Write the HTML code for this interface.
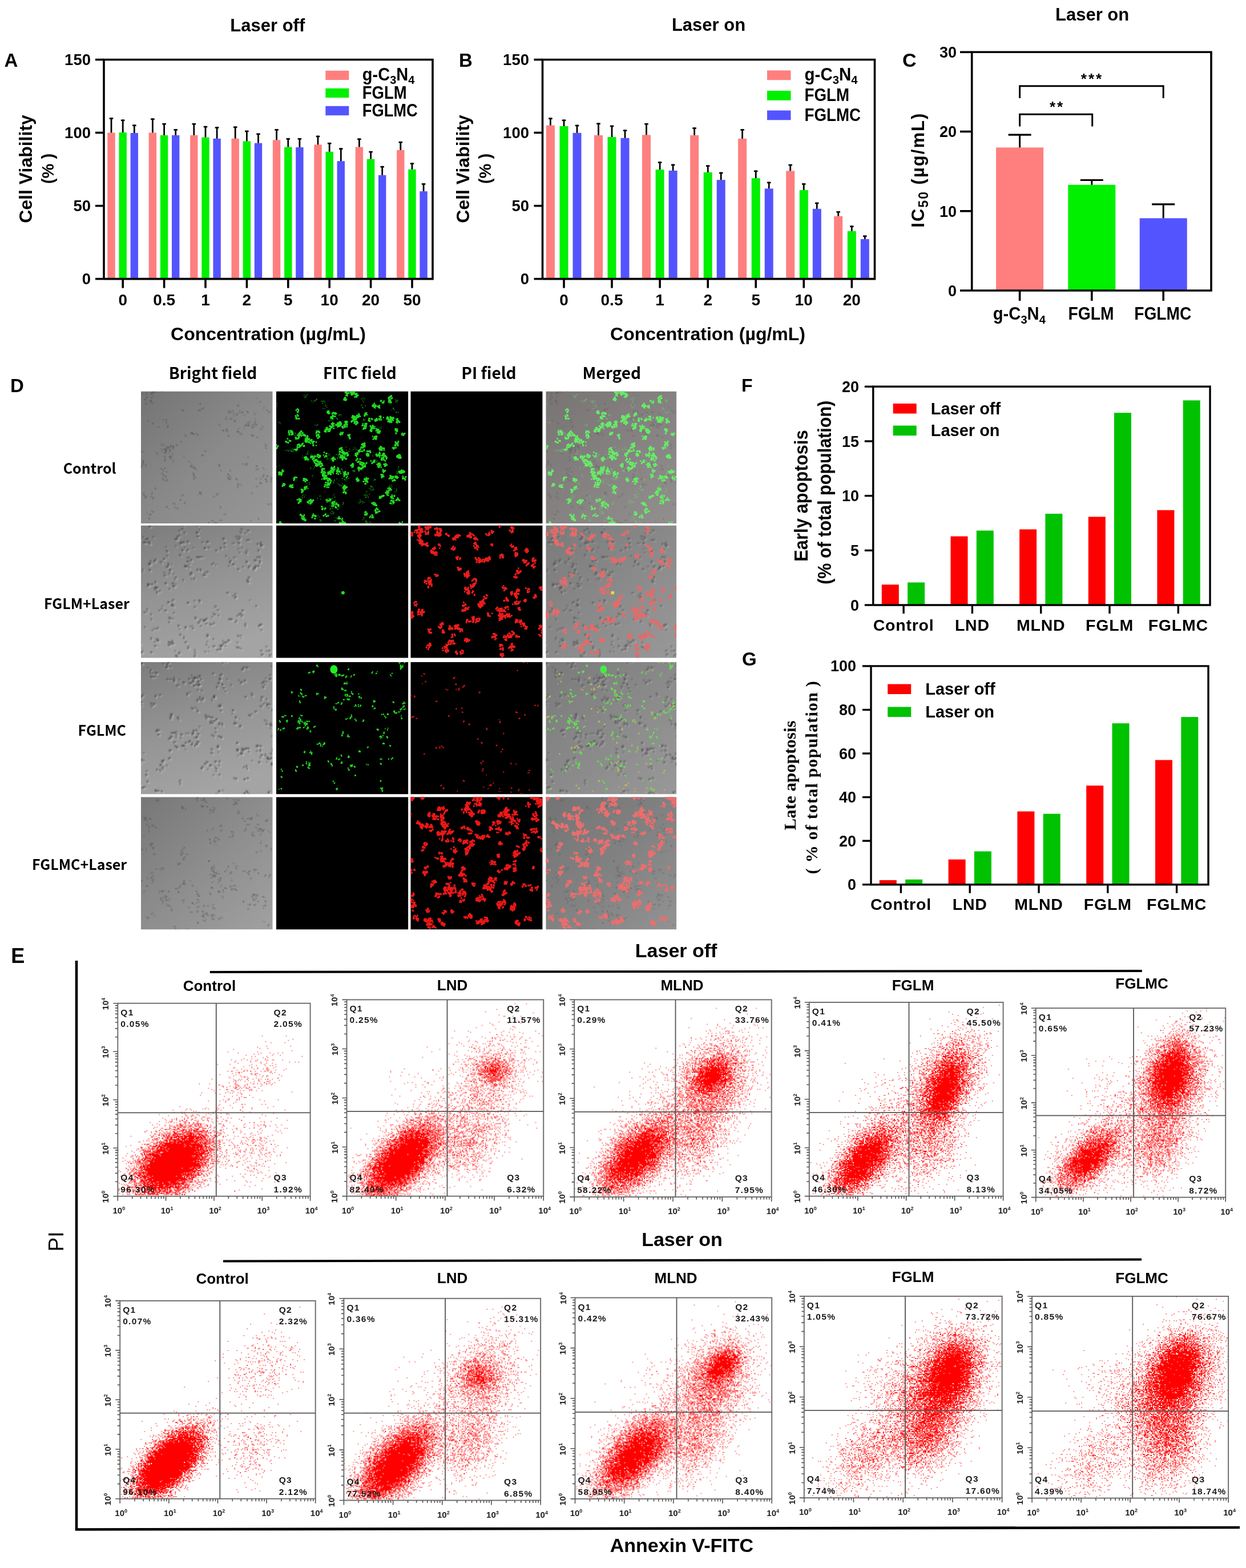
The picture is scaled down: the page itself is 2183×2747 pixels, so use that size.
<!DOCTYPE html><html><head><meta charset="utf-8"><title>Figure</title><style>html,body{margin:0;padding:0;background:#fff}svg{display:block}</style></head><body><svg width="2183" height="2747" viewBox="0 0 2183 2747" font-family="Liberation Sans, Arial, sans-serif" font-weight="bold"><defs><filter id="db" x="-2%" y="-2%" width="104%" height="104%"><feGaussianBlur stdDeviation=".22"/></filter><filter id="b6" x="-5%" y="-5%" width="110%" height="110%"><feGaussianBlur stdDeviation=".6"/></filter><filter id="b10" x="-5%" y="-5%" width="110%" height="110%"><feGaussianBlur stdDeviation="1"/></filter><linearGradient id="bf1" x1="0" y1="0" x2="1" y2="1"><stop offset="0" stop-color="#747474"/><stop offset=".5" stop-color="#8a8a8a"/><stop offset="1" stop-color="#989898"/></linearGradient><linearGradient id="bf2" x1="0" y1="0" x2=".35" y2="1"><stop offset="0" stop-color="#7c7c7c"/><stop offset=".5" stop-color="#939393"/><stop offset="1" stop-color="#a4a4a4"/></linearGradient><linearGradient id="bf4" x1="0" y1="0" x2="1" y2="1"><stop offset="0" stop-color="#777777"/><stop offset=".5" stop-color="#8e8e8e"/><stop offset="1" stop-color="#a2a2a2"/></linearGradient><linearGradient id="mg1" x1="0" y1="0" x2="1" y2="1"><stop offset="0" stop-color="#787474"/><stop offset=".5" stop-color="#868282"/><stop offset="1" stop-color="#949090"/></linearGradient><linearGradient id="mg2" x1="0" y1="0" x2="1" y2="1"><stop offset="0" stop-color="#7a7a7a"/><stop offset=".5" stop-color="#8a8a8a"/><stop offset="1" stop-color="#9a9a9a"/></linearGradient><linearGradient id="mg3" x1="0" y1="0" x2="1" y2="1"><stop offset="0" stop-color="#747474"/><stop offset=".5" stop-color="#828282"/><stop offset="1" stop-color="#949494"/></linearGradient><g id="c1" stroke-linecap="round" fill="none"><path d="M182 62h0M169 70h0M37 50h0M22 0h0M-6 101h0M203 12h0M11 11h0M18 15h0M57 97h0M202 233h0M223 37h0M8 129h0M9 132h0M42 203h0M137 131h0M19 181h0M56 97h0M30 108h0M29 110h0M153 153h0M154 146h0M210 66h0M106 31h0M101 23h0M187 117h0M149 48h0M137 226h0M220 158h0M228 155h0M11 214h0M14 224h0M93 153h0M182 41h0M161 38h0M155 37h0M155 35h0M45 157h0M44 135h0M20 23h0M149 69h0M144 68h0M152 68h0M128 234h0M132 232h0M60 204h0" stroke-width="2"/><path d="M74 33h0M74 34h0M72 33h0M70 191h0M70 190h0M69 191h0M72 184h0M71 183h0M72 182h0M77 194h0M77 197h0M172 71h0M173 75h0M182 60h0M173 75h0M171 65h0M173 65h0M169 68h0M168 70h0M114 105h0M48 61h0M46 63h0M45 53h0M45 49h0M220 96h0M133 180h0M44 105h0M45 104h0M42 109h0M42 109h0M49 107h0M51 105h0M54 116h0M54 114h0M52 114h0M28 -1h0M21 2h0M37 -2h0M37 -2h0M37 -0h0M22 2h0M21 4h0M28 -3h0M89 73h0M98 74h0M99 76h0M91 74h0M90 72h0M78 79h0M2 106h0M1 105h0M-6 107h0M-6 108h0M-9 114h0M105 177h0M104 178h0M103 176h0M104 179h0M103 180h0M100 182h0M103 177h0M103 179h0M223 199h0M229 200h0M209 18h0M202 12h0M124 234h0M124 234h0M126 233h0M126 241h0M125 239h0M131 230h0M130 233h0M10 11h0M9 10h0M6 14h0M18 16h0M18 16h0M3 4h0M56 100h0M71 87h0M45 101h0M43 104h0M44 103h0M52 103h0M52 94h0M53 95h0M53 95h0M55 108h0M55 112h0M55 109h0M204 234h0M202 236h0M206 224h0M193 226h0M192 227h0M221 34h0M215 29h0M215 30h0M216 28h0M229 34h0M226 38h0M222 149h0M222 150h0M220 149h0M208 161h0M184 58h0M180 65h0M181 66h0M187 55h0M186 55h0M188 61h0M185 60h0M186 59h0M197 64h0M8 130h0M49 206h0M49 206h0M46 203h0M45 201h0M137 132h0M138 130h0M136 129h0M20 177h0M20 179h0M26 171h0M19 185h0M195 59h0M201 59h0M203 59h0M199 56h0M41 92h0M41 96h0M56 95h0M56 97h0M156 153h0M153 151h0M153 145h0M156 140h0M157 151h0M158 150h0M211 66h0M188 58h0M190 60h0M104 21h0M108 31h0M100 34h0M102 33h0M104 34h0M88 133h0M88 131h0M89 128h0M89 130h0M88 127h0M90 132h0M92 134h0M200 50h0M200 47h0M9 3h0M10 4h0M18 17h0M17 17h0M139 206h0M139 203h0M139 203h0M185 127h0M186 128h0M186 128h0M179 128h0M204 132h0M202 130h0M204 80h0M196 77h0M194 78h0M8 184h0M8 183h0M5 180h0M6 179h0M23 186h0M22 186h0M5 182h0M7 187h0M155 48h0M161 48h0M148 48h0M150 45h0M164 39h0M166 50h0M165 52h0M129 231h0M132 231h0M141 226h0M21 56h0M20 57h0M177 37h0M172 23h0M83 123h0M78 116h0M215 146h0M216 146h0M205 136h0M213 148h0M214 150h0M215 148h0M1 120h0M4 123h0M-2 127h0M-1 127h0M-2 126h0M1 133h0M3 131h0M1 131h0M4 125h0M5 126h0M228 156h0M230 151h0M219 154h0M219 155h0M228 156h0M20 212h0M14 216h0M15 215h0M11 212h0M14 223h0M14 222h0M20 211h0M92 147h0M94 148h0M94 146h0M92 145h0M92 144h0M94 149h0M95 136h0M95 152h0M40 115h0M52 118h0M178 36h0M179 38h0M180 42h0M187 38h0M187 36h0M171 162h0M169 166h0M175 163h0M176 165h0M160 36h0M155 36h0M158 38h0M154 33h0M157 35h0M169 40h0M167 41h0M42 158h0M40 156h0M41 157h0M47 157h0M39 156h0M39 154h0M38 153h0M47 157h0M44 156h0M47 156h0M42 103h0M38 93h0M44 103h0M44 101h0M42 102h0M40 102h0M48 96h0M50 98h0M52 97h0M49 98h0M205 167h0M210 161h0M212 162h0M195 178h0M203 153h0M202 154h0M201 153h0M45 141h0M37 136h0M36 135h0M42 134h0M40 147h0M42 149h0M38 137h0M17 4h0M19 3h0M21 20h0M21 20h0M21 9h0M19 11h0M150 66h0M150 67h0M153 77h0M155 78h0M144 69h0M142 69h0M127 232h0M123 250h0M119 230h0M117 233h0M118 232h0M57 196h0M59 196h0M64 204h0M65 203h0M65 205h0M57 196h0M60 204h0M58 202h0" stroke-width="2.5"/><path d="M72 32h0M72 32h0M69 190h0M76 196h0M170 72h0M171 71h0M175 75h0M175 73h0M177 76h0M176 75h0M107 113h0M107 112h0M112 105h0M112 104h0M44 56h0M45 54h0M47 60h0M44 50h0M32 62h0M29 63h0M40 50h0M219 100h0M218 99h0M218 96h0M220 100h0M220 94h0M218 92h0M129 185h0M127 184h0M132 180h0M45 102h0M40 107h0M43 108h0M42 108h0M43 106h0M52 115h0M26 -1h0M27 2h0M22 -1h0M21 -1h0M22 -1h0M38 -1h0M23 2h0M26 -4h0M89 74h0M89 73h0M100 77h0M97 74h0M87 74h0M89 73h0M78 78h0M77 76h0M79 78h0M92 75h0M-12 116h0M-3 112h0M-2 107h0M-2 107h0M-4 108h0M106 178h0M106 181h0M104 179h0M223 197h0M225 198h0M228 197h0M209 19h0M125 233h0M125 240h0M131 234h0M8 14h0M11 22h0M10 21h0M2 5h0M57 101h0M57 98h0M45 102h0M62 95h0M62 94h0M52 104h0M51 104h0M53 96h0M51 101h0M49 101h0M203 233h0M200 235h0M203 234h0M204 236h0M221 33h0M226 36h0M224 36h0M210 152h0M210 154h0M209 161h0M186 60h0M183 60h0M189 55h0M188 56h0M189 58h0M195 64h0M-1 128h0M-1 129h0M9 129h0M-5 135h0M-7 138h0M46 203h0M141 138h0M140 139h0M138 130h0M138 128h0M19 179h0M25 171h0M25 169h0M17 184h0M196 58h0M200 56h0M200 53h0M201 54h0M36 103h0M36 101h0M29 110h0M27 107h0M155 154h0M157 154h0M168 153h0M167 152h0M167 154h0M153 145h0M157 138h0M155 147h0M155 149h0M198 59h0M199 59h0M198 62h0M210 67h0M212 61h0M214 63h0M214 63h0M190 53h0M192 54h0M108 30h0M110 29h0M102 33h0M103 32h0M104 32h0M95 134h0M93 133h0M87 131h0M93 133h0M93 132h0M200 41h0M11 4h0M18 19h0M16 17h0M185 130h0M179 127h0M188 116h0M188 115h0M198 78h0M195 76h0M4 179h0M21 189h0M8 186h0M158 49h0M150 49h0M163 43h0M165 52h0M130 232h0M139 226h0M141 226h0M21 56h0M22 57h0M12 52h0M13 51h0M173 34h0M173 37h0M171 26h0M75 114h0M214 134h0M216 137h0M214 135h0M1 127h0M1 130h0M-7 132h0M-7 132h0M4 122h0M-1 128h0M4 125h0M221 159h0M220 158h0M228 154h0M229 153h0M220 158h0M219 154h0M228 155h0M17 216h0M15 223h0M19 209h0M93 154h0M93 144h0M91 143h0M92 152h0M92 148h0M97 137h0M93 148h0M96 151h0M92 148h0M52 117h0M52 114h0M46 99h0M42 122h0M42 119h0M42 115h0M42 114h0M43 115h0M50 116h0M51 117h0M57 121h0M56 124h0M177 37h0M186 35h0M188 37h0M172 164h0M170 164h0M170 162h0M161 34h0M156 36h0M155 37h0M155 37h0M153 37h0M169 40h0M168 42h0M45 149h0M44 151h0M39 153h0M46 155h0M44 105h0M35 93h0M38 95h0M43 101h0M41 101h0M47 98h0M50 98h0M52 97h0M203 166h0M202 167h0M194 179h0M45 141h0M35 136h0M42 135h0M41 148h0M39 146h0M38 146h0M37 144h0M37 143h0M39 139h0M40 138h0M18 4h0M19 20h0M19 11h0M137 60h0M153 79h0M151 71h0M126 249h0M119 231h0M133 231h0M130 230h0M124 227h0M125 226h0M125 227h0M127 227h0M126 227h0M125 226h0M60 198h0M63 206h0M56 197h0M56 197h0" stroke-width="3"/><path d="M75 34h0M74 182h0M170 71h0M108 112h0M109 112h0M47 63h0M134 182h0M136 179h0M44 106h0M20 4h0M19 2h0M21 2h0M26 -5h0M89 73h0M91 74h0M93 76h0M3 106h0M-6 100h0M-3 111h0M103 178h0M128 233h0M11 10h0M8 15h0M18 16h0M8 22h0M56 97h0M70 89h0M63 94h0M206 223h0M222 148h0M189 60h0M194 62h0M195 62h0M-5 139h0M202 58h0M57 97h0M155 154h0M168 155h0M152 150h0M153 153h0M104 22h0M89 132h0M93 135h0M199 38h0M9 6h0M140 202h0M146 216h0M148 215h0M186 126h0M183 128h0M203 131h0M195 78h0M204 81h0M21 187h0M6 183h0M9 185h0M158 47h0M164 53h0M169 25h0M85 123h0M205 137h0M202 137h0M215 149h0M4 128h0M4 122h0M0 133h0M220 157h0M228 159h0M228 151h0M218 154h0M22 211h0M17 216h0M50 114h0M46 99h0M42 121h0M169 168h0M170 168h0M43 103h0M46 97h0M210 160h0M19 5h0M150 67h0M138 58h0M145 69h0M151 69h0M127 233h0" stroke-width="3.5"/></g><g id="c2" stroke-linecap="round" fill="none"><path d="M46 44h0M157 62h0M202 141h0M137 217h0M138 211h0M178 157h0M100 171h0M114 30h0M132 143h0M9 29h0M175 197h0M172 214h0M165 120h0M132 43h0M26 199h0M67 9h0M36 63h0M111 167h0M119 221h0M204 33h0" stroke-width="2"/><path d="M61 103h0M61 91h0M56 106h0M58 106h0M59 95h0M117 193h0M118 194h0M117 191h0M73 43h0M72 42h0M70 53h0M68 51h0M68 52h0M45 44h0M44 38h0M154 57h0M156 64h0M154 71h0M157 63h0M149 54h0M150 53h0M191 131h0M104 55h0M104 55h0M103 57h0M102 56h0M102 56h0M107 55h0M108 55h0M98 55h0M100 56h0M116 204h0M146 23h0M146 32h0M94 92h0M93 95h0M-3 204h0M-2 203h0M162 67h0M171 76h0M134 218h0M129 211h0M129 211h0M69 31h0M61 36h0M142 211h0M140 210h0M140 213h0M140 212h0M140 216h0M81 29h0M81 29h0M77 38h0M77 38h0M226 227h0M227 226h0M217 234h0M225 229h0M130 156h0M135 158h0M136 158h0M178 149h0M179 149h0M148 211h0M153 201h0M154 202h0M144 202h0M11 148h0M11 146h0M9 152h0M99 77h0M99 77h0M104 77h0M36 146h0M38 141h0M101 171h0M102 168h0M103 169h0M96 161h0M116 28h0M111 40h0M113 39h0M129 143h0M131 141h0M136 148h0M134 148h0M53 208h0M56 206h0M15 1h0M16 1h0M19 103h0M25 99h0M27 108h0M26 108h0M26 100h0M25 100h0M25 98h0M12 106h0M172 31h0M163 31h0M161 31h0M171 20h0M174 11h0M169 24h0M168 22h0M171 19h0M171 25h0M172 25h0M87 177h0M90 176h0M92 180h0M97 12h0M99 12h0M101 19h0M98 13h0M189 9h0M178 8h0M179 8h0M-1 223h0M1 223h0M3 220h0M57 105h0M74 95h0M74 96h0M59 106h0M153 118h0M95 221h0M94 218h0M95 221h0M5 30h0M14 31h0M12 30h0M-2 24h0M16 32h0M9 30h0M9 30h0M66 176h0M78 180h0M79 178h0M68 181h0M99 0h0M99 0h0M100 0h0M103 7h0M159 164h0M155 165h0M155 164h0M167 167h0M28 201h0M29 200h0M29 202h0M30 201h0M24 204h0M220 220h0M210 220h0M212 219h0M211 219h0M211 227h0M224 220h0M207 175h0M211 174h0M13 104h0M12 102h0M13 103h0M174 21h0M173 22h0M211 36h0M186 98h0M189 99h0M188 99h0M187 96h0M190 91h0M50 205h0M52 205h0M48 209h0M50 210h0M49 204h0M127 154h0M125 160h0M24 211h0M19 222h0M83 215h0M170 214h0M171 215h0M171 214h0M201 72h0M191 71h0M41 88h0M51 82h0M49 85h0M63 24h0M62 24h0M64 19h0M67 17h0M68 18h0M16 66h0M15 66h0M16 79h0M16 78h0M14 68h0M25 111h0M28 118h0M43 101h0M166 124h0M165 127h0M167 125h0M166 120h0M89 85h0M89 86h0M88 83h0M89 83h0M89 94h0M140 39h0M18 199h0M29 199h0M82 57h0M84 56h0M81 63h0M84 63h0M88 61h0M62 229h0M68 222h0M68 224h0M58 236h0M57 236h0M60 220h0M127 66h0M57 85h0M50 77h0M112 87h0M74 6h0M74 6h0M68 9h0M206 71h0M200 74h0M199 74h0M197 77h0M199 77h0M197 76h0M76 198h0M78 205h0M75 195h0M75 197h0M69 191h0M36 66h0M34 64h0M26 59h0M3 77h0M3 80h0M186 63h0M56 164h0M50 161h0M50 170h0M49 169h0M20 184h0M30 180h0M30 179h0M23 181h0M-4 174h0M-4 172h0M128 171h0M128 172h0M127 172h0M124 174h0M123 173h0M79 72h0M81 71h0M77 72h0M77 70h0M84 74h0M84 75h0M83 73h0M82 72h0M190 25h0M189 26h0M185 26h0M187 25h0M109 167h0M110 167h0M114 172h0M112 167h0M111 167h0M110 165h0M12 24h0M4 20h0M15 29h0M92 39h0M81 44h0M84 135h0M103 131h0M102 131h0M94 143h0M95 142h0M103 134h0M54 138h0M47 135h0M49 134h0M55 132h0M58 142h0M56 141h0M56 140h0M53 69h0M41 58h0M48 70h0M48 71h0M48 67h0M208 55h0M199 62h0M206 45h0M209 62h0M204 55h0M119 213h0M209 34h0M211 30h0M211 30h0M204 33h0M204 32h0M210 34h0M18 155h0M18 156h0M18 164h0M18 165h0M173 47h0M165 56h0M163 56h0M171 41h0M177 39h0" stroke-width="2.5"/><path d="M61 91h0M58 107h0M55 101h0M127 199h0M116 194h0M116 193h0M73 44h0M186 44h0M185 49h0M184 47h0M46 46h0M46 53h0M157 61h0M156 65h0M202 141h0M100 55h0M115 209h0M145 24h0M144 23h0M147 31h0M-1 206h0M-2 208h0M160 68h0M163 69h0M170 77h0M134 218h0M127 212h0M69 32h0M71 29h0M143 209h0M140 211h0M139 217h0M75 29h0M75 31h0M74 29h0M83 28h0M129 156h0M176 159h0M177 158h0M176 157h0M175 154h0M174 154h0M172 156h0M178 149h0M150 204h0M149 205h0M154 201h0M145 206h0M147 205h0M6 152h0M105 79h0M99 78h0M105 78h0M44 149h0M42 149h0M32 149h0M105 165h0M105 176h0M95 162h0M96 163h0M108 29h0M119 39h0M117 29h0M118 29h0M112 40h0M53 206h0M57 207h0M56 208h0M16 2h0M20 103h0M26 108h0M13 105h0M12 104h0M172 31h0M171 30h0M176 13h0M91 180h0M99 19h0M99 13h0M183 13h0M176 6h0M187 9h0M1 222h0M-2 216h0M50 111h0M57 102h0M151 118h0M162 123h0M95 224h0M94 229h0M95 228h0M7 30h0M5 29h0M-3 25h0M16 32h0M78 178h0M66 175h0M97 -3h0M158 164h0M159 165h0M155 164h0M166 169h0M169 158h0M31 202h0M30 201h0M220 212h0M213 225h0M213 226h0M225 219h0M208 175h0M207 176h0M211 183h0M210 174h0M210 173h0M175 193h0M171 194h0M170 193h0M169 205h0M15 103h0M173 22h0M167 19h0M211 36h0M212 35h0M209 32h0M188 99h0M187 95h0M187 95h0M189 91h0M50 209h0M55 204h0M55 202h0M49 205h0M26 211h0M18 222h0M83 215h0M83 212h0M168 213h0M175 216h0M200 74h0M201 71h0M189 72h0M205 71h0M189 74h0M43 87h0M41 83h0M52 77h0M62 24h0M64 21h0M64 20h0M60 24h0M71 31h0M17 66h0M15 78h0M14 68h0M16 68h0M29 110h0M29 109h0M28 110h0M33 114h0M33 115h0M24 109h0M25 112h0M28 117h0M28 115h0M43 101h0M44 102h0M165 126h0M88 83h0M86 86h0M140 40h0M132 44h0M18 197h0M82 63h0M88 61h0M87 59h0M85 67h0M64 230h0M61 228h0M62 228h0M66 224h0M58 235h0M125 68h0M131 69h0M51 79h0M112 83h0M117 82h0M116 81h0M112 87h0M109 87h0M183 172h0M183 173h0M183 176h0M72 6h0M74 -1h0M77 13h0M76 10h0M199 74h0M79 204h0M69 192h0M69 192h0M25 62h0M24 61h0M23 63h0M17 62h0M185 65h0M185 63h0M179 72h0M50 163h0M50 162h0M53 163h0M58 153h0M27 181h0M7 178h0M121 173h0M79 72h0M78 72h0M78 71h0M115 171h0M115 164h0M113 165h0M115 163h0M111 167h0M11 25h0M11 23h0M15 28h0M14 27h0M22 20h0M8 24h0M82 42h0M94 132h0M82 136h0M82 135h0M103 132h0M54 139h0M56 139h0M48 135h0M57 130h0M56 140h0M54 140h0M56 140h0M147 38h0M147 31h0M40 59h0M48 68h0M47 72h0M45 73h0M209 57h0M202 62h0M200 60h0M206 43h0M208 63h0M208 65h0M205 56h0M113 221h0M209 31h0M213 34h0M212 34h0" stroke-width="3"/></g><g id="c3" stroke-linecap="round" fill="none"><path d="M130 183h0M226 75h0M-10 76h0M2 71h0M213 62h0M183 33h0M230 167h0M140 85h0M27 57h0M172 100h0M135 146h0M18 78h0M20 77h0M81 54h0M32 119h0M10 198h0M92 122h0M16 18h0M179 10h0M177 14h0M2 1h0M137 176h0M138 174h0M195 59h0M163 204h0M211 147h0M212 38h0M218 40h0M46 7h0M48 30h0M142 2h0M148 -1h0M105 186h0M130 116h0M130 116h0M178 153h0M49 169h0M98 130h0M101 126h0M231 178h0" stroke-width="2"/><path d="M89 35h0M84 29h0M90 27h0M88 37h0M87 38h0M96 80h0M92 82h0M99 83h0M89 80h0M99 86h0M5 173h0M5 159h0M-1 177h0M138 197h0M137 197h0M138 198h0M127 198h0M136 227h0M144 225h0M132 231h0M122 180h0M124 181h0M201 87h0M202 86h0M200 87h0M209 77h0M211 79h0M211 77h0M231 84h0M169 142h0M209 156h0M212 163h0M210 156h0M210 156h0M-2 73h0M-0 70h0M74 146h0M74 147h0M210 68h0M211 66h0M216 72h0M214 74h0M213 61h0M221 76h0M95 146h0M89 145h0M89 143h0M90 141h0M99 144h0M139 31h0M139 30h0M126 20h0M138 30h0M133 45h0M186 227h0M181 230h0M182 229h0M191 234h0M191 233h0M189 235h0M102 41h0M101 40h0M101 33h0M105 29h0M79 153h0M78 141h0M78 141h0M76 147h0M73 146h0M77 150h0M73 146h0M182 33h0M175 35h0M194 91h0M189 93h0M223 170h0M225 171h0M221 169h0M139 77h0M140 77h0M140 78h0M139 78h0M138 78h0M122 106h0M123 103h0M124 98h0M26 60h0M34 57h0M33 58h0M125 154h0M125 153h0M123 152h0M86 138h0M219 28h0M226 30h0M168 108h0M165 108h0M175 113h0M165 106h0M164 106h0M163 108h0M99 27h0M103 25h0M100 35h0M100 34h0M135 149h0M134 149h0M136 158h0M69 207h0M69 214h0M69 212h0M63 149h0M63 150h0M51 156h0M223 229h0M223 228h0M225 227h0M220 242h0M221 240h0M221 241h0M109 63h0M109 65h0M104 62h0M103 62h0M103 61h0M39 173h0M46 181h0M58 32h0M58 27h0M59 34h0M59 34h0M182 206h0M181 205h0M188 204h0M52 8h0M50 7h0M46 9h0M44 9h0M141 132h0M20 76h0M21 74h0M59 124h0M53 130h0M58 125h0M58 124h0M62 127h0M55 124h0M81 57h0M82 56h0M86 53h0M146 46h0M151 30h0M30 127h0M31 127h0M31 120h0M31 119h0M27 121h0M27 121h0M188 151h0M188 151h0M181 155h0M184 152h0M9 197h0M222 169h0M228 169h0M221 175h0M212 163h0M93 121h0M92 127h0M90 125h0M98 121h0M17 15h0M28 19h0M26 20h0M12 10h0M17 20h0M180 9h0M180 11h0M184 10h0M185 9h0M2 3h0M2 1h0M-4 2h0M160 91h0M162 85h0M166 97h0M125 106h0M125 107h0M132 100h0M133 100h0M127 103h0M130 104h0M141 21h0M132 174h0M128 131h0M33 189h0M39 188h0M37 186h0M28 188h0M194 57h0M196 58h0M184 61h0M94 26h0M94 28h0M93 27h0M89 23h0M96 29h0M101 35h0M100 35h0M227 160h0M232 155h0M163 203h0M166 205h0M202 147h0M203 148h0M205 148h0M215 44h0M214 43h0M65 96h0M67 101h0M67 101h0M207 175h0M46 5h0M48 1h0M68 31h0M64 40h0M63 42h0M66 41h0M52 30h0M51 31h0M51 31h0M235 9h0M229 7h0M150 -1h0M137 -3h0M49 135h0M60 140h0M108 183h0M117 175h0M117 176h0M117 188h0M185 183h0M195 173h0M180 185h0M181 184h0M181 184h0M186 186h0M186 186h0M143 40h0M135 37h0M136 37h0M129 60h0M124 65h0M125 68h0M128 59h0M129 60h0M127 61h0M129 63h0M228 107h0M227 116h0M227 116h0M227 116h0M220 109h0M228 112h0M230 111h0M4 57h0M-3 63h0M-1 64h0M2 60h0M103 65h0M99 66h0M218 164h0M137 110h0M137 107h0M142 109h0M70 133h0M79 125h0M72 127h0M71 127h0M177 151h0M180 155h0M181 152h0M180 154h0M176 161h0M170 153h0M169 153h0M168 155h0M54 93h0M52 99h0M52 92h0M4 219h0M-1 230h0M2 221h0M11 210h0M170 164h0M175 161h0M18 25h0M20 26h0M24 26h0M23 26h0M22 26h0M37 176h0M34 181h0M229 130h0M232 129h0M100 39h0M92 34h0M92 35h0M101 39h0M103 39h0M92 41h0M93 41h0M31 225h0M29 226h0M31 226h0M26 226h0M26 224h0M36 226h0M114 97h0M114 93h0M114 93h0M118 95h0M118 96h0M100 139h0M98 132h0M101 127h0M94 132h0M230 178h0M230 181h0M229 179h0M234 185h0M234 185h0" stroke-width="2.5"/><path d="M91 33h0M85 30h0M92 30h0M85 37h0M90 82h0M100 86h0M2 172h0M1 171h0M2 171h0M-1 174h0M132 191h0M131 186h0M133 187h0M138 226h0M137 226h0M137 227h0M138 227h0M121 182h0M121 181h0M224 80h0M221 73h0M230 84h0M225 74h0M222 74h0M168 142h0M169 141h0M209 154h0M203 156h0M1 75h0M-9 77h0M-10 76h0M0 70h0M75 147h0M72 147h0M220 65h0M211 62h0M222 75h0M221 76h0M94 147h0M90 144h0M89 144h0M97 144h0M98 143h0M138 31h0M127 20h0M139 30h0M138 28h0M133 43h0M187 229h0M189 230h0M186 227h0M185 226h0M182 230h0M103 39h0M99 49h0M79 142h0M182 32h0M172 32h0M175 37h0M177 35h0M192 95h0M190 93h0M223 170h0M221 168h0M232 173h0M139 75h0M136 77h0M138 77h0M140 85h0M122 107h0M122 105h0M122 97h0M121 96h0M126 97h0M25 60h0M125 160h0M123 159h0M84 139h0M86 139h0M84 140h0M85 139h0M220 35h0M227 29h0M225 30h0M226 23h0M165 108h0M174 111h0M173 113h0M99 28h0M103 25h0M102 24h0M106 30h0M104 26h0M134 149h0M136 149h0M135 147h0M220 104h0M217 102h0M68 209h0M64 150h0M62 148h0M60 147h0M62 148h0M52 154h0M50 155h0M224 229h0M108 64h0M106 67h0M106 66h0M107 67h0M40 172h0M56 31h0M59 30h0M58 34h0M182 205h0M187 203h0M139 131h0M136 130h0M141 133h0M140 131h0M18 73h0M18 72h0M24 74h0M23 73h0M59 124h0M52 131h0M59 124h0M62 127h0M54 124h0M81 57h0M158 40h0M145 45h0M148 51h0M31 127h0M29 121h0M27 121h0M28 119h0M189 152h0M184 152h0M184 151h0M185 152h0M9 198h0M10 191h0M-8 198h0M-8 198h0M-7 198h0M222 166h0M223 168h0M228 168h0M226 170h0M221 167h0M92 120h0M90 126h0M97 119h0M92 124h0M17 13h0M17 14h0M27 19h0M21 19h0M187 10h0M178 13h0M177 13h0M1 3h0M161 85h0M161 84h0M167 98h0M166 96h0M126 108h0M132 100h0M128 103h0M138 108h0M138 108h0M138 108h0M139 23h0M141 23h0M141 23h0M130 174h0M130 175h0M138 174h0M137 181h0M131 123h0M127 129h0M124 128h0M34 191h0M38 184h0M39 184h0M28 189h0M194 55h0M183 61h0M95 27h0M94 29h0M101 34h0M235 154h0M232 152h0M234 155h0M229 161h0M231 156h0M231 156h0M231 153h0M234 155h0M232 155h0M167 204h0M167 205h0M204 146h0M210 148h0M209 147h0M204 147h0M205 146h0M215 35h0M216 34h0M213 36h0M216 39h0M214 44h0M66 99h0M64 98h0M208 176h0M207 176h0M209 167h0M45 9h0M46 4h0M48 0h0M49 1h0M39 3h0M74 35h0M75 37h0M76 36h0M46 30h0M233 8h0M235 8h0M235 14h0M234 14h0M144 0h0M150 -3h0M137 -3h0M138 -4h0M51 134h0M54 132h0M50 134h0M58 141h0M113 179h0M112 178h0M113 178h0M106 187h0M107 186h0M108 184h0M115 175h0M185 182h0M186 187h0M143 40h0M142 39h0M137 37h0M129 59h0M129 61h0M128 62h0M227 110h0M226 110h0M226 109h0M229 110h0M221 108h0M-4 52h0M-5 53h0M-3 63h0M2 60h0M1 60h0M99 66h0M99 68h0M212 163h0M211 163h0M218 162h0M131 116h0M142 108h0M143 111h0M83 125h0M62 131h0M71 127h0M62 123h0M179 153h0M170 156h0M177 159h0M170 154h0M169 154h0M169 153h0M54 95h0M53 95h0M51 97h0M52 99h0M53 92h0M54 91h0M4 220h0M7 219h0M-1 213h0M12 209h0M178 161h0M177 156h0M177 154h0M189 157h0M175 160h0M174 160h0M18 26h0M37 173h0M51 168h0M49 169h0M38 175h0M34 180h0M35 181h0M234 138h0M233 139h0M100 41h0M97 39h0M92 33h0M103 40h0M107 50h0M94 42h0M25 225h0M27 226h0M37 227h0M103 113h0M115 99h0M113 94h0M116 96h0M97 133h0M101 140h0M99 140h0M98 131h0M100 125h0M231 177h0M229 179h0M230 179h0M229 178h0M234 186h0" stroke-width="3"/></g><g id="c4" stroke-linecap="round" fill="none"><path d="M160 60h0M210 95h0M160 156h0M159 164h0M15 61h0M212 57h0M190 130h0M51 190h0M205 48h0M124 189h0M117 17h0M109 16h0M48 176h0M6 38h0M6 38h0M19 205h0M158 143h0M226 135h0M-4 59h0M67 235h0M65 166h0M66 165h0M108 199h0M122 159h0M228 90h0M152 3h0M167 9h0" stroke-width="2"/><path d="M132 85h0M128 83h0M122 81h0M161 68h0M159 61h0M211 77h0M209 80h0M210 80h0M219 87h0M218 85h0M75 109h0M72 97h0M73 99h0M70 97h0M78 105h0M82 101h0M210 94h0M210 95h0M202 97h0M204 96h0M36 176h0M37 176h0M36 177h0M36 165h0M38 183h0M44 181h0M165 155h0M165 155h0M157 158h0M156 158h0M157 155h0M165 161h0M159 161h0M166 12h0M165 5h0M171 6h0M170 5h0M14 54h0M20 51h0M21 49h0M15 61h0M14 61h0M27 53h0M25 52h0M219 42h0M220 43h0M220 43h0M220 43h0M221 40h0M222 39h0M100 173h0M99 180h0M101 180h0M99 180h0M98 165h0M102 173h0M133 135h0M136 134h0M133 134h0M136 149h0M135 152h0M141 155h0M140 157h0M141 154h0M213 57h0M214 59h0M202 52h0M124 142h0M129 140h0M125 129h0M130 78h0M131 78h0M130 70h0M132 72h0M132 71h0M128 75h0M137 75h0M71 16h0M189 130h0M183 131h0M182 129h0M180 130h0M187 134h0M189 133h0M190 135h0M197 178h0M197 177h0M198 189h0M200 190h0M195 175h0M198 172h0M198 170h0M44 191h0M38 185h0M38 187h0M39 184h0M47 191h0M47 191h0M48 191h0M53 198h0M55 199h0M22 88h0M18 86h0M21 88h0M16 83h0M20 82h0M22 99h0M233 215h0M217 219h0M214 218h0M225 224h0M236 206h0M203 30h0M31 7h0M29 6h0M26 6h0M28 8h0M65 119h0M65 116h0M65 118h0M136 166h0M137 167h0M136 165h0M122 169h0M136 165h0M137 165h0M78 152h0M76 147h0M75 150h0M75 152h0M128 194h0M118 190h0M118 192h0M116 191h0M116 17h0M127 27h0M127 26h0M105 6h0M107 17h0M123 20h0M45 175h0M40 177h0M43 177h0M150 128h0M148 131h0M139 142h0M139 143h0M153 121h0M153 122h0M8 37h0M9 48h0M17 38h0M5 38h0M186 49h0M191 37h0M187 38h0M182 60h0M183 58h0M194 39h0M191 48h0M117 58h0M126 57h0M99 220h0M116 207h0M173 26h0M170 24h0M172 28h0M179 34h0M177 37h0M169 28h0M139 58h0M140 59h0M139 50h0M142 50h0M140 60h0M100 169h0M102 191h0M90 185h0M111 189h0M109 191h0M20 202h0M11 211h0M13 211h0M24 209h0M25 209h0M111 209h0M111 212h0M111 212h0M114 215h0M113 218h0M109 206h0M109 204h0M112 217h0M144 164h0M144 174h0M142 175h0M144 177h0M147 159h0M160 146h0M158 147h0M219 137h0M227 136h0M224 141h0M198 62h0M121 23h0M129 22h0M120 29h0M-2 56h0M-20 48h0M5 67h0M5 68h0M-12 57h0M-12 55h0M191 190h0M190 197h0M180 185h0M70 234h0M60 231h0M66 234h0M68 237h0M67 235h0M58 227h0M128 119h0M128 119h0M126 124h0M119 113h0M11 157h0M12 156h0M10 155h0M-1 146h0M67 157h0M67 159h0M69 156h0M68 156h0M70 155h0M61 160h0M63 161h0M66 167h0M2 92h0M9 94h0M-5 87h0M-5 84h0M-4 89h0M182 42h0M184 57h0M192 39h0M195 37h0M138 215h0M137 212h0M118 208h0M120 207h0M124 213h0M102 -2h0M100 0h0M111 3h0M99 2h0M113 6h0M114 9h0M116 9h0M105 -9h0M104 -7h0M102 -8h0M126 208h0M125 207h0M124 207h0M116 205h0M108 201h0M124 208h0M128 209h0M129 209h0M127 206h0M127 207h0M129 206h0M130 196h0M219 190h0M216 190h0M218 190h0M218 184h0M206 183h0M206 183h0M206 183h0M219 188h0M219 189h0M215 195h0M214 195h0M128 121h0M125 122h0M128 129h0M126 124h0M20 132h0M19 133h0M22 134h0M38 124h0M202 172h0M205 171h0M202 173h0M200 174h0M126 160h0M125 159h0M168 126h0M169 121h0M167 121h0M83 193h0M72 181h0M75 181h0M74 185h0M87 202h0M90 202h0M208 55h0M210 57h0M207 60h0M130 139h0M127 139h0M129 138h0M124 150h0M129 139h0M134 130h0M76 89h0M71 102h0M69 101h0M69 100h0M203 127h0M193 142h0M197 128h0M199 131h0M229 90h0M241 86h0M86 146h0M87 147h0M165 11h0M166 10h0M166 9h0M17 142h0M17 134h0M18 132h0M23 145h0M22 146h0M20 150h0" stroke-width="2.5"/><path d="M120 74h0M121 81h0M122 79h0M161 68h0M161 70h0M159 61h0M155 70h0M210 81h0M220 86h0M75 110h0M73 98h0M79 100h0M202 98h0M202 98h0M32 168h0M32 165h0M35 180h0M37 166h0M37 165h0M36 164h0M37 179h0M38 182h0M46 180h0M157 157h0M162 156h0M167 163h0M158 162h0M160 161h0M166 13h0M163 14h0M166 5h0M162 5h0M171 5h0M172 6h0M13 51h0M15 53h0M22 50h0M19 50h0M13 58h0M26 54h0M218 42h0M220 41h0M222 42h0M102 174h0M101 173h0M99 180h0M101 174h0M136 145h0M137 146h0M137 135h0M223 59h0M226 62h0M214 59h0M201 53h0M201 53h0M123 141h0M129 133h0M131 134h0M128 133h0M130 138h0M130 78h0M131 78h0M130 72h0M73 17h0M79 20h0M78 22h0M74 19h0M72 19h0M190 130h0M191 130h0M179 130h0M189 136h0M198 180h0M202 178h0M214 175h0M217 176h0M201 188h0M198 189h0M195 173h0M195 176h0M195 174h0M196 170h0M46 188h0M44 180h0M43 180h0M46 181h0M49 189h0M54 196h0M54 199h0M22 90h0M18 84h0M20 82h0M18 82h0M23 101h0M23 100h0M25 100h0M232 213h0M233 215h0M223 226h0M236 206h0M235 207h0M204 33h0M206 32h0M204 48h0M207 48h0M27 5h0M69 117h0M66 118h0M69 116h0M77 152h0M77 153h0M75 147h0M75 148h0M76 147h0M75 152h0M73 153h0M74 152h0M72 153h0M127 189h0M125 193h0M116 17h0M126 25h0M127 25h0M106 15h0M106 4h0M109 6h0M107 17h0M124 23h0M45 174h0M43 173h0M44 176h0M51 178h0M147 130h0M140 142h0M8 40h0M9 36h0M9 41h0M11 41h0M11 48h0M17 38h0M7 37h0M5 34h0M186 48h0M191 39h0M188 38h0M182 58h0M194 39h0M189 49h0M116 59h0M127 54h0M124 57h0M100 221h0M114 204h0M179 38h0M170 29h0M140 52h0M139 50h0M142 58h0M102 184h0M100 170h0M101 193h0M94 188h0M91 187h0M111 192h0M18 205h0M22 205h0M13 213h0M109 208h0M110 209h0M99 199h0M98 201h0M107 208h0M109 216h0M110 217h0M110 217h0M145 167h0M149 160h0M137 166h0M139 166h0M217 139h0M217 137h0M219 137h0M225 139h0M225 140h0M205 133h0M199 68h0M197 68h0M195 62h0M196 66h0M195 67h0M196 68h0M121 23h0M128 22h0M127 18h0M122 27h0M-2 58h0M-20 49h0M188 189h0M191 188h0M188 195h0M188 195h0M187 196h0M180 183h0M70 235h0M69 234h0M83 232h0M80 232h0M81 232h0M60 226h0M59 228h0M60 228h0M129 124h0M120 112h0M119 113h0M10 156h0M5 166h0M6 165h0M-1 146h0M2 147h0M69 158h0M61 161h0M64 160h0M1 90h0M3 93h0M9 90h0M-5 85h0M-4 85h0M-4 91h0M-3 91h0M182 42h0M184 55h0M184 55h0M194 37h0M137 214h0M136 213h0M140 212h0M128 215h0M127 213h0M99 1h0M99 6h0M98 6h0M110 4h0M111 3h0M97 3h0M97 3h0M98 4h0M113 8h0M104 -9h0M116 203h0M114 203h0M112 205h0M108 200h0M109 201h0M128 195h0M127 195h0M217 191h0M219 183h0M205 183h0M214 191h0M127 126h0M128 131h0M123 125h0M124 126h0M124 126h0M49 166h0M39 165h0M40 164h0M26 126h0M27 126h0M36 128h0M33 127h0M36 127h0M34 125h0M39 126h0M39 126h0M203 174h0M198 172h0M125 159h0M166 125h0M159 132h0M158 133h0M157 133h0M162 116h0M163 117h0M167 122h0M157 132h0M158 131h0M85 194h0M87 201h0M209 56h0M208 58h0M207 58h0M209 57h0M207 57h0M210 64h0M209 67h0M204 55h0M204 59h0M128 139h0M127 137h0M126 138h0M126 149h0M129 140h0M131 133h0M73 93h0M76 89h0M74 90h0M74 90h0M201 127h0M192 143h0M193 143h0M193 143h0M198 127h0M90 154h0M165 9h0M168 12h0M151 3h0M151 2h0M169 10h0M166 10h0M20 145h0M18 141h0M20 142h0M12 143h0M11 142h0M20 146h0M21 149h0M21 139h0M21 138h0" stroke-width="3"/><path d="M121 75h0M161 66h0M162 62h0M157 70h0M221 85h0M75 108h0M75 109h0M76 106h0M34 178h0M165 155h0M162 162h0M164 161h0M167 163h0M162 13h0M97 165h0M139 147h0M216 57h0M212 60h0M213 60h0M124 136h0M121 136h0M132 133h0M131 138h0M125 129h0M128 77h0M128 78h0M136 75h0M135 72h0M72 19h0M73 18h0M72 18h0M73 21h0M187 132h0M197 181h0M200 180h0M214 175h0M197 171h0M51 192h0M21 90h0M17 84h0M19 81h0M223 224h0M30 5h0M67 117h0M136 166h0M121 169h0M122 171h0M75 151h0M110 16h0M110 6h0M107 16h0M41 174h0M49 181h0M139 144h0M153 123h0M8 38h0M8 39h0M8 38h0M15 38h0M100 220h0M115 206h0M172 26h0M98 185h0M98 170h0M98 193h0M90 186h0M11 211h0M109 209h0M100 201h0M108 209h0M144 163h0M148 160h0M149 160h0M226 137h0M206 134h0M195 66h0M129 19h0M-2 56h0M-19 50h0M-11 55h0M191 188h0M179 183h0M67 233h0M61 232h0M124 124h0M119 112h0M1 146h0M66 167h0M-4 91h0M193 36h0M142 211h0M126 214h0M101 -2h0M111 4h0M125 206h0M124 209h0M218 182h0M127 131h0M49 165h0M38 166h0M39 124h0M204 172h0M200 171h0M124 159h0M157 134h0M75 181h0M210 56h0M128 137h0M127 138h0M71 94h0M71 101h0M200 128h0M228 93h0M241 84h0M241 84h0M91 156h0" stroke-width="3.5"/></g><g id="c5" stroke-linecap="round" fill="none"><path d="M83 112h0M158 151h0M97 64h0M223 139h0M203 185h0M178 211h0M180 211h0M93 143h0M95 146h0M96 144h0M100 144h0M93 141h0M96 146h0M151 99h0M150 94h0M155 94h0M153 93h0M75 81h0M31 154h0M136 45h0M139 45h0M194 46h0M200 49h0M204 48h0M202 50h0M209 96h0M206 99h0M117 232h0M115 225h0M223 77h0M212 66h0M120 60h0M65 122h0M84 148h0M51 84h0M53 83h0M173 65h0M173 62h0M171 65h0M133 130h0M135 132h0M37 94h0M36 101h0M35 104h0M54 87h0M117 170h0M122 170h0M-1 100h0M113 72h0M23 87h0M23 86h0M126 110h0M122 108h0M87 215h0M86 216h0M81 206h0M85 207h0M176 48h0M176 50h0M214 189h0M205 197h0M202 197h0M121 57h0M121 58h0M119 60h0M182 71h0M89 167h0M94 153h0M125 149h0M120 113h0M195 181h0M194 174h0M199 171h0M188 18h0M184 16h0M189 17h0M198 20h0M156 132h0M156 129h0M178 131h0M38 37h0M38 48h0M35 45h0M65 114h0M7 142h0M199 152h0M186 150h0M57 196h0M63 192h0M62 192h0M169 25h0M54 120h0M53 118h0M119 231h0M153 65h0M157 65h0M146 43h0M146 43h0M75 128h0M39 82h0M37 77h0M122 7h0M125 8h0M132 52h0M138 51h0M137 53h0M132 54h0M11 138h0M145 156h0M188 46h0M85 140h0M95 67h0M103 198h0M152 99h0M89 194h0M88 191h0M98 201h0M98 195h0M226 153h0M53 88h0M52 87h0M64 89h0M148 128h0M103 136h0M80 154h0M87 151h0M120 147h0M113 144h0M107 142h0M101 140h0M109 58h0M109 60h0M175 199h0M174 200h0M174 196h0M47 91h0M52 79h0M172 80h0M175 83h0M169 79h0M25 164h0M24 166h0M27 166h0M213 48h0M142 124h0M48 225h0M42 217h0M44 217h0M49 216h0M215 117h0M22 69h0M22 70h0M28 71h0M187 100h0M188 120h0M187 117h0M184 119h0M194 117h0M193 119h0M162 112h0M135 5h0M134 0h0M181 184h0M146 134h0M149 137h0M70 95h0M66 88h0M47 73h0M49 78h0M50 76h0M49 78h0M47 76h0M123 118h0M123 118h0M91 39h0M90 35h0" stroke-width="2.5"/><path d="M88 113h0M84 107h0M85 115h0M88 114h0M157 162h0M157 156h0M158 153h0M156 154h0M101 65h0M98 63h0M220 138h0M218 142h0M225 141h0M220 143h0M223 142h0M221 141h0M222 142h0M202 187h0M203 182h0M207 184h0M177 212h0M93 144h0M91 144h0M94 144h0M94 143h0M151 105h0M148 101h0M154 104h0M149 105h0M148 101h0M154 102h0M150 93h0M75 79h0M76 79h0M71 79h0M179 28h0M180 26h0M181 29h0M181 25h0M179 26h0M178 26h0M181 28h0M173 29h0M172 26h0M36 151h0M32 154h0M31 156h0M31 153h0M31 152h0M136 44h0M14 164h0M12 163h0M14 165h0M141 46h0M140 47h0M159 41h0M205 51h0M202 50h0M202 46h0M203 49h0M204 47h0M197 49h0M195 45h0M205 46h0M204 47h0M200 48h0M206 47h0M196 53h0M197 50h0M198 52h0M204 99h0M207 99h0M206 100h0M208 95h0M206 101h0M210 99h0M114 230h0M115 231h0M116 227h0M111 230h0M110 220h0M109 223h0M110 221h0M116 223h0M223 77h0M220 76h0M210 73h0M210 74h0M119 59h0M120 63h0M116 62h0M113 56h0M112 56h0M113 54h0M112 54h0M72 122h0M69 126h0M71 122h0M73 123h0M66 122h0M67 125h0M71 122h0M66 122h0M46 176h0M47 173h0M47 175h0M45 176h0M45 172h0M44 172h0M50 172h0M50 169h0M51 170h0M84 154h0M89 153h0M87 153h0M84 143h0M84 146h0M81 146h0M80 142h0M83 141h0M83 141h0M79 142h0M53 86h0M53 86h0M169 63h0M170 65h0M135 128h0M134 128h0M133 133h0M135 130h0M41 97h0M37 97h0M37 102h0M37 99h0M35 102h0M57 84h0M55 78h0M52 83h0M58 83h0M55 82h0M117 169h0M121 169h0M120 165h0M121 166h0M119 167h0M124 168h0M115 99h0M111 102h0M111 101h0M0 94h0M2 98h0M217 143h0M219 143h0M219 143h0M218 140h0M113 76h0M115 73h0M115 74h0M116 75h0M117 72h0M116 74h0M20 83h0M65 215h0M65 218h0M104 38h0M100 38h0M98 39h0M100 37h0M104 40h0M96 47h0M100 44h0M100 44h0M96 46h0M99 42h0M98 47h0M124 108h0M124 109h0M125 111h0M121 108h0M120 110h0M118 106h0M117 107h0M202 8h0M201 13h0M201 8h0M80 206h0M82 205h0M81 207h0M86 205h0M163 52h0M167 48h0M173 50h0M173 51h0M174 52h0M174 50h0M144 104h0M146 106h0M146 103h0M139 109h0M141 114h0M143 110h0M139 112h0M176 113h0M175 111h0M181 115h0M180 112h0M182 112h0M176 110h0M178 113h0M213 187h0M213 188h0M210 191h0M206 194h0M204 192h0M201 192h0M206 192h0M202 191h0M204 194h0M48 153h0M49 153h0M53 154h0M53 155h0M50 155h0M101 116h0M101 117h0M99 120h0M101 118h0M100 120h0M115 107h0M120 59h0M124 62h0M124 58h0M124 55h0M121 53h0M122 58h0M180 71h0M177 72h0M180 71h0M181 73h0M180 72h0M179 71h0M180 68h0M175 69h0M179 71h0M182 70h0M179 67h0M92 168h0M89 168h0M88 164h0M93 162h0M90 161h0M91 159h0M92 156h0M95 155h0M126 145h0M120 144h0M123 151h0M119 149h0M121 143h0M121 146h0M113 113h0M114 115h0M117 119h0M117 116h0M197 178h0M195 177h0M194 181h0M196 170h0M196 176h0M197 174h0M201 172h0M201 172h0M186 20h0M183 17h0M199 17h0M198 14h0M197 18h0M200 16h0M201 20h0M200 17h0M156 132h0M152 125h0M154 126h0M155 131h0M139 5h0M141 10h0M141 9h0M138 4h0M139 6h0M132 -3h0M132 0h0M130 1h0M179 126h0M181 130h0M181 126h0M180 126h0M182 129h0M39 34h0M37 31h0M39 32h0M35 33h0M38 36h0M37 36h0M36 48h0M37 41h0M35 48h0M34 43h0M38 43h0M74 116h0M74 111h0M75 112h0M72 114h0M76 115h0M72 113h0M77 114h0M64 118h0M64 115h0M7 145h0M5 146h0M9 147h0M10 145h0M202 152h0M204 152h0M203 153h0M202 149h0M198 153h0M70 73h0M72 76h0M75 72h0M76 72h0M187 146h0M188 141h0M187 137h0M190 140h0M188 139h0M191 139h0M188 142h0M187 140h0M60 192h0M61 190h0M60 190h0M64 191h0M174 24h0M172 21h0M174 26h0M170 26h0M171 26h0M56 119h0M52 118h0M51 120h0M121 230h0M121 231h0M117 232h0M115 233h0M122 234h0M116 231h0M154 60h0M152 57h0M155 61h0M155 64h0M157 64h0M156 65h0M142 46h0M147 44h0M142 42h0M145 43h0M141 43h0M210 91h0M209 93h0M213 92h0M213 93h0M190 131h0M194 129h0M191 131h0M122 177h0M120 176h0M119 173h0M71 127h0M72 127h0M73 130h0M69 130h0M71 131h0M78 123h0M75 123h0M39 78h0M35 81h0M38 83h0M34 81h0M40 78h0M124 1h0M124 4h0M121 2h0M122 2h0M125 4h0M121 14h0M123 14h0M122 16h0M90 64h0M86 67h0M91 70h0M93 68h0M137 55h0M143 55h0M137 56h0M140 57h0M142 56h0M136 49h0M129 83h0M128 76h0M129 76h0M128 80h0M128 77h0M10 142h0M8 143h0M5 143h0M11 138h0M143 157h0M144 157h0M142 152h0M143 154h0M184 50h0M181 44h0M180 48h0M181 50h0M80 140h0M81 138h0M80 138h0M80 136h0M81 139h0M81 136h0M79 126h0M80 129h0M78 126h0M77 131h0M93 67h0M94 69h0M97 57h0M99 55h0M97 62h0M101 61h0M105 204h0M106 196h0M109 200h0M104 202h0M155 97h0M152 95h0M154 96h0M188 113h0M191 114h0M190 112h0M187 111h0M179 111h0M185 113h0M182 109h0M181 107h0M88 190h0M94 189h0M90 191h0M99 195h0M99 194h0M210 149h0M211 150h0M222 151h0M222 149h0M225 153h0M222 149h0M53 87h0M52 89h0M56 89h0M62 86h0M60 91h0M62 88h0M60 86h0M59 86h0M152 128h0M150 125h0M152 125h0M148 124h0M171 122h0M166 122h0M184 133h0M182 129h0M182 129h0M179 133h0M183 129h0M107 138h0M109 136h0M109 137h0M108 134h0M108 140h0M97 136h0M96 135h0M98 134h0M97 133h0M83 152h0M86 151h0M86 152h0M86 147h0M86 148h0M8 230h0M7 229h0M6 230h0M9 232h0M10 232h0M123 146h0M122 144h0M121 146h0M119 143h0M106 144h0M106 140h0M109 145h0M111 141h0M99 136h0M98 139h0M111 58h0M109 61h0M112 60h0M166 66h0M167 66h0M166 67h0M176 200h0M175 200h0M175 199h0M171 195h0M170 198h0M170 221h0M169 218h0M165 219h0M164 221h0M157 212h0M156 216h0M157 211h0M45 94h0M49 95h0M45 93h0M49 95h0M52 84h0M55 83h0M172 82h0M175 84h0M170 84h0M29 164h0M27 165h0M24 167h0M25 166h0M215 53h0M140 121h0M46 224h0M50 225h0M45 222h0M49 218h0M214 114h0M215 111h0M217 112h0M216 115h0M26 72h0M23 74h0M25 69h0M29 72h0M28 72h0M28 74h0M93 164h0M90 164h0M216 230h0M221 229h0M218 232h0M186 100h0M184 98h0M184 102h0M189 103h0M185 102h0M182 102h0M183 98h0M191 122h0M185 118h0M185 120h0M189 120h0M189 113h0M159 105h0M162 113h0M160 110h0M161 111h0M158 110h0M160 113h0M162 110h0M133 6h0M137 1h0M134 3h0M134 3h0M182 185h0M186 184h0M183 187h0M181 187h0M37 190h0M39 196h0M145 133h0M146 135h0M146 134h0M148 135h0M152 133h0M148 136h0M145 139h0M146 136h0M65 94h0M70 89h0M65 89h0M41 77h0M41 74h0M39 75h0M47 77h0M49 76h0M47 76h0M123 118h0M120 117h0M122 119h0M124 113h0M118 115h0M114 112h0M119 116h0M116 114h0M92 39h0M93 38h0M93 38h0M91 35h0" stroke-width="3"/><path d="M88 109h0M87 113h0M157 158h0M153 158h0M156 162h0M160 159h0M161 153h0M156 155h0M158 153h0M159 156h0M96 64h0M98 58h0M98 62h0M94 61h0M96 62h0M219 142h0M220 139h0M222 140h0M217 141h0M218 141h0M217 140h0M223 140h0M221 142h0M205 188h0M201 185h0M207 183h0M174 210h0M181 210h0M176 212h0M176 205h0M178 207h0M91 145h0M95 144h0M94 142h0M93 143h0M91 142h0M99 142h0M95 140h0M96 139h0M97 141h0M155 91h0M151 93h0M73 82h0M75 79h0M169 26h0M171 24h0M169 26h0M171 26h0M137 44h0M137 46h0M133 46h0M134 44h0M134 43h0M14 164h0M11 166h0M13 162h0M15 163h0M140 49h0M138 48h0M136 47h0M135 49h0M155 43h0M155 42h0M157 39h0M156 39h0M158 38h0M156 41h0M199 50h0M202 49h0M200 46h0M194 48h0M200 45h0M196 46h0M203 50h0M204 48h0M202 54h0M201 52h0M197 51h0M199 54h0M207 99h0M113 232h0M118 229h0M117 230h0M109 223h0M111 223h0M112 223h0M222 75h0M221 76h0M221 74h0M223 76h0M225 74h0M209 66h0M212 70h0M209 68h0M212 67h0M210 69h0M117 64h0M110 56h0M111 54h0M114 57h0M68 122h0M74 124h0M71 120h0M71 122h0M68 120h0M72 123h0M46 173h0M45 177h0M45 173h0M46 174h0M50 168h0M53 169h0M53 167h0M50 170h0M88 148h0M85 153h0M82 144h0M86 143h0M55 86h0M55 86h0M53 83h0M51 87h0M167 66h0M170 63h0M169 60h0M170 61h0M167 65h0M165 61h0M169 62h0M169 64h0M134 127h0M133 130h0M131 130h0M42 95h0M38 94h0M40 93h0M40 98h0M41 94h0M33 102h0M55 85h0M119 166h0M123 168h0M120 171h0M118 168h0M119 168h0M122 168h0M114 100h0M115 103h0M116 103h0M3 96h0M1 100h0M218 142h0M216 141h0M219 143h0M217 143h0M215 141h0M112 75h0M113 76h0M113 75h0M18 89h0M25 87h0M17 88h0M21 90h0M68 223h0M63 221h0M64 218h0M69 218h0M67 218h0M69 219h0M104 39h0M103 38h0M105 39h0M100 43h0M102 39h0M103 44h0M99 44h0M99 48h0M96 45h0M120 108h0M126 112h0M120 109h0M120 110h0M121 110h0M118 106h0M118 107h0M117 108h0M118 109h0M119 110h0M199 10h0M201 9h0M198 11h0M203 12h0M197 12h0M86 216h0M91 218h0M83 218h0M88 219h0M80 202h0M86 205h0M164 52h0M168 49h0M162 51h0M176 48h0M177 50h0M176 50h0M176 51h0M145 106h0M146 105h0M146 104h0M143 109h0M139 112h0M140 112h0M142 108h0M141 111h0M179 112h0M211 190h0M213 190h0M216 191h0M211 190h0M200 196h0M206 195h0M48 156h0M51 154h0M51 158h0M54 156h0M49 153h0M100 116h0M98 118h0M99 121h0M103 119h0M100 122h0M112 106h0M111 106h0M117 106h0M111 110h0M117 109h0M120 61h0M124 59h0M121 62h0M121 54h0M122 53h0M123 55h0M124 53h0M122 55h0M124 54h0M178 71h0M179 69h0M179 73h0M177 68h0M176 66h0M86 164h0M85 167h0M87 160h0M93 155h0M90 156h0M92 153h0M96 157h0M92 153h0M119 146h0M126 143h0M120 144h0M117 117h0M116 120h0M194 177h0M195 178h0M196 182h0M194 176h0M192 178h0M199 170h0M198 173h0M200 171h0M188 20h0M184 17h0M198 16h0M201 19h0M153 132h0M158 126h0M143 7h0M138 10h0M140 6h0M141 4h0M134 -2h0M132 0h0M134 -0h0M180 132h0M180 129h0M177 128h0M35 46h0M38 43h0M40 48h0M73 111h0M77 113h0M64 119h0M68 114h0M61 114h0M63 114h0M66 117h0M62 115h0M61 116h0M9 144h0M9 146h0M6 144h0M6 142h0M208 156h0M206 156h0M202 153h0M207 155h0M204 157h0M200 148h0M204 151h0M200 151h0M71 72h0M71 77h0M75 71h0M71 70h0M74 70h0M184 146h0M188 149h0M185 149h0M185 151h0M185 147h0M189 140h0M60 192h0M60 193h0M56 195h0M61 194h0M55 194h0M60 197h0M63 194h0M60 193h0M65 191h0M61 193h0M170 24h0M172 28h0M175 26h0M170 25h0M52 117h0M54 118h0M50 116h0M53 116h0M52 115h0M53 118h0M50 117h0M120 236h0M151 60h0M157 60h0M156 57h0M154 64h0M153 66h0M143 43h0M145 40h0M144 45h0M213 91h0M213 95h0M209 89h0M214 88h0M192 129h0M189 128h0M192 130h0M192 127h0M119 172h0M122 179h0M73 128h0M72 130h0M73 129h0M73 129h0M70 128h0M76 126h0M76 127h0M75 125h0M75 128h0M77 126h0M40 80h0M123 3h0M127 3h0M124 7h0M121 15h0M121 11h0M119 14h0M120 14h0M119 15h0M121 13h0M120 12h0M88 64h0M85 70h0M87 71h0M90 67h0M93 70h0M140 58h0M138 54h0M141 54h0M135 51h0M132 53h0M134 52h0M129 82h0M128 80h0M128 77h0M126 77h0M8 143h0M5 143h0M11 140h0M5 142h0M143 154h0M144 155h0M142 157h0M143 157h0M183 44h0M183 47h0M82 136h0M84 136h0M81 136h0M81 130h0M80 127h0M78 132h0M76 128h0M77 127h0M93 66h0M94 66h0M89 67h0M99 60h0M99 58h0M101 57h0M101 57h0M106 198h0M104 203h0M109 199h0M109 201h0M154 93h0M149 98h0M151 93h0M151 93h0M152 92h0M188 111h0M189 109h0M188 109h0M187 111h0M188 112h0M181 109h0M92 192h0M100 200h0M99 196h0M100 201h0M100 197h0M98 197h0M209 149h0M211 149h0M212 152h0M213 151h0M209 151h0M210 150h0M227 150h0M223 152h0M226 155h0M227 150h0M222 153h0M54 88h0M52 87h0M54 88h0M58 89h0M62 85h0M62 85h0M60 86h0M151 130h0M150 129h0M149 128h0M153 127h0M168 126h0M170 124h0M172 121h0M172 124h0M180 129h0M180 132h0M181 132h0M181 132h0M107 138h0M107 140h0M99 137h0M102 132h0M85 153h0M83 148h0M85 150h0M84 153h0M85 153h0M85 151h0M84 148h0M82 146h0M85 154h0M84 149h0M7 229h0M120 146h0M121 145h0M121 141h0M111 141h0M110 141h0M111 140h0M101 134h0M101 138h0M98 138h0M99 136h0M99 136h0M110 59h0M109 56h0M107 59h0M111 61h0M113 59h0M110 60h0M108 62h0M165 69h0M166 67h0M167 68h0M167 70h0M166 69h0M173 198h0M171 198h0M171 195h0M172 199h0M168 196h0M168 217h0M168 221h0M156 216h0M156 212h0M159 215h0M159 214h0M159 215h0M46 92h0M49 96h0M48 96h0M43 96h0M52 83h0M55 80h0M53 82h0M51 78h0M172 81h0M173 83h0M174 79h0M176 79h0M173 80h0M174 79h0M29 168h0M24 166h0M211 54h0M214 52h0M212 55h0M211 49h0M212 52h0M216 54h0M213 51h0M142 119h0M145 123h0M142 118h0M144 124h0M147 119h0M51 225h0M49 225h0M48 222h0M51 225h0M47 224h0M49 222h0M48 223h0M43 216h0M45 219h0M47 219h0M215 114h0M217 117h0M217 117h0M217 113h0M212 115h0M216 112h0M217 116h0M214 116h0M213 113h0M215 115h0M23 76h0M28 72h0M22 72h0M29 75h0M26 71h0M27 76h0M95 160h0M92 164h0M91 164h0M92 162h0M93 162h0M93 163h0M221 234h0M219 232h0M217 233h0M218 232h0M185 99h0M183 97h0M182 103h0M189 100h0M185 103h0M182 101h0M182 102h0M185 117h0M188 117h0M193 116h0M193 117h0M188 116h0M193 115h0M159 110h0M160 109h0M161 105h0M165 107h0M159 112h0M160 113h0M133 5h0M136 4h0M132 6h0M133 1h0M131 3h0M135 4h0M133 2h0M133 2h0M134 3h0M184 185h0M187 183h0M40 189h0M43 190h0M40 195h0M43 192h0M41 189h0M41 192h0M43 193h0M148 136h0M146 135h0M144 134h0M149 135h0M144 136h0M65 95h0M66 88h0M65 95h0M64 91h0M65 88h0M44 78h0M43 75h0M46 73h0M41 73h0M44 70h0M43 71h0M50 77h0M120 116h0M115 117h0M119 116h0M116 113h0M112 116h0M93 38h0M91 35h0M92 35h0" stroke-width="3.5"/><path d="M155 154h0M203 185h0M175 213h0M174 208h0M155 95h0M33 151h0M137 49h0M195 48h0M209 94h0M116 62h0M89 152h0M167 64h0M133 129h0M113 100h0M-1 99h0M124 108h0M163 48h0M155 131h0M141 8h0M136 0h0M76 115h0M205 150h0M74 76h0M58 192h0M61 195h0M116 234h0M117 233h0M158 57h0M157 61h0M211 91h0M118 177h0M35 83h0M39 82h0M87 68h0M141 53h0M12 140h0M141 154h0M153 97h0M191 113h0M95 190h0M102 194h0M211 151h0M212 151h0M147 127h0M82 148h0M120 143h0M105 59h0M108 56h0M158 216h0M156 216h0M175 82h0M27 168h0M51 226h0M217 115h0M218 116h0M212 114h0M213 113h0M27 70h0M91 163h0M181 100h0M185 120h0M164 105h0M133 1h0M136 4h0M185 184h0M188 183h0M41 192h0M151 134h0M116 113h0M90 37h0" stroke-width="4"/></g><g id="c6" stroke-linecap="round" fill="none"><path d="M65 112h0M62 111h0M64 115h0M67 114h0M67 115h0M57 111h0M55 111h0M57 120h0M57 121h0M45 117h0M46 115h0M46 114h0M46 112h0M48 116h0M92 119h0M91 117h0M96 118h0M96 118h0M99 118h0M94 110h0M91 113h0M90 109h0M92 109h0M72 190h0M73 188h0M79 185h0M178 122h0M177 122h0M174 122h0M183 125h0M5 54h0M3 55h0M7 57h0M6 55h0M-1 58h0M-2 54h0M118 144h0M117 141h0M135 103h0M136 98h0M139 98h0M78 17h0M80 18h0M80 19h0M63 18h0M65 20h0M71 14h0M71 15h0M69 16h0M170 111h0M174 110h0M202 164h0M203 166h0M202 165h0M149 194h0M146 193h0M154 194h0M152 194h0M25 70h0M27 72h0M25 70h0M33 77h0M103 181h0M102 186h0M101 180h0M99 187h0M153 51h0M154 51h0M155 49h0M154 52h0M154 49h0M82 18h0M85 17h0M86 19h0M84 26h0M79 225h0M76 225h0M123 177h0M126 173h0M120 175h0M116 198h0M72 58h0M72 60h0M199 176h0M201 173h0M202 174h0M210 175h0M211 175h0M207 171h0M199 167h0M203 173h0M157 183h0M158 175h0M161 186h0M161 185h0M161 187h0M160 183h0M162 185h0M161 187h0M48 8h0M49 6h0M65 151h0M63 147h0M63 148h0M168 167h0M165 167h0M215 143h0M214 139h0M214 133h0M215 132h0M202 33h0M205 30h0M207 32h0M213 37h0M210 36h0M106 47h0M107 49h0M97 51h0M96 51h0M94 52h0M95 49h0M95 49h0M97 51h0M110 42h0M110 43h0M113 41h0M114 43h0M98 202h0M98 201h0M93 200h0M97 202h0M94 197h0M100 200h0M104 200h0M101 198h0M41 190h0M40 190h0M49 181h0M49 186h0M52 182h0M19 102h0M15 104h0M18 104h0M30 102h0M26 106h0M26 105h0M-0 25h0M2 26h0M98 214h0M108 206h0M109 202h0M107 203h0M108 207h0M110 206h0M99 205h0M95 205h0M166 64h0M167 62h0M178 62h0M179 66h0M180 64h0M-1 131h0M5 130h0M168 233h0M156 228h0M161 231h0M157 227h0M102 221h0M102 226h0M106 225h0M137 139h0M135 140h0M120 155h0M117 152h0M120 154h0M115 153h0M102 187h0M98 188h0M100 191h0M97 188h0M91 191h0M95 191h0M161 230h0M157 231h0M160 231h0M158 232h0M157 229h0M157 225h0M155 222h0M151 225h0M168 242h0M172 247h0M121 156h0M124 157h0M125 152h0M124 147h0M123 151h0M117 163h0M115 166h0M111 166h0M174 155h0M151 130h0M149 135h0M155 133h0M153 132h0M156 128h0M157 129h0M170 173h0M170 170h0M167 169h0M169 168h0M166 173h0M168 173h0M166 166h0M166 167h0M167 174h0M108 112h0M106 111h0M107 118h0M109 111h0M109 111h0M111 114h0M113 105h0M113 105h0M113 104h0M112 109h0M101 197h0M100 198h0M90 188h0M101 201h0M99 200h0M96 201h0M102 200h0M57 170h0M52 169h0M59 163h0M55 164h0M57 160h0M102 156h0M109 157h0M100 159h0M105 160h0M71 219h0M129 101h0M129 101h0M128 101h0M65 136h0M151 29h0M156 27h0M149 24h0M149 25h0M151 14h0M153 11h0M152 16h0M152 12h0M152 17h0" stroke-width="1.5"/><path d="M67 114h0M61 110h0M68 112h0M67 116h0M71 112h0M68 113h0M70 115h0M53 110h0M56 105h0M55 109h0M55 107h0M57 119h0M56 122h0M57 119h0M57 122h0M57 119h0M53 120h0M50 115h0M89 119h0M90 117h0M100 119h0M95 120h0M98 117h0M96 118h0M92 111h0M89 114h0M94 113h0M72 187h0M72 187h0M78 189h0M76 184h0M77 183h0M176 124h0M175 120h0M175 123h0M183 126h0M181 128h0M182 126h0M181 127h0M182 128h0M7 55h0M-4 54h0M-2 54h0M117 142h0M118 141h0M116 140h0M115 136h0M114 136h0M116 137h0M114 137h0M141 102h0M135 102h0M138 100h0M140 102h0M81 17h0M62 17h0M66 17h0M69 17h0M71 14h0M70 14h0M68 16h0M169 113h0M170 107h0M199 165h0M148 194h0M145 195h0M145 196h0M147 190h0M148 192h0M151 193h0M151 196h0M154 195h0M27 70h0M27 73h0M25 72h0M23 75h0M30 74h0M29 75h0M34 74h0M33 73h0M29 73h0M33 78h0M103 185h0M100 183h0M153 50h0M153 49h0M156 49h0M81 21h0M83 17h0M85 19h0M82 21h0M89 28h0M87 24h0M82 30h0M82 30h0M85 30h0M87 26h0M77 225h0M77 227h0M79 227h0M124 173h0M118 195h0M117 195h0M118 196h0M117 198h0M117 198h0M73 58h0M68 59h0M71 60h0M199 175h0M201 174h0M211 173h0M211 171h0M208 176h0M202 174h0M199 169h0M198 167h0M197 168h0M202 168h0M199 171h0M158 185h0M156 186h0M157 180h0M154 182h0M159 182h0M163 180h0M156 182h0M159 176h0M157 186h0M94 193h0M94 192h0M96 194h0M91 191h0M94 193h0M94 193h0M92 193h0M52 10h0M51 10h0M53 7h0M50 11h0M55 6h0M51 8h0M64 148h0M165 171h0M171 172h0M209 18h0M212 16h0M211 16h0M210 19h0M209 18h0M213 16h0M209 15h0M212 18h0M213 144h0M211 145h0M211 141h0M212 143h0M214 136h0M214 132h0M205 29h0M205 31h0M207 32h0M207 32h0M205 30h0M210 37h0M214 37h0M211 37h0M107 48h0M105 47h0M108 49h0M107 48h0M93 52h0M92 51h0M113 41h0M110 41h0M112 41h0M97 200h0M99 196h0M103 197h0M100 201h0M103 195h0M104 195h0M106 198h0M100 199h0M41 191h0M46 186h0M42 188h0M45 185h0M46 189h0M46 182h0M49 185h0M47 182h0M18 104h0M21 104h0M22 105h0M28 105h0M30 105h0M28 101h0M26 104h0M30 102h0M31 103h0M26 103h0M26 103h0M23 103h0M27 105h0M28 106h0M2 22h0M2 22h0M100 215h0M101 213h0M100 212h0M97 215h0M95 213h0M99 211h0M108 207h0M110 203h0M107 206h0M94 207h0M97 204h0M95 206h0M97 210h0M99 205h0M166 62h0M169 63h0M167 64h0M184 63h0M182 69h0M183 65h0M180 68h0M1 132h0M-1 133h0M166 231h0M165 229h0M164 229h0M158 232h0M158 228h0M157 228h0M103 227h0M104 227h0M105 222h0M107 222h0M138 140h0M136 140h0M134 139h0M137 138h0M135 139h0M137 141h0M119 154h0M116 153h0M102 193h0M104 191h0M95 193h0M93 192h0M160 232h0M159 229h0M158 230h0M153 225h0M153 221h0M154 222h0M170 248h0M168 249h0M127 153h0M121 155h0M124 154h0M127 152h0M124 149h0M123 154h0M111 164h0M110 164h0M116 162h0M113 165h0M114 165h0M174 155h0M173 155h0M171 156h0M172 154h0M159 124h0M153 126h0M154 126h0M159 125h0M152 135h0M151 136h0M152 135h0M156 127h0M154 128h0M167 167h0M166 166h0M169 172h0M163 170h0M105 111h0M109 114h0M108 118h0M107 116h0M109 112h0M114 106h0M113 106h0M115 105h0M104 197h0M101 198h0M100 197h0M104 196h0M91 188h0M91 192h0M93 188h0M96 200h0M56 171h0M54 171h0M53 167h0M56 170h0M54 166h0M52 172h0M58 163h0M54 166h0M59 160h0M54 161h0M108 162h0M106 154h0M101 161h0M101 157h0M102 155h0M101 159h0M73 218h0M76 220h0M73 222h0M122 98h0M123 103h0M128 105h0M126 105h0M61 134h0M67 133h0M60 136h0M152 29h0M150 24h0M156 25h0M151 28h0M153 19h0M155 13h0M149 13h0" stroke-width="2"/></g><g id="c7" stroke-linecap="round" fill="none"><path d="M230 183h0M231 180h0M225 181h0M231 179h0M226 180h0M225 191h0M231 196h0M228 175h0M226 176h0M232 176h0M161 215h0M161 218h0M163 228h0M161 225h0M161 231h0M160 210h0M161 211h0M159 209h0M189 75h0M187 83h0M181 90h0M184 85h0M184 85h0M186 79h0M189 83h0M86 59h0M85 76h0M87 76h0M86 78h0M157 57h0M157 52h0M157 55h0M162 54h0M157 54h0M161 54h0M159 53h0M161 52h0M160 53h0M162 52h0M15 0h0M14 3h0M7 12h0M8 9h0M13 12h0M100 166h0M103 169h0M100 165h0M100 165h0M98 170h0M154 158h0M159 158h0M156 154h0M159 164h0M158 160h0M159 164h0M159 163h0M159 160h0M161 161h0M161 164h0M16 12h0M21 11h0M20 6h0M17 9h0M14 7h0M16 17h0M14 17h0M18 11h0M20 8h0M95 116h0M168 197h0M164 195h0M169 194h0M164 193h0M167 200h0M167 194h0M164 196h0M168 200h0M168 201h0M47 15h0M48 12h0M47 16h0M47 17h0M46 12h0M47 14h0M46 12h0M99 198h0M98 204h0M95 202h0M20 158h0M19 153h0M16 156h0M24 151h0M18 153h0M17 152h0M154 147h0M152 144h0M160 145h0M191 166h0M192 168h0M194 166h0M188 168h0M194 167h0M186 168h0M188 169h0M99 19h0M102 19h0M87 221h0M92 223h0M2 17h0M3 17h0M-1 14h0M-4 1h0M-6 3h0M-6 4h0M-2 4h0M-2 14h0M-2 13h0M182 44h0M183 43h0M186 42h0M176 36h0M175 35h0M178 37h0M180 36h0M177 33h0M183 51h0M184 49h0M228 112h0M229 113h0M230 113h0M228 108h0M6 136h0M10 141h0M7 140h0M78 39h0M73 41h0M110 161h0M110 162h0M111 164h0M114 170h0M117 167h0M189 134h0M186 138h0M189 137h0M192 133h0M200 131h0M191 146h0M190 148h0M191 144h0M192 148h0M191 147h0M190 145h0M160 164h0M157 160h0M19 26h0M16 23h0M17 29h0M12 25h0M16 20h0M15 21h0M174 195h0M170 191h0M175 191h0M174 195h0M134 62h0M134 61h0M133 58h0M32 214h0M29 210h0M31 210h0M28 213h0M32 214h0M33 210h0M34 207h0M35 210h0M33 211h0M90 150h0M97 149h0M92 148h0M90 150h0M95 147h0M96 144h0M97 144h0M101 147h0M102 143h0M97 139h0M116 39h0M119 38h0M118 36h0M137 158h0M136 154h0M143 154h0M160 151h0M160 150h0M161 149h0M169 158h0M172 156h0M171 160h0M194 177h0M199 174h0M198 176h0M202 177h0M201 181h0M201 176h0M94 84h0M95 89h0M94 85h0M100 91h0M100 86h0M99 86h0M101 81h0M98 84h0M98 83h0M100 81h0M155 -0h0M157 -2h0M78 193h0M74 195h0M76 206h0M75 203h0M102 118h0M100 118h0M103 118h0M109 104h0M106 110h0M105 104h0M108 106h0M100 112h0M97 109h0M97 110h0M97 113h0M18 29h0M22 34h0M23 32h0M23 33h0M19 29h0M19 30h0M17 31h0M186 119h0M185 124h0M184 121h0M187 125h0M186 128h0M183 123h0M190 115h0M185 117h0M42 40h0M42 38h0M46 47h0M46 52h0M46 50h0M43 52h0M51 33h0M49 33h0M50 34h0M51 40h0M49 34h0M134 59h0M136 57h0M136 59h0M133 61h0M77 176h0M80 180h0M78 179h0M82 178h0M83 174h0M82 179h0M80 177h0M84 175h0M83 176h0M81 177h0M91 185h0M84 182h0M165 113h0M162 110h0M161 108h0M163 106h0M124 134h0M127 138h0M119 141h0M118 138h0M122 60h0M121 65h0M121 61h0M120 61h0M120 65h0M119 61h0M121 58h0M130 61h0M126 61h0M126 63h0M130 60h0M113 25h0M116 23h0M114 23h0M113 24h0M112 22h0M114 24h0M116 35h0M111 32h0M112 32h0M107 15h0M104 16h0M104 20h0M3 160h0M-1 152h0M-1 156h0M-4 154h0M-1 155h0M178 191h0M180 187h0M187 195h0M188 195h0M46 4h0M47 9h0M52 6h0M203 70h0M199 63h0M199 65h0M198 60h0M200 61h0M143 13h0M138 15h0M134 17h0M138 12h0M139 15h0M81 18h0M81 17h0M81 18h0M78 24h0M79 25h0M80 20h0M77 24h0M84 17h0M87 18h0M86 18h0M83 19h0M82 19h0M84 17h0M215 126h0M218 122h0M215 126h0M218 123h0M206 117h0M208 116h0M52 18h0M48 14h0M49 16h0M49 18h0M52 17h0M46 17h0M51 18h0M67 19h0M63 15h0M63 14h0M158 150h0M163 150h0M159 146h0M163 160h0M168 156h0M162 159h0M167 145h0M170 142h0M167 143h0M170 142h0M171 143h0M171 147h0M30 4h0M27 7h0M27 7h0M31 -0h0M33 4h0M32 4h0M35 2h0M34 4h0M27 13h0M25 11h0M31 12h0M26 10h0M27 15h0M38 45h0M37 44h0M67 180h0M70 177h0M68 176h0M68 179h0M126 134h0M128 129h0M126 132h0M128 135h0M126 133h0M131 128h0M132 128h0M122 144h0M122 141h0M124 137h0M179 10h0M181 5h0M176 3h0M172 215h0M175 214h0M179 213h0M182 212h0M178 212h0M145 190h0M148 193h0M151 192h0M148 190h0M148 193h0M148 200h0M150 198h0M183 138h0M179 138h0M183 134h0M182 135h0M176 117h0M182 119h0M178 116h0M177 120h0M53 179h0M50 179h0M49 177h0M51 178h0M54 175h0M59 188h0M58 185h0M57 188h0M57 183h0M56 184h0M54 173h0M57 173h0M57 171h0M48 88h0M42 86h0M48 87h0M44 86h0M46 88h0M142 34h0M142 34h0M141 33h0M64 215h0M61 214h0M59 212h0M71 207h0M70 208h0M72 204h0M112 103h0M110 103h0M110 102h0M109 115h0M112 121h0M110 116h0M112 93h0M111 94h0M62 219h0M33 97h0M36 99h0M36 95h0M34 97h0M30 95h0M36 95h0M32 93h0M35 101h0M217 63h0M215 61h0M214 61h0M218 66h0M218 62h0M216 57h0M218 61h0M215 74h0M213 71h0M218 72h0" stroke-width="3"/><path d="M227 179h0M230 184h0M230 178h0M225 181h0M230 184h0M228 193h0M233 189h0M231 176h0M227 176h0M232 176h0M162 218h0M157 217h0M158 216h0M162 215h0M158 225h0M159 226h0M162 225h0M160 227h0M161 229h0M157 212h0M160 209h0M191 82h0M193 80h0M190 83h0M184 90h0M189 84h0M188 79h0M188 79h0M187 81h0M81 58h0M82 56h0M83 55h0M87 58h0M87 57h0M80 56h0M85 75h0M87 77h0M83 74h0M161 56h0M159 53h0M162 56h0M14 1h0M16 2h0M16 1h0M14 -2h0M16 1h0M12 -2h0M11 10h0M10 8h0M11 9h0M98 168h0M99 165h0M102 168h0M155 157h0M157 158h0M156 159h0M156 159h0M159 163h0M158 164h0M160 163h0M20 8h0M18 13h0M15 5h0M13 8h0M15 19h0M16 16h0M15 17h0M14 20h0M16 8h0M18 13h0M19 8h0M97 112h0M103 116h0M102 114h0M98 113h0M167 196h0M163 196h0M168 201h0M45 17h0M49 14h0M46 12h0M44 18h0M48 16h0M43 16h0M95 202h0M101 203h0M98 202h0M20 156h0M20 154h0M20 148h0M20 149h0M15 148h0M13 152h0M15 147h0M18 152h0M14 153h0M13 156h0M14 148h0M154 149h0M154 148h0M150 146h0M152 149h0M156 146h0M158 146h0M155 150h0M156 151h0M191 170h0M194 168h0M192 168h0M187 168h0M184 169h0M184 170h0M185 165h0M102 17h0M101 20h0M104 13h0M106 21h0M100 18h0M80 223h0M79 222h0M81 225h0M82 225h0M80 221h0M88 224h0M91 224h0M90 219h0M88 225h0M92 220h0M3 14h0M1 14h0M3 18h0M-1 17h0M-4 3h0M-5 2h0M-4 5h0M-1 12h0M-2 15h0M181 44h0M180 37h0M178 38h0M186 52h0M186 51h0M184 51h0M186 52h0M231 110h0M226 109h0M229 108h0M228 112h0M8 139h0M11 138h0M8 134h0M10 134h0M75 43h0M75 37h0M77 42h0M74 39h0M111 162h0M109 164h0M109 164h0M109 165h0M111 160h0M108 161h0M110 161h0M115 169h0M115 166h0M109 169h0M119 163h0M118 168h0M120 167h0M120 167h0M116 165h0M190 136h0M186 133h0M186 137h0M189 137h0M199 132h0M191 147h0M192 148h0M156 163h0M160 163h0M16 25h0M18 29h0M17 27h0M18 25h0M18 18h0M18 18h0M17 16h0M13 18h0M15 15h0M15 18h0M16 19h0M16 22h0M177 194h0M176 196h0M175 196h0M171 193h0M173 194h0M133 61h0M132 61h0M135 58h0M135 59h0M31 217h0M33 213h0M28 214h0M33 208h0M35 208h0M95 147h0M91 148h0M93 150h0M95 149h0M100 145h0M99 146h0M93 135h0M96 138h0M94 140h0M113 40h0M113 39h0M135 154h0M136 156h0M139 159h0M136 157h0M164 148h0M158 150h0M166 151h0M163 149h0M173 155h0M168 157h0M172 158h0M173 157h0M169 155h0M177 158h0M171 157h0M196 171h0M197 174h0M193 173h0M202 179h0M204 178h0M203 179h0M203 181h0M201 181h0M95 87h0M97 86h0M100 87h0M98 88h0M95 86h0M103 88h0M98 85h0M101 86h0M96 87h0M97 86h0M102 84h0M99 82h0M99 84h0M101 80h0M159 0h0M156 -2h0M156 3h0M159 -1h0M156 -2h0M77 191h0M73 192h0M73 191h0M72 196h0M74 207h0M71 202h0M99 118h0M103 119h0M100 117h0M101 120h0M109 108h0M101 109h0M100 112h0M95 111h0M95 111h0M20 35h0M19 31h0M20 29h0M17 27h0M30 35h0M27 34h0M28 32h0M35 182h0M33 183h0M33 184h0M31 182h0M185 122h0M184 119h0M185 119h0M184 123h0M182 121h0M184 125h0M187 120h0M189 115h0M187 112h0M43 40h0M41 42h0M44 48h0M42 50h0M52 36h0M138 55h0M137 57h0M139 57h0M82 181h0M79 178h0M79 175h0M81 175h0M84 175h0M85 180h0M88 184h0M87 186h0M84 180h0M86 182h0M164 114h0M168 111h0M166 109h0M164 110h0M127 135h0M124 139h0M122 134h0M123 134h0M121 140h0M121 140h0M120 63h0M122 61h0M117 60h0M119 57h0M115 60h0M129 64h0M130 62h0M129 60h0M126 60h0M125 63h0M112 23h0M111 23h0M117 25h0M114 21h0M113 30h0M115 33h0M111 36h0M114 30h0M106 19h0M111 18h0M105 15h0M109 16h0M109 16h0M104 17h0M2 162h0M3 157h0M0 160h0M1 159h0M3 161h0M-0 151h0M3 152h0M-1 157h0M1 154h0M25 100h0M28 102h0M25 100h0M28 98h0M26 97h0M179 191h0M181 188h0M181 190h0M185 195h0M186 194h0M185 193h0M186 193h0M45 6h0M46 5h0M53 10h0M54 9h0M203 70h0M207 66h0M202 64h0M197 61h0M198 62h0M142 9h0M145 11h0M142 12h0M132 15h0M79 19h0M83 21h0M81 19h0M80 19h0M83 17h0M75 25h0M76 22h0M78 21h0M74 23h0M83 19h0M83 20h0M85 17h0M203 44h0M204 47h0M206 45h0M204 42h0M203 47h0M202 44h0M204 44h0M218 122h0M220 125h0M218 125h0M202 110h0M205 114h0M208 112h0M205 117h0M206 111h0M50 16h0M48 17h0M50 16h0M48 14h0M48 14h0M65 17h0M160 147h0M158 147h0M158 149h0M163 158h0M170 160h0M168 157h0M166 162h0M166 160h0M166 158h0M166 144h0M170 143h0M29 6h0M31 5h0M27 4h0M31 7h0M34 1h0M30 2h0M34 2h0M29 14h0M31 11h0M31 15h0M40 46h0M36 44h0M36 46h0M70 181h0M73 180h0M73 182h0M71 180h0M130 137h0M128 130h0M134 123h0M133 122h0M129 125h0M133 127h0M122 137h0M123 143h0M120 142h0M126 141h0M177 12h0M179 10h0M177 11h0M178 7h0M179 3h0M178 4h0M176 4h0M179 7h0M173 214h0M177 215h0M179 218h0M182 213h0M178 207h0M181 213h0M177 208h0M177 211h0M146 195h0M148 195h0M148 193h0M144 195h0M184 137h0M171 132h0M168 129h0M168 131h0M168 130h0M170 132h0M170 130h0M176 119h0M52 180h0M51 179h0M53 175h0M59 187h0M53 175h0M56 171h0M55 171h0M55 173h0M56 172h0M52 173h0M45 89h0M143 33h0M143 33h0M142 34h0M56 215h0M60 215h0M62 218h0M57 219h0M63 212h0M63 213h0M62 212h0M63 212h0M64 211h0M61 214h0M70 203h0M66 205h0M113 102h0M111 102h0M111 103h0M113 103h0M109 115h0M108 118h0M112 122h0M111 94h0M108 97h0M115 95h0M109 96h0M66 219h0M63 218h0M63 222h0M61 220h0M66 220h0M34 99h0M35 100h0M31 92h0M36 96h0M37 106h0M35 103h0M31 107h0M37 103h0M31 109h0M214 63h0M215 61h0M215 60h0M214 58h0M216 74h0M213 70h0M215 68h0M212 71h0" stroke-width="3.5"/><path d="M232 196h0M227 193h0M230 188h0M230 177h0M158 227h0M160 229h0M157 210h0M157 209h0M188 83h0M183 91h0M186 91h0M184 86h0M187 82h0M191 82h0M192 81h0M82 59h0M82 56h0M84 77h0M84 78h0M83 74h0M88 76h0M162 56h0M160 51h0M159 52h0M11 13h0M105 168h0M159 157h0M157 158h0M157 155h0M21 11h0M14 19h0M18 18h0M18 8h0M17 7h0M20 7h0M19 6h0M101 114h0M166 200h0M47 15h0M96 199h0M100 200h0M98 201h0M103 201h0M19 155h0M19 155h0M21 148h0M21 152h0M23 152h0M14 150h0M19 151h0M152 144h0M159 149h0M193 169h0M185 167h0M187 166h0M185 169h0M80 221h0M81 224h0M88 223h0M89 224h0M-1 16h0M-1 16h0M2 13h0M184 41h0M185 39h0M183 40h0M184 54h0M187 52h0M184 48h0M187 49h0M228 109h0M77 41h0M72 41h0M110 166h0M110 169h0M110 164h0M111 165h0M116 164h0M121 164h0M200 132h0M202 131h0M201 130h0M201 133h0M189 145h0M156 163h0M156 166h0M15 27h0M172 196h0M174 194h0M173 189h0M132 58h0M136 62h0M33 211h0M34 207h0M35 210h0M96 146h0M93 149h0M92 141h0M93 141h0M92 140h0M116 36h0M117 42h0M136 156h0M136 158h0M161 155h0M164 150h0M172 157h0M174 160h0M199 172h0M202 178h0M97 88h0M100 89h0M99 91h0M99 82h0M156 -1h0M159 -1h0M77 207h0M74 202h0M111 106h0M106 107h0M96 109h0M100 112h0M21 28h0M18 32h0M21 32h0M18 31h0M16 31h0M25 33h0M29 31h0M30 36h0M28 35h0M34 188h0M36 188h0M32 186h0M185 124h0M185 119h0M186 126h0M189 120h0M190 113h0M186 115h0M187 114h0M39 41h0M42 39h0M45 48h0M41 48h0M44 47h0M139 59h0M134 58h0M78 181h0M79 177h0M88 182h0M90 182h0M166 110h0M123 137h0M122 134h0M123 134h0M126 138h0M121 140h0M120 138h0M123 63h0M122 60h0M114 57h0M116 64h0M113 32h0M105 21h0M5 159h0M3 160h0M1 158h0M3 152h0M3 154h0M25 97h0M181 190h0M178 186h0M190 195h0M47 6h0M43 6h0M51 6h0M52 9h0M51 6h0M52 9h0M53 7h0M205 68h0M202 64h0M206 67h0M203 62h0M197 61h0M200 65h0M143 13h0M143 12h0M137 17h0M137 15h0M80 21h0M79 19h0M84 17h0M205 43h0M203 41h0M201 44h0M219 122h0M217 127h0M51 14h0M52 12h0M53 16h0M49 18h0M50 16h0M67 18h0M62 15h0M158 149h0M163 159h0M166 144h0M26 3h0M31 -0h0M35 3h0M31 12h0M27 15h0M37 48h0M36 45h0M40 49h0M68 182h0M126 132h0M128 134h0M129 125h0M123 141h0M121 141h0M123 141h0M177 12h0M179 11h0M174 9h0M177 3h0M177 219h0M175 212h0M179 211h0M149 193h0M146 190h0M148 196h0M143 196h0M184 136h0M164 132h0M168 127h0M177 121h0M178 119h0M54 175h0M54 178h0M57 188h0M56 187h0M46 88h0M143 35h0M64 218h0M64 210h0M63 209h0M70 204h0M68 202h0M67 208h0M114 101h0M114 94h0M114 101h0M115 97h0M66 220h0M64 218h0M32 100h0M32 98h0M34 99h0M33 99h0M32 92h0M34 92h0M33 103h0M218 62h0M219 61h0M214 61h0M216 72h0" stroke-width="4"/></g><g id="c8" stroke-linecap="round" fill="none"><path d="M46 60h0M46 61h0M53 59h0M41 68h0M10 202h0M10 191h0M104 83h0M102 82h0M101 82h0M132 181h0M65 19h0M58 19h0M71 7h0M171 82h0M171 69h0M39 103h0M49 114h0M41 107h0M121 50h0M136 23h0M127 12h0M27 94h0M20 102h0M125 99h0M123 100h0M5 223h0M210 90h0M105 222h0M100 209h0M106 224h0M107 222h0M147 78h0M43 93h0M41 97h0M158 179h0M60 156h0M60 159h0M50 159h0M63 159h0M146 63h0M197 170h0M183 178h0M185 170h0M184 170h0M188 125h0M194 131h0M191 117h0M196 116h0M226 82h0M219 97h0M219 94h0M220 81h0M222 83h0M218 86h0M188 142h0M188 143h0M183 134h0M199 146h0M13 117h0M14 116h0M7 120h0M3 119h0M40 60h0M40 60h0M39 59h0M27 52h0M51 108h0M51 112h0M54 110h0M185 224h0M106 170h0M105 170h0M115 165h0M114 165h0M192 98h0M188 91h0M169 17h0M176 20h0M177 17h0M105 20h0M104 24h0M50 106h0M47 106h0M56 104h0M226 -1h0M222 9h0M222 -2h0M220 -5h0M216 3h0M217 1h0M215 1h0M38 106h0M128 166h0M115 127h0M96 179h0M96 178h0M91 173h0M98 181h0M60 177h0M57 176h0M60 177h0M37 183h0M81 148h0M78 146h0M73 144h0M73 144h0M85 143h0M118 66h0M127 66h0M223 79h0M226 72h0M224 70h0M217 83h0M219 82h0M132 24h0M124 25h0M133 55h0M138 199h0M138 198h0M124 35h0M122 37h0M145 56h0M144 56h0M134 57h0M133 55h0M74 55h0M137 78h0M120 38h0M219 11h0M218 11h0M200 22h0M13 97h0M17 94h0" stroke-width="2"/><path d="M51 59h0M51 59h0M41 69h0M114 74h0M114 74h0M109 71h0M105 73h0M108 72h0M10 202h0M11 191h0M9 188h0M105 84h0M105 83h0M104 84h0M130 181h0M133 180h0M133 181h0M131 183h0M64 17h0M59 18h0M73 8h0M72 6h0M171 70h0M39 105h0M39 104h0M48 115h0M121 57h0M121 59h0M124 57h0M124 60h0M120 50h0M130 60h0M130 60h0M136 23h0M137 22h0M127 13h0M126 13h0M27 95h0M28 95h0M19 105h0M18 103h0M130 97h0M129 99h0M130 99h0M122 100h0M132 96h0M132 93h0M140 103h0M140 102h0M138 100h0M140 103h0M207 87h0M206 87h0M106 223h0M100 209h0M106 222h0M106 222h0M40 99h0M42 100h0M161 180h0M59 159h0M50 158h0M49 158h0M61 158h0M62 159h0M145 61h0M197 170h0M184 179h0M204 168h0M203 169h0M202 170h0M189 125h0M189 125h0M189 123h0M179 119h0M195 133h0M195 132h0M195 119h0M225 83h0M225 83h0M215 88h0M215 88h0M215 87h0M206 71h0M187 143h0M184 131h0M183 130h0M12 117h0M8 119h0M43 55h0M45 57h0M43 54h0M45 56h0M43 48h0M27 54h0M27 54h0M55 114h0M56 114h0M53 108h0M185 222h0M183 221h0M186 225h0M183 209h0M183 209h0M111 170h0M109 171h0M106 168h0M114 163h0M192 97h0M190 95h0M185 92h0M188 92h0M195 91h0M196 91h0M195 92h0M196 92h0M175 20h0M106 24h0M106 25h0M51 106h0M50 106h0M49 108h0M51 106h0M58 104h0M225 1h0M221 9h0M223 -6h0M41 106h0M43 101h0M42 103h0M126 167h0M126 128h0M128 131h0M127 131h0M115 129h0M116 129h0M117 122h0M66 114h0M96 178h0M97 179h0M91 174h0M92 175h0M98 182h0M98 181h0M98 182h0M115 175h0M57 180h0M59 180h0M58 178h0M36 184h0M36 183h0M78 147h0M82 145h0M75 143h0M78 144h0M72 144h0M85 142h0M84 144h0M119 66h0M118 66h0M128 66h0M128 65h0M125 65h0M126 66h0M161 149h0M160 150h0M146 156h0M145 157h0M222 79h0M218 83h0M219 83h0M131 26h0M112 23h0M122 26h0M123 25h0M122 27h0M132 52h0M185 132h0M187 129h0M139 199h0M126 186h0M128 189h0M138 184h0M132 55h0M85 61h0M85 63h0M85 64h0M71 55h0M71 57h0M139 75h0M139 76h0M140 77h0M144 78h0M144 75h0M144 75h0M115 48h0M121 38h0M119 38h0M220 8h0M221 8h0M222 6h0M203 20h0M201 24h0M38 117h0M36 117h0M41 115h0M41 115h0M12 96h0M10 96h0M6 103h0M15 94h0M46 181h0M57 182h0M53 175h0M34 190h0M34 189h0M153 103h0M152 104h0" stroke-width="2.5"/><path d="M48 61h0M42 71h0M115 72h0M9 201h0M101 79h0M131 182h0M133 182h0M66 16h0M66 17h0M57 19h0M71 6h0M169 77h0M169 78h0M173 81h0M173 69h0M171 68h0M39 103h0M41 106h0M124 57h0M125 58h0M122 50h0M128 60h0M19 103h0M132 96h0M9 222h0M208 89h0M207 86h0M211 89h0M107 222h0M107 222h0M102 212h0M148 76h0M45 94h0M50 157h0M62 161h0M146 61h0M149 63h0M183 178h0M183 170h0M178 119h0M177 118h0M178 118h0M194 131h0M220 99h0M205 70h0M189 143h0M182 131h0M200 147h0M14 116h0M4 117h0M44 49h0M28 53h0M54 117h0M56 116h0M60 121h0M60 122h0M51 110h0M54 108h0M186 221h0M185 222h0M186 226h0M183 208h0M168 19h0M106 22h0M103 22h0M105 25h0M52 109h0M54 104h0M41 108h0M45 104h0M42 103h0M127 165h0M127 167h0M125 130h0M117 124h0M117 125h0M68 113h0M115 177h0M114 177h0M58 186h0M56 185h0M37 184h0M76 142h0M84 142h0M125 65h0M147 157h0M146 156h0M224 77h0M224 72h0M222 73h0M115 24h0M116 24h0M118 23h0M110 22h0M111 22h0M110 23h0M134 56h0M127 189h0M137 183h0M120 37h0M124 38h0M87 62h0M72 56h0M115 46h0M117 48h0M218 8h0M218 6h0M219 10h0M218 12h0M38 115h0M41 115h0M42 115h0M12 96h0M7 105h0M47 181h0M59 181h0M53 178h0M35 191h0M153 102h0" stroke-width="3"/></g><g id="c9" stroke-linecap="round" fill="none"><path d="M158 227h0M155 227h0M208 194h0M6 95h0M45 152h0M21 38h0M123 176h0M201 93h0M200 92h0M208 224h0M84 49h0M84 49h0M57 150h0M55 148h0M150 147h0M27 35h0M27 35h0M19 24h0M20 25h0M47 69h0M92 208h0M187 15h0M92 43h0M91 44h0M23 20h0M159 158h0M155 101h0M205 2h0M189 225h0M120 53h0M85 46h0M163 125h0M163 126h0M102 109h0M-3 159h0M133 198h0M57 221h0M156 106h0" stroke-width="2"/><path d="M156 222h0M206 194h0M11 99h0M10 99h0M51 149h0M51 150h0M45 151h0M124 177h0M124 178h0M65 49h0M62 48h0M7 61h0M163 193h0M163 193h0M200 93h0M186 88h0M187 89h0M2 97h0M208 224h0M85 49h0M176 228h0M133 116h0M54 147h0M26 34h0M94 209h0M187 15h0M190 99h0M94 41h0M92 44h0M24 21h0M185 179h0M80 82h0M159 157h0M159 157h0M82 226h0M128 219h0M136 222h0M67 95h0M67 94h0M157 105h0M157 104h0M198 1h0M124 141h0M193 232h0M189 225h0M190 223h0M121 54h0M80 48h0M85 46h0M84 47h0M163 125h0M127 187h0M127 189h0M126 191h0M0 60h0M1 59h0M94 104h0M93 105h0M103 110h0M223 76h0M223 77h0M53 217h0M54 216h0M58 222h0M76 29h0M75 29h0M157 106h0M141 215h0M145 212h0" stroke-width="2.5"/><path d="M208 190h0M5 96h0M51 150h0M45 150h0M127 174h0M7 61h0M7 60h0M185 88h0M176 178h0M3 96h0M177 221h0M134 118h0M57 150h0M151 146h0M45 69h0M93 208h0M191 99h0M94 42h0M24 21h0M80 82h0M161 153h0M91 88h0M90 81h0M90 81h0M67 95h0M118 135h0M125 142h0M194 231h0M194 233h0M121 53h0M-3 61h0M-2 59h0M93 104h0M103 109h0M218 76h0M24 161h0M58 221h0M77 27h0M79 39h0M80 39h0M139 216h0M141 216h0" stroke-width="3"/></g><g id="c10" stroke-linecap="round" fill="none"><path d="M175 -2h0M178 -16h0M172 -17h0M174 -5h0M171 -3h0M170 -2h0M27 134h0M27 126h0M28 123h0M31 123h0M188 41h0M187 38h0M181 41h0M180 46h0M177 41h0M189 48h0M133 212h0M136 216h0M133 211h0M130 215h0M134 218h0M129 216h0M125 222h0M125 222h0M6 2h0M3 -0h0M1 -0h0M3 6h0M3 5h0M2 2h0M0 2h0M0 0h0M163 169h0M163 167h0M163 169h0M164 171h0M165 165h0M167 169h0M104 207h0M106 209h0M107 207h0M107 207h0M152 101h0M152 103h0M55 98h0M50 97h0M54 98h0M53 98h0M47 108h0M45 107h0M43 106h0M48 107h0M53 105h0M56 104h0M54 104h0M94 76h0M93 82h0M48 67h0M49 66h0M51 64h0M56 64h0M59 64h0M59 64h0M50 63h0M48 64h0M176 43h0M173 44h0M173 44h0M12 44h0M13 42h0M33 199h0M30 195h0M27 198h0M5 191h0M6 191h0M5 189h0M7 185h0M6 188h0M4 192h0M3 190h0M12 213h0M10 210h0M13 217h0M13 216h0M12 213h0M12 215h0M13 216h0M11 215h0M7 208h0M10 210h0M8 208h0M71 77h0M181 127h0M185 126h0M180 125h0M183 117h0M184 120h0M184 113h0M23 93h0M25 80h0M24 81h0M28 84h0M24 82h0M73 110h0M75 109h0M73 110h0M127 25h0M128 26h0M49 171h0M48 169h0M43 174h0M50 174h0M47 176h0M48 176h0M202 16h0M117 43h0M117 45h0M118 43h0M229 90h0M229 95h0M96 21h0M98 27h0M93 28h0M96 24h0M95 20h0M98 15h0M100 15h0M99 19h0M1 129h0M-0 131h0M6 127h0M1 128h0M2 128h0M62 115h0M59 112h0M57 113h0M60 114h0M62 109h0M53 113h0M56 113h0M53 110h0M118 27h0M119 26h0M120 25h0M130 25h0M125 29h0M141 160h0M139 162h0M143 165h0M115 1h0M117 3h0M118 -3h0M121 6h0M115 6h0M124 1h0M122 -2h0M123 5h0M119 221h0M118 218h0M117 222h0M120 217h0M115 217h0M117 219h0M25 52h0M27 50h0M188 87h0M190 88h0M110 83h0M107 83h0M109 85h0M104 87h0M104 84h0M107 86h0M100 76h0M107 77h0M109 76h0M51 215h0M50 214h0M56 224h0M59 224h0M56 223h0M59 226h0M55 222h0M55 220h0M58 225h0M56 69h0M56 71h0M51 73h0M57 65h0M67 77h0M109 30h0M109 28h0M105 32h0M103 31h0M107 31h0M108 30h0M67 169h0M63 164h0M65 165h0M69 161h0M68 168h0M64 163h0M71 173h0M69 174h0M151 62h0M154 62h0M142 55h0M141 53h0M140 58h0M140 56h0M159 56h0M159 56h0M159 57h0M97 170h0M96 172h0M90 169h0M95 167h0M89 184h0M87 182h0M93 182h0M100 211h0M100 212h0M97 210h0M104 211h0M107 207h0M104 208h0M166 27h0M164 31h0M165 28h0M158 28h0M160 28h0M161 29h0M157 28h0M221 163h0M227 4h0M225 7h0M224 3h0M226 6h0M221 4h0M226 6h0M227 4h0M226 3h0M236 8h0M231 13h0M231 9h0M225 11h0M227 16h0M219 12h0M225 10h0M232 3h0M229 8h0M217 4h0M216 2h0M217 4h0M62 47h0M55 38h0M58 36h0M54 38h0M197 83h0M198 86h0M201 88h0M201 86h0M204 78h0M203 83h0M198 93h0M200 92h0M199 88h0M198 92h0M60 53h0M59 53h0M60 54h0M59 48h0M62 51h0M58 53h0M56 45h0M56 47h0M57 52h0M57 49h0M55 46h0M67 60h0M71 63h0M66 63h0M75 60h0M72 62h0M69 62h0M229 73h0M227 70h0M225 71h0M215 123h0M214 125h0M214 125h0M32 33h0M34 27h0M32 30h0M31 30h0M39 38h0M46 34h0M57 32h0M54 33h0M54 32h0M57 32h0M53 30h0M31 222h0M30 224h0M27 214h0M29 219h0M26 217h0M42 228h0M38 228h0M40 228h0M148 145h0M149 143h0M150 143h0M149 142h0M150 146h0M144 147h0M146 146h0M143 148h0M157 82h0M158 83h0M155 80h0M217 0h0M113 152h0M111 151h0M109 152h0M95 146h0M71 91h0M75 93h0M78 98h0M79 96h0M76 96h0M165 181h0M163 180h0M161 184h0M163 180h0M165 181h0M165 182h0M165 181h0M161 188h0M163 183h0M160 187h0M157 185h0M158 183h0M152 -0h0M153 -1h0M153 1h0M154 -1h0M154 2h0M155 1h0M165 0h0M163 3h0M164 -0h0M-3 32h0M-2 32h0M30 52h0M58 205h0M60 201h0M60 199h0M59 199h0M56 203h0M187 55h0M188 55h0M187 51h0M186 54h0M120 181h0M121 183h0M122 177h0M126 179h0M121 173h0M128 177h0M118 177h0M117 180h0M115 181h0M116 182h0M116 179h0M184 191h0M181 188h0M179 193h0M183 187h0M184 188h0M182 195h0M178 196h0M178 195h0M175 197h0M102 11h0M103 13h0M101 12h0M101 10h0M99 9h0M173 63h0M171 66h0M174 64h0M169 64h0M129 156h0M127 160h0M130 160h0M131 154h0M135 157h0M61 119h0M62 118h0M61 118h0M62 119h0M62 117h0M62 115h0M65 152h0M65 153h0M65 152h0M70 150h0M67 143h0M68 141h0M65 152h0M66 152h0M170 31h0M170 34h0M167 37h0M166 36h0M168 29h0M167 31h0M166 27h0M169 31h0M168 29h0M126 68h0M129 71h0M126 74h0M122 73h0M123 73h0M31 216h0M34 225h0M34 230h0M32 220h0M39 219h0M38 216h0M212 56h0M212 58h0M210 57h0M212 62h0M213 56h0M220 56h0M221 55h0M219 63h0M217 60h0M182 102h0M180 102h0M186 101h0M58 61h0M95 55h0M24 215h0M26 215h0M184 219h0M190 221h0M-0 181h0M1 183h0M5 181h0M2 180h0M2 184h0M-4 182h0M-4 182h0M-1 184h0M-3 181h0M120 44h0M220 30h0M219 26h0M217 34h0M213 38h0M213 37h0M219 39h0M224 40h0M202 66h0M208 71h0M206 71h0M206 72h0M90 163h0M89 162h0M83 168h0M83 172h0M85 169h0M69 161h0M68 161h0M59 163h0M58 160h0M40 152h0M42 147h0M41 150h0M39 155h0M43 150h0M43 146h0M137 69h0M212 159h0M213 158h0M213 158h0M209 155h0M211 154h0M206 155h0M198 155h0M112 1h0M110 4h0M112 12h0M73 161h0M78 167h0M74 162h0M77 160h0M79 162h0M73 163h0M71 163h0M74 160h0M73 203h0M85 74h0M87 78h0M35 59h0M37 58h0M140 142h0M117 70h0M118 72h0M116 70h0M119 72h0M116 67h0M108 60h0M106 64h0M105 59h0M107 63h0M106 58h0M128 23h0M126 24h0M127 23h0M129 24h0M166 150h0M166 150h0M146 44h0M147 46h0M149 50h0M68 119h0M65 115h0M68 120h0M69 119h0M67 118h0M70 122h0M100 93h0M98 93h0M101 95h0M102 87h0M145 118h0M141 112h0M143 117h0M143 112h0M139 115h0M99 54h0M104 56h0M2 173h0M6 171h0M170 24h0M167 29h0M172 23h0M169 23h0M171 24h0M168 20h0M166 20h0M158 31h0M158 31h0M159 32h0M156 31h0M185 97h0M182 100h0M183 95h0M185 98h0M185 100h0M184 96h0M59 20h0M55 19h0M58 17h0M57 22h0M47 23h0M52 21h0M48 21h0M48 20h0M50 22h0M59 28h0M62 25h0M64 24h0M132 160h0M133 157h0M137 157h0M146 155h0M146 156h0M145 159h0M136 148h0M136 148h0M157 191h0M152 187h0M153 188h0M158 188h0M155 190h0M157 187h0M161 194h0M19 53h0M13 42h0M16 46h0M21 53h0M17 50h0M211 212h0M209 215h0M205 214h0M204 211h0M201 214h0M157 131h0M219 -5h0M219 -5h0M219 -2h0M221 -8h0M218 -9h0M221 -7h0M212 2h0M214 -3h0M130 179h0M94 125h0M124 12h0M122 12h0M119 13h0M122 11h0M167 124h0M169 123h0M166 124h0M178 153h0M88 135h0M86 138h0M92 136h0M91 136h0M87 136h0M91 138h0M91 136h0M94 135h0M92 135h0M3 110h0M2 109h0M-0 112h0M1 114h0M2 109h0M187 31h0M186 26h0M178 31h0" stroke-width="3"/><path d="M170 -2h0M175 -3h0M169 -1h0M171 3h0M174 -11h0M172 -15h0M29 132h0M29 131h0M27 123h0M30 121h0M23 133h0M23 131h0M183 43h0M178 40h0M177 48h0M181 41h0M185 52h0M183 50h0M131 218h0M130 211h0M133 212h0M132 215h0M128 218h0M129 221h0M5 -2h0M5 -3h0M4 0h0M4 4h0M3 4h0M3 4h0M163 166h0M165 169h0M165 164h0M168 168h0M165 164h0M102 207h0M106 207h0M104 210h0M22 3h0M18 1h0M22 3h0M19 -2h0M153 105h0M154 104h0M155 105h0M50 99h0M56 106h0M55 104h0M94 80h0M95 79h0M98 78h0M95 80h0M92 81h0M49 65h0M49 62h0M47 64h0M52 64h0M53 65h0M54 63h0M50 65h0M48 61h0M50 63h0M177 41h0M179 41h0M180 38h0M179 35h0M175 37h0M179 38h0M177 39h0M11 46h0M32 201h0M31 197h0M29 198h0M2 193h0M7 188h0M6 186h0M3 190h0M5 193h0M9 191h0M3 190h0M11 215h0M10 212h0M11 213h0M12 208h0M13 214h0M13 213h0M6 209h0M6 213h0M5 212h0M75 78h0M74 72h0M181 125h0M184 124h0M184 128h0M182 125h0M181 113h0M181 118h0M180 118h0M22 93h0M22 89h0M25 89h0M25 81h0M29 83h0M28 81h0M26 85h0M71 112h0M71 111h0M73 108h0M128 26h0M130 25h0M50 170h0M48 170h0M58 169h0M61 168h0M45 173h0M45 171h0M51 170h0M114 43h0M118 46h0M116 45h0M116 42h0M231 96h0M233 94h0M234 93h0M232 93h0M231 94h0M228 93h0M233 92h0M237 92h0M97 23h0M98 19h0M99 19h0M98 24h0M93 26h0M98 18h0M97 18h0M2 133h0M58 111h0M58 111h0M56 107h0M57 110h0M57 109h0M124 27h0M124 24h0M126 28h0M119 27h0M124 27h0M125 27h0M129 28h0M138 158h0M139 162h0M134 160h0M138 162h0M119 -3h0M117 4h0M116 2h0M120 1h0M121 9h0M122 2h0M123 5h0M119 5h0M121 219h0M116 221h0M117 221h0M125 216h0M125 214h0M123 217h0M28 54h0M29 52h0M23 50h0M186 86h0M189 87h0M186 86h0M99 76h0M100 81h0M97 80h0M108 81h0M106 78h0M104 79h0M52 216h0M49 215h0M51 214h0M60 223h0M54 220h0M54 223h0M55 66h0M57 65h0M60 63h0M65 74h0M66 78h0M65 74h0M107 26h0M109 31h0M106 29h0M108 27h0M102 27h0M104 22h0M106 24h0M104 22h0M69 168h0M72 168h0M66 168h0M68 169h0M69 167h0M71 165h0M72 166h0M70 172h0M70 173h0M152 56h0M142 56h0M141 54h0M156 57h0M158 59h0M157 58h0M95 169h0M92 170h0M93 167h0M94 166h0M96 167h0M91 181h0M89 177h0M96 212h0M94 210h0M99 211h0M107 209h0M106 212h0M168 32h0M165 31h0M162 34h0M160 31h0M157 28h0M160 30h0M158 27h0M160 28h0M221 159h0M222 160h0M223 7h0M234 7h0M235 7h0M232 4h0M229 13h0M225 16h0M223 9h0M221 8h0M223 10h0M222 12h0M225 12h0M221 7h0M233 3h0M234 4h0M230 8h0M218 4h0M60 44h0M66 47h0M59 52h0M59 52h0M62 49h0M61 54h0M57 39h0M55 35h0M54 38h0M204 85h0M203 81h0M202 81h0M203 77h0M199 88h0M198 93h0M200 89h0M200 90h0M57 52h0M59 50h0M54 48h0M58 49h0M55 47h0M59 49h0M56 48h0M55 44h0M69 62h0M69 57h0M71 61h0M64 65h0M68 60h0M74 60h0M68 59h0M72 61h0M73 62h0M224 71h0M215 122h0M34 31h0M31 33h0M39 34h0M42 30h0M38 33h0M41 31h0M41 36h0M45 35h0M41 36h0M41 39h0M48 34h0M44 38h0M53 35h0M30 222h0M27 218h0M26 217h0M25 217h0M41 226h0M40 228h0M44 229h0M40 226h0M150 142h0M148 142h0M144 148h0M143 147h0M146 149h0M217 -0h0M215 -0h0M218 -0h0M108 151h0M112 155h0M111 156h0M109 154h0M95 148h0M95 144h0M93 144h0M97 145h0M95 146h0M76 88h0M77 94h0M79 91h0M81 95h0M78 93h0M161 185h0M163 184h0M166 185h0M157 184h0M152 0h0M153 1h0M155 4h0M155 -1h0M154 -1h0M157 1h0M-2 33h0M-1 30h0M0 34h0M34 52h0M36 53h0M36 49h0M56 203h0M59 203h0M185 51h0M185 51h0M187 53h0M186 54h0M188 55h0M125 179h0M119 181h0M121 176h0M125 171h0M124 175h0M115 178h0M120 180h0M118 180h0M180 192h0M182 186h0M182 197h0M179 195h0M178 192h0M179 198h0M177 192h0M179 199h0M178 198h0M99 10h0M99 12h0M168 65h0M167 65h0M132 158h0M135 158h0M129 156h0M134 152h0M58 122h0M62 121h0M59 122h0M65 118h0M67 152h0M70 142h0M66 140h0M71 141h0M69 143h0M69 142h0M71 140h0M67 140h0M66 158h0M66 152h0M169 36h0M169 35h0M175 35h0M170 36h0M171 34h0M171 30h0M166 29h0M168 28h0M169 29h0M165 27h0M165 30h0M166 27h0M126 68h0M127 72h0M126 72h0M35 218h0M32 213h0M31 216h0M32 217h0M33 221h0M33 221h0M35 222h0M35 217h0M212 57h0M215 56h0M215 61h0M221 59h0M218 62h0M221 61h0M222 61h0M218 56h0M217 60h0M183 100h0M183 101h0M184 104h0M188 101h0M187 94h0M186 101h0M188 100h0M188 99h0M187 101h0M57 61h0M58 61h0M62 60h0M60 62h0M89 54h0M24 216h0M27 217h0M29 217h0M25 214h0M26 214h0M186 218h0M185 218h0M187 217h0M185 217h0M185 222h0M185 219h0M191 221h0M187 222h0M191 222h0M188 224h0M188 221h0M190 225h0M190 223h0M1 182h0M4 185h0M2 179h0M-1 186h0M117 48h0M119 49h0M116 47h0M121 46h0M220 28h0M216 33h0M219 29h0M215 39h0M214 40h0M212 39h0M218 38h0M216 38h0M222 41h0M221 37h0M220 42h0M199 66h0M199 66h0M199 69h0M198 65h0M92 166h0M86 172h0M86 170h0M84 174h0M73 160h0M70 160h0M72 159h0M60 158h0M61 162h0M61 161h0M38 148h0M43 148h0M36 155h0M37 155h0M41 147h0M45 149h0M136 69h0M133 69h0M212 160h0M213 162h0M207 155h0M200 153h0M116 4h0M112 5h0M109 6h0M116 15h0M111 16h0M78 159h0M75 168h0M71 200h0M72 199h0M72 198h0M88 77h0M85 75h0M84 76h0M39 57h0M36 60h0M34 59h0M138 143h0M138 146h0M143 143h0M141 145h0M139 142h0M118 67h0M102 64h0M127 24h0M168 152h0M169 149h0M165 149h0M168 151h0M147 45h0M146 44h0M144 49h0M144 44h0M157 46h0M155 43h0M156 44h0M158 44h0M156 46h0M70 115h0M65 118h0M69 116h0M67 121h0M75 117h0M102 93h0M97 93h0M98 98h0M99 91h0M97 93h0M100 98h0M97 100h0M97 100h0M97 101h0M98 100h0M97 98h0M99 89h0M103 88h0M103 86h0M101 88h0M144 113h0M149 118h0M147 115h0M148 118h0M141 118h0M143 113h0M145 114h0M100 57h0M101 54h0M102 57h0M5 172h0M4 173h0M4 173h0M5 171h0M168 27h0M166 23h0M168 25h0M170 25h0M169 23h0M156 31h0M154 34h0M181 97h0M54 19h0M57 19h0M50 21h0M60 26h0M62 23h0M135 163h0M133 156h0M146 154h0M142 154h0M140 160h0M136 152h0M154 194h0M152 189h0M155 188h0M17 49h0M18 52h0M21 48h0M18 53h0M20 50h0M12 45h0M16 45h0M18 50h0M19 52h0M20 53h0M208 211h0M208 215h0M200 214h0M175 121h0M170 119h0M172 123h0M172 120h0M171 123h0M160 128h0M154 129h0M155 132h0M219 -1h0M220 -2h0M219 -8h0M217 -8h0M218 -6h0M213 2h0M210 -2h0M211 2h0M213 -3h0M210 0h0M128 180h0M131 179h0M130 182h0M95 127h0M92 127h0M120 15h0M123 15h0M121 12h0M169 127h0M166 126h0M169 126h0M180 150h0M179 151h0M182 151h0M176 152h0M86 136h0M87 135h0M87 138h0M89 137h0M88 132h0M91 137h0M88 138h0M90 138h0M90 134h0M97 138h0M93 135h0M93 142h0M2 113h0M4 113h0M184 26h0M179 31h0M182 28h0M181 24h0" stroke-width="3.5"/><path d="M169 -3h0M175 -14h0M169 -7h0M169 -7h0M25 137h0M27 131h0M26 125h0M26 124h0M25 124h0M23 131h0M25 135h0M25 132h0M24 133h0M22 133h0M190 43h0M183 42h0M191 40h0M184 51h0M186 46h0M135 218h0M134 215h0M134 212h0M128 221h0M124 219h0M127 219h0M125 223h0M5 2h0M2 -5h0M5 2h0M3 3h0M1 5h0M2 1h0M161 171h0M162 172h0M165 164h0M166 169h0M166 169h0M164 165h0M106 208h0M104 205h0M102 208h0M104 209h0M106 211h0M19 -2h0M21 -3h0M23 1h0M20 3h0M22 -1h0M22 2h0M155 105h0M155 101h0M153 102h0M55 99h0M48 108h0M53 109h0M54 105h0M93 78h0M98 76h0M50 65h0M48 66h0M47 63h0M50 66h0M55 60h0M52 64h0M55 66h0M57 66h0M48 65h0M52 65h0M49 63h0M177 45h0M178 42h0M175 38h0M175 36h0M15 47h0M13 45h0M29 201h0M2 191h0M4 193h0M4 199h0M9 190h0M7 185h0M9 191h0M4 191h0M11 214h0M12 213h0M12 215h0M10 212h0M75 74h0M75 78h0M181 130h0M184 129h0M183 125h0M184 112h0M22 87h0M20 94h0M26 85h0M24 82h0M126 28h0M129 24h0M130 26h0M128 27h0M128 28h0M53 170h0M58 170h0M62 169h0M60 165h0M44 173h0M45 169h0M50 175h0M206 10h0M206 13h0M207 17h0M209 13h0M238 89h0M236 89h0M240 87h0M98 17h0M101 20h0M98 19h0M101 17h0M95 22h0M90 22h0M98 17h0M99 22h0M96 22h0M97 14h0M-1 131h0M7 128h0M60 108h0M56 113h0M56 111h0M54 110h0M57 109h0M55 109h0M58 109h0M120 24h0M125 27h0M139 161h0M140 163h0M135 161h0M139 160h0M143 165h0M142 166h0M118 4h0M117 3h0M120 -2h0M118 6h0M117 8h0M122 -1h0M124 4h0M119 221h0M123 219h0M123 215h0M28 47h0M27 52h0M105 83h0M109 85h0M98 78h0M97 77h0M96 78h0M105 83h0M109 76h0M111 83h0M107 79h0M111 77h0M50 218h0M51 217h0M49 214h0M51 218h0M59 223h0M56 221h0M58 222h0M56 222h0M55 76h0M56 74h0M57 64h0M59 62h0M60 60h0M66 77h0M62 77h0M63 78h0M104 28h0M111 30h0M103 21h0M101 22h0M107 34h0M104 31h0M105 30h0M108 33h0M69 171h0M66 161h0M64 163h0M67 168h0M71 164h0M68 162h0M70 171h0M155 56h0M150 56h0M139 58h0M140 55h0M139 53h0M143 56h0M154 57h0M155 54h0M95 174h0M94 166h0M94 180h0M87 182h0M87 184h0M88 183h0M107 211h0M168 30h0M166 32h0M160 31h0M167 31h0M223 157h0M222 159h0M219 159h0M223 5h0M233 5h0M234 7h0M233 5h0M233 10h0M231 4h0M228 10h0M229 14h0M231 13h0M224 17h0M227 9h0M227 15h0M231 10h0M232 6h0M228 6h0M229 4h0M216 4h0M222 1h0M217 1h0M221 1h0M219 4h0M63 49h0M62 49h0M63 51h0M65 51h0M60 55h0M58 37h0M54 41h0M200 82h0M198 84h0M207 80h0M202 80h0M198 92h0M197 91h0M62 51h0M57 49h0M56 50h0M54 46h0M56 44h0M60 45h0M57 43h0M56 46h0M66 64h0M68 61h0M68 61h0M70 64h0M224 70h0M216 123h0M215 125h0M32 29h0M31 31h0M33 34h0M32 33h0M40 33h0M42 33h0M40 30h0M41 33h0M46 34h0M43 39h0M45 34h0M48 39h0M53 33h0M53 35h0M56 34h0M54 34h0M29 224h0M29 223h0M32 223h0M28 216h0M27 214h0M148 143h0M148 143h0M147 150h0M157 79h0M158 81h0M157 83h0M155 82h0M160 82h0M215 -1h0M109 153h0M98 148h0M96 146h0M97 146h0M94 148h0M79 96h0M76 96h0M78 94h0M162 184h0M163 184h0M164 183h0M160 187h0M165 184h0M166 185h0M165 188h0M158 190h0M152 1h0M154 -3h0M156 -2h0M155 1h0M162 0h0M160 -2h0M-4 33h0M0 30h0M34 52h0M33 53h0M30 48h0M30 49h0M35 51h0M37 50h0M36 49h0M38 53h0M60 200h0M62 201h0M60 201h0M187 55h0M120 182h0M122 181h0M126 174h0M119 182h0M118 177h0M182 194h0M182 189h0M181 193h0M178 198h0M181 193h0M176 194h0M177 191h0M176 192h0M176 196h0M99 12h0M104 10h0M172 63h0M168 63h0M173 62h0M174 63h0M132 158h0M128 160h0M130 155h0M128 159h0M129 155h0M58 121h0M63 119h0M62 117h0M70 142h0M63 152h0M68 155h0M170 35h0M170 35h0M172 32h0M173 31h0M173 34h0M170 35h0M172 32h0M129 68h0M127 69h0M128 69h0M124 71h0M126 69h0M123 72h0M127 73h0M35 213h0M32 215h0M36 217h0M31 228h0M34 229h0M33 224h0M37 223h0M35 217h0M36 223h0M212 58h0M186 103h0M182 105h0M183 99h0M190 99h0M191 98h0M187 95h0M90 55h0M92 53h0M94 52h0M184 220h0M185 219h0M188 217h0M188 223h0M0 181h0M0 180h0M-3 183h0M-2 185h0M-2 185h0M-1 185h0M-3 180h0M118 45h0M120 48h0M219 34h0M215 31h0M221 32h0M215 30h0M216 39h0M213 38h0M223 40h0M224 40h0M221 42h0M202 67h0M199 72h0M205 71h0M204 71h0M93 166h0M87 168h0M91 162h0M91 171h0M87 165h0M86 169h0M86 168h0M87 166h0M86 171h0M87 173h0M86 170h0M68 159h0M71 160h0M69 161h0M68 158h0M71 160h0M60 163h0M60 160h0M62 159h0M42 150h0M40 148h0M36 153h0M38 153h0M36 157h0M36 157h0M43 148h0M137 70h0M135 69h0M136 69h0M135 67h0M135 69h0M138 70h0M210 163h0M213 164h0M198 153h0M202 156h0M196 157h0M111 1h0M116 13h0M115 12h0M78 160h0M77 155h0M76 159h0M79 167h0M79 165h0M72 202h0M72 199h0M72 200h0M73 200h0M75 201h0M87 74h0M88 76h0M35 59h0M137 144h0M139 141h0M142 142h0M140 147h0M116 70h0M114 66h0M121 70h0M117 68h0M104 64h0M105 58h0M130 25h0M126 24h0M126 25h0M166 149h0M165 152h0M146 47h0M156 43h0M153 42h0M152 44h0M152 42h0M153 47h0M68 116h0M70 118h0M73 116h0M69 120h0M73 119h0M74 122h0M96 91h0M97 96h0M98 99h0M99 99h0M100 97h0M104 90h0M104 87h0M148 114h0M143 116h0M143 116h0M143 113h0M99 55h0M1 173h0M5 169h0M4 173h0M163 26h0M169 22h0M165 25h0M166 22h0M168 22h0M172 23h0M168 19h0M158 31h0M157 34h0M154 32h0M183 99h0M181 98h0M183 95h0M58 20h0M57 22h0M53 20h0M49 19h0M49 23h0M52 23h0M50 18h0M59 29h0M64 23h0M134 160h0M133 159h0M145 159h0M141 154h0M142 157h0M145 159h0M137 150h0M135 153h0M156 191h0M155 192h0M152 187h0M154 191h0M154 184h0M155 190h0M162 193h0M156 195h0M18 48h0M20 49h0M19 53h0M13 46h0M12 45h0M20 55h0M21 51h0M18 53h0M208 215h0M211 216h0M208 211h0M200 216h0M202 210h0M168 120h0M171 125h0M174 123h0M174 123h0M174 121h0M153 130h0M219 -5h0M222 -4h0M218 -3h0M217 -9h0M218 -8h0M210 -1h0M215 0h0M128 179h0M128 178h0M128 178h0M90 124h0M91 124h0M92 123h0M95 125h0M92 127h0M90 129h0M122 13h0M121 11h0M168 124h0M166 126h0M165 126h0M166 126h0M179 149h0M177 154h0M180 150h0M85 137h0M90 135h0M89 133h0M89 133h0M88 135h0M94 136h0M2 111h0M2 109h0M182 27h0M182 31h0M185 26h0M185 27h0M184 30h0" stroke-width="4"/></g></defs><rect width="100%" height="100%" fill="#fff"/><rect x="188.3" y="232.5" width="13.4" height="256.1" fill="#FF7F7F"/>
<line x1="195" y1="232.5" x2="195" y2="206.2" stroke="#000" stroke-width="2.8"/>
<line x1="191.7" y1="207.5" x2="198.3" y2="207.5" stroke="#000" stroke-width="2.6"/>
<rect x="208.5" y="232" width="13.4" height="256.6" fill="#00F000"/>
<line x1="215.2" y1="232" x2="215.2" y2="209.5" stroke="#000" stroke-width="2.8"/>
<line x1="211.9" y1="210.8" x2="218.5" y2="210.8" stroke="#000" stroke-width="2.6"/>
<rect x="228.6" y="233" width="13.4" height="255.6" fill="#5454FF"/>
<line x1="235.3" y1="233" x2="235.3" y2="218.4" stroke="#000" stroke-width="2.8"/>
<line x1="232" y1="219.7" x2="238.6" y2="219.7" stroke="#000" stroke-width="2.6"/>
<rect x="260.7" y="232.5" width="13.4" height="256.1" fill="#FF7F7F"/>
<line x1="267.4" y1="232.5" x2="267.4" y2="207.4" stroke="#000" stroke-width="2.8"/>
<line x1="264.1" y1="208.7" x2="270.7" y2="208.7" stroke="#000" stroke-width="2.6"/>
<rect x="280.9" y="236.9" width="13.4" height="251.7" fill="#00F000"/>
<line x1="287.6" y1="236.9" x2="287.6" y2="215.9" stroke="#000" stroke-width="2.8"/>
<line x1="284.3" y1="217.2" x2="290.9" y2="217.2" stroke="#000" stroke-width="2.6"/>
<rect x="301" y="236.9" width="13.4" height="251.7" fill="#5454FF"/>
<line x1="307.7" y1="236.9" x2="307.7" y2="226.1" stroke="#000" stroke-width="2.8"/>
<line x1="304.4" y1="227.4" x2="311" y2="227.4" stroke="#000" stroke-width="2.6"/>
<rect x="333.1" y="236.9" width="13.4" height="251.7" fill="#FF7F7F"/>
<line x1="339.8" y1="236.9" x2="339.8" y2="215.9" stroke="#000" stroke-width="2.8"/>
<line x1="336.5" y1="217.2" x2="343.1" y2="217.2" stroke="#000" stroke-width="2.6"/>
<rect x="353.3" y="240.7" width="13.4" height="247.9" fill="#00F000"/>
<line x1="360" y1="240.7" x2="360" y2="220.8" stroke="#000" stroke-width="2.8"/>
<line x1="356.7" y1="222.1" x2="363.3" y2="222.1" stroke="#000" stroke-width="2.6"/>
<rect x="373.4" y="242.8" width="13.4" height="245.8" fill="#5454FF"/>
<line x1="380.1" y1="242.8" x2="380.1" y2="222.3" stroke="#000" stroke-width="2.8"/>
<line x1="376.8" y1="223.6" x2="383.4" y2="223.6" stroke="#000" stroke-width="2.6"/>
<rect x="405.5" y="242.8" width="13.4" height="245.8" fill="#FF7F7F"/>
<line x1="412.2" y1="242.8" x2="412.2" y2="221.5" stroke="#000" stroke-width="2.8"/>
<line x1="408.9" y1="222.8" x2="415.5" y2="222.8" stroke="#000" stroke-width="2.6"/>
<rect x="425.7" y="247.4" width="13.4" height="241.2" fill="#00F000"/>
<line x1="432.4" y1="247.4" x2="432.4" y2="228.7" stroke="#000" stroke-width="2.8"/>
<line x1="429.1" y1="230" x2="435.7" y2="230" stroke="#000" stroke-width="2.6"/>
<rect x="445.8" y="250.7" width="13.4" height="237.9" fill="#5454FF"/>
<line x1="452.5" y1="250.7" x2="452.5" y2="233.6" stroke="#000" stroke-width="2.8"/>
<line x1="449.2" y1="234.9" x2="455.8" y2="234.9" stroke="#000" stroke-width="2.6"/>
<rect x="477.9" y="245.3" width="13.4" height="243.3" fill="#FF7F7F"/>
<line x1="484.6" y1="245.3" x2="484.6" y2="226.1" stroke="#000" stroke-width="2.8"/>
<line x1="481.3" y1="227.4" x2="487.9" y2="227.4" stroke="#000" stroke-width="2.6"/>
<rect x="498.1" y="257.6" width="13.4" height="231" fill="#00F000"/>
<line x1="504.8" y1="257.6" x2="504.8" y2="242" stroke="#000" stroke-width="2.8"/>
<line x1="501.5" y1="243.3" x2="508.1" y2="243.3" stroke="#000" stroke-width="2.6"/>
<rect x="518.2" y="258.1" width="13.4" height="230.5" fill="#5454FF"/>
<line x1="524.9" y1="258.1" x2="524.9" y2="242" stroke="#000" stroke-width="2.8"/>
<line x1="521.6" y1="243.3" x2="528.2" y2="243.3" stroke="#000" stroke-width="2.6"/>
<rect x="550.3" y="253.5" width="13.4" height="235.1" fill="#FF7F7F"/>
<line x1="557" y1="253.5" x2="557" y2="237.7" stroke="#000" stroke-width="2.8"/>
<line x1="553.7" y1="239" x2="560.3" y2="239" stroke="#000" stroke-width="2.6"/>
<rect x="570.5" y="265.8" width="13.4" height="222.8" fill="#00F000"/>
<line x1="577.2" y1="265.8" x2="577.2" y2="249.9" stroke="#000" stroke-width="2.8"/>
<line x1="573.9" y1="251.2" x2="580.5" y2="251.2" stroke="#000" stroke-width="2.6"/>
<rect x="590.6" y="282.2" width="13.4" height="206.4" fill="#5454FF"/>
<line x1="597.3" y1="282.2" x2="597.3" y2="259.4" stroke="#000" stroke-width="2.8"/>
<line x1="594" y1="260.7" x2="600.6" y2="260.7" stroke="#000" stroke-width="2.6"/>
<rect x="622.7" y="257.6" width="13.4" height="231" fill="#FF7F7F"/>
<line x1="629.4" y1="257.6" x2="629.4" y2="242.5" stroke="#000" stroke-width="2.8"/>
<line x1="626.1" y1="243.8" x2="632.7" y2="243.8" stroke="#000" stroke-width="2.6"/>
<rect x="642.9" y="278.6" width="13.4" height="210" fill="#00F000"/>
<line x1="649.6" y1="278.6" x2="649.6" y2="264.8" stroke="#000" stroke-width="2.8"/>
<line x1="646.3" y1="266.1" x2="652.9" y2="266.1" stroke="#000" stroke-width="2.6"/>
<rect x="663" y="306.8" width="13.4" height="181.8" fill="#5454FF"/>
<line x1="669.7" y1="306.8" x2="669.7" y2="290.9" stroke="#000" stroke-width="2.8"/>
<line x1="666.4" y1="292.2" x2="673" y2="292.2" stroke="#000" stroke-width="2.6"/>
<rect x="695.1" y="263" width="13.4" height="225.6" fill="#FF7F7F"/>
<line x1="701.8" y1="263" x2="701.8" y2="247.9" stroke="#000" stroke-width="2.8"/>
<line x1="698.5" y1="249.2" x2="705.1" y2="249.2" stroke="#000" stroke-width="2.6"/>
<rect x="715.3" y="296.8" width="13.4" height="191.8" fill="#00F000"/>
<line x1="722" y1="296.8" x2="722" y2="285.3" stroke="#000" stroke-width="2.8"/>
<line x1="718.7" y1="286.6" x2="725.3" y2="286.6" stroke="#000" stroke-width="2.6"/>
<rect x="735.4" y="335.2" width="13.4" height="153.4" fill="#5454FF"/>
<line x1="742.1" y1="335.2" x2="742.1" y2="321.1" stroke="#000" stroke-width="2.8"/>
<line x1="738.8" y1="322.4" x2="745.4" y2="322.4" stroke="#000" stroke-width="2.6"/>
<path d="M182 488.6V104.5H758V488.6H182" fill="none" stroke="#000" stroke-width="3.6"/>
<line x1="167" y1="488.6" x2="182" y2="488.6" stroke="#000" stroke-width="3.6"/>
<text x="159" y="498.4" font-size="27.5" text-anchor="end">0</text>
<line x1="167" y1="360.6" x2="182" y2="360.6" stroke="#000" stroke-width="3.6"/>
<text x="159" y="370.4" font-size="27.5" text-anchor="end">50</text>
<line x1="167" y1="232.5" x2="182" y2="232.5" stroke="#000" stroke-width="3.6"/>
<text x="159" y="242.3" font-size="27.5" text-anchor="end">100</text>
<line x1="167" y1="104.5" x2="182" y2="104.5" stroke="#000" stroke-width="3.6"/>
<text x="159" y="114.3" font-size="27.5" text-anchor="end">150</text>
<line x1="215.2" y1="488.6" x2="215.2" y2="504.6" stroke="#000" stroke-width="3.6"/>
<text x="215.2" y="535" font-size="28" text-anchor="middle">0</text>
<line x1="287.6" y1="488.6" x2="287.6" y2="504.6" stroke="#000" stroke-width="3.6"/>
<text x="287.6" y="535" font-size="28" text-anchor="middle">0.5</text>
<line x1="360" y1="488.6" x2="360" y2="504.6" stroke="#000" stroke-width="3.6"/>
<text x="360" y="535" font-size="28" text-anchor="middle">1</text>
<line x1="432.4" y1="488.6" x2="432.4" y2="504.6" stroke="#000" stroke-width="3.6"/>
<text x="432.4" y="535" font-size="28" text-anchor="middle">2</text>
<line x1="504.8" y1="488.6" x2="504.8" y2="504.6" stroke="#000" stroke-width="3.6"/>
<text x="504.8" y="535" font-size="28" text-anchor="middle">5</text>
<line x1="577.2" y1="488.6" x2="577.2" y2="504.6" stroke="#000" stroke-width="3.6"/>
<text x="577.2" y="535" font-size="28" text-anchor="middle">10</text>
<line x1="649.6" y1="488.6" x2="649.6" y2="504.6" stroke="#000" stroke-width="3.6"/>
<text x="649.6" y="535" font-size="28" text-anchor="middle">20</text>
<line x1="722" y1="488.6" x2="722" y2="504.6" stroke="#000" stroke-width="3.6"/>
<text x="722" y="535" font-size="28" text-anchor="middle">50</text>
<text x="403.3" y="54.9" font-size="31">Laser off</text>
<text x="7.5" y="117" font-size="33">A</text>
<text x="470" y="595.5" font-size="32" text-anchor="middle">Concentration (µg/mL)</text>
<text x="55.5" y="296" font-size="32" text-anchor="middle" transform="rotate(-90 55.5 296)">Cell Viability</text>
<text x="94" y="295.5" font-size="29" text-anchor="middle" transform="rotate(-90 94 295.5)">(% )</text>
<rect x="570.3" y="123.8" width="41" height="16.3" fill="#FF7F7F"/>
<text x="634.8" y="141.3" font-size="30.5" textLength="91.5" lengthAdjust="spacingAndGlyphs">g-C<tspan font-size="21" dy="6">3</tspan><tspan dy="-6">N</tspan><tspan font-size="21" dy="6">4</tspan></text>
<rect x="570.3" y="154.8" width="41" height="16.3" fill="#00F000"/>
<text x="634.8" y="173.2" font-size="30.5" textLength="78" lengthAdjust="spacingAndGlyphs">FGLM</text>
<rect x="570.3" y="185.8" width="41" height="16.3" fill="#5454FF"/>
<text x="634.8" y="203.6" font-size="30.5" textLength="97" lengthAdjust="spacingAndGlyphs">FGLMC</text>
<rect x="956.9" y="219.7" width="15" height="268.9" fill="#FF7F7F"/>
<line x1="964.4" y1="219.7" x2="964.4" y2="206.4" stroke="#000" stroke-width="2.8"/>
<line x1="961.1" y1="207.7" x2="967.7" y2="207.7" stroke="#000" stroke-width="2.6"/>
<rect x="980.5" y="221" width="15" height="267.6" fill="#00F000"/>
<line x1="988" y1="221" x2="988" y2="209.5" stroke="#000" stroke-width="2.8"/>
<line x1="984.7" y1="210.8" x2="991.3" y2="210.8" stroke="#000" stroke-width="2.6"/>
<rect x="1003.5" y="232.8" width="15" height="255.8" fill="#5454FF"/>
<line x1="1011" y1="232.8" x2="1011" y2="218.7" stroke="#000" stroke-width="2.8"/>
<line x1="1007.7" y1="220" x2="1014.3" y2="220" stroke="#000" stroke-width="2.6"/>
<rect x="1041" y="236.9" width="15" height="251.7" fill="#FF7F7F"/>
<line x1="1048.5" y1="236.9" x2="1048.5" y2="215.4" stroke="#000" stroke-width="2.8"/>
<line x1="1045.2" y1="216.7" x2="1051.8" y2="216.7" stroke="#000" stroke-width="2.6"/>
<rect x="1064.5" y="240" width="15" height="248.6" fill="#00F000"/>
<line x1="1072" y1="240" x2="1072" y2="219.7" stroke="#000" stroke-width="2.8"/>
<line x1="1068.8" y1="221" x2="1075.3" y2="221" stroke="#000" stroke-width="2.6"/>
<rect x="1087.5" y="241.8" width="15" height="246.8" fill="#5454FF"/>
<line x1="1095" y1="241.8" x2="1095" y2="227.4" stroke="#000" stroke-width="2.8"/>
<line x1="1091.8" y1="228.7" x2="1098.3" y2="228.7" stroke="#000" stroke-width="2.6"/>
<rect x="1125" y="236.4" width="15" height="252.2" fill="#FF7F7F"/>
<line x1="1132.5" y1="236.4" x2="1132.5" y2="215.9" stroke="#000" stroke-width="2.8"/>
<line x1="1129.2" y1="217.2" x2="1135.8" y2="217.2" stroke="#000" stroke-width="2.6"/>
<rect x="1148.6" y="297.1" width="15" height="191.5" fill="#00F000"/>
<line x1="1156.1" y1="297.1" x2="1156.1" y2="283.2" stroke="#000" stroke-width="2.8"/>
<line x1="1152.8" y1="284.5" x2="1159.4" y2="284.5" stroke="#000" stroke-width="2.6"/>
<rect x="1171.6" y="298.9" width="15" height="189.7" fill="#5454FF"/>
<line x1="1179.1" y1="298.9" x2="1179.1" y2="287.6" stroke="#000" stroke-width="2.8"/>
<line x1="1175.8" y1="288.9" x2="1182.4" y2="288.9" stroke="#000" stroke-width="2.6"/>
<rect x="1209.1" y="236.9" width="15" height="251.7" fill="#FF7F7F"/>
<line x1="1216.6" y1="236.9" x2="1216.6" y2="223.3" stroke="#000" stroke-width="2.8"/>
<line x1="1213.3" y1="224.6" x2="1219.9" y2="224.6" stroke="#000" stroke-width="2.6"/>
<rect x="1232.7" y="301.9" width="15" height="186.7" fill="#00F000"/>
<line x1="1240.2" y1="301.9" x2="1240.2" y2="289.4" stroke="#000" stroke-width="2.8"/>
<line x1="1236.9" y1="290.7" x2="1243.5" y2="290.7" stroke="#000" stroke-width="2.6"/>
<rect x="1255.7" y="315.2" width="15" height="173.4" fill="#5454FF"/>
<line x1="1263.2" y1="315.2" x2="1263.2" y2="301.7" stroke="#000" stroke-width="2.8"/>
<line x1="1259.9" y1="303" x2="1266.5" y2="303" stroke="#000" stroke-width="2.6"/>
<rect x="1293.1" y="243" width="15" height="245.6" fill="#FF7F7F"/>
<line x1="1300.6" y1="243" x2="1300.6" y2="226.1" stroke="#000" stroke-width="2.8"/>
<line x1="1297.3" y1="227.4" x2="1303.9" y2="227.4" stroke="#000" stroke-width="2.6"/>
<rect x="1316.7" y="312.2" width="15" height="176.4" fill="#00F000"/>
<line x1="1324.2" y1="312.2" x2="1324.2" y2="298.6" stroke="#000" stroke-width="2.8"/>
<line x1="1320.9" y1="299.9" x2="1327.5" y2="299.9" stroke="#000" stroke-width="2.6"/>
<rect x="1339.7" y="330.4" width="15" height="158.2" fill="#5454FF"/>
<line x1="1347.2" y1="330.4" x2="1347.2" y2="318.6" stroke="#000" stroke-width="2.8"/>
<line x1="1343.9" y1="319.9" x2="1350.5" y2="319.9" stroke="#000" stroke-width="2.6"/>
<rect x="1377.2" y="299.4" width="15" height="189.2" fill="#FF7F7F"/>
<line x1="1384.7" y1="299.4" x2="1384.7" y2="287.8" stroke="#000" stroke-width="2.8"/>
<line x1="1381.4" y1="289.1" x2="1388" y2="289.1" stroke="#000" stroke-width="2.6"/>
<rect x="1400.8" y="332.9" width="15" height="155.7" fill="#00F000"/>
<line x1="1408.2" y1="332.9" x2="1408.2" y2="321.1" stroke="#000" stroke-width="2.8"/>
<line x1="1405" y1="322.4" x2="1411.5" y2="322.4" stroke="#000" stroke-width="2.6"/>
<rect x="1423.8" y="365.9" width="15" height="122.7" fill="#5454FF"/>
<line x1="1431.2" y1="365.9" x2="1431.2" y2="354.7" stroke="#000" stroke-width="2.8"/>
<line x1="1428" y1="356" x2="1434.5" y2="356" stroke="#000" stroke-width="2.6"/>
<rect x="1461.2" y="378.7" width="15" height="109.9" fill="#FF7F7F"/>
<line x1="1468.7" y1="378.7" x2="1468.7" y2="370" stroke="#000" stroke-width="2.8"/>
<line x1="1465.4" y1="371.3" x2="1472" y2="371.3" stroke="#000" stroke-width="2.6"/>
<rect x="1484.8" y="404.9" width="15" height="83.7" fill="#00F000"/>
<line x1="1492.3" y1="404.9" x2="1492.3" y2="395.4" stroke="#000" stroke-width="2.8"/>
<line x1="1489" y1="396.7" x2="1495.6" y2="396.7" stroke="#000" stroke-width="2.6"/>
<rect x="1507.8" y="418.9" width="15" height="69.7" fill="#5454FF"/>
<line x1="1515.3" y1="418.9" x2="1515.3" y2="412.5" stroke="#000" stroke-width="2.8"/>
<line x1="1512" y1="413.8" x2="1518.6" y2="413.8" stroke="#000" stroke-width="2.6"/>
<path d="M950.5 488.6V104.5H1532.5V488.6H950.5" fill="none" stroke="#000" stroke-width="3.6"/>
<line x1="935.5" y1="488.6" x2="950.5" y2="488.6" stroke="#000" stroke-width="3.6"/>
<text x="927" y="498.4" font-size="27.5" text-anchor="end">0</text>
<line x1="935.5" y1="360.6" x2="950.5" y2="360.6" stroke="#000" stroke-width="3.6"/>
<text x="927" y="370.4" font-size="27.5" text-anchor="end">50</text>
<line x1="935.5" y1="232.5" x2="950.5" y2="232.5" stroke="#000" stroke-width="3.6"/>
<text x="927" y="242.3" font-size="27.5" text-anchor="end">100</text>
<line x1="935.5" y1="104.5" x2="950.5" y2="104.5" stroke="#000" stroke-width="3.6"/>
<text x="927" y="114.3" font-size="27.5" text-anchor="end">150</text>
<line x1="988" y1="488.6" x2="988" y2="504.6" stroke="#000" stroke-width="3.6"/>
<text x="988" y="535" font-size="28" text-anchor="middle">0</text>
<line x1="1072" y1="488.6" x2="1072" y2="504.6" stroke="#000" stroke-width="3.6"/>
<text x="1072" y="535" font-size="28" text-anchor="middle">0.5</text>
<line x1="1156.1" y1="488.6" x2="1156.1" y2="504.6" stroke="#000" stroke-width="3.6"/>
<text x="1156.1" y="535" font-size="28" text-anchor="middle">1</text>
<line x1="1240.2" y1="488.6" x2="1240.2" y2="504.6" stroke="#000" stroke-width="3.6"/>
<text x="1240.2" y="535" font-size="28" text-anchor="middle">2</text>
<line x1="1324.2" y1="488.6" x2="1324.2" y2="504.6" stroke="#000" stroke-width="3.6"/>
<text x="1324.2" y="535" font-size="28" text-anchor="middle">5</text>
<line x1="1408.2" y1="488.6" x2="1408.2" y2="504.6" stroke="#000" stroke-width="3.6"/>
<text x="1408.2" y="535" font-size="28" text-anchor="middle">10</text>
<line x1="1492.3" y1="488.6" x2="1492.3" y2="504.6" stroke="#000" stroke-width="3.6"/>
<text x="1492.3" y="535" font-size="28" text-anchor="middle">20</text>
<text x="1241.5" y="53.7" font-size="31" text-anchor="middle">Laser on</text>
<text x="804" y="116.8" font-size="33">B</text>
<text x="1240" y="595.5" font-size="32" text-anchor="middle">Concentration (µg/mL)</text>
<text x="821.6" y="296" font-size="32" text-anchor="middle" transform="rotate(-90 821.6 296)">Cell Viability</text>
<text x="860" y="295.5" font-size="29" text-anchor="middle" transform="rotate(-90 860 295.5)">(% )</text>
<rect x="1344" y="123.4" width="41.5" height="16.8" fill="#FF7F7F"/>
<text x="1409.6" y="141" font-size="30.5" textLength="93" lengthAdjust="spacingAndGlyphs">g-C<tspan font-size="21" dy="6">3</tspan><tspan dy="-6">N</tspan><tspan font-size="21" dy="6">4</tspan></text>
<rect x="1344" y="159" width="41.5" height="16.8" fill="#00F000"/>
<text x="1409.6" y="177.1" font-size="30.5" textLength="78.5" lengthAdjust="spacingAndGlyphs">FGLM</text>
<rect x="1344" y="193.5" width="41.5" height="16.8" fill="#5454FF"/>
<text x="1409.6" y="211.6" font-size="30.5" textLength="98.5" lengthAdjust="spacingAndGlyphs">FGLMC</text>
<rect x="1745.1" y="258.4" width="83" height="250.6" fill="#FF7F7F"/>
<line x1="1786.6" y1="258.4" x2="1786.6" y2="236.1" stroke="#000" stroke-width="3"/>
<line x1="1766.6" y1="236.1" x2="1806.6" y2="236.1" stroke="#000" stroke-width="3.2"/>
<rect x="1871.3" y="323.8" width="83" height="185.2" fill="#00F000"/>
<line x1="1912.8" y1="323.8" x2="1912.8" y2="315.5" stroke="#000" stroke-width="3"/>
<line x1="1892.8" y1="315.5" x2="1932.8" y2="315.5" stroke="#000" stroke-width="3.2"/>
<rect x="1996.7" y="382.3" width="83" height="126.7" fill="#5454FF"/>
<line x1="2038.2" y1="382.3" x2="2038.2" y2="357.9" stroke="#000" stroke-width="3"/>
<line x1="2018.2" y1="357.9" x2="2058.2" y2="357.9" stroke="#000" stroke-width="3.2"/>
<path d="M1702.7 509V91.3H2122V509H1702.7" fill="none" stroke="#000" stroke-width="3.6"/>
<line x1="1682" y1="509" x2="1702.7" y2="509" stroke="#000" stroke-width="3.6"/>
<text x="1676" y="518.8" font-size="27" text-anchor="end">0</text>
<line x1="1682" y1="369.8" x2="1702.7" y2="369.8" stroke="#000" stroke-width="3.6"/>
<text x="1676" y="379.6" font-size="27" text-anchor="end">10</text>
<line x1="1682" y1="230.5" x2="1702.7" y2="230.5" stroke="#000" stroke-width="3.6"/>
<text x="1676" y="240.3" font-size="27" text-anchor="end">20</text>
<line x1="1682" y1="91.3" x2="1702.7" y2="91.3" stroke="#000" stroke-width="3.6"/>
<text x="1676" y="101.1" font-size="27" text-anchor="end">30</text>
<line x1="1786.6" y1="509" x2="1786.6" y2="527" stroke="#000" stroke-width="3.6"/>
<line x1="1912.8" y1="509" x2="1912.8" y2="527" stroke="#000" stroke-width="3.6"/>
<line x1="2038.2" y1="509" x2="2038.2" y2="527" stroke="#000" stroke-width="3.6"/>
<text x="1785.8" y="559.8" font-size="30.5" text-anchor="middle" textLength="92" lengthAdjust="spacingAndGlyphs">g-C<tspan font-size="21" dy="7">3</tspan><tspan dy="-7">N</tspan><tspan font-size="21" dy="7">4</tspan></text>
<text x="1911.6" y="559.8" font-size="30.5" text-anchor="middle" textLength="80" lengthAdjust="spacingAndGlyphs">FGLM</text>
<text x="2037.3" y="559.8" font-size="30.5" text-anchor="middle" textLength="100" lengthAdjust="spacingAndGlyphs">FGLMC</text>
<text x="1913.6" y="36.4" font-size="31" text-anchor="middle">Laser on</text>
<text x="1581" y="116.8" font-size="34">C</text>
<path d="M1786.6 172V150.8H2038.2V172M1786.6 221.4V200.3H1913.7V221.4" fill="none" stroke="#000" stroke-width="3"/>
<text x="1913.5" y="147" font-size="26" text-anchor="middle" letter-spacing="3">***</text>
<text x="1852" y="196" font-size="26" text-anchor="middle" letter-spacing="3">**</text>
<text x="1619.5" y="298.7" font-size="31" text-anchor="middle" textLength="200" lengthAdjust="spacing" transform="rotate(-90 1619.5 298.7)">IC<tspan font-size="23" dy="7">50</tspan><tspan dy="-7"> (µg/mL)</tspan></text>
<rect x="1544.8" y="1024.2" width="30" height="35.8" fill="#FF0000"/>
<rect x="1590.1" y="1020.4" width="30" height="39.6" fill="#00C200"/>
<rect x="1665.5" y="939.6" width="30" height="120.4" fill="#FF0000"/>
<rect x="1710.8" y="929.5" width="30" height="130.5" fill="#00C200"/>
<rect x="1786.1" y="927.4" width="30" height="132.6" fill="#FF0000"/>
<rect x="1831.4" y="900" width="30" height="160" fill="#00C200"/>
<rect x="1906.8" y="905.4" width="30" height="154.6" fill="#FF0000"/>
<rect x="1952" y="723.2" width="30" height="336.8" fill="#00C200"/>
<rect x="2027.4" y="893.7" width="30" height="166.3" fill="#FF0000"/>
<rect x="2072.7" y="701.4" width="30" height="358.6" fill="#00C200"/>
<path d="M1529.8 1060V677.3H2120V1060H1529.8" fill="none" stroke="#000" stroke-width="3.4"/>
<line x1="1514.8" y1="1060" x2="1529.8" y2="1060" stroke="#000" stroke-width="3.4"/>
<text x="1505" y="1069.5" font-size="27" text-anchor="end">0</text>
<line x1="1514.8" y1="964.3" x2="1529.8" y2="964.3" stroke="#000" stroke-width="3.4"/>
<text x="1505" y="973.8" font-size="27" text-anchor="end">5</text>
<line x1="1514.8" y1="868.6" x2="1529.8" y2="868.6" stroke="#000" stroke-width="3.4"/>
<text x="1505" y="878.1" font-size="27" text-anchor="end">10</text>
<line x1="1514.8" y1="773" x2="1529.8" y2="773" stroke="#000" stroke-width="3.4"/>
<text x="1505" y="782.5" font-size="27" text-anchor="end">15</text>
<line x1="1514.8" y1="677.3" x2="1529.8" y2="677.3" stroke="#000" stroke-width="3.4"/>
<text x="1505" y="686.8" font-size="27" text-anchor="end">20</text>
<line x1="1583.1" y1="1060" x2="1583.1" y2="1075" stroke="#000" stroke-width="3.4"/>
<text x="1583.1" y="1105" font-size="28.5" text-anchor="middle" letter-spacing=".8">Control</text>
<line x1="1703.4" y1="1060" x2="1703.4" y2="1075" stroke="#000" stroke-width="3.4"/>
<text x="1703.4" y="1105" font-size="28.5" text-anchor="middle" letter-spacing=".8">LND</text>
<line x1="1823.7" y1="1060" x2="1823.7" y2="1075" stroke="#000" stroke-width="3.4"/>
<text x="1823.7" y="1105" font-size="28.5" text-anchor="middle" letter-spacing=".8">MLND</text>
<line x1="1944" y1="1060" x2="1944" y2="1075" stroke="#000" stroke-width="3.4"/>
<text x="1944" y="1105" font-size="28.5" text-anchor="middle" letter-spacing=".8">FGLM</text>
<line x1="2064.3" y1="1060" x2="2064.3" y2="1075" stroke="#000" stroke-width="3.4"/>
<text x="2064.3" y="1105" font-size="28.5" text-anchor="middle" letter-spacing=".8">FGLMC</text>
<rect x="1564.7" y="707" width="41" height="17.5" fill="#FF0000"/>
<rect x="1564.7" y="745.6" width="41" height="17.5" fill="#00C200"/>
<text x="1630.7" y="725.5" font-size="29">Laser off</text>
<text x="1630.7" y="764.1" font-size="29">Laser on</text>
<text x="1415.3" y="868.6" font-size="33" text-anchor="middle" textLength="230.4" lengthAdjust="spacingAndGlyphs" transform="rotate(-90 1415.3 868.6)">Early apoptosis</text>
<text x="1455.7" y="862.8" font-size="33" text-anchor="middle" textLength="322" lengthAdjust="spacingAndGlyphs" transform="rotate(-90 1455.7 862.8)">(% of total population)</text>
<text x="1299" y="686" font-size="32">F</text>
<rect x="1540.8" y="1541.9" width="30" height="7.8" fill="#FF0000"/>
<rect x="1586.1" y="1540.8" width="30" height="8.9" fill="#00C200"/>
<rect x="1661.6" y="1505.7" width="30" height="44" fill="#FF0000"/>
<rect x="1706.9" y="1491.5" width="30" height="58.2" fill="#00C200"/>
<rect x="1782.4" y="1421.5" width="30" height="128.2" fill="#FF0000"/>
<rect x="1827.7" y="1425.7" width="30" height="124" fill="#00C200"/>
<rect x="1903.2" y="1376.3" width="30" height="173.4" fill="#FF0000"/>
<rect x="1948.5" y="1267.2" width="30" height="282.5" fill="#00C200"/>
<rect x="2024" y="1331.5" width="30" height="218.2" fill="#FF0000"/>
<rect x="2069.3" y="1256.1" width="30" height="293.6" fill="#00C200"/>
<path d="M1526 1549.7V1166.9H2117V1549.7H1526" fill="none" stroke="#000" stroke-width="3.4"/>
<line x1="1511" y1="1549.7" x2="1526" y2="1549.7" stroke="#000" stroke-width="3.4"/>
<text x="1500" y="1559.2" font-size="27" text-anchor="end">0</text>
<line x1="1511" y1="1473.1" x2="1526" y2="1473.1" stroke="#000" stroke-width="3.4"/>
<text x="1500" y="1482.6" font-size="27" text-anchor="end">20</text>
<line x1="1511" y1="1396.6" x2="1526" y2="1396.6" stroke="#000" stroke-width="3.4"/>
<text x="1500" y="1406.1" font-size="27" text-anchor="end">40</text>
<line x1="1511" y1="1320" x2="1526" y2="1320" stroke="#000" stroke-width="3.4"/>
<text x="1500" y="1329.5" font-size="27" text-anchor="end">60</text>
<line x1="1511" y1="1243.5" x2="1526" y2="1243.5" stroke="#000" stroke-width="3.4"/>
<text x="1500" y="1253" font-size="27" text-anchor="end">80</text>
<line x1="1511" y1="1166.9" x2="1526" y2="1166.9" stroke="#000" stroke-width="3.4"/>
<text x="1500" y="1176.4" font-size="27" text-anchor="end">100</text>
<line x1="1578.4" y1="1549.7" x2="1578.4" y2="1564.7" stroke="#000" stroke-width="3.4"/>
<text x="1578.4" y="1594.4" font-size="28.5" text-anchor="middle" letter-spacing=".8">Control</text>
<line x1="1699.2" y1="1549.7" x2="1699.2" y2="1564.7" stroke="#000" stroke-width="3.4"/>
<text x="1699.2" y="1594.4" font-size="28.5" text-anchor="middle" letter-spacing=".8">LND</text>
<line x1="1820" y1="1549.7" x2="1820" y2="1564.7" stroke="#000" stroke-width="3.4"/>
<text x="1820" y="1594.4" font-size="28.5" text-anchor="middle" letter-spacing=".8">MLND</text>
<line x1="1940.8" y1="1549.7" x2="1940.8" y2="1564.7" stroke="#000" stroke-width="3.4"/>
<text x="1940.8" y="1594.4" font-size="28.5" text-anchor="middle" letter-spacing=".8">FGLM</text>
<line x1="2061.6" y1="1549.7" x2="2061.6" y2="1564.7" stroke="#000" stroke-width="3.4"/>
<text x="2061.6" y="1594.4" font-size="28.5" text-anchor="middle" letter-spacing=".8">FGLMC</text>
<rect x="1555.2" y="1198.5" width="41" height="17.5" fill="#FF0000"/>
<rect x="1555.2" y="1238.5" width="41" height="17.5" fill="#00C200"/>
<text x="1621.2" y="1217" font-size="29">Laser off</text>
<text x="1621.2" y="1257" font-size="29">Laser on</text>
<text x="1394" y="1358.4" font-size="30" text-anchor="middle" font-family="Liberation Serif, Times New Roman, serif" textLength="192" lengthAdjust="spacingAndGlyphs" transform="rotate(-90 1394 1358.4)">Late apoptosis</text>
<text x="1432.5" y="1362.2" font-size="30" text-anchor="middle" font-family="Liberation Serif, Times New Roman, serif" textLength="338" lengthAdjust="spacing" transform="rotate(-90 1432.5 1362.2)">( % of total population )</text>
<text x="1300" y="1166.4" font-size="33">G</text>
<svg x="246.9" y="685.5" width="230.6" height="231.5" viewBox="0 0 230.6 231.5">
<rect width="240" height="240" fill="url(#bf1)"/>
<use href="#c1" stroke="#404040" stroke-opacity="0.2" filter="url(#b6)"/>
</svg>
<svg x="246.9" y="920.4" width="230.6" height="232.1" viewBox="0 0 230.6 232.1">
<rect width="240" height="240" fill="url(#bf2)"/>
<use href="#c2" stroke="#e8e8e8" stroke-opacity="0.35" filter="url(#b10)" transform="translate(2.3 2.3)"/><use href="#c2" stroke="#303030" stroke-opacity="0.55" filter="url(#b10)"/>
</svg>
<svg x="246.9" y="1159.8" width="230.6" height="231.5" viewBox="0 0 230.6 231.5">
<rect width="240" height="240" fill="url(#bf2)"/>
<use href="#c3" stroke="#e8e8e8" stroke-opacity="0.35" filter="url(#b10)" transform="translate(2.3 2.3)"/><use href="#c3" stroke="#303030" stroke-opacity="0.55" filter="url(#b10)"/>
</svg>
<svg x="246.9" y="1396.3" width="230.6" height="232" viewBox="0 0 230.6 232">
<rect width="240" height="240" fill="url(#bf4)"/>
<use href="#c4" stroke="#404040" stroke-opacity="0.2" filter="url(#b6)"/>
</svg>
<svg x="483.9" y="685.5" width="231.2" height="231.5" viewBox="0 0 231.2 231.5">
<rect width="240" height="240" fill="#000"/>
<use href="#c6" stroke="#1ab41a" stroke-opacity="0.6" filter="url(#b6)"/><use href="#c5" stroke="#22d822" filter="url(#b6)"/>
</svg>
<svg x="719.3" y="685.5" width="231.1" height="231.5" viewBox="0 0 231.1 231.5">
<rect width="240" height="240" fill="#000"/>

</svg>
<svg x="956.3" y="685.5" width="228.8" height="231.5" viewBox="0 0 228.8 231.5">
<rect width="240" height="240" fill="url(#mg1)"/>
<use href="#c1" stroke="#404040" stroke-opacity="0.12" filter="url(#b6)"/><use href="#c6" stroke="#6fc86f" stroke-opacity="0.6" filter="url(#b6)"/><use href="#c5" stroke="#66ec66" filter="url(#b6)"/>
</svg>
<svg x="483.9" y="920.4" width="231.2" height="232.1" viewBox="0 0 231.2 232.1">
<rect width="240" height="240" fill="#000"/>
<circle cx="117" cy="118" r="3" fill="#22dd22" filter="url(#b6)"/>
</svg>
<svg x="719.3" y="920.4" width="231.1" height="232.1" viewBox="0 0 231.1 232.1">
<rect width="240" height="240" fill="#000"/>
<use href="#c7" stroke="#ea1c1c" filter="url(#b6)"/>
</svg>
<svg x="956.3" y="920.4" width="228.8" height="232.1" viewBox="0 0 228.8 232.1">
<rect width="240" height="240" fill="url(#mg2)"/>
<use href="#c2" stroke="#e0e0e0" stroke-opacity="0.25" filter="url(#b10)" transform="translate(2.3 2.3)"/><use href="#c2" stroke="#303030" stroke-opacity="0.45" filter="url(#b10)"/><use href="#c7" stroke="#e66a6a" filter="url(#b6)"/><circle cx="117" cy="118" r="3" fill="#dde040"/>
</svg>
<svg x="483.9" y="1159.8" width="231.2" height="231.5" viewBox="0 0 231.2 231.5">
<rect width="240" height="240" fill="#000"/>
<use href="#c8" stroke="#20d020" filter="url(#b6)"/><ellipse cx="101" cy="13" rx="6.5" ry="7.5" fill="#22ee22" filter="url(#b6)"/>
</svg>
<svg x="719.3" y="1159.8" width="231.1" height="231.5" viewBox="0 0 231.1 231.5">
<rect width="240" height="240" fill="#000"/>
<use href="#c9" stroke="#b41212" filter="url(#b6)"/>
</svg>
<svg x="956.3" y="1159.8" width="228.8" height="231.5" viewBox="0 0 228.8 231.5">
<rect width="240" height="240" fill="url(#mg2)"/>
<use href="#c3" stroke="#e0e0e0" stroke-opacity="0.25" filter="url(#b10)" transform="translate(2.3 2.3)"/><use href="#c3" stroke="#303030" stroke-opacity="0.45" filter="url(#b10)"/><use href="#c8" stroke="#66dd55" filter="url(#b6)"/><use href="#c9" stroke="#d0c050" stroke-opacity="0.7" filter="url(#b6)"/><ellipse cx="101" cy="13" rx="6" ry="7" fill="#44ee44"/>
</svg>
<svg x="483.9" y="1396.3" width="231.2" height="232" viewBox="0 0 231.2 232">
<rect width="240" height="240" fill="#000"/>

</svg>
<svg x="719.3" y="1396.3" width="231.1" height="232" viewBox="0 0 231.1 232">
<rect width="240" height="240" fill="#000"/>
<use href="#c10" stroke="#ee1818" filter="url(#b6)"/>
</svg>
<svg x="956.3" y="1396.3" width="228.8" height="232" viewBox="0 0 228.8 232">
<rect width="240" height="240" fill="url(#mg3)"/>
<use href="#c4" stroke="#404040" stroke-opacity="0.12" filter="url(#b6)"/><use href="#c10" stroke="#ec6e6e" filter="url(#b6)"/>
</svg>
<text x="373" y="664.4" font-size="28" text-anchor="middle" font-family="Noto Sans CJK SC, Liberation Sans, sans-serif">Bright field</text>
<text x="630.4" y="664.4" font-size="28" text-anchor="middle" font-family="Noto Sans CJK SC, Liberation Sans, sans-serif">FITC field</text>
<text x="856.4" y="664.4" font-size="28" text-anchor="middle" font-family="Noto Sans CJK SC, Liberation Sans, sans-serif">PI field</text>
<text x="1071.8" y="664.4" font-size="28" text-anchor="middle" font-family="Noto Sans CJK SC, Liberation Sans, sans-serif">Merged</text>
<text x="110.7" y="830" font-size="25" font-family="Noto Sans CJK SC, Liberation Sans, sans-serif">Control</text>
<text x="77" y="1066.5" font-size="25" font-family="Noto Sans CJK SC, Liberation Sans, sans-serif">FGLM+Laser</text>
<text x="136.6" y="1289" font-size="25" font-family="Noto Sans CJK SC, Liberation Sans, sans-serif">FGLMC</text>
<text x="56" y="1523.5" font-size="25" font-family="Noto Sans CJK SC, Liberation Sans, sans-serif">FGLMC+Laser</text>
<text x="18" y="686.5" font-size="33">D</text>
<g transform="translate(206.3 1758.70) scale(2.0)" fill="none" stroke="#f00" stroke-width="1"><path d="M126 28h1m20 0h1M153 31h1M149 32h1M129 33h1M134 34h1m11 0h1M130 37h1m20 0h1M122 38h1M124 39h1m6 0h1M101 40h1M152 41h1M96 42h1m25 0h1M105 43h1m19 0h1m7 0h1m6 0h1m3 0h1M119 44h1m3 0h1m12 0h1M112 45h1m22 0h1m6 0h1M117 46h1m2 0h1m9 0h1m30 0h1M127 47h1m3 0h1M110 48h1m6 0h1m11 0h1M99 49h1m8 0h1m4 0h1m8 0h1m6 0h1m1 0h1m3 0h2m7 0h1M103 50h1m12 0h1m3 0h2m8 0h1M102 51h1m13 0h1m8 0h1m24 0h1m4 0h1m2 0h1M105 52h1m19 0h1m4 0h1m4 0h1M87 53h1m10 0h1m18 0h1m10 0h1m9 0h1M115 54h1m5 0h1m7 0h1m3 0h1m1 0h1M110 55h1m6 0h1m20 0h1M101 56h2m14 0h1m4 0h1m7 0h2m4 0h1M108 57h1m10 0h1m2 0h1m4 0h1m2 0h2m15 0h1M104 58h1m6 0h1m1 0h1m16 0h3m5 0h1m6 0h1M96 59h1m2 0h2m12 0h1m6 0h1m4 0h1m2 0h2m1 0h1m2 0h1M103 60h1m1 0h1m2 0h1m24 0h2m2 0h1M100 61h1m5 0h1m9 0h2m2 0h3m12 0h1M89 62h1m13 0h1m13 0h1m6 0h1m16 0h1M101 63h1m5 0h1m13 0h1m5 0h1m2 0h2m11 0h1M97 64h1m10 0h1m1 0h1m2 0h1m12 0h1m3 0h1M98 65h1m15 0h1m6 0h1M82 66h1m18 0h1m4 0h1m1 0h1m9 0h1m4 0h1m1 0h1m3 0h1m5 0h1M102 67h2m1 0h1m1 0h1m6 0h1m18 0h1m7 0h1M101 68h1m1 0h1m7 0h1m7 0h1m4 0h1m5 0h3M86 69h1m10 0h1m5 0h1m12 0h1m16 0h1m3 0h1M71 70h1m8 0h1m21 0h2m9 0h1m4 0h2m2 0h1m2 0h1m6 0h1m2 0h1M88 71h2m13 0h3m5 0h1m1 0h1m12 0h1m7 0h1M91 72h2m5 0h1m4 0h1m1 0h2m4 0h1m13 0h1M92 73h1m2 0h1m5 0h1m2 0h1m2 0h1m2 0h1m1 0h1m6 0h2M79 74h1m22 0h1m3 0h1m1 0h1m3 0h3m8 0h1M82 75h1m6 0h1m6 0h1m7 0h2m9 0h3M84 76h1m14 0h2m6 0h1m2 0h1m4 0h1m1 0h1m3 0h1m4 0h1M96 77h1m4 0h1m50 0h1M73 78h1m11 0h1m8 0h1m3 0h1m1 0h1m4 0h1m1 0h1M89 79h1M72 80h1m31 0h1m10 0h1M93 81h1m6 0h1m7 0h1M106 82h1m3 0h3m5 0h1M97 83h1m8 0h1M92 84h1m3 0h2m8 0h1m17 0h1m15 0h1M79 85h1m9 0h1m4 0h1m33 0h1M94 86h1m8 0h1M101 87h1M89 88h1m18 0h2m1 0h1m14 0h1m2 0h1M88 89h1m9 0h1M54 90h1m54 0h1m26 0h1M77 91h1m9 0h1m4 0h1m7 0h1m8 0h1m7 0h1m13 0h1M60 92h1m2 0h1m10 0h1m1 0h1m2 0h1m6 0h1m1 0h1m28 0h1M48 93h1m10 0h1m4 0h1m22 0h1m2 0h1m55 0h1M66 94h1m1 0h1m16 0h1m23 0h1M49 95h1m5 0h2m1 0h1m12 0h1m11 0h1m31 0h2M56 96h1m1 0h1m20 0h1m3 0h1m6 0h1m4 0h2m39 0h1M36 97h1m22 0h1m5 0h1m3 0h2m6 0h1m3 0h1m13 0h1m1 0h1m28 0h1M44 98h1m14 0h2m3 0h3m4 0h1m15 0h1m41 0h1M56 99h1m4 0h1m2 0h1m3 0h1m5 0h3m9 0h1m3 0h1m19 0h1M39 100h1m11 0h1m6 0h1m8 0h2m4 0h1m4 0h3m15 0h1m2 0h1m24 0h1m14 0h1M41 101h1m5 0h1m1 0h1m14 0h1m8 0h1m4 0h1m3 0h1m9 0h1m13 0h1M42 102h1m4 0h1m3 0h1m2 0h1m9 0h1m2 0h2m1 0h1m3 0h2m2 0h2m6 0h1m7 0h2m52 0h1M36 103h1m8 0h2m10 0h4m8 0h2m8 0h1m2 0h1m4 0h1m3 0h1m3 0h1m29 0h1m2 0h1m5 0h1M28 104h1m13 0h1m1 0h1m1 0h1m2 0h1m1 0h1m6 0h1m10 0h2m12 0h1m14 0h1m16 0h1m12 0h1M34 105h1m20 0h1m2 0h2m2 0h1m2 0h4m2 0h1m1 0h1m1 0h1m12 0h3m20 0h1M30 106h1m5 0h1m4 0h1m3 0h1m5 0h1m4 0h2m1 0h1m1 0h1m1 0h3m2 0h1m4 0h1m3 0h2m2 0h1m4 0h1m23 0h1m8 0h1m2 0h1m2 0h1m1 0h1m10 0h1m4 0h1M41 107h1m3 0h3m1 0h1m1 0h4m3 0h3m6 0h1m1 0h5m2 0h1m4 0h1m4 0h1m5 0h2m7 0h1m21 0h1m9 0h1M32 108h1m1 0h1m10 0h1m2 0h1m3 0h1m8 0h3m1 0h2m6 0h2m5 0h2m2 0h2m5 0h1m18 0h2m7 0h1m9 0h1m9 0h1M31 109h1m6 0h2m6 0h1m3 0h1m5 0h1m1 0h1m2 0h1m1 0h1m4 0h2m1 0h1m3 0h1m1 0h1m1 0h1m4 0h1m1 0h1m8 0h1m7 0h2m10 0h1m3 0h1m5 0h1m20 0h1m1 0h1M37 110h1m5 0h3m1 0h2m1 0h2m1 0h2m1 0h1m2 0h2m2 0h1m1 0h3m6 0h2m5 0h1m8 0h1m1 0h1m7 0h1m3 0h1m19 0h1M25 111h1m7 0h1m4 0h1m7 0h1m2 0h3m2 0h1m3 0h1m1 0h1m2 0h1m7 0h3m2 0h1m3 0h1m2 0h2m4 0h1m17 0h1m18 0h1m11 0h1m3 0h1M23 112h2m4 0h1m4 0h1m4 0h1m2 0h2m1 0h1m7 0h1m3 0h1m6 0h1m1 0h1m8 0h2m5 0h1m1 0h2m1 0h1m4 0h1m8 0h1m6 0h1m13 0h1m17 0h1M29 113h1m6 0h2m2 0h2m1 0h4m5 0h1m3 0h1m3 0h1m5 0h4m1 0h1m1 0h5m2 0h1m3 0h1m1 0h5m2 0h1m7 0h1m5 0h1m9 0h1m7 0h1m17 0h1M33 114h1m2 0h1m1 0h2m1 0h4m1 0h1m20 0h2m17 0h1m2 0h2m20 0h1m4 0h1m6 0h1M28 115h1m2 0h1m3 0h1m2 0h2m7 0h1m3 0h1m4 0h1m3 0h1m4 0h1m1 0h1m4 0h1m2 0h2m9 0h1m2 0h1m6 0h1m21 0h1m1 0h1m14 0h1M11 116h1m17 0h3m1 0h1m4 0h1m2 0h2m3 0h1m1 0h1m8 0h1m11 0h1m1 0h1m1 0h1m3 0h2m3 0h2m3 0h1m6 0h1m7 0h1m2 0h1m10 0h1m14 0h1M29 117h2m4 0h2m2 0h1m2 0h1m2 0h1m2 0h1m8 0h1m16 0h1m3 0h2m2 0h1m3 0h1m5 0h1m16 0h2m1 0h1m2 0h1m2 0h1m5 0h2m2 0h1M27 118h1m5 0h1m2 0h1m1 0h1m3 0h1m2 0h1m3 0h1m1 0h1m15 0h1m3 0h1m3 0h1m1 0h2m2 0h1m2 0h1m16 0h1m11 0h1m15 0h2M26 119h1m4 0h2m1 0h2m4 0h1m2 0h2m14 0h1m8 0h1m6 0h1m2 0h2m1 0h2m6 0h1m1 0h1m3 0h1m2 0h1m15 0h1m7 0h1M22 120h1m2 0h1m1 0h1m3 0h1m2 0h1m5 0h1m5 0h2m9 0h1m9 0h1m3 0h2m1 0h1m4 0h1m1 0h1m2 0h4m1 0h1m1 0h1m5 0h1m10 0h1m3 0h1m4 0h1m2 0h1m4 0h2m1 0h1m4 0h1m2 0h1M18 121h2m9 0h2m4 0h1m1 0h1m41 0h1m1 0h1m2 0h1m14 0h1m8 0h1m9 0h2m10 0h1M28 122h1m3 0h2m2 0h1m2 0h1m31 0h1m1 0h1m4 0h1m2 0h2m2 0h1m1 0h2m3 0h2m6 0h1m6 0h1m1 0h1m1 0h1m12 0h1m4 0h1M21 123h1m2 0h2m1 0h1m3 0h4m5 0h1m33 0h1m4 0h3m1 0h3m15 0h1m7 0h1m15 0h1m11 0h1M11 124h1m13 0h1m3 0h1m1 0h1m3 0h1m1 0h1m42 0h1m2 0h1m3 0h2m4 0h1m3 0h2m3 0h1m1 0h2m8 0h1m1 0h1m4 0h1m1 0h1m2 0h2m12 0h1M7 125h1m12 0h1m5 0h4m45 0h1m3 0h1m3 0h1m1 0h2m15 0h1m21 0h1m13 0h1M24 126h1m1 0h1m4 0h2m8 0h1m36 0h1m1 0h1m3 0h1m2 0h2m1 0h1m11 0h1m1 0h1m1 0h1m10 0h1m8 0h2m2 0h1m17 0h1M17 127h2m2 0h1m1 0h1m1 0h1m2 0h1m3 0h2m1 0h1m35 0h1m3 0h2m2 0h1m3 0h2m2 0h1m12 0h1m11 0h1m3 0h1m1 0h1m2 0h1m3 0h1m1 0h1m8 0h1M0 128h1m15 0h1m3 0h2m1 0h2m7 0h2m42 0h1m2 0h1m1 0h1m23 0h1m1 0h1m4 0h1m3 0h1m1 0h1m5 0h1m1 0h1m2 0h2M12 129h1m6 0h1m2 0h1m7 0h1m49 0h1m2 0h1m2 0h1m2 0h2m3 0h1m11 0h2m2 0h2m6 0h1m5 0h1m11 0h1M14 130h1m9 0h1m2 0h3m7 0h1m34 0h1m5 0h1m1 0h3m8 0h1m3 0h1m7 0h1m3 0h1m3 0h1m3 0h1m1 0h1m7 0h1m6 0h2m3 0h1m5 0h1M8 131h1m12 0h1m59 0h2m1 0h1m4 0h1m5 0h1m5 0h1m1 0h1m1 0h1m10 0h2m1 0h1m5 0h1m3 0h2m1 0h1M15 132h1m4 0h1m3 0h1m50 0h1m1 0h1m3 0h1m5 0h1m3 0h1m11 0h1m7 0h1m11 0h1m2 0h1m1 0h1m5 0h1m7 0h1M7 133h1m4 0h2m1 0h1m1 0h1m3 0h2m2 0h1m3 0h1m37 0h1m9 0h1m1 0h3m5 0h1m2 0h1m2 0h1m1 0h1m1 0h1m8 0h1m3 0h1m5 0h1m6 0h1m5 0h1m9 0h1m2 0h1M11 134h2m5 0h2m1 0h1m4 0h3m43 0h1m5 0h1m2 0h2m10 0h2m7 0h1m6 0h1m14 0h1m5 0h1m2 0h1M4 135h1m8 0h1m4 0h1m4 0h1m5 0h1m2 0h1m39 0h2m5 0h1m2 0h1m9 0h1m14 0h1m5 0h1m3 0h1M13 136h1m3 0h1m2 0h1m4 0h1m1 0h1m55 0h2m1 0h1m1 0h1m6 0h1m16 0h1m11 0h1m1 0h1M6 137h1m7 0h2m2 0h3m3 0h1m44 0h1m4 0h1m9 0h1m2 0h1m22 0h1m10 0h1m9 0h1m1 0h1M4 138h1m3 0h1m1 0h1m2 0h1m2 0h2m5 0h1m48 0h3m3 0h2m2 0h4m2 0h2m4 0h1m1 0h1m8 0h2m6 0h1m1 0h1M11 139h1m1 0h1m1 0h2m1 0h1m1 0h3m2 0h1m43 0h1m1 0h1m2 0h1m3 0h2m1 0h1m1 0h1m4 0h1m2 0h1m19 0h1m8 0h2m25 0h1M7 140h1m4 0h1m1 0h1m1 0h3m1 0h1m1 0h2m2 0h2m44 0h1m9 0h1m1 0h1m2 0h1m7 0h1m25 0h1m5 0h1m9 0h1M16 141h3m4 0h1m53 0h2m11 0h1m1 0h1m1 0h1m4 0h1m9 0h1m6 0h1m6 0h2M9 142h1m2 0h1m1 0h1m1 0h1m1 0h1m2 0h1m51 0h1m1 0h2m6 0h2m13 0h1m18 0h1m1 0h1m1 0h1m4 0h1m1 0h1M10 143h1m3 0h1m1 0h2m57 0h1m13 0h1m23 0h2m17 0h1M11 144h1m1 0h1m1 0h1m2 0h1m50 0h1m2 0h2m1 0h1m4 0h1m5 0h1m7 0h1m19 0h1M8 145h2m1 0h1m6 0h1m2 0h1m52 0h1m4 0h1m3 0h1m27 0h1m7 0h1m1 0h1M1 146h1m7 0h1m3 0h2m1 0h3m4 0h1m49 0h1m1 0h2m2 0h1m33 0h1m1 0h1m1 0h1m4 0h1m9 0h1M0 147h1m1 0h1m5 0h1m2 0h3m1 0h2m2 0h1m1 0h1m1 0h1m48 0h3m2 0h1m3 0h2m33 0h1m1 0h1m6 0h1M11 148h1m48 0h1m5 0h1m4 0h3m5 0h2m1 0h1m39 0h2m2 0h1m11 0h1M5 149h2m2 0h1m3 0h1m1 0h1m7 0h1m41 0h1m1 0h3m1 0h1m2 0h1m5 0h1m26 0h1m3 0h1M10 150h2m2 0h1m7 0h1m1 0h1m44 0h1m17 0h1m28 0h1m2 0h1m9 0h1M2 151h1m8 0h1m2 0h1m5 0h1m38 0h1m3 0h1m1 0h1m1 0h1m7 0h2m1 0h1m9 0h1m11 0h1m8 0h1m23 0h1m5 0h1M10 152h1m3 0h2m5 0h1m39 0h1m6 0h1m1 0h1m2 0h1m11 0h1m24 0h1m10 0h1m10 0h1M12 153h1m2 0h1m2 0h1m1 0h3m37 0h2m7 0h1m10 0h2m45 0h1M3 154h1m4 0h2m1 0h3m1 0h1m1 0h1m4 0h1m7 0h1m30 0h1m1 0h1m12 0h2m8 0h1m8 0h1M4 155h1m9 0h1m4 0h1m39 0h2m1 0h4m2 0h1m1 0h1m4 0h1m2 0h1m2 0h1m20 0h1m9 0h1m13 0h1M21 156h1m2 0h1m28 0h2m5 0h3m4 0h2m1 0h1m1 0h3m10 0h1m1 0h1m25 0h1m2 0h1m20 0h1M1 157h1m7 0h3m2 0h2m1 0h1m1 0h2m6 0h1m3 0h1m7 0h1m19 0h2m1 0h1m10 0h1m1 0h1M3 158h1m1 0h1m1 0h1m4 0h1m2 0h2m1 0h2m4 0h1m4 0h1m5 0h1m19 0h1m2 0h1m2 0h3m1 0h2m3 0h3m2 0h1m3 0h1m9 0h1M6 159h1m2 0h1m4 0h1m7 0h1m17 0h1m8 0h1m1 0h2m1 0h1m5 0h1m4 0h2m1 0h1m3 0h1m5 0h2m31 0h1m8 0h1M8 160h6m2 0h1m3 0h2m12 0h2m4 0h1m15 0h2m4 0h1m1 0h1m2 0h1m3 0h2m3 0h1m38 0h1M5 161h1m3 0h2m2 0h4m1 0h1m1 0h1m2 0h1m39 0h1m1 0h1m3 0h2m2 0h1M0 162h2m5 0h1m8 0h1m1 0h1m1 0h2m6 0h1m17 0h1m2 0h1m1 0h1m2 0h1m4 0h1m1 0h1m2 0h1m5 0h1m55 0h1M0 163h2m2 0h1m2 0h1m4 0h1m2 0h1m3 0h1m1 0h1m5 0h1m6 0h1m3 0h3m1 0h1m1 0h2m1 0h1m3 0h1m6 0h2m1 0h1m1 0h1m42 0h1M0 164h1m2 0h1m4 0h1m2 0h1m2 0h1m2 0h1m1 0h1m5 0h1m1 0h1m4 0h1m5 0h1m3 0h1m7 0h1m1 0h1m5 0h1M7 165h2m1 0h1m4 0h1m2 0h2m9 0h1m11 0h1m5 0h1m1 0h1m1 0h4m1 0h1m1 0h2m2 0h1M1 166h1m6 0h1m1 0h1m2 0h1m3 0h1m1 0h1m15 0h2m8 0h1m1 0h3m2 0h1m3 0h1m2 0h1M4 167h1m3 0h3m6 0h1m2 0h1m2 0h2m4 0h1m2 0h1m7 0h2m1 0h2m8 0h2" stroke-opacity=".42"/><path d="M110 59h1m5 0h1M106 60h1M120 62h1M111 64h1M140 65h1M113 66h1m17 0h1M123 67h1M128 69h1M130 70h1M103 73h1m11 0h1M103 74h1M95 75h1M108 79h1M104 84h1M107 93h1M61 100h1m25 0h1M51 101h1m6 0h1m6 0h1M60 102h1m47 0h1M47 103h1m6 0h1M59 104h1m6 0h1m52 0h1M54 105h1m14 0h2m1 0h1M52 106h1m1 0h1m12 0h1m4 0h1m19 0h1m35 0h1M55 107h1m6 0h3m64 0h1M49 108h2m3 0h2m1 0h3m11 0h2M45 109h1m6 0h1m11 0h1m2 0h1m2 0h1m3 0h1m1 0h1M41 110h2m9 0h1m5 0h1m3 0h1m1 0h1m3 0h1M36 111h1m18 0h2m2 0h1m8 0h1m5 0h1m15 0h1M33 112h1m14 0h1m5 0h1m4 0h1m1 0h3m4 0h2m1 0h1m2 0h1m3 0h1M51 113h1m5 0h1m1 0h1m1 0h2m2 0h1m4 0h1m8 0h1M32 114h1m12 0h1m2 0h2m2 0h1m3 0h2m4 0h1m2 0h1m3 0h1m3 0h1m2 0h2M44 115h2m4 0h1m3 0h1m2 0h1m1 0h1m1 0h1m16 0h1m2 0h1m2 0h2m2 0h1M43 116h1m1 0h1m1 0h1m1 0h2m3 0h1m21 0h1m2 0h1m6 0h1m5 0h1M41 117h1m2 0h1m9 0h2m11 0h1M32 118h1m11 0h1m15 0h1m11 0h1m7 0h1m2 0h1m41 0h1M30 119h1m2 0h1m7 0h1m5 0h1m13 0h1m4 0h1m3 0h1m2 0h2m1 0h1m3 0h1m2 0h1m34 0h2m4 0h1M37 120h1m3 0h1m6 0h1m2 0h2m20 0h1m3 0h1m2 0h1m2 0h1m4 0h1M34 121h1m4 0h2m1 0h2m4 0h1m2 0h1m19 0h1m1 0h2m2 0h2m1 0h1m1 0h1M31 122h1m6 0h1m8 0h1m3 0h1m2 0h1m9 0h3m2 0h1m4 0h1m4 0h1m4 0h1m33 0h1M23 123h1m12 0h3m19 0h1m13 0h1m2 0h1m1 0h2m34 0h1m20 0h1M28 124h1m9 0h1m20 0h1m3 0h1m10 0h1m2 0h1m42 0h1M30 125h1m8 0h1m2 0h1m15 0h1m5 0h1m3 0h1m9 0h1m10 0h1M21 126h1m5 0h1m2 0h1m40 0h1m2 0h1m6 0h1M27 127h1m1 0h1m6 0h1m2 0h1m4 0h1m23 0h1m11 0h2M26 128h1m1 0h1m1 0h1m11 0h1m30 0h1m3 0h1m5 0h2m10 0h1M23 129h1m1 0h2m5 0h2m9 0h1m25 0h1m1 0h2m1 0h1M22 130h2m1 0h2m3 0h2m7 0h1m27 0h1m8 0h1m7 0h1M20 131h1m4 0h1m1 0h1m1 0h1m2 0h2m1 0h1m1 0h1m32 0h1m5 0h3M25 132h1m10 0h1m37 0h1m3 0h1m1 0h1m3 0h1m19 0h1M26 133h2m9 0h1m27 0h1m5 0h1m4 0h1M16 134h1m49 0h1m8 0h1m8 0h1m2 0h1m1 0h1M70 135h1m4 0h2m9 0h1M18 136h1m7 0h1m2 0h1m45 0h5m2 0h1M17 137h1m3 0h2m2 0h1m2 0h1m46 0h2m1 0h2m2 0h1m14 0h1M15 138h1m6 0h1m1 0h1m1 0h1m4 0h1m34 0h1m8 0h1m1 0h1m9 0h1m41 0h1M9 139h1m7 0h1m5 0h2m1 0h1m48 0h1m1 0h1m26 0h1M11 140h1m7 0h1m4 0h2m47 0h1m3 0h1m3 0h1M20 141h1m4 0h1m46 0h2m1 0h2m2 0h1M24 142h1m49 0h1m2 0h1m1 0h1m20 0h1M21 143h1m2 0h1m2 0h1m37 0h1m2 0h1m1 0h1m3 0h1m3 0h1m3 0h1m21 0h1M7 144h1m6 0h1m4 0h2m3 0h1m31 0h1m6 0h2m13 0h1m2 0h1m37 0h1M15 145h2m55 0h1M12 146h1m6 0h2m45 0h1m1 0h2m2 0h1m1 0h1m3 0h1M18 147h1m1 0h1m3 0h2m38 0h1m3 0h1m1 0h1m4 0h1M10 148h1m3 0h1m1 0h3m1 0h1m4 0h1m32 0h1m3 0h2m1 0h1m3 0h1M10 149h1m7 0h1m1 0h1m3 0h1m31 0h1m3 0h1m16 0h1M13 150h1m6 0h2m36 0h1m4 0h1m2 0h2m4 0h1m2 0h1m2 0h1M19 151h1m6 0h2m2 0h1m20 0h1m4 0h1m5 0h1M19 152h1m5 0h1m1 0h2m28 0h1m6 0h1m2 0h1M5 153h1m1 0h1m3 0h1m5 0h1m1 0h1m44 0h1M23 154h2m29 0h1m7 0h1m1 0h1m5 0h1m3 0h1M13 155h1m1 0h1m7 0h1m28 0h1m4 0h1m3 0h1m5 0h1m8 0h1M10 156h1m1 0h1m2 0h1m3 0h1m5 0h1m2 0h1m5 0h2m8 0h2m5 0h1m4 0h1m2 0h1m5 0h1m5 0h1M16 157h1m1 0h1m2 0h2m2 0h1m19 0h1m8 0h1m3 0h1M14 158h1m5 0h1m7 0h1m3 0h1m14 0h1m4 0h1m6 0h1M8 159h1m6 0h1m2 0h2m5 0h1m1 0h1m13 0h1m3 0h1m1 0h1m10 0h2m1 0h2M31 160h1m12 0h1m7 0h1m1 0h2m2 0h2M17 161h1m1 0h1m2 0h1m2 0h2m15 0h1m6 0h1m4 0h1m1 0h1m1 0h1m1 0h1M8 162h1m10 0h1m3 0h1m2 0h1m13 0h1m1 0h1m10 0h1m2 0h2m4 0h1M9 163h1m4 0h1m3 0h1m1 0h1m3 0h1m1 0h1m4 0h1m3 0h1m13 0h1m3 0h1m1 0h1M26 164h1m2 0h3m2 0h1m8 0h1m3 0h1m9 0h1m4 0h1m4 0h1m34 0h1M25 165h1m1 0h1m2 0h1m1 0h3m3 0h1m1 0h1m3 0h1m1 0h1m1 0h1m8 0h1M15 166h1m4 0h1m7 0h1m8 0h1m1 0h2m1 0h1m1 0h1m5 0h2M15 167h1m2 0h2m1 0h2m3 0h2m2 0h2m1 0h1m1 0h1m6 0h1m3 0h2m2 0h3" stroke-opacity=".72"/><path d="M56 102h1M62 104h1M55 106h1m14 0h1M56 107h1m11 0h1m9 0h1M53 109h1M49 110h1m7 0h1m11 0h2M57 111h1m4 0h1m1 0h1m1 0h2m1 0h1m5 0h1m2 0h1M49 112h1m2 0h1m3 0h1m3 0h1m6 0h1m2 0h1m1 0h2m3 0h1M49 113h2m7 0h1m4 0h2m16 0h1M50 114h2m1 0h3m4 0h2m1 0h2m1 0h1m3 0h3M36 115h1m3 0h1m1 0h1m5 0h2m2 0h1m5 0h1m3 0h3m1 0h1m1 0h1m2 0h1m1 0h2m2 0h1M40 116h1m3 0h1m6 0h3m1 0h2m1 0h11m1 0h1m1 0h1m1 0h2m9 0h1M43 117h1m2 0h2m1 0h3m1 0h1m2 0h1m1 0h3m1 0h5m1 0h6m1 0h2m7 0h1M34 118h1m4 0h1m3 0h1m2 0h2m4 0h2m1 0h5m1 0h6m1 0h3m2 0h2m1 0h1M42 119h1m2 0h2m1 0h7m1 0h3m1 0h1m1 0h4m1 0h1m1 0h1m1 0h2m4 0h1M42 120h2m1 0h1m3 0h2m2 0h4m1 0h9m1 0h3m4 0h1m2 0h1M36 121h1m1 0h1m6 0h3m1 0h2m1 0h18m2 0h1m3 0h1m6 0h1m5 0h1M34 122h1m2 0h1m2 0h7m1 0h3m1 0h2m1 0h9m3 0h2m1 0h1m1 0h1m2 0h3m2 0h1M26 123h1m12 0h1m1 0h17m1 0h13m1 0h1m2 0h1m12 0h1M33 124h2m1 0h1m2 0h20m1 0h3m1 0h10m2 0h1m5 0h1M31 125h3m1 0h4m1 0h2m1 0h15m1 0h5m1 0h3m1 0h6m1 0h2m2 0h1m3 0h1M20 126h1m13 0h2m1 0h4m1 0h29m1 0h2m1 0h1m1 0h1m1 0h1M30 127h2m2 0h1m2 0h2m1 0h4m1 0h23m1 0h2m1 0h3m2 0h1m4 0h1m6 0h1M22 128h1m11 0h8m1 0h30m1 0h2m2 0h1m1 0h1m1 0h1m4 0h1M24 129h1m2 0h2m2 0h1m2 0h9m1 0h25m1 0h1m2 0h1m1 0h4m2 0h1M32 130h5m3 0h27m1 0h4m1 0h3m3 0h1M23 131h1m4 0h1m1 0h2m2 0h1m1 0h1m1 0h32m1 0h5m3 0h1M21 132h1m1 0h1m2 0h10m1 0h37m2 0h1M24 133h1m3 0h1m1 0h7m1 0h27m1 0h1m1 0h3m1 0h2m4 0h1m3 0h1M24 134h2m3 0h1m1 0h35m1 0h5m1 0h2m1 0h2M22 135h1m1 0h5m1 0h2m1 0h37m1 0h1m2 0h1m5 0h1M21 136h1m1 0h2m3 0h1m1 0h45M23 137h1m2 0h2m1 0h40m1 0h1m1 0h2M18 138h2m5 0h1m1 0h4m1 0h34m1 0h5M19 139h1m8 0h41m1 0h1m1 0h2m2 0h1M21 140h1m6 0h44m2 0h1m1 0h1m6 0h1M22 141h1m1 0h1m1 0h46m2 0h1M20 142h1m1 0h2m1 0h48M19 143h2m1 0h2m1 0h2m1 0h37m1 0h2m1 0h1m1 0h2M21 144h1m1 0h1m1 0h31m1 0h6m2 0h4m1 0h2M13 145h1m6 0h1m1 0h45m1 0h2M21 146h1m2 0h42m1 0h1m2 0h2M22 147h1m3 0h38m1 0h3M15 148h1m3 0h1m1 0h4m1 0h32m1 0h1m1 0h1m2 0h1m2 0h1m2 0h1M14 149h1m1 0h1m2 0h1m2 0h1m2 0h31m1 0h3m1 0h4m1 0h1m3 0h1m2 0h1M17 150h3m3 0h1m1 0h33m1 0h4m1 0h2m2 0h1m1 0h2M15 151h1m2 0h1m2 0h5m2 0h2m1 0h20m1 0h4m2 0h1m1 0h2m2 0h1m1 0h1m1 0h1M16 152h2m2 0h1m1 0h3m1 0h1m2 0h28m1 0h1m1 0h1m1 0h1m2 0h2M23 153h2m1 0h34m2 0h2m1 0h1M14 154h1m5 0h2m3 0h5m1 0h23m1 0h6m4 0h1M11 155h1m8 0h3m1 0h2m1 0h25m1 0h4m1 0h1M14 156h1m5 0h1m1 0h2m2 0h2m1 0h5m2 0h8m2 0h5m1 0h1m4 0h2m4 0h2M23 157h2m1 0h1m1 0h3m1 0h7m1 0h5m1 0h8m1 0h3m11 0h1M22 158h2m1 0h3m2 0h2m1 0h2m1 0h11m1 0h4m1 0h2m1 0h2m2 0h1M16 159h1m3 0h1m2 0h2m1 0h1m1 0h12m2 0h3m1 0h1m1 0h1m1 0h1m2 0h1m1 0h1M15 160h1m6 0h9m1 0h2m2 0h4m1 0h3m1 0h4m1 0h2m1 0h1m7 0h1M12 161h1m8 0h1m5 0h15m1 0h4m1 0h1m1 0h4m3 0h1m1 0h1m1 0h1M24 162h1m2 0h1m1 0h5m1 0h2m1 0h2m1 0h1m1 0h1m1 0h1m6 0h1m2 0h1M13 163h1m3 0h1m7 0h1m2 0h2m2 0h2m2 0h2m3 0h1m1 0h1m2 0h1m3 0h1m1 0h1m1 0h1m10 0h1M18 164h1m2 0h1m2 0h1m3 0h1m4 0h1m2 0h2m1 0h3m3 0h2m4 0h1m1 0h1M17 165h1m3 0h4m1 0h1m4 0h1m3 0h2m5 0h2m1 0h1m4 0h1M23 166h1m2 0h2m1 0h4m1 0h1m3 0h1m4 0h1m10 0h1M16 167h1m11 0h1m5 0h1m21 0h1m1 0h1"/></g>
<rect x="206.3" y="1757.7" width="337.3" height="338" fill="none" stroke="#707070" stroke-width="2"/>
<line x1="378.8" y1="1757.7" x2="378.8" y2="2095.7" stroke="#555" stroke-width="1.8"/>
<line x1="206.3" y1="1949.3" x2="543.6" y2="1949.3" stroke="#555" stroke-width="1.8"/>
<path d="M206.3 2095.7v8M206.3 2095.7h-8M231.7 2095.7v4.5M206.3 2070.3h-4.5M246.5 2095.7v4.5M206.3 2055.4h-4.5M257.1 2095.7v4.5M206.3 2044.8h-4.5M265.2 2095.7v4.5M206.3 2036.6h-4.5M271.9 2095.7v4.5M206.3 2029.9h-4.5M277.6 2095.7v4.5M206.3 2024.3h-4.5M282.5 2095.7v4.5M206.3 2019.4h-4.5M286.8 2095.7v4.5M206.3 2015.1h-4.5M290.6 2095.7v8M206.3 2011.2h-8M316.0 2095.7v4.5M206.3 1985.8h-4.5M330.9 2095.7v4.5M206.3 1970.9h-4.5M341.4 2095.7v4.5M206.3 1960.3h-4.5M349.6 2095.7v4.5M206.3 1952.1h-4.5M356.2 2095.7v4.5M206.3 1945.4h-4.5M361.9 2095.7v4.5M206.3 1939.8h-4.5M366.8 2095.7v4.5M206.3 1934.9h-4.5M371.1 2095.7v4.5M206.3 1930.6h-4.5M375.0 2095.7v8M206.3 1926.7h-8M400.3 2095.7v4.5M206.3 1901.3h-4.5M415.2 2095.7v4.5M206.3 1886.4h-4.5M425.7 2095.7v4.5M206.3 1875.8h-4.5M433.9 2095.7v4.5M206.3 1867.6h-4.5M440.6 2095.7v4.5M206.3 1860.9h-4.5M446.2 2095.7v4.5M206.3 1855.3h-4.5M451.1 2095.7v4.5M206.3 1850.4h-4.5M455.4 2095.7v4.5M206.3 1846.1h-4.5M459.3 2095.7v8M206.3 1842.2h-8M484.7 2095.7v4.5M206.3 1816.8h-4.5M499.5 2095.7v4.5M206.3 1801.9h-4.5M510.0 2095.7v4.5M206.3 1791.3h-4.5M518.2 2095.7v4.5M206.3 1783.1h-4.5M524.9 2095.7v4.5M206.3 1776.4h-4.5M530.5 2095.7v4.5M206.3 1770.8h-4.5M535.4 2095.7v4.5M206.3 1765.9h-4.5M539.7 2095.7v4.5M206.3 1761.6h-4.5M543.6 2095.7v8M206.3 1757.7h-8" stroke="#555" stroke-width="1.6" fill="none"/>
<text x="208.3" y="2125.7" font-size="15" font-weight="bold" fill="#222" text-anchor="middle">10<tspan font-size="9" dy="-6">0</tspan></text>
<text x="190.3" y="2096.7" font-size="15" font-weight="bold" fill="#222" text-anchor="middle" transform="rotate(-90 190.3 2096.7)">10<tspan font-size="9" dy="-6">0</tspan></text>
<text x="292.6" y="2125.7" font-size="15" font-weight="bold" fill="#222" text-anchor="middle">10<tspan font-size="9" dy="-6">1</tspan></text>
<text x="190.3" y="2012.2" font-size="15" font-weight="bold" fill="#222" text-anchor="middle" transform="rotate(-90 190.3 2012.2)">10<tspan font-size="9" dy="-6">1</tspan></text>
<text x="377" y="2125.7" font-size="15" font-weight="bold" fill="#222" text-anchor="middle">10<tspan font-size="9" dy="-6">2</tspan></text>
<text x="190.3" y="1927.7" font-size="15" font-weight="bold" fill="#222" text-anchor="middle" transform="rotate(-90 190.3 1927.7)">10<tspan font-size="9" dy="-6">2</tspan></text>
<text x="461.3" y="2125.7" font-size="15" font-weight="bold" fill="#222" text-anchor="middle">10<tspan font-size="9" dy="-6">3</tspan></text>
<text x="190.3" y="1843.2" font-size="15" font-weight="bold" fill="#222" text-anchor="middle" transform="rotate(-90 190.3 1843.2)">10<tspan font-size="9" dy="-6">3</tspan></text>
<text x="545.6" y="2125.7" font-size="15" font-weight="bold" fill="#222" text-anchor="middle">10<tspan font-size="9" dy="-6">4</tspan></text>
<text x="190.3" y="1758.7" font-size="15" font-weight="bold" fill="#222" text-anchor="middle" transform="rotate(-90 190.3 1758.7)">10<tspan font-size="9" dy="-6">4</tspan></text>
<g font-size="15.5" font-weight="bold" fill="#1a1a1a" letter-spacing="1.3"><text x="211.3" y="1778.7">Q1</text><text x="211.3" y="1798.7">0.05%</text><text x="479.6" y="1778.7">Q2</text><text x="479.6" y="1798.7">2.05%</text><text x="211.3" y="2067.7">Q4</text><text x="211.3" y="2088.7">96.30%</text><text x="479.6" y="2067.7">Q3</text><text x="479.6" y="2088.7">1.92%</text></g>
<text x="366.9" y="1735.6" font-size="26" text-anchor="middle">Control</text>
<g transform="translate(607.5 1752.40) scale(2.0)" fill="none" stroke="#f00" stroke-width="1"><path d="M147 3h1m9 0h1M145 6h1M131 8h1M121 10h1M163 11h1M133 13h1M137 14h2m6 0h1m6 0h1M168 16h1M150 18h1M133 19h1m16 0h1M125 20h1m15 0h1m10 0h1M127 21h1M118 22h1m9 0h1M145 23h2M113 24h1m33 0h1M130 25h1m12 0h1M145 26h1M94 27h1m11 0h1m30 0h1m27 0h1M108 28h1m16 0h1m9 0h1m6 0h1m8 0h1M154 29h1m13 0h1M135 30h1m10 0h1M136 31h1m3 0h1m30 0h1M105 32h1m12 0h1m13 0h1m10 0h1m2 0h2m5 0h1M92 33h1m28 0h1m7 0h2m3 0h1m17 0h1m7 0h1M130 34h1m7 0h1m5 0h2m5 0h1M107 35h1m19 0h1m8 0h2m18 0h2M106 36h1m5 0h2m9 0h1m3 0h1m12 0h1m2 0h1m18 0h1M98 37h1m15 0h1m30 0h1m2 0h1m7 0h1M89 38h1m10 0h1m18 0h1m1 0h1m10 0h2m18 0h1M96 39h1m13 0h1m14 0h1m2 0h1m4 0h1m1 0h1M102 40h1m10 0h1m13 0h1m1 0h1m6 0h1m7 0h1m4 0h1m17 0h1M70 41h1m36 0h1m8 0h1m5 0h1m14 0h1m9 0h1m7 0h3M112 42h1m2 0h1m4 0h1m13 0h1m2 0h1m21 0h1M81 43h1m30 0h1m3 0h1m3 0h1m4 0h1m6 0h1m5 0h1m3 0h1m9 0h2M106 44h1m9 0h1m3 0h1m4 0h2m2 0h1m5 0h2m10 0h1m5 0h1M74 45h1m21 0h1m12 0h1m6 0h1m2 0h1m4 0h1m7 0h1m7 0h1m14 0h1m9 0h1m3 0h1M115 46h1m6 0h3m8 0h1m6 0h1m3 0h2m1 0h1m4 0h1m1 0h1M89 47h1m29 0h3m1 0h1m2 0h1m2 0h5m4 0h1m2 0h1m1 0h1m12 0h1M94 48h1m8 0h1m27 0h1m4 0h1m6 0h1m2 0h1M96 49h1m8 0h1m1 0h1m5 0h1m2 0h7m2 0h1m8 0h1m3 0h1m4 0h1m3 0h1M66 50h1m44 0h1m2 0h1m8 0h2m1 0h1m3 0h1m1 0h1m1 0h1m2 0h1m3 0h1m1 0h1m9 0h1M104 51h1m3 0h3m8 0h1m1 0h2m2 0h1m1 0h3m2 0h1m9 0h1m1 0h3m10 0h1m3 0h1M97 52h1m3 0h1m4 0h1m1 0h1m2 0h2m5 0h1m4 0h1m2 0h1m2 0h1m1 0h2m9 0h1m1 0h1m1 0h1m12 0h1m4 0h1M106 53h1m9 0h1m1 0h1m3 0h2m3 0h1m2 0h1m4 0h1m1 0h3m2 0h2m3 0h1m1 0h2m4 0h2M95 54h1m1 0h1m4 0h2m8 0h1m4 0h1m1 0h1m1 0h2m4 0h1m4 0h1m2 0h1m6 0h1m3 0h1m6 0h1m12 0h1M109 55h1m1 0h1m2 0h1m5 0h1m5 0h1m1 0h1m1 0h1m6 0h5m3 0h2m5 0h1m2 0h1m10 0h1M100 56h1m2 0h2m1 0h1m5 0h1m1 0h2m3 0h1m1 0h2m13 0h1m1 0h1m1 0h2m1 0h1m6 0h1m12 0h1M104 57h2m2 0h1m5 0h4m2 0h2m6 0h1m2 0h1m2 0h2m6 0h1m7 0h1m4 0h1M104 58h1m11 0h1m1 0h1m1 0h1m3 0h2m3 0h1m1 0h1m9 0h1m3 0h1m2 0h1m2 0h1m3 0h1M89 59h1m9 0h1m1 0h1m4 0h1m3 0h1m3 0h1m7 0h1m1 0h1m10 0h1m2 0h1m3 0h2m10 0h1m1 0h1M50 60h1m31 0h1m25 0h1m2 0h1m4 0h2m1 0h1m2 0h1m1 0h1m2 0h1m6 0h2m1 0h1m3 0h2m1 0h1m11 0h1M90 61h1m7 0h1m3 0h1m2 0h1m11 0h1m1 0h1m1 0h1m2 0h1m8 0h1m1 0h2m1 0h1m2 0h2m2 0h1m2 0h1m3 0h1m1 0h1m12 0h1M38 62h1m41 0h1m20 0h1m6 0h1m6 0h1m1 0h2m13 0h1m7 0h1m4 0h1m1 0h2m4 0h1m3 0h1m6 0h1M38 63h1m9 0h1m46 0h1m6 0h1m1 0h1m5 0h1m1 0h1m2 0h1m1 0h1m6 0h1m10 0h1m1 0h1m4 0h3m3 0h1m1 0h1m1 0h1m1 0h1m5 0h1m10 0h1M62 64h1m28 0h1m16 0h2m1 0h2m1 0h1m5 0h2m9 0h1m2 0h1m3 0h2m7 0h1M54 65h1m23 0h1m10 0h1m3 0h1m12 0h1m1 0h5m1 0h2m6 0h1m8 0h1m3 0h1m2 0h1m2 0h1m1 0h2m2 0h1m10 0h1m4 0h1M47 66h1m51 0h1m5 0h1m5 0h1m4 0h2m5 0h1m2 0h2m3 0h1m1 0h2m12 0h1m1 0h1m5 0h1M37 67h1m21 0h1m24 0h1m16 0h1m7 0h2m2 0h1m4 0h3m4 0h1m2 0h2m3 0h1m3 0h1m1 0h2m2 0h1m1 0h1m1 0h2m21 0h1M65 68h1m15 0h1m2 0h1m19 0h2m9 0h2m2 0h1m1 0h4m2 0h1m3 0h2m3 0h3m1 0h3m2 0h1m13 0h1M110 69h2m3 0h2m18 0h1m1 0h3m2 0h2m2 0h1m3 0h1m1 0h1M83 70h1m21 0h1m1 0h1m2 0h1m1 0h2m3 0h1m2 0h1m3 0h1m6 0h1m4 0h2m2 0h1M38 71h1m29 0h1m7 0h1m29 0h1m10 0h2m10 0h1m3 0h3m1 0h1m1 0h1m6 0h2m3 0h1m3 0h1m11 0h1m3 0h1M53 72h1m3 0h1m12 0h2m24 0h1m21 0h1m1 0h1m1 0h1m2 0h1m8 0h1m2 0h2m1 0h1m13 0h1M50 73h1m20 0h1m17 0h1m7 0h1m6 0h1m1 0h1m5 0h1m1 0h1m5 0h1m3 0h2m1 0h3m7 0h1m2 0h1m9 0h1M60 74h1m5 0h1m7 0h1m38 0h1m3 0h3m2 0h2m2 0h1m1 0h1m4 0h1m2 0h1m1 0h1m5 0h1m3 0h1M84 75h1m10 0h1m2 0h1m3 0h4m1 0h1m1 0h1m3 0h1m2 0h1m5 0h1m3 0h3m2 0h1m2 0h1m2 0h1m2 0h2m2 0h2m4 0h1m2 0h1M60 76h1m7 0h1m30 0h1m4 0h1m1 0h1m3 0h1m1 0h2m1 0h1m10 0h1m1 0h2m7 0h3m4 0h1M84 77h2m3 0h1m4 0h1m6 0h1m6 0h2m1 0h2m1 0h1m4 0h1m1 0h1m1 0h2m15 0h1m6 0h1M42 78h1m41 0h1m17 0h1m3 0h1m1 0h1m1 0h1m1 0h1m4 0h1m2 0h1m2 0h1m1 0h2m3 0h1m2 0h1m13 0h1m1 0h1m4 0h1M56 79h1m26 0h1m13 0h1m9 0h1m2 0h3m2 0h1m1 0h2m2 0h1m3 0h5m1 0h3m11 0h1m5 0h1m4 0h1M70 80h1m1 0h1m12 0h2m2 0h1m8 0h1m5 0h1m4 0h1m1 0h1m2 0h1m4 0h1m8 0h2m6 0h2m4 0h1m1 0h2m6 0h1m1 0h1M65 81h1m13 0h2m3 0h1m17 0h2m10 0h2m1 0h1m2 0h1m3 0h3m2 0h1m2 0h1m15 0h1m3 0h1m2 0h1m1 0h1M71 82h1m21 0h1m7 0h1m7 0h6m1 0h2m1 0h1m3 0h3m4 0h1m5 0h1m9 0h1M39 83h1m51 0h2m3 0h1m2 0h2m21 0h1m11 0h1m3 0h2m1 0h1m1 0h1m12 0h1M46 84h1m26 0h1m8 0h1m5 0h1m10 0h1m3 0h1m7 0h1m1 0h2m1 0h1m1 0h1m2 0h2m4 0h1m4 0h2m3 0h1m17 0h1m4 0h1m1 0h1M64 85h1m3 0h1m8 0h1m4 0h1m26 0h1m1 0h1m2 0h1m8 0h2m3 0h1m4 0h1m2 0h1m6 0h1M73 86h1m10 0h2m9 0h1m2 0h1m3 0h1m5 0h1m4 0h1m2 0h1m1 0h1m2 0h1m6 0h1m1 0h1m6 0h1m3 0h1m12 0h1M63 87h1m8 0h1m7 0h1m10 0h1m1 0h2m6 0h1m1 0h2m10 0h1m2 0h1m6 0h1m4 0h3m2 0h1m1 0h1m7 0h1m6 0h1M59 88h1m16 0h1m1 0h1m4 0h1m1 0h1m5 0h1m9 0h1m1 0h1m6 0h3m1 0h2m3 0h1m5 0h3m2 0h3m1 0h1m7 0h1M65 89h1m30 0h2m3 0h1m1 0h1m3 0h1m6 0h1m5 0h2m4 0h1m2 0h1m5 0h1m15 0h1M42 90h1m31 0h1m4 0h1m6 0h1m4 0h1m5 0h1m2 0h1m1 0h1m4 0h3m1 0h2m5 0h1m1 0h1m2 0h2m2 0h2m19 0h1M44 91h1m13 0h1m5 0h1m6 0h1m4 0h1m1 0h1m10 0h1m19 0h1m4 0h1m3 0h1m1 0h5m1 0h1m2 0h1m2 0h1m4 0h1m3 0h2m5 0h1M63 92h1m11 0h1m2 0h1m13 0h1m6 0h1m1 0h1m2 0h3m7 0h2m1 0h2m3 0h1m1 0h1m1 0h1m15 0h1M58 93h1m12 0h1m5 0h1m4 0h1m8 0h1m2 0h1m1 0h1m1 0h1m9 0h1m8 0h1m8 0h2m5 0h1m7 0h1M53 94h1m8 0h1m11 0h2m6 0h1m19 0h1m3 0h1m3 0h1m5 0h1m7 0h1m3 0h2m2 0h1m2 0h1m1 0h1m8 0h1M61 95h1m7 0h1m10 0h1m7 0h1m3 0h2m9 0h1m2 0h2m1 0h2m2 0h1m1 0h5m1 0h1m7 0h1m6 0h2m3 0h1m6 0h1M43 96h1m4 0h1m14 0h1m7 0h1m2 0h1m2 0h1m1 0h1m8 0h1m4 0h1m5 0h3m1 0h1m2 0h2m6 0h1m3 0h1m1 0h1m1 0h2m11 0h1m7 0h1M62 97h1m2 0h2m3 0h2m2 0h1m2 0h1m6 0h1m1 0h1m4 0h1m8 0h1m3 0h1m11 0h2m9 0h1m4 0h1m1 0h1m17 0h1M44 98h1m4 0h1m4 0h1m4 0h1m14 0h1m1 0h1m3 0h1m7 0h1m1 0h1m6 0h2m4 0h3m1 0h2m4 0h2m4 0h1m5 0h1m4 0h1m1 0h1m5 0h1m2 0h1M35 99h1m23 0h2m4 0h1m5 0h2m2 0h1m4 0h1m2 0h1m1 0h2m2 0h3m17 0h3m1 0h2m1 0h1m7 0h2m21 0h1M41 100h1m8 0h1m2 0h1m5 0h1m3 0h3m6 0h2m1 0h1m2 0h1m11 0h1m2 0h1m6 0h1m2 0h1m3 0h1m4 0h1m2 0h1m1 0h1m1 0h1m3 0h1m10 0h1m6 0h1m15 0h1M34 101h1m17 0h1m10 0h1m5 0h2m5 0h1m1 0h1m10 0h1m7 0h1m5 0h1m6 0h1m1 0h1m2 0h1m2 0h1m1 0h1m10 0h1m7 0h1m8 0h1m6 0h1M56 102h1m6 0h2m1 0h1m1 0h2m1 0h1m1 0h3m1 0h1m1 0h1m6 0h1m2 0h1m2 0h1m1 0h1m1 0h1m3 0h1m4 0h1m2 0h1m1 0h1m2 0h2m3 0h1m4 0h1m2 0h1m3 0h3M38 103h1m7 0h1m4 0h1m5 0h1m7 0h1m4 0h1m1 0h4m1 0h1m11 0h1m3 0h1m2 0h1m3 0h1m1 0h2m1 0h1m9 0h2m9 0h2m1 0h1m7 0h1M36 104h1m18 0h1m2 0h1m4 0h3m7 0h1m1 0h3m1 0h1m1 0h2m4 0h2m1 0h3m3 0h1m3 0h2m1 0h2m5 0h2m2 0h1m2 0h1m1 0h1m3 0h1m3 0h1m8 0h1m1 0h1m2 0h1M33 105h2m8 0h1m8 0h2m1 0h1m5 0h2m1 0h1m7 0h1m1 0h2m6 0h3m1 0h1m3 0h1m3 0h1m4 0h2m1 0h2m3 0h2m6 0h1m7 0h1m7 0h2m3 0h1m3 0h1m10 0h1M27 106h1m16 0h1m4 0h2m1 0h2m1 0h1m2 0h2m8 0h1m1 0h1m5 0h1m4 0h1m3 0h1m1 0h1m5 0h1m5 0h3m3 0h1m8 0h2m9 0h1m10 0h2M34 107h1m16 0h1m2 0h1m1 0h1m1 0h1m3 0h2m5 0h1m5 0h1m1 0h1m1 0h1m6 0h1m4 0h2m6 0h1m4 0h2m1 0h1m1 0h1m5 0h1m4 0h1m7 0h1m9 0h2m25 0h1M49 108h1m6 0h3m3 0h2m1 0h4m2 0h1m1 0h1m3 0h1m1 0h2m5 0h1m1 0h1m4 0h1m2 0h1m5 0h1m7 0h1m1 0h1m2 0h1m3 0h1m2 0h2m2 0h1m3 0h4m4 0h1m3 0h1M38 109h3m5 0h1m1 0h3m3 0h3m1 0h2m1 0h1m7 0h2m9 0h2m17 0h2m1 0h5m1 0h2m1 0h2m3 0h1m1 0h1m1 0h2m4 0h1m2 0h1m9 0h1m1 0h1m16 0h1M32 110h1m5 0h1m4 0h1m2 0h1m3 0h3m3 0h1m3 0h5m3 0h2m4 0h1m1 0h1m2 0h1m1 0h3m8 0h1m6 0h2m5 0h1m3 0h2m4 0h1m3 0h2m5 0h1m1 0h1m9 0h1M27 111h1m14 0h1m5 0h2m8 0h4m1 0h1m3 0h2m2 0h1m4 0h1m2 0h1m4 0h1m1 0h3m7 0h1m2 0h1m1 0h1m1 0h1m7 0h1m1 0h1m3 0h4m2 0h1m1 0h1m4 0h1m1 0h1m1 0h1m3 0h1M3 112h1m25 0h1m13 0h1m2 0h1m4 0h3m5 0h1m1 0h1m3 0h1m1 0h1m1 0h1m2 0h1m2 0h1m2 0h2m1 0h1m1 0h2m3 0h1m1 0h1m3 0h1m2 0h1m2 0h2m2 0h1m2 0h2m1 0h2m1 0h1m2 0h1m3 0h1m1 0h1m2 0h1m1 0h1m1 0h1m1 0h1m1 0h1m32 0h1M34 113h1m6 0h1m1 0h2m4 0h1m1 0h1m2 0h1m1 0h1m2 0h2m1 0h1m1 0h1m5 0h1m1 0h2m1 0h1m1 0h1m1 0h1m1 0h1m4 0h7m1 0h2m9 0h2m3 0h1m3 0h2m1 0h2m3 0h1m1 0h4m2 0h1m3 0h1M29 114h1m4 0h1m13 0h3m2 0h1m3 0h1m7 0h1m2 0h2m6 0h2m6 0h1m1 0h2m16 0h1m6 0h1m2 0h2m1 0h1m3 0h1m10 0h1m5 0h1M31 115h1m2 0h1m4 0h1m4 0h1m1 0h1m12 0h1m4 0h2m10 0h1m2 0h1m1 0h1m2 0h2m1 0h3m4 0h3m4 0h2m1 0h1m1 0h4m3 0h1m2 0h1m1 0h2m9 0h1m3 0h1M33 116h1m2 0h1m2 0h2m7 0h2m5 0h1m9 0h1m2 0h2m2 0h1m3 0h1m2 0h5m1 0h3m1 0h1m2 0h3m3 0h1m1 0h1m2 0h1m9 0h1m4 0h1m1 0h1m3 0h1m9 0h1m4 0h1M17 117h1m19 0h3m4 0h2m1 0h1m3 0h1m21 0h2m1 0h2m4 0h1m2 0h2m1 0h1m2 0h1m4 0h1m4 0h2m2 0h1m6 0h1m1 0h2m3 0h1m1 0h2m2 0h2m5 0h1m6 0h1M34 118h1m9 0h1m1 0h1m12 0h1m4 0h1m4 0h1m3 0h1m4 0h1m1 0h1m3 0h2m4 0h1m6 0h1m4 0h1m6 0h1m4 0h2m10 0h1m2 0h2m5 0h1m1 0h1M28 119h1m3 0h1m2 0h1m3 0h1m1 0h1m1 0h1m4 0h1m4 0h1m12 0h1m5 0h1m1 0h1m3 0h1m2 0h2m5 0h2m4 0h1m2 0h2m2 0h1m4 0h3m3 0h1m3 0h2m4 0h1m7 0h1M39 120h2m1 0h1m2 0h1m3 0h1m8 0h1m13 0h1m1 0h1m3 0h2m5 0h2m5 0h2m3 0h4m9 0h1m4 0h1m1 0h3m1 0h1m11 0h1m4 0h1m2 0h1m1 0h1M23 121h1m6 0h3m1 0h1m1 0h1m6 0h1m6 0h1m14 0h1m6 0h1m3 0h1m1 0h1m1 0h1m1 0h1m1 0h1m3 0h1m3 0h1m2 0h1m2 0h1m1 0h1m4 0h1m2 0h1m5 0h1m4 0h2m1 0h1m2 0h1m2 0h1m1 0h1m11 0h1M12 122h1m14 0h2m3 0h1m1 0h2m4 0h1m33 0h2m5 0h4m2 0h1m2 0h1m2 0h2m1 0h1m4 0h1m1 0h1m2 0h4m1 0h1m2 0h1m7 0h1m4 0h2m2 0h1m2 0h1m8 0h1M22 123h1m1 0h1m5 0h2m3 0h4m3 0h2m1 0h1m4 0h1m23 0h1m4 0h2m3 0h3m1 0h1m3 0h1m1 0h1m2 0h2m4 0h1m1 0h1m1 0h1m4 0h1m5 0h1m5 0h1m5 0h1M28 124h1m1 0h1m1 0h1m1 0h1m1 0h1m2 0h1m23 0h1m11 0h2m3 0h1m1 0h1m1 0h2m1 0h3m7 0h1m2 0h1m4 0h1m1 0h1m2 0h1m3 0h1m14 0h1m6 0h1m1 0h1m9 0h1M25 125h2m3 0h1m1 0h1m4 0h1m1 0h1m1 0h2m3 0h1m38 0h2m1 0h1m2 0h1m1 0h1m2 0h1m7 0h1m7 0h1m1 0h1m2 0h1m3 0h1m8 0h2m1 0h1M16 126h1m6 0h1m1 0h1m3 0h2m8 0h2m3 0h1m28 0h1m1 0h2m8 0h1m4 0h1m6 0h3m4 0h1m1 0h3m2 0h2m2 0h2m4 0h1m9 0h1M16 127h1m7 0h1m3 0h1m2 0h3m3 0h1m28 0h1m12 0h1m1 0h1m1 0h1m5 0h1m1 0h2m1 0h1m4 0h3m1 0h2m3 0h1m4 0h1m2 0h1m2 0h1m1 0h3m3 0h1m10 0h1M27 128h2m7 0h1m7 0h1m26 0h2m2 0h1m4 0h2m2 0h3m1 0h1m2 0h1m3 0h6m1 0h1m1 0h1m4 0h1m5 0h1m2 0h2m8 0h1M22 129h1m5 0h1m2 0h1m4 0h1m2 0h2m4 0h1m31 0h1m3 0h1m1 0h1m2 0h1m1 0h1m1 0h2m2 0h1m6 0h1m9 0h1m1 0h2m3 0h1m23 0h1M18 130h1m7 0h2m4 0h2m1 0h1m4 0h1m29 0h1m1 0h1m7 0h1m5 0h2m3 0h1m6 0h1m3 0h3m3 0h1m1 0h1m3 0h1m1 0h1m9 0h1m1 0h1m1 0h1M24 131h3m2 0h1m2 0h1m3 0h1m34 0h1m2 0h3m4 0h1m7 0h2m1 0h1m6 0h1m1 0h1m8 0h1m7 0h1m3 0h1m3 0h1M22 132h4m1 0h2m4 0h1m1 0h1m39 0h1m1 0h2m4 0h1m1 0h1m1 0h1m1 0h1m1 0h1m3 0h1m1 0h1m1 0h1m5 0h1m1 0h1m10 0h2m6 0h1m3 0h1M24 133h1m2 0h1m3 0h1m2 0h1m38 0h1m3 0h1m6 0h1m4 0h1m2 0h1m2 0h2m3 0h1m4 0h1m4 0h2m3 0h2m4 0h1m1 0h1m14 0h1m3 0h1M25 134h2m1 0h2m37 0h2m3 0h1m2 0h2m8 0h2m1 0h1m1 0h1m1 0h1m5 0h2m4 0h2m6 0h1m2 0h1m1 0h1m11 0h1M8 135h1m3 0h1m4 0h1m3 0h1m3 0h1m1 0h1m1 0h1m6 0h1m39 0h2m2 0h2m4 0h1m5 0h2m2 0h1m1 0h1m3 0h1m2 0h2m2 0h2m2 0h1m2 0h1m4 0h1m7 0h1M9 136h3m5 0h1m7 0h2m4 0h1m41 0h3m2 0h1m2 0h1m1 0h3m1 0h1m2 0h1m1 0h1m1 0h1m2 0h2m3 0h1m2 0h1m5 0h1m1 0h1m2 0h1m1 0h1m1 0h1m3 0h1m11 0h1M0 137h1m16 0h1m1 0h1m1 0h1m10 0h1m2 0h1m35 0h2m3 0h1m1 0h1m2 0h1m3 0h2m9 0h1m1 0h1m7 0h1m3 0h1m5 0h1m2 0h1M5 138h1m17 0h1m49 0h1m3 0h1m2 0h3m6 0h1m2 0h1m1 0h1m1 0h2m1 0h2m3 0h1m13 0h1m6 0h2m4 0h1M19 139h1m5 0h1m1 0h1m3 0h1m36 0h2m7 0h1m8 0h1m2 0h1m11 0h1m1 0h1m2 0h1m5 0h1m11 0h1m28 0h1M15 140h2m5 0h2m4 0h1m5 0h1m33 0h1m1 0h1m3 0h1m1 0h1m9 0h1m3 0h1m4 0h3m6 0h1m6 0h2m1 0h1m4 0h2m1 0h1M6 141h1m3 0h1m2 0h1m4 0h1m1 0h1m1 0h1m2 0h2m2 0h1m32 0h1m5 0h4m4 0h1m3 0h1m5 0h1m1 0h2m4 0h1m11 0h1m2 0h4m8 0h1m5 0h1M6 142h1m4 0h1m4 0h1m2 0h1m2 0h1m1 0h1m34 0h1m21 0h1m1 0h1m1 0h1m9 0h4m3 0h1m4 0h1m18 0h1M8 143h1m5 0h1m1 0h1m1 0h2m7 0h1m43 0h2m2 0h1m1 0h1m1 0h1m1 0h1m3 0h1m1 0h1m2 0h1m1 0h1m3 0h1m4 0h2m1 0h1m3 0h1m1 0h1m1 0h1m1 0h1m10 0h2M18 144h1m2 0h3m41 0h1m2 0h2m2 0h2m6 0h1m13 0h2m3 0h1m1 0h3m1 0h2m11 0h1M15 145h3m8 0h1m39 0h2m2 0h1m2 0h1m3 0h1m2 0h1m1 0h2m4 0h2m1 0h2m4 0h2m4 0h2m5 0h1m1 0h2m1 0h1M5 146h1m8 0h2m1 0h1m47 0h1m3 0h5m1 0h2m7 0h1m7 0h1m1 0h1m1 0h3m6 0h1m7 0h2m3 0h1M16 147h1m4 0h1m8 0h1m36 0h1m3 0h1m1 0h1m4 0h1m1 0h1m3 0h1m4 0h1m3 0h2m18 0h1m11 0h1M12 148h1m8 0h1m41 0h1m2 0h1m4 0h1m2 0h1m12 0h1m5 0h1m1 0h2m6 0h1m2 0h1m3 0h4m2 0h1M4 149h1m6 0h1m2 0h1m2 0h4m1 0h1m35 0h1m6 0h1m2 0h2m1 0h2m2 0h1m5 0h1m2 0h1m4 0h1m7 0h2m8 0h1m12 0h1M12 150h2m1 0h1m2 0h2m2 0h1m47 0h3m2 0h1m1 0h1m1 0h1m17 0h1m7 0h1m7 0h1m4 0h1m5 0h2M4 151h1m1 0h1m5 0h1m6 0h1m8 0h1m34 0h1m2 0h1m3 0h1m3 0h1m4 0h3m24 0h1m7 0h1m4 0h1M5 152h1m3 0h1m1 0h1m2 0h2m1 0h1m2 0h2m3 0h1m35 0h2m2 0h1m1 0h1m1 0h1m1 0h1m6 0h1m13 0h1m5 0h1m19 0h1M2 153h1m2 0h1m4 0h1m3 0h2m44 0h2m11 0h1m8 0h1m4 0h1m8 0h1m13 0h1M1 154h1m3 0h1m4 0h3m3 0h1m8 0h1m29 0h1m5 0h1m1 0h1m2 0h1m2 0h1m15 0h1m1 0h1m13 0h1m14 0h1m2 0h1m2 0h1M4 155h1m6 0h1m6 0h1m1 0h3m19 0h1m16 0h1m1 0h1m2 0h3m3 0h1m5 0h1m6 0h1m8 0h1m7 0h1m2 0h1m7 0h1M14 156h1m41 0h4m5 0h1m3 0h1m1 0h1m26 0h1M20 157h1m2 0h1m24 0h1m7 0h1m19 0h2m20 0h1m9 0h1m7 0h2M3 158h1m3 0h1m1 0h2m2 0h1m4 0h1m1 0h1m32 0h2m1 0h1m4 0h1m6 0h1m29 0h1m17 0h1M2 159h3m7 0h3m2 0h1m6 0h1m30 0h2m2 0h4m4 0h1m2 0h1m4 0h1m29 0h1M9 160h2m5 0h1m3 0h1m3 0h1m29 0h1m3 0h1m1 0h1m5 0h1m4 0h2m4 0h2M15 161h2m10 0h1m1 0h1m21 0h1m2 0h1m1 0h2m2 0h1m3 0h1m1 0h2m1 0h1m2 0h1M4 162h1m1 0h1m5 0h2m1 0h1m21 0h1m4 0h1m1 0h1m3 0h1m3 0h1m2 0h1m3 0h1m12 0h1m10 0h1M1 163h1m8 0h1m3 0h1m2 0h1m2 0h1m13 0h1m4 0h2m7 0h2m1 0h1m2 0h3m1 0h1m3 0h1m2 0h1m15 0h1m12 0h1m13 0h1M6 164h1m10 0h1m7 0h1m9 0h1m5 0h1m4 0h1m2 0h1m3 0h2m1 0h1m7 0h1m19 0h2m4 0h1M3 165h1m2 0h1m1 0h1m1 0h2m3 0h2m1 0h1m1 0h3m2 0h1m15 0h1m1 0h1m2 0h1m2 0h1m4 0h1m1 0h1m2 0h1m2 0h3m11 0h1M2 166h1m5 0h1m3 0h2m3 0h1m15 0h1m3 0h1m2 0h2m2 0h2m5 0h4m3 0h1m1 0h1m3 0h1m2 0h1m50 0h1M8 167h1m1 0h1m2 0h2m1 0h1m3 0h1m5 0h1m2 0h1m7 0h4m1 0h1m1 0h2m1 0h1m1 0h1m2 0h1m3 0h1m4 0h1m1 0h1M5 168h1m1 0h2m2 0h1m3 0h1m1 0h3m5 0h1m1 0h1m3 0h1m1 0h3m3 0h1m3 0h1m1 0h1m6 0h1m11 0h1M0 169h1m3 0h1m1 0h1m5 0h1m1 0h1m2 0h1m2 0h1m1 0h1m1 0h3m3 0h1m5 0h1m1 0h2m4 0h4m1 0h1m3 0h1m1 0h1m17 0h1m11 0h1M9 170h1m1 0h1m2 0h1m1 0h1m1 0h1m1 0h1m4 0h1m2 0h1m4 0h2m1 0h1m1 0h1m4 0h1m4 0h1m1 0h2m1 0h1m1 0h1m19 0h1M16 171h1m1 0h3m3 0h1m7 0h1m6 0h1m2 0h2m2 0h2m6 0h1m10 0h1" stroke-opacity=".42"/><path d="M131 30h1M134 35h1M125 36h1M125 38h1M124 40h1M109 41h1M111 42h1M136 43h1M143 44h1M113 45h1M135 46h1M134 48h1M130 49h1M127 50h1M107 51h1m18 0h1m6 0h2M124 52h1m12 0h2m6 0h1m9 0h1M128 53h2m3 0h1m10 0h1M116 54h1m1 0h1m5 0h2m4 0h1m2 0h2M119 55h1m2 0h1m1 0h1m2 0h1m4 0h2m1 0h1M93 56h1m16 0h1m7 0h1m1 0h1m2 0h1m2 0h2m1 0h3m2 0h1M111 57h1m12 0h1m4 0h1m6 0h1m2 0h1m1 0h1m3 0h1M114 58h2m14 0h1m3 0h1m3 0h1m1 0h1M113 59h1m3 0h1m2 0h1m6 0h2m2 0h1m1 0h2m1 0h1m2 0h2m5 0h1M101 60h1m12 0h1m3 0h1m7 0h1m6 0h1m4 0h1m1 0h1m2 0h1M75 61h1m34 0h2m1 0h1m8 0h1m8 0h1m5 0h1m2 0h1M119 62h2m1 0h1m1 0h1m6 0h1m1 0h1m1 0h1m5 0h2m1 0h1M118 63h2m1 0h2m2 0h1m2 0h1m7 0h1M115 64h3m8 0h1m2 0h2m1 0h1m2 0h1m4 0h2m1 0h1M119 65h1m3 0h1m1 0h2m3 0h1m2 0h1m2 0h1m2 0h1M106 66h1m13 0h1m4 0h1m4 0h1m5 0h1m3 0h1M122 67h1m3 0h1m5 0h1m1 0h1m1 0h1M118 68h1m9 0h3M104 69h1m7 0h1m10 0h2m1 0h1m1 0h3m1 0h3M125 70h4m1 0h1m3 0h1m3 0h1M103 71h1m4 0h2m10 0h2m1 0h1m1 0h1m1 0h2m16 0h1M111 72h1m14 0h1M100 73h1m21 0h1m7 0h1m2 0h1M109 74h1m20 0h1m3 0h1M118 75h2m9 0h2m5 0h1m1 0h1M114 76h1m2 0h1m24 0h1M99 77h1m28 0h1m4 0h1m3 0h1m7 0h1M114 78h1M100 79h1m7 0h1m26 0h1M113 80h1m1 0h1M89 81h1m2 0h1m2 0h1m8 0h1M128 82h1M90 83h1m20 0h1m2 0h1m3 0h1m14 0h1M67 84h1m58 0h1m3 0h1M89 85h1m16 0h1m6 0h1M94 86h1m30 0h1M109 87h1m2 0h1m3 0h1m3 0h1M80 88h1m26 0h1m9 0h1M122 89h1m16 0h1M116 90h1M72 91h1m32 0h1m10 0h1m2 0h1m16 0h1M81 92h1m7 0h1M83 93h1m18 0h1m3 0h1m24 0h1M86 94h1m2 0h1m5 0h1m11 0h1m4 0h1m7 0h1m5 0h1M94 95h1m6 0h1m24 0h1m1 0h1M57 96h1M92 97h1m30 0h1m11 0h1m6 0h1M99 98h1M64 99h1m11 0h1m22 0h1m23 0h1M60 100h1m33 0h1m10 0h1m14 0h1m3 0h1m3 0h1M77 101h1m3 0h2m2 0h1m7 0h1m2 0h1m2 0h1M70 102h1m26 0h1m22 0h1m8 0h1m5 0h1M60 103h2m1 0h1m7 0h1m8 0h1m10 0h1m31 0h1m6 0h1M52 104h1m14 0h1m2 0h1m1 0h1m7 0h1m2 0h2m20 0h1m7 0h1m7 0h1m11 0h1M58 105h1m9 0h4m7 0h1m9 0h1M63 106h2m8 0h1m4 0h1m3 0h1m3 0h1m3 0h1m12 0h1M52 107h1m2 0h1m5 0h1m2 0h1m8 0h1m29 0h1m10 0h1M53 108h1m10 0h1m5 0h1m4 0h1m5 0h1m17 0h1m6 0h1m27 0h1M57 109h1m2 0h1m3 0h1m7 0h1m1 0h1m1 0h2m4 0h1m4 0h1m1 0h2m24 0h1M45 110h1m7 0h1m12 0h1m3 0h2m1 0h1m6 0h1m6 0h1m5 0h1m3 0h1m17 0h1m8 0h1M52 111h1m12 0h2m2 0h1m2 0h1m2 0h1m1 0h1m2 0h1m1 0h1m2 0h1m3 0h1m1 0h1m5 0h1m4 0h1m9 0h1m9 0h1m1 0h1M50 112h1m3 0h1m1 0h2m4 0h2m4 0h1m4 0h1m18 0h2m25 0h1M39 113h1m7 0h1m10 0h1m4 0h1m1 0h1m2 0h1m2 0h1m8 0h1m1 0h1m24 0h1m5 0h1m2 0h1M44 114h1m15 0h1m3 0h1m8 0h3m3 0h1m1 0h1m12 0h1m1 0h1m8 0h1m3 0h1m8 0h1m22 0h1M45 115h1m2 0h2m2 0h2m1 0h1m4 0h1m8 0h1m4 0h2m1 0h1m19 0h1m2 0h1m16 0h1m5 0h1M45 116h1m6 0h3m1 0h1m1 0h2m4 0h1m1 0h1m6 0h3m2 0h1m5 0h1m14 0h1m1 0h1m7 0h1M43 117h1m2 0h1m1 0h2m2 0h3m3 0h1m13 0h1m2 0h1m2 0h2m10 0h1m7 0h1m31 0h1M36 118h1m3 0h2m8 0h1m2 0h2m3 0h1m3 0h1m7 0h1m5 0h2m1 0h1m2 0h1m11 0h1m17 0h1m6 0h1m19 0h1M40 119h1m9 0h1m8 0h1m10 0h2m1 0h1m2 0h1m18 0h2m5 0h3m10 0h1M55 120h1m14 0h1m5 0h1m3 0h2m9 0h1m3 0h1m6 0h1m8 0h1m19 0h1M45 121h1m7 0h2m4 0h1m7 0h1m5 0h1m1 0h1m5 0h1m1 0h1m10 0h1m2 0h1m11 0h1M37 122h2m4 0h1m1 0h2m24 0h1m4 0h1m3 0h1m7 0h1m2 0h1m12 0h1m5 0h1m14 0h1M27 123h1m5 0h1m10 0h1m28 0h1m3 0h2m10 0h1m10 0h1m1 0h1m1 0h1m3 0h1m13 0h1M40 124h2m4 0h1m1 0h1m24 0h1m9 0h1m6 0h1m1 0h1m3 0h1m2 0h1m8 0h1m2 0h1m1 0h1m4 0h1M31 125h1m3 0h1m2 0h1m6 0h1m2 0h1m1 0h1m22 0h1m1 0h2m2 0h1m1 0h1m5 0h1m6 0h1m5 0h1m2 0h1m1 0h4m1 0h2m7 0h1M37 126h2m13 0h1m18 0h1m5 0h2m5 0h1m9 0h1m5 0h1m8 0h1m7 0h1M34 127h3m4 0h1m1 0h1m2 0h1m25 0h1m2 0h4m8 0h1m5 0h1m3 0h1m4 0h1m2 0h3M29 128h1m2 0h1m7 0h1m1 0h1m30 0h1m2 0h2m1 0h1m9 0h1m3 0h1m13 0h2m12 0h1M26 129h1m3 0h1m2 0h3m39 0h2m1 0h1m6 0h1m19 0h1M31 130h1m12 0h1m16 0h1m6 0h2m3 0h1m2 0h2m1 0h1m15 0h1m25 0h1M31 131h1m3 0h1m31 0h1m11 0h1m11 0h1m12 0h1M26 132h1m2 0h2m5 0h2m36 0h1m1 0h1m5 0h1m7 0h1m13 0h1m6 0h1m21 0h1M32 133h1m4 0h1m3 0h1m24 0h2m8 0h1m3 0h1m7 0h1m1 0h1m8 0h1m2 0h1M27 134h1m13 0h1m28 0h2m1 0h1m4 0h1m3 0h1m1 0h1m12 0h1m16 0h1M20 135h1m3 0h1m1 0h1m3 0h1m3 0h1m18 0h1m19 0h1m4 0h2m2 0h1m17 0h1m10 0h1M28 136h1m4 0h1m32 0h1m3 0h3m4 0h1m1 0h1m8 0h1m4 0h1m6 0h1m2 0h1M20 137h1m4 0h2m1 0h1m7 0h1m37 0h2m3 0h1m22 0h1m5 0h2m2 0h1m2 0h1M22 138h1m1 0h1m3 0h3m33 0h1m3 0h1m3 0h1m20 0h1m19 0h1m3 0h1M23 139h1m5 0h1m41 0h2m1 0h1m12 0h1m17 0h1m4 0h1m4 0h1M14 140h1m6 0h1m84 0h1M30 141h2m1 0h1m39 0h1m7 0h1m32 0h1M21 142h1m1 0h1m1 0h1m5 0h1m38 0h1m1 0h1m15 0h1m10 0h1m3 0h1M24 143h1m1 0h1m36 0h1m5 0h2M19 144h2m3 0h1m1 0h2m34 0h2m3 0h1m8 0h1m2 0h1m5 0h1m24 0h2M18 145h2m1 0h2m7 0h2m5 0h1m21 0h1m11 0h2m3 0h1m16 0h1M18 146h1m1 0h2m42 0h1M58 147h1m9 0h1m7 0h1M14 148h1m1 0h2m2 0h1m4 0h2m3 0h1m33 0h2m4 0h1m7 0h1m26 0h1M16 149h1m7 0h1m2 0h1m28 0h1m2 0h1m3 0h1m2 0h1m9 0h1M17 150h1m7 0h1m38 0h2M16 151h1m1 0h1m1 0h1m2 0h1m2 0h1m29 0h1m1 0h2m1 0h2m14 0h1M12 152h1m3 0h1m1 0h1m5 0h1m1 0h1m6 0h1m25 0h2m7 0h1m11 0h1M9 153h1m12 0h1m4 0h1m23 0h1m3 0h2m1 0h2m8 0h1m6 0h1M15 154h1m5 0h2m3 0h1m3 0h1m1 0h1m18 0h1m4 0h1m2 0h2m1 0h1M2 155h1m14 0h1m5 0h1m28 0h1m2 0h1m2 0h1m4 0h1m4 0h1M12 156h2m3 0h1m1 0h1m1 0h1m25 0h1m3 0h1M15 157h1m1 0h1m1 0h1m1 0h2m2 0h1m2 0h1m2 0h1m17 0h1m2 0h1m1 0h2m1 0h1m5 0h1M15 158h1m3 0h1m1 0h1m2 0h2m4 0h1m13 0h1m3 0h2m2 0h1m6 0h1M23 159h1m6 0h1m3 0h1m5 0h1m3 0h1m4 0h2m1 0h1m1 0h1m8 0h1M11 160h4m2 0h1m3 0h1m6 0h1m3 0h2m4 0h1m6 0h1m4 0h1m2 0h1m1 0h2M13 161h1m4 0h2m2 0h1m2 0h1m9 0h1m7 0h2m8 0h1M14 162h1m5 0h1m2 0h2m1 0h1m1 0h1m6 0h1m10 0h1m4 0h1M15 163h1m3 0h1m9 0h1m2 0h2m2 0h2m5 0h1m1 0h1M8 164h1m9 0h2m2 0h2m4 0h2m2 0h1m5 0h1m3 0h1m1 0h2m6 0h1m2 0h1M9 165h1m3 0h1m3 0h1m5 0h2m2 0h1m2 0h1m1 0h2m4 0h1m5 0h1m10 0h1m15 0h1M18 166h2m1 0h1m5 0h2m5 0h1m1 0h1m2 0h1m9 0h1M33 167h1m1 0h1m10 0h1m3 0h2M14 168h1m1 0h1m6 0h1m5 0h1m11 0h2M16 169h1m1 0h1m2 0h1m6 0h2m1 0h1m1 0h2m5 0h1m2 0h1M13 170h1m5 0h1m1 0h1m4 0h1m2 0h2m4 0h1m1 0h1m3 0h1M17 171h1m8 0h1m2 0h1m1 0h1m2 0h2m1 0h1m2 0h1m3 0h1" stroke-opacity=".72"/><path d="M127 33h1M139 47h1M128 48h1M118 50h1M130 51h1M122 52h1m7 0h1M113 53h1m18 0h1M120 54h1m7 0h1m7 0h1m2 0h1M123 55h1m7 0h1M113 56h1m11 0h1m2 0h1m3 0h1m4 0h1M119 57h1m6 0h2m2 0h1m1 0h2M121 58h2m3 0h3m4 0h1m2 0h2M121 59h1m1 0h1m1 0h1m3 0h2m1 0h1M121 60h1m1 0h1m1 0h1m2 0h1m1 0h3M115 61h1m2 0h1m1 0h1m2 0h1m1 0h6m1 0h1m1 0h1m4 0h1M116 62h1m4 0h1m1 0h1m1 0h6m3 0h1m2 0h1m1 0h1M120 63h1m2 0h1m2 0h2m1 0h3m1 0h1m4 0h2M124 64h2m1 0h2m4 0h1m2 0h1M116 65h3m2 0h1m2 0h1m3 0h2m2 0h1m1 0h1m7 0h1M122 66h1m5 0h2m2 0h1m4 0h1M121 67h1m1 0h2m2 0h1m2 0h2m3 0h1M120 68h1m4 0h2m7 0h2M127 69h1m3 0h1M116 70h1m1 0h1m3 0h1m6 0h1m2 0h2M111 71h1m12 0h1m1 0h1m3 0h1M113 72h1m7 0h1m5 0h1m14 0h1M135 73h1M129 74h1m1 0h1M108 83h1m19 0h1M112 84h1M110 86h1M134 87h1M124 88h1M119 89h1M109 94h1M69 98h1M74 99h1M76 102h1m7 0h1m17 0h1M62 103h1m16 0h1m21 0h1M56 105h2m7 0h1M60 106h1m16 0h1m18 0h1M68 107h1m1 0h2M72 108h1M63 109h1m2 0h3m4 0h1M59 110h1m5 0h1m1 0h1m7 0h1m1 0h1m20 0h1m4 0h1m9 0h1M46 111h1m6 0h1m3 0h1m6 0h1m8 0h1M49 112h1m8 0h1m1 0h1m3 0h1m6 0h1m5 0h1M53 113h1m1 0h1m1 0h1m8 0h2m1 0h1m6 0h1m7 0h1m11 0h1M51 114h1m2 0h3m1 0h2m2 0h2m2 0h2m2 0h3m5 0h1m1 0h1m1 0h1m29 0h1m7 0h1M47 115h1m2 0h2m2 0h1m1 0h3m2 0h3m2 0h1m1 0h1m1 0h1m1 0h2m6 0h1m34 0h1M47 116h1m2 0h2m5 0h1m2 0h4m3 0h1m2 0h2m5 0h1m33 0h1M55 117h3m1 0h13m8 0h1m3 0h1m25 0h1M47 118h3m1 0h2m2 0h3m2 0h2m1 0h1m1 0h4m2 0h2m1 0h2m5 0h1m1 0h1M46 119h1m2 0h1m1 0h2m1 0h5m1 0h6m1 0h1m1 0h1m7 0h1m1 0h1M38 120h1m4 0h1m2 0h3m1 0h5m1 0h2m1 0h4m1 0h6m3 0h1m1 0h1m1 0h1m6 0h1m3 0h2m4 0h1M42 121h1m3 0h4m1 0h2m2 0h4m1 0h5m1 0h1m1 0h4m2 0h1m2 0h1m1 0h1m30 0h1M41 122h2m1 0h1m2 0h24m1 0h2m3 0h1m1 0h1M39 123h3m4 0h4m1 0h21m3 0h2m5 0h1m28 0h1m7 0h1M35 124h1m1 0h1m4 0h4m1 0h1m1 0h14m1 0h9m1 0h1m2 0h2m15 0h1M43 125h2m2 0h1m1 0h1m1 0h22m1 0h1m5 0h1m1 0h1m1 0h1m17 0h1m10 0h1m15 0h1M35 126h2m4 0h3m1 0h7m1 0h18m1 0h1m7 0h3m3 0h1M38 127h3m1 0h1m1 0h2m1 0h19m1 0h5m1 0h2m7 0h1m27 0h1M38 128h2m1 0h1m1 0h1m1 0h26m3 0h1m3 0h1M29 129h1m7 0h2m2 0h4m1 0h25m1 0h3m5 0h1m41 0h1M36 130h4m1 0h3m1 0h16m1 0h6m3 0h1m2 0h2m2 0h1m5 0h1m22 0h1m1 0h1M33 131h2m2 0h30m1 0h3m1 0h2m3 0h1m6 0h1M31 132h2m1 0h1m3 0h34m1 0h1m7 0h1m19 0h1M33 133h1m1 0h2m1 0h3m1 0h24m2 0h5m1 0h1m18 0h1M30 134h11m1 0h25m2 0h1m4 0h1m4 0h1M28 135h1m2 0h1m1 0h1m1 0h1m1 0h16m1 0h19m2 0h1m18 0h1M27 136h1m2 0h1m1 0h1m1 0h29m1 0h2m1 0h3m6 0h1m19 0h1M30 137h2m1 0h2m2 0h34M27 138h1m3 0h33m1 0h3m1 0h2m3 0h1M22 139h1m3 0h1m1 0h1m1 0h1m1 0h36m5 0h1M24 140h4m1 0h5m1 0h33m4 0h2M27 141h2m3 0h1m1 0h28m1 0h5m16 0h1m14 0h1M26 142h5m1 0h27m1 0h10m5 0h1M20 143h1m4 0h1m2 0h35m1 0h4m6 0h1M25 144h1m2 0h34m2 0h1m1 0h1m3 0h1M20 145h1m3 0h2m2 0h2m2 0h5m1 0h21m1 0h3m1 0h2m24 0h1M23 146h41m3 0h1m23 0h1M20 147h1m1 0h8m1 0h27m1 0h8M19 148h1m2 0h3m2 0h3m1 0h32m4 0h1M23 149h1m1 0h2m1 0h28m1 0h1m2 0h3m1 0h1M14 150h1m8 0h2m1 0h5m1 0h30m1 0h1m2 0h1M21 151h1m2 0h1m2 0h1m1 0h27m1 0h1m2 0h1M22 152h2m3 0h6m1 0h25m4 0h1M11 153h1m4 0h1m1 0h1m1 0h2m1 0h4m1 0h23m1 0h3m2 0h1m4 0h2M17 154h1m1 0h2m2 0h2m2 0h2m2 0h1m1 0h18m2 0h2m2 0h2M15 155h1m8 0h18m1 0h9m1 0h2m2 0h1m9 0h1M22 156h25m1 0h3m1 0h4m4 0h1m2 0h1M24 157h1m1 0h2m1 0h2m1 0h16m2 0h2m1 0h1m4 0h1m1 0h1M23 158h1m2 0h4m1 0h13m1 0h3m2 0h2m3 0h1m2 0h1M18 159h5m2 0h5m1 0h3m1 0h5m1 0h3m1 0h4m2 0h1M19 160h1m2 0h2m1 0h1m1 0h1m1 0h3m2 0h4m1 0h2m1 0h3m1 0h4m1 0h2m6 0h1M17 161h1m2 0h2m1 0h1m2 0h1m1 0h1m1 0h5m1 0h7m2 0h4m1 0h1m1 0h1M18 162h2m1 0h2m2 0h1m1 0h1m1 0h6m1 0h1m1 0h4m1 0h1m1 0h1m1 0h1m1 0h2M18 163h1m2 0h8m1 0h2m3 0h1m2 0h1m2 0h2m1 0h1m2 0h1m2 0h1M14 164h1m6 0h1m4 0h2m2 0h2m1 0h2m1 0h2m1 0h2m6 0h1M19 165h1m6 0h1m1 0h2m1 0h1m2 0h2m1 0h1m1 0h1m7 0h1m4 0h1M16 166h1m5 0h5m2 0h4m2 0h1m2 0h1m3 0h2m3 0h2M15 167h1m2 0h2m2 0h4m1 0h2m1 0h3m1 0h1m6 0h1M20 168h2m2 0h1m1 0h1m1 0h1m1 0h1m1 0h1m3 0h2m6 0h1M19 169h1m7 0h1m4 0h1m4 0h1m4 0h1M17 170h1m5 0h2m2 0h1m4 0h1m6 0h1m4 0h1M21 171h3m4 0h1m1 0h1m2 0h1m7 0h1"/></g>
<rect x="607.5" y="1751.4" width="344.7" height="344.2" fill="none" stroke="#707070" stroke-width="2"/>
<line x1="783.5" y1="1751.4" x2="783.5" y2="2095.6" stroke="#555" stroke-width="1.8"/>
<line x1="607.5" y1="1947.1" x2="952.2" y2="1947.1" stroke="#555" stroke-width="1.8"/>
<path d="M607.5 2095.6v8M607.5 2095.6h-8M633.4 2095.6v4.5M607.5 2069.7h-4.5M648.6 2095.6v4.5M607.5 2054.5h-4.5M659.4 2095.6v4.5M607.5 2043.8h-4.5M667.7 2095.6v4.5M607.5 2035.5h-4.5M674.6 2095.6v4.5M607.5 2028.6h-4.5M680.3 2095.6v4.5M607.5 2022.9h-4.5M685.3 2095.6v4.5M607.5 2017.9h-4.5M689.7 2095.6v4.5M607.5 2013.5h-4.5M693.7 2095.6v8M607.5 2009.5h-8M719.6 2095.6v4.5M607.5 1983.6h-4.5M734.8 2095.6v4.5M607.5 1968.5h-4.5M745.6 2095.6v4.5M607.5 1957.7h-4.5M753.9 2095.6v4.5M607.5 1949.4h-4.5M760.7 2095.6v4.5M607.5 1942.6h-4.5M766.5 2095.6v4.5M607.5 1936.8h-4.5M771.5 2095.6v4.5M607.5 1931.8h-4.5M775.9 2095.6v4.5M607.5 1927.4h-4.5M779.9 2095.6v8M607.5 1923.5h-8M805.8 2095.6v4.5M607.5 1897.6h-4.5M821.0 2095.6v4.5M607.5 1882.4h-4.5M831.7 2095.6v4.5M607.5 1871.7h-4.5M840.1 2095.6v4.5M607.5 1863.4h-4.5M846.9 2095.6v4.5M607.5 1856.5h-4.5M852.7 2095.6v4.5M607.5 1850.8h-4.5M857.7 2095.6v4.5M607.5 1845.8h-4.5M862.1 2095.6v4.5M607.5 1841.4h-4.5M866.0 2095.6v8M607.5 1837.5h-8M892.0 2095.6v4.5M607.5 1811.5h-4.5M907.1 2095.6v4.5M607.5 1796.4h-4.5M917.9 2095.6v4.5M607.5 1785.6h-4.5M926.3 2095.6v4.5M607.5 1777.3h-4.5M933.1 2095.6v4.5M607.5 1770.5h-4.5M938.9 2095.6v4.5M607.5 1764.7h-4.5M943.8 2095.6v4.5M607.5 1759.7h-4.5M948.3 2095.6v4.5M607.5 1755.3h-4.5M952.2 2095.6v8M607.5 1751.4h-8" stroke="#555" stroke-width="1.6" fill="none"/>
<text x="609.5" y="2125.6" font-size="15" font-weight="bold" fill="#222" text-anchor="middle">10<tspan font-size="9" dy="-6">0</tspan></text>
<text x="591.5" y="2096.6" font-size="15" font-weight="bold" fill="#222" text-anchor="middle" transform="rotate(-90 591.5 2096.6)">10<tspan font-size="9" dy="-6">0</tspan></text>
<text x="695.7" y="2125.6" font-size="15" font-weight="bold" fill="#222" text-anchor="middle">10<tspan font-size="9" dy="-6">1</tspan></text>
<text x="591.5" y="2010.5" font-size="15" font-weight="bold" fill="#222" text-anchor="middle" transform="rotate(-90 591.5 2010.5)">10<tspan font-size="9" dy="-6">1</tspan></text>
<text x="781.9" y="2125.6" font-size="15" font-weight="bold" fill="#222" text-anchor="middle">10<tspan font-size="9" dy="-6">2</tspan></text>
<text x="591.5" y="1924.5" font-size="15" font-weight="bold" fill="#222" text-anchor="middle" transform="rotate(-90 591.5 1924.5)">10<tspan font-size="9" dy="-6">2</tspan></text>
<text x="868" y="2125.6" font-size="15" font-weight="bold" fill="#222" text-anchor="middle">10<tspan font-size="9" dy="-6">3</tspan></text>
<text x="591.5" y="1838.5" font-size="15" font-weight="bold" fill="#222" text-anchor="middle" transform="rotate(-90 591.5 1838.5)">10<tspan font-size="9" dy="-6">3</tspan></text>
<text x="954.2" y="2125.6" font-size="15" font-weight="bold" fill="#222" text-anchor="middle">10<tspan font-size="9" dy="-6">4</tspan></text>
<text x="591.5" y="1752.4" font-size="15" font-weight="bold" fill="#222" text-anchor="middle" transform="rotate(-90 591.5 1752.4)">10<tspan font-size="9" dy="-6">4</tspan></text>
<g font-size="15.5" font-weight="bold" fill="#1a1a1a" letter-spacing="1.3"><text x="612.5" y="1772.4">Q1</text><text x="612.5" y="1792.4">0.25%</text><text x="888.2" y="1772.4">Q2</text><text x="888.2" y="1792.4">11.57%</text><text x="612.5" y="2067.6">Q4</text><text x="612.5" y="2088.6">82.40%</text><text x="888.2" y="2067.6">Q3</text><text x="888.2" y="2088.6">6.32%</text></g>
<text x="792.5" y="1734.7" font-size="26" text-anchor="middle">LND</text>
<g transform="translate(1006.2 1752.40) scale(2.0)" fill="none" stroke="#f00" stroke-width="1"><path d="M124 7h1m34 0h1M151 12h1M102 16h1M131 17h1M158 19h1M136 20h1M116 21h1m8 0h1m31 0h1M125 22h1m13 0h1m18 0h1m1 0h1M127 23h1M100 24h1m23 0h1m7 0h1m5 0h1m14 0h1m7 0h1m3 0h1M129 25h1m1 0h1m17 0h1M118 26h1m27 0h1M115 27h1m3 0h1m12 0h4m8 0h1M127 28h1m7 0h1m2 0h2m7 0h1m4 0h1M117 29h1m2 0h1m3 0h1m5 0h1m1 0h1m1 0h2M128 30h1m31 0h1M123 31h2m11 0h1m1 0h2m13 0h1M115 32h1m4 0h1m7 0h1m11 0h1m1 0h1m5 0h1m6 0h1m12 0h1M110 33h1m14 0h2m2 0h1m8 0h2m7 0h1m3 0h1m11 0h1M106 34h1m4 0h1m7 0h1m4 0h1m1 0h1m7 0h1m6 0h1m2 0h1M102 35h1m12 0h1m3 0h1m2 0h1m4 0h2m2 0h1m1 0h1m7 0h1m5 0h1m7 0h1m6 0h1M125 36h1m8 0h2m5 0h2m2 0h1M101 37h1m12 0h1m15 0h2m15 0h1m1 0h1m4 0h1M95 38h1m22 0h3m6 0h4m4 0h3m24 0h1M96 39h1m3 0h1m7 0h1m2 0h1m3 0h2m2 0h2m2 0h1m14 0h1m2 0h1m6 0h1M92 40h1m16 0h1m10 0h1m2 0h1m1 0h1m2 0h1m1 0h1m2 0h1m2 0h1m1 0h1m6 0h1m3 0h1m2 0h1m3 0h1M104 41h1m4 0h1m3 0h2m11 0h1m4 0h1m5 0h1m1 0h1m4 0h1m23 0h1M71 42h1m35 0h2m1 0h1m7 0h1m1 0h1m2 0h1m9 0h1m3 0h1m2 0h1m1 0h1M111 43h1m2 0h2m6 0h1m2 0h1m4 0h2m5 0h1m1 0h2m9 0h1m4 0h1M105 44h2m2 0h1m8 0h2m1 0h2m1 0h1m3 0h1m1 0h1m5 0h1m2 0h1m3 0h2m6 0h1m1 0h1m13 0h1M81 45h1m21 0h1m1 0h1m7 0h2m3 0h3m8 0h1m1 0h1m10 0h1m5 0h1m2 0h1m1 0h1M99 46h1m14 0h3m4 0h1m4 0h3m2 0h1m1 0h1m1 0h1m1 0h1m4 0h4m13 0h1m8 0h1M86 47h1m13 0h1m8 0h2m1 0h2m1 0h1m2 0h1m5 0h1m5 0h2m1 0h2m4 0h1m18 0h1M92 48h1m1 0h1m6 0h2m5 0h1m2 0h1m1 0h1m5 0h3m2 0h1m1 0h1m3 0h5m1 0h1m1 0h1m4 0h1m5 0h3m1 0h1m11 0h1M103 49h1m1 0h1m2 0h1m4 0h2m6 0h1m1 0h3m2 0h1m1 0h2m4 0h1m4 0h2m1 0h1m1 0h2m1 0h2M92 50h1m10 0h1m1 0h1m1 0h1m5 0h1m8 0h1m5 0h1m5 0h2m1 0h1m1 0h1m7 0h1m19 0h1M94 51h1m2 0h1m4 0h2m6 0h1m1 0h1m1 0h2m1 0h1m2 0h3m1 0h1m4 0h1m4 0h3m3 0h4m2 0h1m2 0h1M87 52h1m2 0h1m9 0h2m1 0h1m2 0h2m1 0h1m1 0h1m4 0h1m10 0h2m2 0h1m4 0h2m1 0h1m1 0h1m11 0h1m6 0h1M102 53h1m1 0h3m5 0h1m6 0h1m3 0h3m3 0h2m1 0h2m1 0h1m2 0h1m1 0h1m5 0h1m1 0h1m3 0h1M94 54h1m5 0h1m8 0h1m3 0h1m3 0h1m8 0h1m4 0h1m4 0h1m11 0h1m1 0h2m2 0h4m6 0h1M61 55h1m28 0h1m4 0h1m3 0h2m1 0h1m1 0h2m4 0h2m2 0h1m3 0h1m2 0h1m2 0h1m11 0h2m6 0h1m2 0h3m1 0h1M66 56h1m34 0h1m3 0h1m1 0h1m1 0h1m1 0h1m1 0h1m1 0h1m13 0h1m6 0h4m5 0h2m14 0h1M89 57h1m6 0h1m2 0h1m1 0h1m3 0h1m2 0h2m5 0h1m3 0h1m11 0h1m2 0h1m2 0h2m2 0h1m1 0h2m2 0h2m6 0h1m9 0h1M64 58h1m10 0h1m11 0h1m7 0h1m3 0h1m1 0h1m1 0h1m1 0h1m6 0h1m2 0h1m1 0h1m4 0h1m1 0h1m6 0h1m4 0h2m2 0h1m1 0h2m2 0h1m2 0h2m1 0h1M80 59h1m5 0h2m7 0h1m2 0h1m6 0h1m3 0h1m1 0h1m22 0h1m3 0h1m5 0h1m4 0h1m3 0h1M59 60h1m14 0h1m17 0h1m1 0h2m1 0h1m2 0h1m3 0h1m2 0h1m11 0h1m8 0h1m7 0h1m4 0h1m1 0h1m2 0h1M71 61h1m10 0h1m2 0h1m6 0h1m3 0h1m1 0h2m1 0h1m3 0h1m7 0h1m19 0h7m4 0h1m4 0h2m2 0h1m2 0h1m5 0h1M84 62h1m9 0h1m1 0h1m1 0h2m2 0h1m5 0h1m5 0h1m19 0h1m3 0h1m1 0h1m2 0h1m3 0h1m4 0h1m6 0h1m2 0h1M48 63h1m16 0h1m2 0h1m7 0h1m9 0h1m1 0h1m5 0h3m3 0h2m12 0h1m43 0h1m6 0h1M77 64h1m13 0h1m5 0h3m1 0h1m6 0h1m4 0h1m15 0h1m5 0h1m2 0h2m3 0h1m1 0h2m1 0h1m3 0h1m3 0h1m2 0h1M78 65h1m1 0h2m4 0h2m7 0h2m1 0h1m1 0h2m1 0h1m1 0h1m7 0h1m20 0h1m5 0h1m1 0h3m3 0h1m16 0h1m5 0h1M69 66h1m11 0h1m7 0h1m1 0h1m2 0h1m2 0h1m1 0h1m4 0h1m33 0h2m2 0h1m1 0h2m6 0h1m3 0h1m3 0h1m3 0h1M57 67h1m4 0h1m7 0h1m24 0h3m3 0h2m3 0h1m27 0h1m5 0h2m3 0h3m3 0h1M50 68h1m28 0h1m1 0h1m3 0h1m2 0h1m7 0h2m8 0h1m2 0h1m3 0h1m17 0h1m2 0h1m5 0h1m8 0h3m6 0h1m9 0h1M60 69h1m5 0h1m19 0h2m6 0h1m1 0h1m2 0h1m1 0h1m3 0h1m5 0h1m26 0h1m7 0h1m8 0h1m1 0h1M64 70h1m14 0h1m1 0h2m4 0h1m4 0h1m42 0h1m3 0h1m2 0h1m3 0h2m6 0h1m2 0h1M69 71h1m15 0h1m1 0h1m2 0h1m3 0h2m7 0h1m2 0h1m33 0h1m8 0h2m5 0h1m1 0h1M39 72h1m22 0h1m9 0h1m18 0h1m3 0h2m2 0h1m2 0h1m23 0h1m4 0h1m2 0h3m1 0h1m3 0h1m1 0h1m1 0h2m8 0h1m3 0h1m8 0h1M60 73h1m27 0h1m4 0h1m2 0h1m1 0h1m2 0h1m2 0h1m2 0h2m11 0h1m9 0h1m2 0h1m1 0h1m2 0h1m2 0h1m5 0h3m10 0h1M71 74h1m5 0h1m4 0h1m14 0h2m4 0h2m18 0h1m8 0h2m1 0h1m2 0h1m2 0h1m6 0h1m14 0h1M57 75h1m30 0h1m6 0h1m1 0h2m1 0h4m1 0h1m1 0h1m16 0h1m2 0h1m2 0h1m1 0h1m6 0h1m1 0h1m4 0h3m1 0h1m1 0h1m3 0h1M17 76h1m48 0h1m6 0h1m14 0h3m1 0h1m2 0h4m1 0h2m4 0h3m2 0h1m9 0h1m3 0h1m2 0h1m9 0h1m1 0h1m3 0h1m2 0h1m7 0h1m14 0h1M60 77h1m6 0h1m3 0h1m1 0h1m13 0h1m2 0h2m2 0h1m2 0h1m1 0h2m13 0h1m7 0h1m3 0h1m3 0h2m1 0h1m5 0h1m2 0h3m8 0h1m1 0h1m13 0h1M82 78h1m3 0h1m2 0h1m6 0h1m1 0h3m4 0h1m4 0h1m13 0h1m17 0h1m3 0h1m3 0h1m1 0h1m7 0h1m1 0h1M71 79h1m4 0h1m15 0h1m1 0h1m2 0h1m18 0h1m2 0h1m4 0h1m2 0h4m4 0h1m3 0h1m1 0h1m1 0h1m3 0h1m1 0h1m2 0h1m14 0h1M48 80h1m30 0h1m6 0h1m4 0h2m4 0h1m2 0h1m1 0h1m4 0h2m1 0h1m17 0h2m1 0h2m7 0h3m3 0h2m3 0h1M67 81h1m3 0h1m1 0h1m3 0h1m9 0h1m4 0h1m1 0h1m3 0h3m4 0h1m4 0h1m6 0h1m2 0h1m1 0h1m1 0h1m2 0h2m1 0h1m1 0h1m1 0h2m2 0h3m2 0h1m5 0h1M58 82h1m16 0h1m11 0h1m1 0h3m1 0h1m7 0h1m4 0h1m2 0h1m8 0h1m2 0h1m2 0h5m2 0h2m10 0h1m1 0h2m4 0h1M48 83h1m26 0h1m9 0h1m7 0h2m8 0h1m1 0h3m1 0h1m5 0h1m3 0h1m2 0h1m4 0h2m1 0h7m3 0h1m3 0h1m8 0h1M69 84h1m6 0h1m4 0h4m3 0h1m5 0h2m2 0h1m4 0h4m1 0h1m2 0h2m6 0h5m4 0h1m1 0h1m3 0h2m1 0h1m2 0h3m1 0h1m4 0h2M38 85h1m12 0h1m5 0h1m9 0h1m9 0h2m8 0h1m4 0h1m1 0h4m5 0h1m1 0h1m2 0h1m2 0h1m4 0h1m2 0h1m1 0h1m3 0h1m1 0h1m6 0h1m3 0h1m4 0h1m27 0h1M48 86h1m23 0h1m5 0h2m9 0h1m4 0h1m2 0h1m3 0h2m2 0h1m12 0h2m3 0h1m1 0h2m2 0h1m3 0h1m11 0h2m1 0h1M66 87h1m7 0h1m3 0h1m4 0h1m1 0h1m1 0h1m8 0h1m2 0h2m5 0h1m3 0h1m7 0h2m1 0h3m2 0h4m3 0h2m2 0h2m1 0h1m2 0h1m2 0h1m4 0h2m5 0h1M41 88h1m11 0h1m23 0h1m2 0h1m8 0h2m3 0h5m1 0h1m1 0h1m3 0h1m10 0h1m3 0h2m3 0h2m2 0h3m5 0h3m6 0h1m1 0h1M54 89h1m9 0h1m2 0h2m8 0h1m2 0h2m9 0h1m3 0h1m2 0h1m4 0h1m1 0h1m5 0h1m2 0h1m1 0h3m6 0h1m4 0h2m1 0h3m5 0h1m1 0h3m8 0h1M64 90h2m1 0h1m2 0h2m1 0h1m3 0h1m4 0h2m7 0h1m3 0h1m2 0h1m1 0h3m1 0h1m2 0h2m2 0h1m4 0h6m4 0h1m1 0h1m1 0h1m1 0h3m2 0h5m1 0h2m12 0h1M56 91h1m5 0h1m4 0h1m13 0h3m1 0h4m3 0h1m1 0h1m4 0h2m1 0h2m1 0h2m4 0h1m3 0h1m5 0h1m1 0h3m1 0h2m16 0h1m2 0h1m4 0h1M42 92h1m23 0h1m11 0h1m2 0h1m3 0h2m3 0h2m2 0h1m6 0h1m1 0h3m2 0h2m2 0h1m1 0h1m1 0h2m1 0h3m6 0h2m1 0h1m4 0h2m6 0h1m5 0h1M50 93h1m19 0h1m7 0h3m6 0h2m3 0h1m2 0h7m1 0h1m1 0h2m1 0h2m2 0h1m3 0h1m2 0h1m2 0h1m1 0h4m2 0h2m4 0h2m6 0h1m12 0h1M50 94h1m17 0h1m6 0h1m5 0h1m2 0h1m2 0h2m3 0h1m5 0h1m1 0h1m1 0h3m2 0h1m2 0h1m2 0h2m2 0h2m10 0h1m1 0h2m7 0h1m4 0h1M57 95h1m7 0h1m1 0h1m5 0h1m3 0h2m2 0h3m3 0h1m3 0h1m4 0h1m6 0h1m2 0h3m1 0h2m2 0h1m1 0h2m2 0h1m5 0h2m1 0h3m4 0h3m10 0h1m17 0h1M33 96h1m29 0h1m5 0h1m1 0h1m2 0h1m1 0h1m1 0h1m1 0h1m1 0h1m3 0h1m1 0h1m1 0h1m5 0h2m2 0h1m8 0h1m1 0h2m4 0h2m1 0h3m2 0h1m4 0h4m1 0h1m2 0h1m3 0h1M36 97h1m5 0h1m14 0h1m1 0h1m2 0h1m1 0h1m3 0h1m9 0h1m1 0h1m6 0h2m1 0h2m2 0h1m1 0h1m2 0h1m2 0h1m7 0h2m1 0h1m3 0h2m4 0h1m5 0h1m15 0h1m8 0h1M47 98h1m3 0h1m2 0h1m3 0h1m9 0h1m1 0h1m2 0h2m3 0h1m1 0h1m6 0h3m2 0h2m1 0h1m8 0h2m7 0h3m1 0h1m1 0h4m2 0h1m9 0h1m2 0h1m8 0h1M46 99h1m12 0h1m5 0h1m3 0h1m6 0h1m1 0h1m1 0h1m1 0h2m1 0h1m2 0h1m3 0h6m1 0h2m1 0h1m4 0h3m1 0h2m1 0h5m1 0h2m2 0h1m1 0h1m7 0h1m3 0h2m4 0h1m2 0h1m1 0h1m5 0h1M54 100h1m3 0h2m4 0h1m4 0h2m1 0h1m4 0h2m2 0h1m2 0h1m1 0h1m1 0h1m2 0h1m4 0h1m8 0h2m3 0h1m2 0h2m2 0h3m2 0h3m3 0h3m17 0h1M50 101h1m7 0h1m3 0h1m1 0h2m1 0h1m4 0h1m1 0h1m1 0h1m7 0h2m4 0h1m1 0h1m17 0h1m3 0h1m5 0h2m3 0h1m1 0h2m3 0h1m2 0h1M39 102h2m11 0h1m8 0h1m2 0h1m2 0h1m1 0h1m6 0h1m1 0h1m1 0h2m3 0h1m3 0h1m2 0h2m1 0h1m1 0h2m3 0h1m3 0h1m1 0h2m11 0h1m1 0h1m2 0h1m4 0h1m4 0h1m1 0h1m3 0h1M54 103h1m4 0h1m5 0h1m2 0h1m3 0h1m1 0h1m5 0h1m1 0h1m1 0h1m3 0h2m4 0h2m4 0h2m4 0h1m1 0h3m4 0h2m1 0h1m1 0h1m4 0h1m3 0h1m6 0h1m3 0h1m1 0h1m7 0h1M45 104h1m14 0h3m2 0h1m1 0h2m5 0h2m2 0h1m3 0h1m3 0h1m1 0h2m3 0h1m3 0h1m3 0h2m3 0h2m1 0h1m7 0h1m1 0h1m2 0h2m1 0h3m4 0h1m2 0h1m1 0h1m4 0h1M38 105h1m1 0h1m10 0h1m10 0h1m4 0h2m5 0h1m3 0h1m8 0h1m4 0h4m1 0h2m7 0h1m1 0h1m1 0h2m3 0h1m6 0h3m7 0h1m1 0h2M39 106h1m1 0h2m4 0h1m1 0h1m2 0h1m4 0h1m4 0h3m1 0h1m6 0h1m12 0h1m6 0h1m2 0h1m4 0h1m1 0h1m3 0h1m1 0h1m2 0h1m1 0h2m2 0h3m4 0h1m1 0h1m1 0h1m10 0h1m3 0h1M31 107h1m15 0h1m1 0h1m4 0h1m2 0h1m3 0h2m1 0h1m4 0h2m5 0h1m2 0h1m2 0h1m5 0h1m3 0h2m1 0h2m6 0h2m3 0h1m1 0h1m5 0h1m2 0h1m5 0h1m2 0h1m1 0h1m3 0h1m4 0h1m5 0h1M35 108h1m4 0h1m4 0h1m2 0h1m2 0h1m1 0h2m2 0h1m1 0h1m2 0h1m7 0h1m3 0h1m1 0h2m2 0h2m2 0h2m1 0h1m1 0h3m1 0h2m1 0h2m8 0h1m7 0h2m1 0h4m1 0h1m16 0h1m14 0h1M34 109h1m9 0h3m5 0h1m2 0h1m2 0h2m5 0h2m1 0h1m4 0h2m1 0h1m4 0h2m3 0h2m2 0h1m2 0h1m3 0h1m1 0h2m1 0h2m2 0h1m5 0h3m1 0h1m6 0h1m2 0h2m9 0h1m4 0h1M37 110h1m2 0h2m2 0h1m5 0h1m1 0h1m1 0h1m3 0h1m4 0h1m2 0h1m2 0h1m4 0h1m3 0h2m1 0h1m1 0h2m2 0h1m2 0h1m1 0h1m1 0h1m1 0h4m1 0h4m5 0h1m1 0h3m1 0h1m11 0h1m2 0h1m21 0h1M41 111h2m1 0h2m1 0h2m1 0h1m5 0h1m2 0h1m4 0h1m1 0h1m2 0h3m1 0h1m1 0h1m1 0h1m3 0h1m1 0h3m2 0h3m1 0h3m3 0h1m1 0h1m1 0h1m1 0h1m1 0h1m5 0h1m6 0h1m3 0h1m13 0h1m2 0h1M43 112h1m4 0h2m1 0h2m2 0h1m3 0h2m6 0h1m1 0h1m7 0h1m8 0h1m1 0h1m4 0h1m5 0h2m3 0h2m4 0h6m1 0h2m1 0h1m2 0h1m4 0h1m12 0h1m10 0h1M26 113h2m3 0h1m3 0h1m2 0h1m7 0h1m1 0h2m3 0h1m2 0h1m1 0h2m3 0h1m11 0h1m3 0h1m1 0h3m3 0h1m5 0h3m1 0h1m13 0h1m4 0h2m2 0h2m1 0h1m3 0h3m1 0h1m3 0h1M23 114h1m11 0h1m3 0h3m4 0h1m6 0h1m4 0h2m1 0h1m9 0h1m3 0h1m2 0h1m3 0h4m6 0h1m1 0h2m1 0h2m3 0h1m3 0h1m1 0h1m1 0h1m3 0h2m2 0h1m5 0h2m1 0h1m3 0h1m1 0h1m6 0h1M21 115h1m13 0h1m5 0h2m2 0h1m4 0h2m5 0h1m1 0h1m2 0h1m11 0h1m1 0h1m7 0h1m1 0h1m1 0h5m1 0h1m2 0h1m3 0h1m1 0h1m9 0h1m4 0h1m3 0h1m3 0h1m1 0h1m1 0h1m1 0h1m2 0h1m7 0h1M36 116h2m4 0h1m1 0h1m2 0h1m1 0h1m4 0h2m11 0h1m3 0h2m1 0h1m1 0h1m2 0h1m3 0h1m6 0h2m2 0h2m2 0h1m2 0h1m1 0h2m2 0h1m2 0h3m1 0h1m1 0h2m4 0h2M23 117h1m11 0h1m3 0h1m1 0h3m1 0h4m2 0h3m15 0h3m5 0h1m6 0h2m1 0h1m2 0h1m2 0h1m1 0h3m1 0h1m1 0h1m2 0h1m2 0h3m1 0h1m2 0h1m1 0h1m1 0h2m4 0h1m1 0h1m1 0h1m1 0h1M37 118h1m1 0h1m1 0h1m3 0h1m2 0h1m6 0h2m24 0h2m1 0h1m2 0h1m1 0h1m2 0h5m2 0h1m6 0h2m2 0h2m2 0h1m1 0h1m5 0h1m1 0h1m3 0h1m2 0h1m1 0h1m1 0h1m13 0h1M38 119h1m5 0h1m6 0h1m1 0h1m26 0h1m3 0h1m3 0h1m3 0h1m6 0h1m4 0h2m8 0h1m4 0h1m1 0h1M29 120h1m1 0h1m2 0h1m3 0h1m3 0h1m1 0h1m5 0h3m25 0h1m2 0h1m2 0h1m9 0h1m2 0h1m1 0h1m1 0h2m1 0h1m3 0h2m2 0h2m1 0h1m1 0h1m2 0h3m2 0h1m2 0h1m2 0h1M21 121h1m11 0h1m2 0h1m3 0h1m1 0h1m1 0h1m3 0h2m4 0h1m9 0h1m5 0h1m9 0h1m3 0h1m14 0h2m2 0h1m2 0h1m3 0h3m8 0h2m1 0h1m2 0h1m1 0h1m2 0h2m9 0h1M22 122h2m7 0h1m3 0h2m1 0h2m1 0h1m2 0h1m7 0h2m3 0h1m18 0h1m1 0h1m7 0h1m1 0h2m2 0h1m1 0h2m3 0h2m4 0h2m10 0h1m2 0h1m2 0h1m9 0h1M11 123h1m10 0h1m9 0h2m1 0h2m6 0h1m1 0h1m4 0h1m3 0h1m3 0h1m17 0h1m3 0h1m5 0h3m1 0h3m1 0h1m1 0h2m4 0h1m2 0h2m6 0h1m1 0h3m12 0h1m1 0h1m3 0h1m2 0h1m2 0h1M33 124h1m6 0h2m2 0h1m33 0h2m7 0h5m4 0h2m3 0h1m1 0h1m1 0h2m1 0h1m2 0h5m2 0h1m3 0h2m4 0h1m2 0h1m4 0h1m8 0h1M24 125h1m2 0h1m3 0h4m5 0h4m3 0h2m22 0h1m3 0h1m6 0h3m2 0h2m1 0h1m3 0h1m2 0h1m1 0h1m1 0h1m5 0h2m4 0h4m1 0h1m2 0h1m2 0h1m3 0h1m1 0h1m2 0h1m4 0h1m1 0h1M28 126h2m3 0h1m3 0h1m1 0h1m12 0h1m24 0h1m1 0h2m5 0h1m3 0h3m1 0h2m1 0h1m2 0h1m3 0h1m1 0h1m6 0h1m4 0h1m2 0h1m3 0h1m3 0h1M25 127h1m1 0h1m1 0h2m1 0h1m2 0h1m1 0h1m9 0h1m2 0h1m18 0h1m5 0h1m1 0h1m2 0h1m1 0h1m1 0h1m3 0h2m2 0h2m1 0h2m2 0h1m4 0h2m8 0h1m6 0h1M34 128h1m3 0h1m2 0h1m9 0h1m3 0h1m19 0h1m3 0h2m5 0h1m1 0h1m1 0h1m1 0h1m3 0h1m1 0h4m5 0h1m1 0h1m7 0h3m1 0h1m1 0h1m2 0h1m4 0h1m1 0h1M37 129h1m4 0h2m36 0h1m1 0h1m1 0h1m4 0h2m3 0h1m6 0h2m6 0h1m1 0h1m4 0h1m4 0h2m2 0h1M23 130h2m2 0h1m3 0h4m3 0h1m1 0h1m33 0h1m3 0h3m4 0h1m1 0h1m1 0h1m3 0h1m5 0h1m1 0h1m2 0h1m2 0h1m1 0h1m1 0h1m3 0h1m1 0h2m15 0h1M28 131h1m5 0h1m7 0h1m5 0h1m20 0h1m1 0h2m3 0h1m3 0h1m4 0h1m3 0h2m3 0h1m2 0h1m2 0h1m2 0h1m6 0h1M24 132h1m2 0h1m2 0h5m3 0h1m1 0h2m8 0h1m18 0h1m7 0h1m1 0h1m1 0h1m2 0h1m4 0h1m1 0h1m5 0h1m2 0h2m7 0h2m1 0h1m3 0h3m2 0h2M19 133h1m2 0h1m2 0h1m5 0h2m2 0h1m7 0h1m26 0h1m3 0h1m1 0h1m2 0h2m4 0h1m1 0h7m5 0h1m3 0h1m1 0h1m12 0h1M4 134h1m18 0h1m4 0h1m2 0h3m1 0h2m3 0h1m43 0h4m1 0h1m1 0h2m9 0h1m1 0h1m2 0h1m2 0h1m2 0h1m1 0h1m1 0h3m1 0h1m12 0h1M25 135h1m3 0h1m1 0h1m5 0h1m34 0h1m4 0h1m1 0h1m4 0h2m4 0h3m3 0h3m1 0h1m1 0h1m1 0h1m4 0h1m1 0h1m1 0h1m5 0h1M21 136h1m2 0h2m1 0h1m1 0h1m3 0h1m2 0h1m3 0h1m8 0h1m14 0h1m7 0h1m1 0h1m2 0h1m1 0h1m5 0h1m5 0h2m5 0h1m5 0h9m2 0h1m2 0h1m3 0h1m20 0h1M22 137h1m5 0h1m2 0h1m1 0h1m7 0h1m30 0h2m5 0h2m3 0h1m1 0h1m2 0h1m7 0h1m10 0h3m3 0h1m5 0h1M11 138h2m5 0h2m5 0h4m5 0h1m8 0h1m31 0h1m4 0h1m2 0h1m1 0h1m2 0h1m1 0h1m1 0h1m6 0h1m7 0h2m3 0h2m16 0h1M16 139h1m7 0h1m1 0h1m6 0h1m35 0h1m1 0h1m7 0h2m2 0h4m5 0h1m1 0h1m1 0h1m1 0h1m1 0h1m2 0h1m1 0h1m1 0h1m19 0h2M28 140h1m6 0h2m1 0h1m23 0h1m6 0h1m1 0h1m2 0h1m5 0h1m6 0h1m7 0h2m3 0h2m1 0h1m4 0h1m1 0h1m7 0h1m1 0h2m12 0h1M15 141h1m7 0h2m8 0h1m4 0h1m24 0h1m2 0h1m6 0h2m8 0h1m1 0h1m7 0h1m6 0h2m2 0h1m9 0h1M3 142h1m12 0h1m6 0h1m1 0h1m2 0h1m5 0h1m36 0h1m3 0h1m1 0h2m2 0h1m8 0h2m1 0h1m2 0h2m7 0h2m1 0h1m1 0h1m9 0h1m2 0h1m1 0h1M14 143h1m2 0h1m1 0h1m6 0h2m5 0h1m38 0h2m2 0h1m1 0h1m4 0h1m4 0h4m2 0h1m1 0h1M23 144h1m4 0h2m4 0h1m22 0h1m15 0h1m11 0h1m6 0h1m1 0h2m10 0h1m1 0h1m16 0h1m10 0h1M14 145h1m7 0h1m1 0h1m2 0h1m1 0h1m29 0h1m3 0h2m9 0h1m1 0h3m1 0h1m3 0h1m3 0h1m2 0h1m3 0h2m6 0h2m4 0h2m1 0h1m1 0h2M12 146h1m5 0h1m3 0h1m1 0h1m1 0h1m1 0h2m26 0h1m5 0h1m1 0h2m3 0h1m1 0h1m2 0h1m4 0h2m2 0h3m6 0h1m1 0h2m3 0h1m13 0h1m1 0h2m4 0h1m6 0h1M10 147h2m2 0h1m10 0h1m3 0h1m3 0h1m10 0h1m4 0h1m6 0h1m4 0h1m5 0h2m5 0h3m1 0h1m24 0h1m8 0h1m1 0h1m6 0h1M18 148h1m4 0h1m4 0h1m1 0h1m32 0h2m1 0h1m4 0h1m2 0h2m4 0h2m4 0h1m2 0h1m2 0h1m3 0h1m2 0h1m5 0h1m2 0h1m6 0h1m6 0h1M16 149h1m1 0h1m3 0h5m4 0h1m5 0h1m30 0h1m2 0h3m1 0h1m10 0h2m5 0h1m3 0h2m4 0h2m3 0h1m1 0h1M22 150h1m1 0h1m3 0h1m15 0h1m13 0h1m2 0h3m2 0h1m2 0h1m1 0h1m2 0h1m4 0h1m13 0h1m2 0h1m1 0h1m1 0h1m20 0h1M7 151h1m5 0h1m4 0h1m1 0h2m1 0h2m1 0h2m1 0h1m4 0h1m17 0h1m7 0h1m1 0h1m3 0h2m2 0h1m1 0h1m1 0h1m1 0h1m11 0h1m1 0h1m7 0h1m5 0h1m3 0h1m21 0h1M9 152h1m5 0h1m1 0h1m2 0h1m4 0h1m1 0h1m9 0h1m5 0h1m17 0h1m2 0h1m7 0h1m2 0h1m11 0h1m2 0h1m3 0h1m6 0h1m4 0h2m1 0h1m17 0h1M15 153h1m1 0h2m2 0h1m3 0h1m1 0h2m3 0h1m13 0h1m11 0h3m4 0h1m7 0h1m5 0h1m14 0h1m1 0h2M10 154h1m6 0h1m1 0h1m2 0h2m1 0h1m1 0h1m1 0h1m5 0h1m3 0h1m8 0h1m10 0h1m7 0h1m1 0h1m1 0h1m3 0h1m10 0h1m3 0h1m9 0h1m3 0h1m8 0h1m4 0h1M19 155h1m3 0h1m1 0h2m3 0h1m8 0h1m8 0h1m8 0h1m1 0h2m1 0h4m1 0h1m1 0h2m4 0h1m3 0h1M0 156h1m10 0h1m7 0h1m1 0h3m1 0h1m1 0h1m1 0h2m17 0h1m3 0h3m1 0h2m5 0h1m1 0h1m2 0h1m4 0h1m4 0h3m2 0h1m9 0h1m1 0h1M17 157h3m3 0h1m2 0h1m6 0h1m19 0h1m1 0h1m9 0h1m2 0h2m33 0h1M17 158h1m1 0h3m1 0h2m1 0h1m2 0h1m2 0h1m8 0h2m11 0h2m5 0h1m5 0h1m3 0h1m6 0h1m22 0h1m13 0h2M14 159h1m5 0h2m1 0h1m3 0h1m2 0h1m3 0h1m2 0h2m9 0h2m1 0h1m1 0h4m4 0h1m12 0h1m27 0h1M2 160h1m10 0h1m2 0h1m2 0h1m1 0h1m6 0h1m1 0h1m4 0h1m5 0h1m15 0h1m6 0h1m1 0h1m17 0h1m2 0h2M16 161h1m4 0h2m1 0h2m1 0h1m1 0h1m1 0h1m1 0h2m1 0h1m2 0h1m2 0h2m1 0h1m7 0h2m19 0h1m1 0h1m7 0h2m12 0h1m2 0h2M16 162h1m3 0h1m1 0h1m3 0h2m1 0h3m3 0h1m10 0h1m1 0h1m3 0h1m4 0h1m1 0h2m2 0h1m10 0h1m17 0h1M7 163h1m7 0h2m3 0h1m15 0h1m1 0h1m7 0h1m2 0h1m3 0h2m1 0h1m2 0h1m6 0h1m3 0h1m21 0h1M7 164h1m5 0h1m9 0h1m4 0h3m4 0h1m4 0h1m1 0h1m1 0h1m1 0h4m1 0h2m3 0h1m3 0h1m4 0h1M0 165h1m2 0h1m5 0h1m7 0h2m5 0h1m2 0h1m1 0h1m3 0h2m2 0h2m3 0h1m1 0h1m2 0h2m1 0h1m3 0h1m4 0h1m1 0h1M15 166h1m2 0h1m2 0h3m2 0h1m2 0h1m3 0h1m1 0h1m2 0h1m1 0h1m2 0h1m3 0h2m1 0h1m1 0h1m1 0h1m1 0h1m22 0h1m6 0h1m14 0h1M3 167h1m15 0h1m1 0h2m1 0h1m2 0h1m4 0h1m2 0h3m6 0h1m1 0h2m4 0h2m2 0h1m6 0h1m2 0h2m1 0h2m18 0h1m5 0h1m29 0h1M14 168h1m1 0h1m2 0h1m2 0h1m2 0h1m1 0h1m4 0h1m2 0h2m1 0h1m3 0h2m1 0h4m1 0h1m9 0h1M17 169h1m5 0h3m1 0h2m1 0h1m2 0h1m4 0h1m2 0h1m3 0h1m1 0h1m7 0h1m1 0h2m7 0h1m4 0h1M16 170h1m1 0h1m5 0h2m2 0h3m1 0h2m1 0h1m4 0h4m4 0h1m44 0h1M7 171h2m9 0h1m1 0h2m2 0h4m1 0h3m4 0h1m7 0h3m2 0h1m3 0h2m42 0h1" stroke-opacity=".42"/><path d="M120 31h1M130 32h1M102 33h1M123 34h1m26 0h1M137 35h1m5 0h1M137 36h1M113 38h1M130 39h1M122 40h1m9 0h1m8 0h1M97 41h1m27 0h1m8 0h1m12 0h1M117 42h1m1 0h1m2 0h1m4 0h1m1 0h1M112 43h1m13 0h1M102 44h1m20 0h1m14 0h1m10 0h1M125 45h1m1 0h1m10 0h1M98 46h1m6 0h1m4 0h1m6 0h1m7 0h1m8 0h1M125 47h1m1 0h1m1 0h1m5 0h1m1 0h1m3 0h1M137 48h1m8 0h1M139 49h2M112 50h1m6 0h1m1 0h1m2 0h1m7 0h2m4 0h1m2 0h1M106 51h1m2 0h1m1 0h1m11 0h1m1 0h2m3 0h2m6 0h1M114 52h2m1 0h1m1 0h3m2 0h1m8 0h2m5 0h1m7 0h1M109 53h1m1 0h1m2 0h1m5 0h1m13 0h1m1 0h1m4 0h2m6 0h1M98 54h1m7 0h1m3 0h1m3 0h2m3 0h1m2 0h1m1 0h2m1 0h4m3 0h2m7 0h1M103 55h1m2 0h1m2 0h1m10 0h1m2 0h1m3 0h1m1 0h2m2 0h1m4 0h1m3 0h1m2 0h1M95 56h1m10 0h1m1 0h1m1 0h1m3 0h1m1 0h3m4 0h3m4 0h2m2 0h2m7 0h1M103 57h1m8 0h1m3 0h1m1 0h1m8 0h1m2 0h1m5 0h1m2 0h1m16 0h1M92 58h1m13 0h1m6 0h2m10 0h1m3 0h1m2 0h1M97 59h1m5 0h1m9 0h1m3 0h2m6 0h1m1 0h1m7 0h3m3 0h1m4 0h1m9 0h1M99 60h1m3 0h1m4 0h1m3 0h2m17 0h1m3 0h1m2 0h1M103 61h1m2 0h1m1 0h1m2 0h2m1 0h1m17 0h1m10 0h1m3 0h1m7 0h1M100 62h1m3 0h2m1 0h1m1 0h1m2 0h1m3 0h1m1 0h1m9 0h2m2 0h1m12 0h1m2 0h2M98 63h2m4 0h1m1 0h1m2 0h1m15 0h1m5 0h1m7 0h3M127 64h1M93 65h1m14 0h1m1 0h2m24 0h1m2 0h1M98 66h1m6 0h1m2 0h1m1 0h1m21 0h4m1 0h1m3 0h1M98 67h1m5 0h1m24 0h1m2 0h1m2 0h1m1 0h2m9 0h1M93 68h1m4 0h5m5 0h1m8 0h1m10 0h1m7 0h1m1 0h1m3 0h1m1 0h1M104 69h1m7 0h1m2 0h1m13 0h1m6 0h2m2 0h1M98 70h1m1 0h1m3 0h1m1 0h1m3 0h1m23 0h1m1 0h1m1 0h1M89 71h1m11 0h2m1 0h1m3 0h1m16 0h1m7 0h4m4 0h1m3 0h2M92 72h1m10 0h1m5 0h1m14 0h2m1 0h1m2 0h1m8 0h1M102 73h2m1 0h1m4 0h1m18 0h1m10 0h1M109 74h1m2 0h2m7 0h1m3 0h2m1 0h2m14 0h1M106 75h1m1 0h1m2 0h1m5 0h1m3 0h1m1 0h1m1 0h1m7 0h2m3 0h1M102 76h1m2 0h1m9 0h1m2 0h1m3 0h1m1 0h1m1 0h1m6 0h4m2 0h1M92 77h1m5 0h1m4 0h2m1 0h2m2 0h1m1 0h1m10 0h3m10 0h1m10 0h1M91 78h1m10 0h1m8 0h1m3 0h1m1 0h1m3 0h1m3 0h1m1 0h1m1 0h1m2 0h1m5 0h1m15 0h1M98 79h2m1 0h1m4 0h1m7 0h2m5 0h3m7 0h1m5 0h1m2 0h1M81 80h1m11 0h1m9 0h1m1 0h1m8 0h2m10 0h2m7 0h1m2 0h1M97 81h1m3 0h2m4 0h1m6 0h1m1 0h1m8 0h1m11 0h1M92 82h1m5 0h2m2 0h4m2 0h1m3 0h1m3 0h1m3 0h1m8 0h1m10 0h1m6 0h1m5 0h1M86 83h1m8 0h1m3 0h2m1 0h1m5 0h1m7 0h1m7 0h2m11 0h2M90 84h1m1 0h1m6 0h1m7 0h1m1 0h1m3 0h2m18 0h1m9 0h1M75 85h1m17 0h1m6 0h3m1 0h1m5 0h1m1 0h4m1 0h2m1 0h1m1 0h1m1 0h1m14 0h1m10 0h1M87 86h1m11 0h1m4 0h1m1 0h1m9 0h2m2 0h1m1 0h1m1 0h1m2 0h1m2 0h1m5 0h1m1 0h1M92 87h1m1 0h1m3 0h1m5 0h1m3 0h2m1 0h2m2 0h1m4 0h1m9 0h1m4 0h1M91 88h2m15 0h1m1 0h1m1 0h1m1 0h1m1 0h1m3 0h1m3 0h2m7 0h1m3 0h1M101 89h2m1 0h1m1 0h1m6 0h1m5 0h1m1 0h2m1 0h1m1 0h1m2 0h1M90 90h1m12 0h1m5 0h1m2 0h1M89 91h1m3 0h1m7 0h1m5 0h1m2 0h1m1 0h2m2 0h2m2 0h1m11 0h3m2 0h1m6 0h1M82 92h1m17 0h1m5 0h2m3 0h1m3 0h1m7 0h2m1 0h1m13 0h1M81 93h1m7 0h1m12 0h1m1 0h1m6 0h1m1 0h1m7 0h1m10 0h1M106 94h1m9 0h1m2 0h3M74 95h1m25 0h1m11 0h2m1 0h1m2 0h1m5 0h1m3 0h1M89 96h1m5 0h1m8 0h1m1 0h1m6 0h2m1 0h1m2 0h1m4 0h1m2 0h3M85 97h1m19 0h1m1 0h1m1 0h1m16 0h1m7 0h1M75 98h1m7 0h1m15 0h1m6 0h4m2 0h1m5 0h1m5 0h1m1 0h3m1 0h1M66 99h1m4 0h1m3 0h1m11 0h1m10 0h1m2 0h1m11 0h1m5 0h1m5 0h1m2 0h1m3 0h1m12 0h1M61 100h1m9 0h1m4 0h1m6 0h1m1 0h1m4 0h1m8 0h2m1 0h1m9 0h1M68 101h1m11 0h1m8 0h1m4 0h2m1 0h1m4 0h1m1 0h1m2 0h1m1 0h1m2 0h1m2 0h1m3 0h1m18 0h1m1 0h1M71 102h1m11 0h1m6 0h1m16 0h1m5 0h1m2 0h1m2 0h2m1 0h1m1 0h2m1 0h1m2 0h1M63 103h1m7 0h1m1 0h1m4 0h1m2 0h1m1 0h1m2 0h1m10 0h1m1 0h1m5 0h1m5 0h1m5 0h1m5 0h1m8 0h1m1 0h1M50 104h1m13 0h1m8 0h1m11 0h1m6 0h1m12 0h1m7 0h1m7 0h1m7 0h1m4 0h1M59 105h1m3 0h1m1 0h2m2 0h1m2 0h2m3 0h1m3 0h1m2 0h1m3 0h2m1 0h1m9 0h1m1 0h1m8 0h3m2 0h1m11 0h1M67 106h1m1 0h2m5 0h1m2 0h4m11 0h1m2 0h2m3 0h1m8 0h1m4 0h1m4 0h1m2 0h1m6 0h1M55 107h1m7 0h1m7 0h1m1 0h1m1 0h1m5 0h1m1 0h2m1 0h1m3 0h1m8 0h1m15 0h1m2 0h1M52 108h1m10 0h1m4 0h2m5 0h1m2 0h2m8 0h1m3 0h1m8 0h1m3 0h1m1 0h1m3 0h1m1 0h1m9 0h1M60 109h1m6 0h1m2 0h1m17 0h1m18 0h4m8 0h1m2 0h1M45 110h1m9 0h1m4 0h2m9 0h1m4 0h2m8 0h1m20 0h3m10 0h1m6 0h1M54 111h1m12 0h2m3 0h1m1 0h1m1 0h1m1 0h2m2 0h1m12 0h1m1 0h1m1 0h1m5 0h1m2 0h4m3 0h1m1 0h2m2 0h2m4 0h1M58 112h1m2 0h1m1 0h4m1 0h1m1 0h2m1 0h3m4 0h3m2 0h1m3 0h2m5 0h1m1 0h1m17 0h1m2 0h1m4 0h1M50 113h1m10 0h1m7 0h1m3 0h2m1 0h1m1 0h1m6 0h2m2 0h3m4 0h1m1 0h2m2 0h1m3 0h1m3 0h1m7 0h1m13 0h1M47 114h1m3 0h1m4 0h2m6 0h1m5 0h1m6 0h1m10 0h1m11 0h1m3 0h2m3 0h1m7 0h1m3 0h1M47 115h1m4 0h2m2 0h1m3 0h2m4 0h1m3 0h1m1 0h1m6 0h1m5 0h1m13 0h2m1 0h1m1 0h2m3 0h1m1 0h1m9 0h1M48 116h1m2 0h1m12 0h3m1 0h2m3 0h1m1 0h1m1 0h1m4 0h1m4 0h3m6 0h1m2 0h1m2 0h1m3 0h1m1 0h1M50 117h1m3 0h2m1 0h2m7 0h2m10 0h2m2 0h1m6 0h1m1 0h1m6 0h1m13 0h1m19 0h1m2 0h1M43 118h1m3 0h1m1 0h1m2 0h1m7 0h1m2 0h2m1 0h1m7 0h2m25 0h1m1 0h2m3 0h2m3 0h1m7 0h1M40 119h1m5 0h1m1 0h3m1 0h1m1 0h2m1 0h1m13 0h2m4 0h1m1 0h1m3 0h1m1 0h1m3 0h1m8 0h1m1 0h2m4 0h1m3 0h1m4 0h1m2 0h1M39 120h3m1 0h1m4 0h2m9 0h2m5 0h2m3 0h1m16 0h1m6 0h1m15 0h1M34 121h1m10 0h1m1 0h1m28 0h1m9 0h1m1 0h1m1 0h1m2 0h2m6 0h1m3 0h1m3 0h1m3 0h1m2 0h1m3 0h1M32 122h1m9 0h2m1 0h1m16 0h1m4 0h1m1 0h1m3 0h1m8 0h2m1 0h1m5 0h1m5 0h1m9 0h2m1 0h1m2 0h2m10 0h1M38 123h1m1 0h2m9 0h3m25 0h1m2 0h2m11 0h1m2 0h1m12 0h2M35 124h1m1 0h1m1 0h1m3 0h1m1 0h1m1 0h1m19 0h2m8 0h1m4 0h2m2 0h1m5 0h1m1 0h1m22 0h1M38 125h2m4 0h1m4 0h1m1 0h1m14 0h2m2 0h1m1 0h1m5 0h2m1 0h1m10 0h2m11 0h1m5 0h2M35 126h2m5 0h3m1 0h1m11 0h1m10 0h1m3 0h3m11 0h1m1 0h1m9 0h1m1 0h1m5 0h1m4 0h1M40 127h1m1 0h2m4 0h2m18 0h1m5 0h1m1 0h1m6 0h1m1 0h1m4 0h1m6 0h2m4 0h1m6 0h1m2 0h1M35 128h3m1 0h1m2 0h1m1 0h2m27 0h2m3 0h1m2 0h1m1 0h1m1 0h1m16 0h1m2 0h1m7 0h1m11 0h1m2 0h1M31 129h1m6 0h2m26 0h1m5 0h1m1 0h1m4 0h1m8 0h1m2 0h1m7 0h1m4 0h1m7 0h2M36 130h1m2 0h1m3 0h1m1 0h1m1 0h1m14 0h1m8 0h1m3 0h1m1 0h1m3 0h1m1 0h1m2 0h1m10 0h1m16 0h1M29 131h1m6 0h2m2 0h2m2 0h1m14 0h1m13 0h1m5 0h1m2 0h3m11 0h1m9 0h1m1 0h1m9 0h1M29 132h1m5 0h1m1 0h1m1 0h1m27 0h1m3 0h1m3 0h2m9 0h1m8 0h1m24 0h1M27 133h1m5 0h1m2 0h2m37 0h1m1 0h1m3 0h2m23 0h1m7 0h1m1 0h1M34 134h1m4 0h1m2 0h2m18 0h1m3 0h1m4 0h1m1 0h2m1 0h3m2 0h1m12 0h1M35 135h1m2 0h1m4 0h1m29 0h2m3 0h1m1 0h4m2 0h1m7 0h2m7 0h1m22 0h1M26 136h1m56 0h2m31 0h1M21 137h1m7 0h1m5 0h2m1 0h1m35 0h3m6 0h1m4 0h1m3 0h1m1 0h1m1 0h1M30 138h2m1 0h1m3 0h1m1 0h1m2 0h1m4 0h1m15 0h1m8 0h1m1 0h1m2 0h2m2 0h1m11 0h1m6 0h1m2 0h1m6 0h1M27 139h1m39 0h1m2 0h1m4 0h1m11 0h1m3 0h1m7 0h1M31 140h2m43 0h1m4 0h1m9 0h1M26 141h2m1 0h1m1 0h2m1 0h1m34 0h1m1 0h1m5 0h1m35 0h1M21 142h2m9 0h1m4 0h1m18 0h1m6 0h1m4 0h1m4 0h2m1 0h1m3 0h1m33 0h1m4 0h1M23 143h1m4 0h1m2 0h2m2 0h2m4 0h1m5 0h1m18 0h3m12 0h1m25 0h2M25 144h2m4 0h3m2 0h1m21 0h1m12 0h1m2 0h1M21 145h1m8 0h1m1 0h1m2 0h1m1 0h1m2 0h1m24 0h1m2 0h2m5 0h1m3 0h1m1 0h1M17 146h1m5 0h1m1 0h1m1 0h1m3 0h1m3 0h2m1 0h1m27 0h3m29 0h1M19 147h1m1 0h1m4 0h2m2 0h1m4 0h1m15 0h1m10 0h3m4 0h1m1 0h2M26 148h1m31 0h1m58 0h1M27 149h2m7 0h1m18 0h1m4 0h1m1 0h2m1 0h1m4 0h1m3 0h1m10 0h1m19 0h1M23 150h1m1 0h1m1 0h1m5 0h1m15 0h1m3 0h1m3 0h1m2 0h1m6 0h2m3 0h1m18 0h1m18 0h1M22 151h1m5 0h1m1 0h2m7 0h1m1 0h1m19 0h1m1 0h2m3 0h2M28 152h2m2 0h1m3 0h1m19 0h1m2 0h1m39 0h1M26 153h1m3 0h2m7 0h1m1 0h1m2 0h1m6 0h1m16 0h1m1 0h1m1 0h1M24 154h1m1 0h1m9 0h1m5 0h1m14 0h2m1 0h2m1 0h2m3 0h1M9 155h1m8 0h1m8 0h1m5 0h2m12 0h1m1 0h1m3 0h1m4 0h1m2 0h1m4 0h1M26 156h1m4 0h4m1 0h2m4 0h1m2 0h1m9 0h1m3 0h1M21 157h1m7 0h1m16 0h1M22 158h1m2 0h1m2 0h1m4 0h1m1 0h2m2 0h1m6 0h1m1 0h1m2 0h2m4 0h3m4 0h1m1 0h1M24 159h1m3 0h1m14 0h3m1 0h1m2 0h1m1 0h1m7 0h1m5 0h1m1 0h1M20 160h1m1 0h2m5 0h1m8 0h1m8 0h1m3 0h1m4 0h1m1 0h1m2 0h2M15 161h1m10 0h1m1 0h1m19 0h1m2 0h2m2 0h3m1 0h1M24 162h1m7 0h1m1 0h1m4 0h1m4 0h2m1 0h1m2 0h1m5 0h1M26 163h3m1 0h1m3 0h2m6 0h2m1 0h1m2 0h1M21 164h1m4 0h2m3 0h1m4 0h1m6 0h1m46 0h1M25 165h1m9 0h2m2 0h3m1 0h1m1 0h2M24 166h1m5 0h3m8 0h1m2 0h1m1 0h1M25 167h1m3 0h1m4 0h1m3 0h1m3 0h1m7 0h2M17 168h1m13 0h1m2 0h1m9 0h1M22 169h1m6 0h1m2 0h1m1 0h2m1 0h1m13 0h1M39 170h1M38 171h1m9 0h1" stroke-opacity=".72"/><path d="M144 19h1M124 40h1M116 43h1M127 44h1M143 45h1M126 47h1m1 0h1M122 48h1m6 0h1M122 49h1m6 0h1m2 0h1M126 50h2m1 0h2M107 51h1m8 0h1m2 0h1m7 0h1m4 0h1m6 0h1M122 52h2m1 0h2m2 0h2m11 0h1M113 53h1m2 0h1m1 0h1m2 0h2m3 0h1m1 0h1m2 0h1m5 0h1M112 54h1m3 0h1m1 0h1m1 0h2m11 0h1M116 55h2m1 0h1m2 0h1m2 0h2m1 0h1m3 0h1m1 0h1m4 0h3m4 0h1M98 56h1m20 0h2m1 0h1m3 0h3m3 0h2m7 0h1M111 57h1m8 0h3m1 0h3m1 0h2m2 0h2M110 58h2m4 0h1m1 0h4m1 0h1m2 0h1m1 0h1m1 0h1m2 0h1M108 59h1m3 0h1m1 0h3m2 0h6m1 0h1m1 0h6m11 0h1M105 60h1m3 0h3m2 0h5m1 0h8m1 0h2m1 0h3m2 0h1m2 0h1M104 61h1m5 0h1m4 0h17m8 0h1M106 62h1m3 0h2m1 0h1m1 0h1m1 0h1m1 0h9m2 0h2m1 0h1m1 0h2M103 63h1m1 0h1m1 0h2m1 0h4m1 0h10m1 0h5m1 0h1m1 0h4M109 64h4m1 0h13m1 0h1m1 0h5M109 65h1m2 0h1m1 0h20m1 0h1m1 0h1M109 66h1m1 0h18m1 0h1m5 0h1M105 67h1m1 0h22m1 0h2m4 0h1M104 68h1m2 0h1m2 0h3m1 0h3m1 0h10m1 0h2m1 0h1m2 0h1m1 0h1m5 0h1M98 69h1m4 0h1m2 0h5m2 0h2m1 0h13m2 0h5m3 0h1M103 70h1m1 0h1m1 0h3m1 0h16m1 0h6m3 0h1m2 0h1m8 0h1M105 71h1m1 0h1m1 0h16m1 0h7M100 72h1m3 0h1m1 0h3m1 0h2m1 0h11m4 0h2m2 0h1m4 0h1m5 0h1M100 73h1m5 0h1m2 0h1m1 0h9m1 0h8m2 0h2m3 0h2M102 74h1m2 0h4m1 0h2m2 0h7m1 0h1m1 0h1m2 0h1m2 0h2m4 0h1M94 75h1m15 0h1m1 0h5m1 0h3m1 0h1m3 0h1m1 0h1m2 0h1m11 0h1M103 76h2m4 0h2m1 0h3m1 0h2m1 0h2m2 0h1m5 0h3m5 0h1m7 0h1M101 77h2m5 0h2m1 0h1m1 0h1m1 0h7m5 0h1m1 0h1m10 0h1M103 78h2m3 0h2m2 0h2m2 0h1m1 0h3m1 0h2m2 0h1m1 0h1m6 0h1m9 0h1M100 79h1m4 0h1m1 0h7m3 0h2m1 0h1m4 0h2m6 0h2M106 80h1m2 0h1m1 0h1m1 0h1m2 0h9m5 0h1M106 81h1m2 0h1m1 0h3m1 0h1m10 0h1m4 0h1m4 0h1M107 82h1m5 0h3m1 0h1m1 0h1m3 0h1m6 0h1m3 0h1M91 83h1m18 0h1m1 0h1m4 0h2m1 0h1M101 84h1m16 0h1m5 0h2m1 0h1m1 0h1M98 85h1m24 0h1m5 0h1m1 0h2m3 0h1M111 86h1m9 0h1M103 87h1m1 0h1m8 0h1m16 0h1M105 88h1m3 0h1m1 0h1m22 0h1M109 89h1m2 0h1M92 90h1m20 0h1m1 0h1m9 0h1m1 0h1m8 0h1M118 91h2m2 0h1m7 0h1M98 92h1m3 0h1M85 93h1m4 0h1m16 0h1m9 0h1m2 0h1m7 0h1M99 94h1m5 0h1m6 0h1m9 0h2M119 95h1m13 0h1M99 96h1m2 0h1m4 0h2m14 0h1M95 97h1m10 0h1m1 0h1m5 0h2m3 0h2M79 98h1M91 99h1m12 0h3m26 0h1M57 100h1m24 0h1m9 0h1m16 0h1m6 0h1M79 101h1M82 102h1m1 0h1m14 0h1M75 103h1m9 0h1M81 104h1m9 0h1m16 0h1m2 0h1m3 0h1M76 105h1m2 0h1m19 0h1m2 0h1m16 0h1M74 106h1m2 0h2m8 0h1m20 0h1M72 107h1m4 0h1m22 0h1m10 0h1m2 0h1M64 108h2m1 0h1m3 0h1m10 0h1m25 0h1M54 109h1m16 0h1m3 0h1M59 110h1m2 0h1m5 0h1m1 0h1m1 0h1m9 0h1m2 0h1m3 0h1m3 0h1m28 0h1M53 111h1m1 0h1m2 0h1m2 0h1m18 0h1m10 0h1m4 0h1m6 0h1M53 112h1m2 0h1m5 0h1m9 0h1m3 0h1m2 0h1m21 0h1M54 113h1m2 0h1m4 0h1m1 0h4m2 0h3m4 0h1m10 0h1m12 0h1m5 0h1m4 0h1m2 0h1M50 114h1m12 0h1m1 0h5m2 0h1m1 0h1m1 0h1m2 0h1m6 0h1m26 0h1m6 0h1M58 115h1m4 0h3m1 0h3m1 0h1m1 0h1m1 0h1m1 0h2m1 0h3m25 0h1M53 116h1m5 0h5m6 0h1m7 0h1m1 0h1m3 0h1m15 0h1m20 0h1M40 117h1m8 0h1m6 0h1m2 0h7m2 0h1m4 0h2m1 0h1m3 0h1m5 0h1m1 0h1M54 118h1m2 0h3m1 0h2m2 0h1m1 0h4m1 0h2m2 0h5m5 0h1m25 0h1M56 119h1m1 0h13m2 0h1m1 0h2m1 0h1m43 0h1M47 120h1m5 0h6m2 0h5m2 0h3m1 0h6m1 0h2m2 0h1m1 0h2m27 0h1M43 121h1m2 0h1m3 0h2m1 0h1m2 0h8m1 0h5m1 0h5m1 0h2m2 0h1m1 0h1m3 0h1m1 0h1m12 0h1m1 0h1m3 0h1M46 122h2m1 0h1m1 0h1m2 0h3m1 0h4m1 0h4m1 0h1m1 0h3m1 0h1m2 0h1m1 0h3m5 0h1m15 0h2m7 0h1m6 0h1M44 123h1m2 0h3m5 0h3m1 0h17m2 0h1m2 0h1m2 0h1m18 0h1M42 124h1m3 0h1m1 0h19m2 0h8m3 0h2m27 0h1M45 125h2m3 0h1m1 0h14m2 0h2m3 0h2m1 0h2m2 0h1m5 0h1m2 0h1m12 0h1m1 0h1M40 126h2m3 0h1m1 0h5m1 0h5m1 0h10m1 0h3m3 0h1m1 0h1m3 0h2m12 0h1m1 0h1m3 0h1m5 0h1M36 127h1m1 0h2m1 0h1m2 0h3m4 0h17m2 0h3m6 0h1m1 0h1m34 0h1m8 0h1M40 128h1m2 0h1m2 0h5m1 0h3m1 0h17m3 0h2m16 0h1m8 0h1M36 129h1m3 0h2m2 0h22m1 0h3m1 0h1m1 0h1m1 0h4m2 0h1m1 0h1m23 0h1m7 0h1M35 130h1m5 0h2m1 0h1m1 0h1m1 0h14m1 0h8m1 0h2m2 0h1M35 131h1m2 0h2m3 0h1m1 0h3m1 0h10m1 0h9m1 0h1m3 0h2m1 0h1m27 0h1m6 0h1M42 132h8m1 0h16m1 0h1m1 0h1m1 0h3m3 0h1M38 133h1m1 0h3m1 0h26m1 0h3m9 0h1m17 0h1M37 134h2m2 0h1m2 0h18m1 0h3m1 0h4m1 0h1m2 0h1M34 135h1m4 0h4m1 0h28m3 0h1M32 136h1m4 0h3m1 0h8m1 0h14m1 0h7m1 0h1m1 0h1M34 137h1m4 0h2m1 0h30M29 138h1m2 0h1m2 0h1m2 0h1m1 0h2m2 0h3m1 0h15m1 0h8m1 0h1m35 0h1M34 139h2m1 0h30m1 0h1m3 0h2m4 0h1M34 140h1m2 0h1m2 0h22m1 0h2m1 0h1m1 0h1m1 0h1m2 0h1M35 141h3m1 0h24m1 0h2m1 0h2m1 0h1m1 0h1m37 0h1M29 142h3m3 0h2m1 0h18m1 0h6m1 0h4m1 0h2m1 0h1M29 143h1m4 0h1m2 0h4m1 0h5m1 0h18m3 0h1m1 0h1M27 144h1m7 0h1m1 0h20m2 0h12m1 0h1m2 0h1M25 145h1m2 0h1m2 0h1m1 0h2m1 0h1m1 0h2m1 0h18m1 0h3m3 0h2m2 0h1M32 146h2m3 0h1m1 0h17m1 0h5m1 0h1m6 0h1m2 0h1M28 147h1m2 0h2m1 0h1m1 0h8m1 0h4m1 0h1m1 0h4m1 0h4m4 0h2M27 148h1m1 0h1m1 0h27m1 0h1m1 0h2m2 0h1m1 0h4M30 149h1m1 0h4m2 0h17m1 0h4m1 0h1m2 0h1m1 0h1m15 0h1M29 150h2m1 0h1m1 0h10m1 0h4m1 0h3m1 0h3m2 0h1M16 151h1m15 0h2m1 0h4m1 0h1m1 0h10m1 0h7M21 152h1m1 0h1m6 0h2m1 0h3m2 0h5m1 0h4m1 0h7m1 0h2m1 0h1m1 0h1m3 0h1M33 153h6m1 0h1m1 0h2m1 0h1m1 0h4m1 0h6m3 0h1M28 154h1m1 0h5m2 0h2m1 0h2m1 0h5m1 0h3m1 0h3M24 155h1m3 0h2m1 0h2m2 0h4m1 0h7m3 0h1m1 0h1m1 0h1M28 156h1m6 0h1m2 0h3m2 0h2m1 0h2m1 0h3m9 0h1M28 157h1m1 0h3m1 0h2m1 0h7m1 0h1m1 0h4m1 0h1m1 0h1m1 0h2m1 0h1M27 158h1m2 0h2m6 0h1m1 0h1m3 0h2m1 0h1m1 0h1m3 0h1m2 0h1m6 0h1M32 159h2m1 0h2m2 0h4M26 160h2m3 0h1m1 0h2m1 0h2m2 0h1m1 0h3m1 0h1m2 0h1m2 0h2m1 0h1M30 161h1m4 0h1m1 0h1m6 0h1m4 0h1M19 162h1m5 0h1m2 0h1m4 0h1m3 0h2m2 0h3m5 0h1m5 0h1m5 0h1M31 163h3m6 0h2m9 0h1M24 164h2m6 0h3m2 0h2m6 0h1M21 165h1m8 0h1m1 0h1M37 166h1m1 0h1M26 167h1m4 0h1M28 168h1m10 0h3"/></g>
<rect x="1006.2" y="1751.4" width="345.5" height="345.5" fill="none" stroke="#707070" stroke-width="2"/>
<line x1="1183.5" y1="1751.4" x2="1183.5" y2="2096.9" stroke="#555" stroke-width="1.8"/>
<line x1="1006.2" y1="1947.9" x2="1351.7" y2="1947.9" stroke="#555" stroke-width="1.8"/>
<path d="M1006.2 2096.9v8M1006.2 2096.9h-8M1032.2 2096.9v4.5M1006.2 2070.9h-4.5M1047.4 2096.9v4.5M1006.2 2055.7h-4.5M1058.2 2096.9v4.5M1006.2 2044.9h-4.5M1066.6 2096.9v4.5M1006.2 2036.5h-4.5M1073.4 2096.9v4.5M1006.2 2029.7h-4.5M1079.2 2096.9v4.5M1006.2 2023.9h-4.5M1084.2 2096.9v4.5M1006.2 2018.9h-4.5M1088.6 2096.9v4.5M1006.2 2014.5h-4.5M1092.6 2096.9v8M1006.2 2010.5h-8M1118.6 2096.9v4.5M1006.2 1984.5h-4.5M1133.8 2096.9v4.5M1006.2 1969.3h-4.5M1144.6 2096.9v4.5M1006.2 1958.5h-4.5M1152.9 2096.9v4.5M1006.2 1950.2h-4.5M1159.8 2096.9v4.5M1006.2 1943.3h-4.5M1165.6 2096.9v4.5M1006.2 1937.5h-4.5M1170.6 2096.9v4.5M1006.2 1932.5h-4.5M1175.0 2096.9v4.5M1006.2 1928.1h-4.5M1179.0 2096.9v8M1006.2 1924.2h-8M1205.0 2096.9v4.5M1006.2 1898.1h-4.5M1220.2 2096.9v4.5M1006.2 1882.9h-4.5M1231.0 2096.9v4.5M1006.2 1872.1h-4.5M1239.3 2096.9v4.5M1006.2 1863.8h-4.5M1246.2 2096.9v4.5M1006.2 1856.9h-4.5M1251.9 2096.9v4.5M1006.2 1851.2h-4.5M1257.0 2096.9v4.5M1006.2 1846.1h-4.5M1261.4 2096.9v4.5M1006.2 1841.7h-4.5M1265.3 2096.9v8M1006.2 1837.8h-8M1291.3 2096.9v4.5M1006.2 1811.8h-4.5M1306.5 2096.9v4.5M1006.2 1796.6h-4.5M1317.3 2096.9v4.5M1006.2 1785.8h-4.5M1325.7 2096.9v4.5M1006.2 1777.4h-4.5M1332.5 2096.9v4.5M1006.2 1770.6h-4.5M1338.3 2096.9v4.5M1006.2 1764.8h-4.5M1343.3 2096.9v4.5M1006.2 1759.8h-4.5M1347.7 2096.9v4.5M1006.2 1755.4h-4.5M1351.7 2096.9v8M1006.2 1751.4h-8" stroke="#555" stroke-width="1.6" fill="none"/>
<text x="1008.2" y="2126.9" font-size="15" font-weight="bold" fill="#222" text-anchor="middle">10<tspan font-size="9" dy="-6">0</tspan></text>
<text x="990.2" y="2097.9" font-size="15" font-weight="bold" fill="#222" text-anchor="middle" transform="rotate(-90 990.2 2097.9)">10<tspan font-size="9" dy="-6">0</tspan></text>
<text x="1094.6" y="2126.9" font-size="15" font-weight="bold" fill="#222" text-anchor="middle">10<tspan font-size="9" dy="-6">1</tspan></text>
<text x="990.2" y="2011.5" font-size="15" font-weight="bold" fill="#222" text-anchor="middle" transform="rotate(-90 990.2 2011.5)">10<tspan font-size="9" dy="-6">1</tspan></text>
<text x="1181" y="2126.9" font-size="15" font-weight="bold" fill="#222" text-anchor="middle">10<tspan font-size="9" dy="-6">2</tspan></text>
<text x="990.2" y="1925.2" font-size="15" font-weight="bold" fill="#222" text-anchor="middle" transform="rotate(-90 990.2 1925.2)">10<tspan font-size="9" dy="-6">2</tspan></text>
<text x="1267.3" y="2126.9" font-size="15" font-weight="bold" fill="#222" text-anchor="middle">10<tspan font-size="9" dy="-6">3</tspan></text>
<text x="990.2" y="1838.8" font-size="15" font-weight="bold" fill="#222" text-anchor="middle" transform="rotate(-90 990.2 1838.8)">10<tspan font-size="9" dy="-6">3</tspan></text>
<text x="1353.7" y="2126.9" font-size="15" font-weight="bold" fill="#222" text-anchor="middle">10<tspan font-size="9" dy="-6">4</tspan></text>
<text x="990.2" y="1752.4" font-size="15" font-weight="bold" fill="#222" text-anchor="middle" transform="rotate(-90 990.2 1752.4)">10<tspan font-size="9" dy="-6">4</tspan></text>
<g font-size="15.5" font-weight="bold" fill="#1a1a1a" letter-spacing="1.3"><text x="1011.2" y="1772.4">Q1</text><text x="1011.2" y="1792.4">0.29%</text><text x="1287.7" y="1772.4">Q2</text><text x="1287.7" y="1792.4">33.76%</text><text x="1011.2" y="2068.9">Q4</text><text x="1011.2" y="2089.9">58.22%</text><text x="1287.7" y="2068.9">Q3</text><text x="1287.7" y="2089.9">7.95%</text></g>
<text x="1195" y="1734.7" font-size="26" text-anchor="middle">MLND</text>
<g transform="translate(1417.8 1757.00) scale(2.0)" fill="none" stroke="#f00" stroke-width="1"><path d="M166 2h1M152 4h1M145 6h1M122 8h1M152 9h1M125 10h1m24 0h1M130 11h1M146 13h1M105 14h1m31 0h1m22 0h1M126 15h1M130 16h1m9 0h1m11 0h1m8 0h1M127 17h1m6 0h1m17 0h1M124 18h1M127 19h1M116 20h1m18 0h1m12 0h1M121 21h1m8 0h1m10 0h1M132 22h1m4 0h1M106 23h1m23 0h1m3 0h1m7 0h1M112 24h1m15 0h1m2 0h1m10 0h1m1 0h1m3 0h1M118 25h1m19 0h2m1 0h1m2 0h1m8 0h1m11 0h1M127 26h1m9 0h1m2 0h1m17 0h1M109 27h1m2 0h2m9 0h1m1 0h1m1 0h2m3 0h1m12 0h1m12 0h2M129 28h2m1 0h1m16 0h1m3 0h1M97 29h1m25 0h1m3 0h1m9 0h1m1 0h1m2 0h1m2 0h1m3 0h1M117 30h1m1 0h1m1 0h1m6 0h1m2 0h2m3 0h1m2 0h1m7 0h1m1 0h1M110 31h1m3 0h1m2 0h2m4 0h3m9 0h1m3 0h3m5 0h2m4 0h1m2 0h1M116 32h1m8 0h1m2 0h2m1 0h1m3 0h2m1 0h1m4 0h1m1 0h1m2 0h1M112 33h1m2 0h1m8 0h2m1 0h1m1 0h1m1 0h2m5 0h1m1 0h1m2 0h1m4 0h1m6 0h1m3 0h1M122 34h1m3 0h2m8 0h1m5 0h3m5 0h1M88 35h1m20 0h1m2 0h1m2 0h1m5 0h1m1 0h2m6 0h1m1 0h1m8 0h2m2 0h1m2 0h1m6 0h1M107 36h1m6 0h2m6 0h1m2 0h1m5 0h1m1 0h2m2 0h2m8 0h3m4 0h2M112 37h1m6 0h1m3 0h1m6 0h4m4 0h3m3 0h1m4 0h3M122 38h1m2 0h2m1 0h1m8 0h1m6 0h2m1 0h1m1 0h1m14 0h1M108 39h3m2 0h3m1 0h2m1 0h1m1 0h1m2 0h2m7 0h1m2 0h4m2 0h1m12 0h1m2 0h1M101 40h2m1 0h1m19 0h2m3 0h1m4 0h1m3 0h1m1 0h1m2 0h1m1 0h1m2 0h3m2 0h1m3 0h1M105 41h2m1 0h1m4 0h1m1 0h1m2 0h1m4 0h6m2 0h1m4 0h1m1 0h2m4 0h1m2 0h1m3 0h1m2 0h2M94 42h1m1 0h1m10 0h1m1 0h1m1 0h1m7 0h1m11 0h1m4 0h1m2 0h1m7 0h1m6 0h1M94 43h1m11 0h1m4 0h4m2 0h2m2 0h1m1 0h1m7 0h1m3 0h1m1 0h1m4 0h1m4 0h1m5 0h1M90 44h1m6 0h1m9 0h1m8 0h2m5 0h2m2 0h2m1 0h1m2 0h1m2 0h1m4 0h1m2 0h2m6 0h1M94 45h1m6 0h2m5 0h1m2 0h2m1 0h1m2 0h3m3 0h1m5 0h3m5 0h3m1 0h1m1 0h1m3 0h2M105 46h1m1 0h1m1 0h1m1 0h2m2 0h1m1 0h1m2 0h1m1 0h1m9 0h2m3 0h1m1 0h1m1 0h1m3 0h2m4 0h1m8 0h1M89 47h1m8 0h1m9 0h1m2 0h1m4 0h1m4 0h3m2 0h1m12 0h1m1 0h2M102 48h1m1 0h1m1 0h1m2 0h1m2 0h2m2 0h1m1 0h1m8 0h1m7 0h1m6 0h1m1 0h1m1 0h1m7 0h1M65 49h1m26 0h1m5 0h1m1 0h2m1 0h1m3 0h1m3 0h1m8 0h2m1 0h1m7 0h1m4 0h3m5 0h1m3 0h1M94 50h1m4 0h1m5 0h1m2 0h1m1 0h2m9 0h1m15 0h1m1 0h1m1 0h1m1 0h1m4 0h1m1 0h1m6 0h1M79 51h1m12 0h1m11 0h2m4 0h1m2 0h2m1 0h2m2 0h2m3 0h1m3 0h1m7 0h5m7 0h1M98 52h1m3 0h2m1 0h1m2 0h1m3 0h3m7 0h1m6 0h1m1 0h2m1 0h5m1 0h1m5 0h3m2 0h1m1 0h1M31 53h1m61 0h1m8 0h1m4 0h1m2 0h4m1 0h1m1 0h1m1 0h1m9 0h1m4 0h1m7 0h1m1 0h1m2 0h2m2 0h2M88 54h1m14 0h1m1 0h3m2 0h1m1 0h2m6 0h1m1 0h2m3 0h1m1 0h2m4 0h3m1 0h1m1 0h1m1 0h1m1 0h1M90 55h1m4 0h1m5 0h1m1 0h4m1 0h3m28 0h1m1 0h1m5 0h1m3 0h1m1 0h1m5 0h1M89 56h1m5 0h4m4 0h1m2 0h2m10 0h1m4 0h1m3 0h1m3 0h1m4 0h1m2 0h1m4 0h2m8 0h1M84 57h1m7 0h2m13 0h2m10 0h2m6 0h1m4 0h3m1 0h1m1 0h1m11 0h1m4 0h1M81 58h1m8 0h1m1 0h1m1 0h1m4 0h1m4 0h1m1 0h1m1 0h2m1 0h1m1 0h1m2 0h1m1 0h1m13 0h1m4 0h1m1 0h1m6 0h1m1 0h1m2 0h1m1 0h1M91 59h1m4 0h2m2 0h1m2 0h3m2 0h1m6 0h1m16 0h2m5 0h2m9 0h1m2 0h1m1 0h1M88 60h1m2 0h1m4 0h1m1 0h1m2 0h1m9 0h1m1 0h1m13 0h1m6 0h1m1 0h1m4 0h1m13 0h1M57 61h1m19 0h1m5 0h1m12 0h1m3 0h1m6 0h1m1 0h1m2 0h1m4 0h1m18 0h1m1 0h2m8 0h2m1 0h1M91 62h1m5 0h3m6 0h1m2 0h2m1 0h1m2 0h1m6 0h1m5 0h1m1 0h1m1 0h1m2 0h1m2 0h1m2 0h2m7 0h1M60 63h1m4 0h1m17 0h1m14 0h1m1 0h1m3 0h1m2 0h1m2 0h1m21 0h1m2 0h2m3 0h1m1 0h1m2 0h2m1 0h1m7 0h1m9 0h1M78 64h1m21 0h1m3 0h2m3 0h1m2 0h2m6 0h1m6 0h1m2 0h1m4 0h2m1 0h1m2 0h2m1 0h2m2 0h1M58 65h1m32 0h1m4 0h2m2 0h3m1 0h1m2 0h1m2 0h1m5 0h1m18 0h1m4 0h4m9 0h1M79 66h1m11 0h1m4 0h2m3 0h1m2 0h1m27 0h1m1 0h1m1 0h1m1 0h1m1 0h2m9 0h1M46 67h1m19 0h1m6 0h1m4 0h1m6 0h1m6 0h1m5 0h1m2 0h1m3 0h1m4 0h1m24 0h2m1 0h1m5 0h1m2 0h1M63 68h1m6 0h1m1 0h2m7 0h1m2 0h1m2 0h4m11 0h1m1 0h2m8 0h1m16 0h3m2 0h1m1 0h1m2 0h2m1 0h2m3 0h1M90 69h1m3 0h1m3 0h1m1 0h1m2 0h1m2 0h1m4 0h1m14 0h1m3 0h1m1 0h1m5 0h1m3 0h2m4 0h1M48 70h1m9 0h1m29 0h1m2 0h1m4 0h1m1 0h2m2 0h1m3 0h1m25 0h1m3 0h2m1 0h2m2 0h1m1 0h1m15 0h1M51 71h1m12 0h1m25 0h1m2 0h1m1 0h1m3 0h6m1 0h1m25 0h1m7 0h3m5 0h1m3 0h2m1 0h1M63 72h1m6 0h1m19 0h1m2 0h1m2 0h4m2 0h2m2 0h1m4 0h1m20 0h1m1 0h1m3 0h1m2 0h1m1 0h1m1 0h1m1 0h1M59 73h1m14 0h1m12 0h3m2 0h1m4 0h1m3 0h1m3 0h1m1 0h2m2 0h1m23 0h1m2 0h1m2 0h2m10 0h1M57 74h1m24 0h1m7 0h6m5 0h1m1 0h2m28 0h1m1 0h1m3 0h2m1 0h1m5 0h3m1 0h1M44 75h1m4 0h1m18 0h1m10 0h1m1 0h1m3 0h1m3 0h1m3 0h1m3 0h2m3 0h1m32 0h1m6 0h2m8 0h1M48 76h1m36 0h1m1 0h1m4 0h3m3 0h3m3 0h1m1 0h2m19 0h1m5 0h2m4 0h1m4 0h1m4 0h1m1 0h1M45 77h1m26 0h1m18 0h2m2 0h5m1 0h1m23 0h2m6 0h1m4 0h2m1 0h1m5 0h1m1 0h1M29 78h1m27 0h1m16 0h1m9 0h1m4 0h2m2 0h2m1 0h1m10 0h1m22 0h1m9 0h1m4 0h1M51 79h1m17 0h1m7 0h1m13 0h1m2 0h2m2 0h2m5 0h1m15 0h1m10 0h1m2 0h1m4 0h1m6 0h1m8 0h1M69 80h1m10 0h1m5 0h1m2 0h1m7 0h1m3 0h1m9 0h1m19 0h1m4 0h1m1 0h2m5 0h1m8 0h1M40 81h1m24 0h2m11 0h1m3 0h3m8 0h4m3 0h1m2 0h1m23 0h1m3 0h1m4 0h2m6 0h1M53 82h1m7 0h1m25 0h1m2 0h1m6 0h1m1 0h1m6 0h1m20 0h1m2 0h2m8 0h1M80 83h1m1 0h1m7 0h3m1 0h2m6 0h1m4 0h1m23 0h1m1 0h1m2 0h3m8 0h1M44 84h1m15 0h1m5 0h1m7 0h1m2 0h1m2 0h1m11 0h1m2 0h1m2 0h1m1 0h1m26 0h1m4 0h1m2 0h1m1 0h1M65 85h1m4 0h2m2 0h1m9 0h2m5 0h3m1 0h1m36 0h1m2 0h1m1 0h1m2 0h1M26 86h1m36 0h1m6 0h1m9 0h1m1 0h2m6 0h1m3 0h1m2 0h1m1 0h1m7 0h1m21 0h1m1 0h1m2 0h1m2 0h2m21 0h1M66 87h1m10 0h2m6 0h1m3 0h1m4 0h4m1 0h1m27 0h1m3 0h1m1 0h1m2 0h1m9 0h1m7 0h1M43 88h1m27 0h2m3 0h1m2 0h1m5 0h1m2 0h3m2 0h2m7 0h2m3 0h1m6 0h1m14 0h1m1 0h2m1 0h1m4 0h1m13 0h1M65 89h1m1 0h1m4 0h1m4 0h2m4 0h2m3 0h1m1 0h1m2 0h1m3 0h1m31 0h2m19 0h1M65 90h1m10 0h1m1 0h1m3 0h1m3 0h1m1 0h1m3 0h1m1 0h1m4 0h1m3 0h1m13 0h1m7 0h1m14 0h1m4 0h1m5 0h1M52 91h1m1 0h1m11 0h1m1 0h1m1 0h1m5 0h1m11 0h2m3 0h1m1 0h3m6 0h1m1 0h1m19 0h1m1 0h1M53 92h1m1 0h1m2 0h1m2 0h1m1 0h3m6 0h2m2 0h1m3 0h3m10 0h2m4 0h1m2 0h1m17 0h1m4 0h1m4 0h1m3 0h1m13 0h1M49 93h1m6 0h1m27 0h1m2 0h1m5 0h5m1 0h2m14 0h1m10 0h1m1 0h1m1 0h1m3 0h1M54 94h2m2 0h1m1 0h1m4 0h2m2 0h2m7 0h1m8 0h4m4 0h1m2 0h2m3 0h1m17 0h2m1 0h1m3 0h1m1 0h1m3 0h3M40 95h1m24 0h1m16 0h1m6 0h1m5 0h1m5 0h3m11 0h1m1 0h1m2 0h1m1 0h1m1 0h1m2 0h1m3 0h1m1 0h1m3 0h1m8 0h1M49 96h1m2 0h1m17 0h1m1 0h1m1 0h2m7 0h1m1 0h2m2 0h3m4 0h1m3 0h2m2 0h2m3 0h1m6 0h3m3 0h2m1 0h5m1 0h1m1 0h1m2 0h1M52 97h2m5 0h3m2 0h1m11 0h1m4 0h1m2 0h2m4 0h2m8 0h1m1 0h1m2 0h1m4 0h1m10 0h1m5 0h2m4 0h1m5 0h1M59 98h1m4 0h1m3 0h2m2 0h1m4 0h1m1 0h2m3 0h1m1 0h1m3 0h2m3 0h1m2 0h4m11 0h1m6 0h1m1 0h3m1 0h1m7 0h1m3 0h1m6 0h1M38 99h1m9 0h1m3 0h1m5 0h1m4 0h1m5 0h1m6 0h1m8 0h1m3 0h1m1 0h3m1 0h2m2 0h2m1 0h1m1 0h1m11 0h1m6 0h2m1 0h1m1 0h1m7 0h1m6 0h1M31 100h1m2 0h1m14 0h2m7 0h1m17 0h1m4 0h3m2 0h1m1 0h1m1 0h2m1 0h1m1 0h1m1 0h1m6 0h1m2 0h2m1 0h1m5 0h1m3 0h1m2 0h1m3 0h2m2 0h1m5 0h1M42 101h1m7 0h1m3 0h1m2 0h1m4 0h4m6 0h1m7 0h1m1 0h1m3 0h2m4 0h1m1 0h1m2 0h3m5 0h1m1 0h2m4 0h1m2 0h1m10 0h1m2 0h1m1 0h5m8 0h1M51 102h1m1 0h1m6 0h1m3 0h1m4 0h1m1 0h2m7 0h1m12 0h2m3 0h1m2 0h2m1 0h1m2 0h1m9 0h2m1 0h2m7 0h1m5 0h1M47 103h1m7 0h1m5 0h1m4 0h3m8 0h1m3 0h2m3 0h1m5 0h1m3 0h1m5 0h1m3 0h1m4 0h1m1 0h1m1 0h1m2 0h1m3 0h1m5 0h1m4 0h1m10 0h1m3 0h1M27 104h1m29 0h1m3 0h2m6 0h1m2 0h1m1 0h1m2 0h2m10 0h1m2 0h1m4 0h2m2 0h2m5 0h2m4 0h1m1 0h3m5 0h3m8 0h1m5 0h1M54 105h2m1 0h1m1 0h1m1 0h2m8 0h1m9 0h2m1 0h2m2 0h1m1 0h2m1 0h1m2 0h2m2 0h2m1 0h1m2 0h1m3 0h1m4 0h2m5 0h1m5 0h1m11 0h1M27 106h1m5 0h2m5 0h3m1 0h1m5 0h3m1 0h1m2 0h1m3 0h1m1 0h1m1 0h1m2 0h1m6 0h3m4 0h1m1 0h1m1 0h1m9 0h1m1 0h1m3 0h1m2 0h1m1 0h1m1 0h1m1 0h1m3 0h1m4 0h2m8 0h1m4 0h1M41 107h1m2 0h1m11 0h1m4 0h1m2 0h1m1 0h1m2 0h1m2 0h1m7 0h3m7 0h6m2 0h1m2 0h1m2 0h2m3 0h1m1 0h1m5 0h1m2 0h1m4 0h2m1 0h1m1 0h1m1 0h2m5 0h1m1 0h1M41 108h1m2 0h1m5 0h2m5 0h2m3 0h1m1 0h1m1 0h1m1 0h1m1 0h2m3 0h2m2 0h1m3 0h2m1 0h2m2 0h1m2 0h6m1 0h3m1 0h1m2 0h1m1 0h1m1 0h1m9 0h2m4 0h1m3 0h1m2 0h1M30 109h1m11 0h1m1 0h1m2 0h1m6 0h1m5 0h4m7 0h1m2 0h1m1 0h2m3 0h1m1 0h1m9 0h1m8 0h1m3 0h1m4 0h1m3 0h1m1 0h1m1 0h1m1 0h2m1 0h1m3 0h1m4 0h1M47 110h4m1 0h1m1 0h1m1 0h1m4 0h1m1 0h1m2 0h3m7 0h1m1 0h5m3 0h1m2 0h1m1 0h2m2 0h1m1 0h1m1 0h4m1 0h2m3 0h7m1 0h1m8 0h1m8 0h1M34 111h1m11 0h1m1 0h2m2 0h1m2 0h1m4 0h1m1 0h2m4 0h1m5 0h1m5 0h1m1 0h1m1 0h1m1 0h2m2 0h1m5 0h2m2 0h1m3 0h5m5 0h3m5 0h1m13 0h1M17 112h1m19 0h2m1 0h1m3 0h1m1 0h1m2 0h2m1 0h4m1 0h2m1 0h1m3 0h1m14 0h1m2 0h2m4 0h1m1 0h1m5 0h1m2 0h1m3 0h1m1 0h2m4 0h1m3 0h1m3 0h1m1 0h1m4 0h1m3 0h1m5 0h1M34 113h1m7 0h1m4 0h1m2 0h1m1 0h3m5 0h1m1 0h1m1 0h1m2 0h1m2 0h1m2 0h1m5 0h1m6 0h3m4 0h1m1 0h3m2 0h1m2 0h3m2 0h1m1 0h5m2 0h2m3 0h1m1 0h1m5 0h1M40 114h1m1 0h1m1 0h2m4 0h1m1 0h2m1 0h1m4 0h1m1 0h1m1 0h1m2 0h1m1 0h2m1 0h1m7 0h1m1 0h1m1 0h1m5 0h2m1 0h1m2 0h1m5 0h1m1 0h1m8 0h1m1 0h1m1 0h1m1 0h2m2 0h1m3 0h1m9 0h1m1 0h1M30 115h1m11 0h3m6 0h2m5 0h1m1 0h1m4 0h7m7 0h2m4 0h1m1 0h1m1 0h2m1 0h1m1 0h5m2 0h2m3 0h1m1 0h1m1 0h1m4 0h1m2 0h1m1 0h2m2 0h1m6 0h1m7 0h1M34 116h2m5 0h1m1 0h3m1 0h1m2 0h1m9 0h1m1 0h1m1 0h1m3 0h1m3 0h1m2 0h3m2 0h1m3 0h2m2 0h1m1 0h1m1 0h2m2 0h2m1 0h2m2 0h1m1 0h1m2 0h1m2 0h1m4 0h1m1 0h2m3 0h1m1 0h1m5 0h1m4 0h1M25 117h1m5 0h1m2 0h1m2 0h1m1 0h1m1 0h1m3 0h2m4 0h1m1 0h1m1 0h2m4 0h1m2 0h1m7 0h5m2 0h1m3 0h1m1 0h1m1 0h1m1 0h1m3 0h2m3 0h1m3 0h1m3 0h1m1 0h1m1 0h2m2 0h1m2 0h1m4 0h3m1 0h1m1 0h1m1 0h1m2 0h1m2 0h1m2 0h1M34 118h1m4 0h1m1 0h1m2 0h2m2 0h2m3 0h1m3 0h1m6 0h1m7 0h1m1 0h1m5 0h1m2 0h1m3 0h1m1 0h1m8 0h1m5 0h1m1 0h2m2 0h2m1 0h1m2 0h2m5 0h1m2 0h1m1 0h1m1 0h1m15 0h1M16 119h1m5 0h1m2 0h1m10 0h1m2 0h1m16 0h1m5 0h1m7 0h1m2 0h2m2 0h1m3 0h1m3 0h2m2 0h3m1 0h1m1 0h1m4 0h1m2 0h3m7 0h4m1 0h1m2 0h1M22 120h1m10 0h1m3 0h2m4 0h2m4 0h1m5 0h1m8 0h1m3 0h1m5 0h2m5 0h1m1 0h4m1 0h2m2 0h1m1 0h1m4 0h1m1 0h2m2 0h1m3 0h1m2 0h1m10 0h1m3 0h2m1 0h1M19 121h1m4 0h1m6 0h1m2 0h1m1 0h2m4 0h1m7 0h1m1 0h1m3 0h1m6 0h2m4 0h1m4 0h1m1 0h1m2 0h2m3 0h1m1 0h1m3 0h2m1 0h1m1 0h1m3 0h1m2 0h1m2 0h2m3 0h3m1 0h1m1 0h1m1 0h1m1 0h1m2 0h1m1 0h1M28 122h1m4 0h1m1 0h1m1 0h1m2 0h2m2 0h1m6 0h1m4 0h1m2 0h1m14 0h1m5 0h1m4 0h1m2 0h1m6 0h1m1 0h1m4 0h1m1 0h1m2 0h1m2 0h1m1 0h1m3 0h1m1 0h1m3 0h2m11 0h1M9 123h1m25 0h1m5 0h2m6 0h1m16 0h1m6 0h1m2 0h2m6 0h2m8 0h1m1 0h2m2 0h1m1 0h1m3 0h1m1 0h1m3 0h1m2 0h1m1 0h1m2 0h1m3 0h1m7 0h1M12 124h1m12 0h1m2 0h1m3 0h1m3 0h2m2 0h1m1 0h2m11 0h1m13 0h1m3 0h2m4 0h1m1 0h2m4 0h5m3 0h1m1 0h1m1 0h1m3 0h1m2 0h1m3 0h1m6 0h1m1 0h1m1 0h4m3 0h1M36 125h3m3 0h2m7 0h1m10 0h1m1 0h2m7 0h6m2 0h1m6 0h2m1 0h1m3 0h1m1 0h1m1 0h1m3 0h1m3 0h3m1 0h2m1 0h2m2 0h1m2 0h2m2 0h1m11 0h1M26 126h1m3 0h1m2 0h1m30 0h1m1 0h2m9 0h3m1 0h1m4 0h2m1 0h1m2 0h1m2 0h1m2 0h1m7 0h2m2 0h3m1 0h1m3 0h1m1 0h1m3 0h2m1 0h1m4 0h2M32 127h2m2 0h1m3 0h1m1 0h1m22 0h1m3 0h2m4 0h1m6 0h3m1 0h1m1 0h1m1 0h1m4 0h3m1 0h1m2 0h1m1 0h1m1 0h2m1 0h3m1 0h2m1 0h1m5 0h1m2 0h1M27 128h1m5 0h1m4 0h1m13 0h1m9 0h1m5 0h1m1 0h1m2 0h1m3 0h3m2 0h1m3 0h1m2 0h1m2 0h1m6 0h1m4 0h1m2 0h1m5 0h1m6 0h1m1 0h1m4 0h1M9 129h1m13 0h1m5 0h2m1 0h1m1 0h1m1 0h1m3 0h1m22 0h1m2 0h1m4 0h1m5 0h1m3 0h2m2 0h1m9 0h2m1 0h2m4 0h1m2 0h1m6 0h1m2 0h3m1 0h1m2 0h2M34 130h1m36 0h2m1 0h2m1 0h1m1 0h1m9 0h3m1 0h1m2 0h2m1 0h1m4 0h1m2 0h2m1 0h1m6 0h1m1 0h1m3 0h1M23 131h2m1 0h2m3 0h2m3 0h1m29 0h1m1 0h1m2 0h4m5 0h1m6 0h3m3 0h1m3 0h3m3 0h1m2 0h2m1 0h2m4 0h1m1 0h1m4 0h1m14 0h1M28 132h1m2 0h1m3 0h1m27 0h1m3 0h1m1 0h3m4 0h1m2 0h2m3 0h1m1 0h3m2 0h1m3 0h3m4 0h1m4 0h1m5 0h1m8 0h2m2 0h1m2 0h1M22 133h1m2 0h2m3 0h1m1 0h1m3 0h2m7 0h1m13 0h1m2 0h1m10 0h1m1 0h3m4 0h3m3 0h1m1 0h1m2 0h1m6 0h2m4 0h1m3 0h3m13 0h1m5 0h1M24 134h1m3 0h1m1 0h2m3 0h1m30 0h1m1 0h1m1 0h2m4 0h1m3 0h1m1 0h2m4 0h1m2 0h1m2 0h1m5 0h1m2 0h1m6 0h2m4 0h1m3 0h1m1 0h1M23 135h1m3 0h1m2 0h3m2 0h2m8 0h1m24 0h1m3 0h1m8 0h3m2 0h3m4 0h2m4 0h4m3 0h1m5 0h1m1 0h1M18 136h1m1 0h1m3 0h2m4 0h1m5 0h1m23 0h1m6 0h1m3 0h1m5 0h1m3 0h1m3 0h1m1 0h5m4 0h1m3 0h1m12 0h1m3 0h2m1 0h1m1 0h2m12 0h1m4 0h1M26 137h2m1 0h1m1 0h1m5 0h1m29 0h2m1 0h1m4 0h1m3 0h1m2 0h1m3 0h4m5 0h1m5 0h1m1 0h3m2 0h1m1 0h3m3 0h1m5 0h2m1 0h2m2 0h1m2 0h1M19 138h1m4 0h1m1 0h4m2 0h1m32 0h3m2 0h1m3 0h1m1 0h1m5 0h1m3 0h1m5 0h1m7 0h1m4 0h2m3 0h2m3 0h3m2 0h3M24 139h1m1 0h2m1 0h1m26 0h1m2 0h1m4 0h1m2 0h1m1 0h2m7 0h1m3 0h2m5 0h1m6 0h1m3 0h1m4 0h1m9 0h1m2 0h1m6 0h2M1 140h1m10 0h1m2 0h1m6 0h1m2 0h1m1 0h2m2 0h1m1 0h1m22 0h1m3 0h1m6 0h1m1 0h3m4 0h4m4 0h1m2 0h1m4 0h3m4 0h1m5 0h1m2 0h2m4 0h2M6 141h1m13 0h2m6 0h1m27 0h1m2 0h1m6 0h1m12 0h1m3 0h1m1 0h1m2 0h2m1 0h1m3 0h1m5 0h1m1 0h1m2 0h1m2 0h1m6 0h1M9 142h1m13 0h2m8 0h1m4 0h1m26 0h1m6 0h1m3 0h1m2 0h1m5 0h1m1 0h1m6 0h3m2 0h1m1 0h3m2 0h2m1 0h1m10 0h1m10 0h1m13 0h1M13 143h1m5 0h1m2 0h2m6 0h1m26 0h1m3 0h5m1 0h1m2 0h1m14 0h3m3 0h1m7 0h1m5 0h1m9 0h2m3 0h1m3 0h1m1 0h2M10 144h1m8 0h2m2 0h1m1 0h1m3 0h1m3 0h1m28 0h1m5 0h1m6 0h1m3 0h1m3 0h1m7 0h2m2 0h1m1 0h2m2 0h1m9 0h1m3 0h1m2 0h1m4 0h1M10 145h1m8 0h1m2 0h1m9 0h1m23 0h1m5 0h2m1 0h2m5 0h1m2 0h1m5 0h1m3 0h1m7 0h2m7 0h1m15 0h1m1 0h1m4 0h1M17 146h1m2 0h1m2 0h1m3 0h2m5 0h1m12 0h1m4 0h1m6 0h1m3 0h2m1 0h1m12 0h1m6 0h1m5 0h1m2 0h1m4 0h1m2 0h1m2 0h1m1 0h1m2 0h1M16 147h2m3 0h1m3 0h1m10 0h1m6 0h1m7 0h1m2 0h1m2 0h1m3 0h3m8 0h1m1 0h2m6 0h1m11 0h1m5 0h1m1 0h1m3 0h1m1 0h1m5 0h1m22 0h1M11 148h1m2 0h1m4 0h2m2 0h1m1 0h1m2 0h1m5 0h1m16 0h2m6 0h2m3 0h2m1 0h1m1 0h1m4 0h1m4 0h1m1 0h1m7 0h1m1 0h1m5 0h1m1 0h1m1 0h1m2 0h2M12 149h1m10 0h1m2 0h1m23 0h1m7 0h1m4 0h1m2 0h1m3 0h1m2 0h1m9 0h1m8 0h1m1 0h1m1 0h1m1 0h1m1 0h1m1 0h1m1 0h1m6 0h1m1 0h1m8 0h1M3 150h1m2 0h1m4 0h1m5 0h1m1 0h1m2 0h2m5 0h2m27 0h2m7 0h3m20 0h1m5 0h2m3 0h1m1 0h1M7 151h1m11 0h1m2 0h2m2 0h1m17 0h1m4 0h1m2 0h1m2 0h1m1 0h1m3 0h2m1 0h1m1 0h1m9 0h1m13 0h1m2 0h2m3 0h1m14 0h1m18 0h1m6 0h1M2 152h1m13 0h1m4 0h1m1 0h1m2 0h1m3 0h1m26 0h2m6 0h1m3 0h1m2 0h2m1 0h2m11 0h1m3 0h1m12 0h1m19 0h1M16 153h4m3 0h1m23 0h1m3 0h1m2 0h1m1 0h2m1 0h1m5 0h1m1 0h1m5 0h1m6 0h1m4 0h1m36 0h1m9 0h1M13 154h1m2 0h1m1 0h1m6 0h1m9 0h1m2 0h1m1 0h1m17 0h2m6 0h1m12 0h1m1 0h1m13 0h1m4 0h1m23 0h1M11 155h1m2 0h1m1 0h1m2 0h1m1 0h2m6 0h1m24 0h2m1 0h2m20 0h2m11 0h1m6 0h1m9 0h1m11 0h1M17 156h1m1 0h1m2 0h1m2 0h1m1 0h2m21 0h1m1 0h1m2 0h1m5 0h2m4 0h2m7 0h3m8 0h1m5 0h2m1 0h1m7 0h1m21 0h1M8 157h1m10 0h1m5 0h1m2 0h1m9 0h1m1 0h2m5 0h1m1 0h1m8 0h1m19 0h1m4 0h2m14 0h1M14 158h1m1 0h2m1 0h1m7 0h1m15 0h1m2 0h1m2 0h1m7 0h1m30 0h1m13 0h1M13 159h1m4 0h1m1 0h1m2 0h1m1 0h2m7 0h1m1 0h1m8 0h1m2 0h1m1 0h1m2 0h1m1 0h1m10 0h1m46 0h1m6 0h1M13 160h1m1 0h2m3 0h2m6 0h1m6 0h2m6 0h1m4 0h1m2 0h2m1 0h1m4 0h1m1 0h2m15 0h1m11 0h1m8 0h1M12 161h1m1 0h1m5 0h1m3 0h1m8 0h1m2 0h1m6 0h2m3 0h3m14 0h1m14 0h2m13 0h1m9 0h1M16 162h1m3 0h2m1 0h1m5 0h1m2 0h1m7 0h1m1 0h1m1 0h1m4 0h1m1 0h3m9 0h2m7 0h1m12 0h1m1 0h2m3 0h1m7 0h1M10 163h1m2 0h2m1 0h1m2 0h3m2 0h1m2 0h1m3 0h1m8 0h1m1 0h1m5 0h1m1 0h2m23 0h1m2 0h1m3 0h1m1 0h1m23 0h1M13 164h2m5 0h1m3 0h2m1 0h1m3 0h1m4 0h1m2 0h1m2 0h2m2 0h1m3 0h1m41 0h1m24 0h1m12 0h1M14 165h1m4 0h1m1 0h3m3 0h1m1 0h1m1 0h1m1 0h3m3 0h2m1 0h1m23 0h1m7 0h1m5 0h1m3 0h1m4 0h1m2 0h1m25 0h1M13 166h1m2 0h1m5 0h1m1 0h1m3 0h1m1 0h1m11 0h2m3 0h1m2 0h1m2 0h1m49 0h1m14 0h1M3 167h1m1 0h1m5 0h2m4 0h1m2 0h1m1 0h1m1 0h1m2 0h2m1 0h1m2 0h2m3 0h1m5 0h1m1 0h2m6 0h2m28 0h1m10 0h1M10 168h1m4 0h1m7 0h2m1 0h1m1 0h2m3 0h2m2 0h2" stroke-opacity=".42"/><path d="M129 15h1M134 19h1M125 25h1M155 27h1M116 28h1m19 0h1M143 29h1M123 30h1m20 0h1M133 31h1M127 32h1M128 34h1m4 0h1M125 35h1m2 0h1m5 0h1M120 36h1m9 0h1m4 0h1M126 37h1m2 0h1m4 0h2m20 0h1M114 38h1m1 0h1m13 0h1m25 0h1M123 39h1m4 0h1M116 40h2m2 0h1m5 0h1m6 0h1M121 41h1m10 0h2m1 0h1M122 42h1m2 0h1m3 0h1m11 0h1m1 0h1m4 0h1M122 43h1m6 0h1m3 0h1m5 0h1M120 44h1m11 0h1m1 0h2m3 0h1m6 0h1M113 45h1m2 0h1m5 0h1m2 0h1m1 0h1m4 0h1m3 0h1M113 46h1m10 0h2m2 0h1m5 0h1m5 0h1m6 0h1m2 0h1M120 47h1m3 0h2m1 0h1m1 0h1m1 0h2m1 0h2m2 0h1m9 0h1M103 48h1m7 0h1m16 0h1m2 0h1M116 49h2m1 0h1m4 0h1m1 0h1m3 0h1m1 0h1m8 0h1m1 0h1m7 0h1M113 50h1m4 0h1m3 0h1m2 0h1m2 0h2m5 0h1m13 0h1M103 51h1m3 0h1m3 0h2m10 0h1m2 0h2m3 0h1m10 0h1M109 52h1m5 0h1m1 0h2m1 0h1m4 0h3m14 0h1m11 0h1M99 53h1m3 0h1m10 0h1m1 0h1m1 0h1m2 0h1m1 0h1m2 0h1m8 0h1m1 0h3M98 54h1m12 0h1m3 0h1m2 0h2m5 0h2m5 0h3m3 0h1m5 0h1M100 55h1m11 0h2m1 0h1m6 0h1m5 0h3m1 0h1m1 0h3m1 0h1m5 0h1m3 0h1M111 56h1m4 0h1m5 0h1m12 0h1m1 0h2m4 0h1M102 57h1m6 0h2m1 0h2m3 0h1m4 0h1m14 0h1m3 0h1m1 0h2m3 0h1M103 58h1m1 0h1m23 0h3m1 0h1m4 0h1m1 0h2M102 59h1m4 0h1m4 0h1m6 0h2m5 0h2m3 0h1M104 60h1m2 0h2m5 0h1m2 0h1m11 0h1m5 0h1m1 0h1m10 0h1M99 61h1m11 0h1m1 0h1m8 0h1m9 0h1m7 0h1m4 0h1m9 0h1M96 62h1m3 0h1m42 0h2m6 0h1M89 63h1m9 0h1m1 0h1m3 0h2m2 0h1m3 0h1m3 0h1m3 0h1m8 0h1m7 0h1m2 0h1m5 0h1M111 64h1m3 0h1m16 0h3m2 0h1m5 0h1M106 65h1m10 0h1m4 0h1m10 0h2m4 0h1m6 0h1M84 66h1m15 0h1m1 0h2m2 0h1m8 0h1m15 0h1m1 0h1m3 0h1m1 0h1m7 0h2M97 67h1m4 0h3m2 0h1m32 0h1M92 68h1m13 0h1m1 0h2m1 0h1m11 0h1m5 0h1m7 0h1M107 69h1m8 0h1m20 0h1M66 70h1m40 0h2m3 0h1m10 0h1m3 0h1m7 0h1m2 0h1m3 0h1M94 71h1m3 0h1m6 0h1m6 0h1m1 0h1m15 0h2m3 0h2m7 0h1M100 72h1m3 0h1m5 0h1m19 0h1m4 0h2m5 0h1M109 73h2m16 0h1m1 0h1m3 0h2m1 0h1m2 0h1M81 74h1m2 0h1m22 0h1m1 0h1m18 0h1m5 0h1m2 0h1M80 75h1m19 0h2m6 0h1m15 0h1m3 0h1m5 0h1m15 0h1M86 76h1m9 0h2m4 0h1m27 0h1m6 0h1m3 0h1m1 0h1M86 77h1m6 0h1m9 0h2m5 0h1m16 0h1m2 0h1m3 0h2m1 0h1M97 78h2m1 0h1m1 0h1m2 0h1m22 0h1m3 0h2m2 0h1m1 0h1M75 79h1m24 0h1m1 0h1m1 0h1m2 0h1m5 0h1m13 0h1m2 0h1m2 0h2m2 0h2M88 80h1m1 0h2m1 0h1m5 0h2m3 0h2m16 0h1m5 0h1m1 0h1m2 0h1m3 0h1M98 81h1m8 0h1m1 0h1m14 0h1m5 0h1M94 82h1m7 0h3m2 0h1m24 0h1m2 0h1m1 0h1M96 83h1m13 0h1m14 0h1m1 0h1m12 0h1M78 84h1m27 0h1m21 0h2m1 0h1m10 0h1M61 85h1m32 0h1m4 0h1m5 0h2m10 0h1m6 0h1m3 0h1m1 0h2m2 0h1M85 86h2m9 0h1m3 0h3m1 0h1m17 0h1m2 0h1M102 87h1m3 0h1m6 0h1m5 0h1m8 0h1M62 88h1m23 0h1m9 0h1m20 0h1m3 0h1m3 0h2m1 0h1m7 0h2M86 89h1m2 0h1m1 0h1m6 0h4m2 0h1m5 0h1m10 0h2m1 0h1m1 0h1m5 0h2M62 90h1m27 0h2m5 0h1m2 0h3m3 0h1m7 0h1m9 0h1m4 0h2M72 91h1m9 0h1m11 0h1m3 0h1m1 0h1m2 0h1m13 0h1m1 0h1m3 0h1M69 92h2m7 0h1m17 0h1m3 0h1m2 0h2m10 0h1m2 0h1m3 0h1m4 0h1m1 0h1M89 93h1m1 0h1m15 0h1m14 0h1M74 94h1m19 0h1m2 0h1m8 0h1m2 0h3m1 0h1m5 0h1M81 95h1m10 0h1m4 0h2m1 0h1m5 0h3m3 0h1m5 0h2m1 0h1m8 0h1M95 96h1m1 0h3m2 0h2m2 0h1m6 0h2M93 97h1m9 0h2m1 0h1m1 0h1m5 0h1m9 0h1m1 0h1m7 0h1M57 98h1m16 0h2m6 0h1m2 0h1m1 0h1m4 0h2m3 0h1m4 0h2m3 0h1m4 0h1m6 0h1m1 0h1m8 0h1M90 99h1m7 0h1m2 0h1m3 0h1m5 0h1m2 0h1m10 0h1m6 0h1M63 100h1m1 0h1m12 0h1m19 0h1m3 0h1m6 0h1m2 0h1m8 0h2m2 0h1M68 101h1m12 0h1m18 0h3m1 0h1m4 0h2m8 0h3M57 102h1m8 0h1m10 0h1m4 0h1m3 0h1m2 0h1m2 0h1m2 0h3m2 0h1m14 0h2m6 0h1M49 103h1m4 0h1m7 0h1m10 0h3m2 0h1m4 0h1m1 0h1m9 0h1m5 0h1m2 0h1m3 0h1m3 0h1m3 0h2m1 0h1m9 0h1M64 104h1m5 0h1m11 0h1m1 0h2m5 0h1m7 0h1m3 0h1m3 0h1m3 0h2m6 0h1m3 0h1M60 105h1m4 0h2m2 0h1m2 0h1m3 0h1m3 0h1m2 0h1m2 0h1m8 0h1m3 0h1m7 0h2m5 0h1m6 0h1m1 0h2M55 106h1m11 0h1m5 0h1m25 0h1m10 0h1m2 0h1m4 0h2m2 0h2m3 0h1M57 107h1m16 0h1m8 0h1m13 0h1m4 0h1m9 0h1M60 108h2m5 0h1m1 0h1m7 0h1m13 0h1m7 0h1m6 0h1m3 0h1m1 0h2m2 0h1m1 0h1M52 109h1m2 0h1m3 0h1m4 0h1m3 0h1m9 0h1m21 0h2m1 0h1m3 0h3m3 0h1M58 110h1m13 0h1m4 0h1m6 0h1m3 0h1m19 0h1m9 0h1m3 0h1M53 111h1m2 0h1m7 0h3m2 0h1m2 0h1m3 0h1m2 0h1m14 0h2m3 0h1m2 0h1m14 0h2M43 112h1m18 0h1m4 0h1m1 0h1m1 0h4m6 0h1m2 0h1m1 0h1m11 0h1m2 0h1m10 0h1M48 113h2m16 0h1m8 0h3m3 0h1m2 0h1m6 0h2m5 0h1m2 0h1m5 0h1m1 0h1M46 114h1m4 0h1m2 0h1m8 0h1m2 0h1m7 0h1m3 0h1m9 0h1m9 0h1m2 0h1m3 0h2m2 0h2m3 0h1m9 0h2M41 115h1m5 0h2m6 0h2m5 0h1m9 0h1m5 0h1m9 0h1m2 0h1m13 0h1m13 0h1M38 116h1m9 0h2m5 0h1m2 0h2m1 0h1m8 0h2m32 0h1m4 0h1m10 0h1M47 117h2m5 0h1m5 0h1m6 0h1m1 0h1m1 0h1m6 0h1m21 0h1m3 0h1m7 0h1m6 0h1M51 118h2m2 0h1m2 0h1m2 0h1m4 0h1m1 0h1m1 0h1m6 0h1m8 0h1m5 0h1m1 0h2m3 0h1m3 0h1m14 0h1m8 0h1M40 119h1m2 0h1m8 0h2m5 0h1m4 0h2m1 0h2m2 0h1m3 0h1m11 0h1m11 0h1m1 0h1m7 0h1M41 120h1m4 0h2m4 0h1m4 0h1m2 0h1m1 0h1m2 0h2m5 0h2m17 0h1m14 0h1m11 0h1m6 0h1M43 121h1m2 0h1m7 0h1m4 0h1m6 0h1m6 0h1m4 0h1m3 0h1m2 0h1m2 0h2m2 0h1m11 0h1m2 0h1m5 0h1m1 0h1m11 0h1M39 122h1m2 0h1m2 0h1m1 0h1m2 0h1m13 0h1m4 0h1m3 0h1m1 0h1m10 0h1m13 0h2m1 0h1m1 0h1m3 0h1m3 0h1m3 0h1m8 0h1M39 123h1m3 0h1m8 0h3m8 0h2m3 0h2m8 0h1m2 0h1m19 0h1m2 0h2m4 0h1M45 124h2m5 0h1m12 0h2m1 0h1m3 0h1m11 0h1m20 0h1m19 0h1m7 0h1M45 125h3m20 0h2m30 0h1m4 0h1M25 126h1m8 0h1m1 0h1m2 0h3m16 0h2m5 0h1m3 0h1m1 0h1m2 0h1m16 0h1m2 0h1m6 0h1m2 0h1m4 0h1m13 0h1M35 127h1m1 0h3m26 0h1m1 0h1m2 0h2m1 0h1m26 0h1m3 0h1m15 0h1m8 0h1M40 128h1m1 0h1m1 0h2m19 0h1m3 0h1m6 0h1m3 0h1m4 0h1m4 0h1m18 0h1m2 0h1m2 0h2M44 129h1m4 0h1m12 0h1m4 0h2m3 0h1m2 0h1m10 0h1m3 0h1m3 0h1m11 0h1m2 0h1M31 130h1m3 0h2m4 0h1m22 0h1m4 0h2m12 0h1m21 0h2m4 0h1m4 0h1m4 0h1M30 131h1m6 0h2m1 0h1m13 0h1m20 0h1m1 0h1m23 0h1M33 132h1m3 0h2m17 0h1m2 0h1m2 0h1m2 0h1m2 0h1m4 0h1m26 0h2m7 0h1m2 0h1m6 0h1M28 133h2m4 0h1m3 0h1m4 0h1m17 0h1m2 0h2m1 0h1m1 0h2m1 0h1m7 0h1m40 0h1M32 134h1m1 0h1m15 0h1m9 0h1m2 0h1m1 0h1m9 0h1m8 0h1m1 0h1m11 0h1m7 0h2m1 0h1m14 0h1M25 135h1m8 0h1m18 0h1m7 0h1m1 0h1m5 0h1m22 0h1m7 0h1m4 0h1m1 0h1M31 136h1m29 0h4m3 0h3m1 0h1M36 137h1m16 0h1m2 0h1m9 0h1m2 0h1m3 0h1m2 0h1m25 0h1m12 0h1M30 138h1m4 0h1m1 0h1m23 0h2m1 0h1m7 0h1m18 0h1m6 0h1m10 0h1m2 0h1m1 0h1m11 0h1M23 139h1m6 0h2m1 0h1m3 0h1m27 0h2m1 0h1m22 0h1M26 140h1m5 0h1m17 0h2m6 0h2m1 0h1m1 0h2m1 0h1m6 0h1m9 0h1M24 141h1m2 0h1m25 0h1m6 0h1m3 0h1m3 0h1m5 0h1m9 0h1m1 0h1m15 0h1m9 0h1M20 142h1m8 0h3m3 0h2m22 0h1m1 0h1m4 0h1m1 0h1m1 0h1m29 0h1M26 143h3m3 0h1m19 0h1m3 0h1m1 0h2m19 0h1m12 0h1m9 0h2M24 144h1m2 0h2m12 0h1m1 0h1m12 0h1m3 0h2m1 0h1m2 0h1m3 0h1m9 0h1m27 0h1M23 145h2m1 0h1m1 0h1m10 0h1m9 0h1m2 0h1m1 0h1m2 0h3m1 0h1m12 0h1m3 0h1m12 0h1m18 0h1M21 146h1m3 0h2m3 0h1m20 0h1m2 0h1m2 0h1m4 0h1m2 0h1m2 0h1m29 0h1M19 147h1m8 0h1m3 0h1m19 0h1m3 0h1m3 0h1M22 148h1m3 0h1m3 0h3m24 0h2m41 0h1M16 149h2m7 0h1m2 0h1m25 0h1m7 0h1m27 0h1m12 0h1M25 150h2m1 0h1m3 0h2m6 0h1m11 0h1m1 0h1m8 0h1m30 0h1m11 0h1M17 151h1m2 0h1m6 0h1m28 0h1m1 0h1m4 0h1M17 152h1m7 0h1m3 0h1m2 0h1m13 0h1m3 0h1m4 0h1m47 0h1M22 153h1m1 0h1m2 0h1m3 0h2m28 0h1m45 0h1M21 154h2m1 0h1m3 0h2m6 0h1m5 0h1m9 0h1m2 0h1m4 0h1M25 155h1m6 0h1m2 0h1m5 0h1m2 0h1m2 0h1m2 0h3m38 0h1M20 156h2m2 0h1m1 0h1m3 0h1m9 0h1m2 0h1m2 0h2m3 0h1m4 0h1M18 157h1m2 0h4m2 0h1m1 0h1m2 0h1m3 0h1m11 0h1m11 0h1m34 0h1M22 158h1m14 0h1m7 0h1m5 0h1M28 159h2m2 0h1m4 0h3m1 0h2m3 0h1m2 0h1m1 0h1m43 0h1M12 160h1m4 0h2m6 0h3m1 0h4m4 0h1m2 0h1m1 0h1m1 0h1m1 0h1m2 0h1m5 0h1M25 161h2m11 0h2m11 0h1M25 162h4m1 0h1m4 0h1m2 0h2m1 0h1m4 0h1m1 0h1M23 163h1m6 0h1m4 0h2m2 0h1m1 0h1m5 0h1M22 164h1m3 0h1m2 0h2m4 0h1m1 0h2m5 0h1m3 0h1M25 165h2m9 0h2m6 0h1M14 166h1m10 0h2m7 0h1m1 0h3m1 0h1m5 0h1M19 167h1m1 0h1m10 0h1m9 0h1M17 168h1m14 0h1m2 0h2m10 0h1" stroke-opacity=".72"/><path d="M133 33h1M130 35h1M126 36h1M120 37h1m7 0h1M131 40h2M119 41h1m9 0h1M124 42h1M126 43h1m1 0h1m7 0h1M121 44h2m3 0h1m2 0h1M128 45h1m4 0h1m1 0h1M119 46h1m1 0h1m4 0h1m9 0h1M117 47h3m8 0h1m4 0h1m9 0h1M119 48h1m1 0h5m3 0h2m2 0h2m1 0h1m2 0h2m4 0h1M125 49h1m3 0h1m4 0h1m5 0h1M117 50h1m2 0h1m2 0h1m3 0h1m2 0h2m2 0h1M115 51h1m2 0h2m2 0h1m5 0h1m4 0h3M110 52h1m5 0h1m2 0h1m1 0h1m1 0h2m8 0h1M109 53h1m10 0h1m1 0h1m1 0h2m1 0h2m1 0h2m1 0h1m2 0h1M116 54h2m3 0h1m2 0h1m6 0h1m14 0h1M111 55h1m4 0h6m1 0h5m3 0h1m5 0h1M113 56h2m4 0h3m2 0h3m1 0h3m1 0h3M111 57h1m2 0h3m1 0h1m2 0h1m1 0h4m1 0h4m3 0h1M100 58h1m9 0h1m3 0h1m2 0h1m1 0h10m5 0h3M109 59h1m3 0h2m1 0h3m2 0h5m2 0h3m3 0h2m1 0h1M110 60h1m1 0h1m2 0h2m1 0h9m1 0h1m1 0h3M108 61h1m1 0h1m3 0h3m1 0h4m1 0h9m1 0h1m1 0h1m1 0h1M102 62h1m4 0h2m5 0h1m1 0h6m1 0h5m1 0h1m1 0h1m2 0h1m2 0h1M111 63h2m1 0h3m1 0h3m1 0h8m1 0h1m1 0h2m4 0h1M107 64h2m1 0h1m3 0h1m1 0h4m1 0h6m1 0h2m1 0h1m8 0h1M105 65h1m2 0h1m2 0h5m2 0h4m1 0h10M107 66h4m1 0h3m1 0h14M106 67h1m1 0h2m1 0h21m1 0h2M97 68h1m5 0h1m3 0h1m2 0h1m1 0h2m1 0h8m1 0h5m1 0h1m3 0h2m3 0h1M102 69h1m1 0h2m2 0h3m1 0h4m1 0h9m1 0h3m1 0h1m2 0h3M90 70h1m12 0h2m4 0h3m1 0h10m1 0h3m1 0h3m2 0h2M107 71h5m1 0h1m1 0h15m3 0h2m3 0h1M105 72h1m2 0h2m2 0h18m1 0h1m7 0h1M102 73h3m1 0h1m5 0h15m1 0h1m1 0h2M98 74h1m3 0h1m2 0h2m1 0h1m1 0h18m1 0h4M103 75h2m2 0h1m1 0h15m1 0h3m1 0h4M103 76h1m1 0h1m2 0h19m1 0h2m1 0h2m2 0h1M102 77h1m2 0h5m1 0h14m3 0h2m1 0h2M101 78h1m1 0h1m2 0h1m2 0h19m1 0h1m7 0h1M101 79h1m4 0h1m1 0h5m1 0h7m1 0h5m1 0h2m1 0h1m7 0h1M103 80h1m2 0h1m1 0h3m1 0h10m1 0h5m1 0h1m2 0h1m1 0h1M97 81h1m1 0h1m1 0h2m2 0h2m1 0h1m1 0h14m1 0h2m1 0h2M100 82h2m3 0h1m2 0h19m1 0h2M99 83h1m3 0h3m2 0h2m1 0h14m1 0h1m2 0h2M99 84h1m2 0h1m2 0h1m1 0h20m6 0h1M96 85h1m1 0h1m3 0h2m3 0h10m1 0h6m1 0h3M103 86h1m1 0h2m1 0h14m1 0h2m1 0h3m1 0h1M98 87h1m4 0h3m1 0h6m1 0h5m1 0h2m1 0h4m2 0h1M91 88h1m5 0h1m2 0h1m3 0h3m1 0h6m1 0h2m1 0h3m1 0h2m6 0h1M87 89h1m15 0h1m1 0h5m1 0h10m2 0h1m3 0h2M104 90h1m2 0h7m1 0h2m1 0h5m3 0h1M102 91h1m4 0h10m1 0h1m1 0h3m1 0h2M91 92h1m13 0h10m1 0h2m1 0h1m1 0h1m1 0h2m1 0h1m1 0h1M98 93h1m2 0h6m1 0h7m1 0h6m1 0h3m1 0h1M96 94h1m3 0h3m1 0h2m1 0h2m3 0h1m1 0h5m1 0h1m2 0h1m5 0h1M83 95h1m15 0h1m4 0h2m3 0h3m1 0h2m1 0h1m9 0h1M94 96h1m12 0h2m1 0h3m2 0h1m3 0h3M82 97h1m14 0h3m1 0h1m5 0h1m1 0h1m1 0h3m1 0h6M89 98h1m14 0h3m2 0h3m2 0h1m1 0h3M67 99h1m29 0h1m5 0h1m2 0h1m1 0h2m2 0h2m4 0h2m1 0h2M62 100h1m31 0h1m5 0h2m3 0h2m4 0h1m1 0h3m1 0h3M111 101h2m1 0h2m1 0h1M74 102h1m30 0h2m1 0h3m2 0h2m4 0h1M99 103h1m9 0h1m4 0h1m5 0h2M100 104h1m4 0h1m16 0h1M94 105h1m3 0h1m10 0h1m1 0h1m1 0h1m4 0h1M62 106h1m1 0h1m15 0h1m9 0h1m6 0h1m3 0h1m1 0h2m1 0h1m1 0h1M63 107h1m39 0h1m2 0h1m1 0h1m1 0h1m4 0h1m2 0h1M65 108h1m8 0h1m5 0h1m34 0h1m7 0h1M56 109h2m12 0h1m2 0h1m14 0h1m16 0h1m21 0h1M62 110h1m1 0h2m5 0h1m3 0h1m18 0h1m11 0h2M57 111h1m1 0h1m38 0h1m10 0h1m1 0h1m14 0h1M61 112h1m1 0h1m2 0h1m3 0h1m5 0h1m10 0h1m12 0h1m3 0h1m2 0h3M59 113h1m1 0h1m3 0h1m3 0h1m2 0h1m9 0h1m11 0h1m28 0h1M56 114h1m1 0h2m5 0h1m9 0h1m13 0h1m2 0h1m1 0h1m2 0h1m10 0h1M49 115h1m9 0h1m1 0h1m1 0h2m8 0h1m35 0h1m3 0h1M51 116h2m4 0h1m5 0h1m1 0h2m2 0h1m13 0h1m14 0h1m7 0h1M42 117h1m9 0h1m4 0h3m2 0h2m1 0h2m1 0h1m1 0h1m24 0h1m11 0h1m10 0h1M46 118h1m3 0h1m3 0h1m1 0h1m2 0h2m2 0h1m1 0h1m1 0h1m3 0h1m4 0h1m2 0h1m25 0h1M38 119h1m2 0h2m4 0h1m1 0h3m2 0h2m1 0h2m1 0h2m1 0h1m2 0h1m2 0h1m6 0h1m25 0h1m3 0h1m1 0h1m1 0h1M50 120h2m1 0h2m1 0h1m1 0h1m2 0h1m1 0h1m3 0h1m1 0h3m5 0h1m18 0h1m23 0h1M40 121h1m3 0h2m1 0h1m1 0h1m1 0h1m1 0h1m1 0h1m1 0h2m1 0h3m2 0h1m1 0h2m2 0h2m2 0h1m18 0h1m5 0h1M46 122h1m2 0h1m2 0h4m1 0h2m1 0h4m1 0h4m8 0h1m1 0h1m11 0h1M40 123h1m3 0h4m2 0h2m3 0h8m2 0h1m1 0h1m4 0h1m13 0h1m6 0h1m13 0h1M41 124h1m2 0h1m3 0h4m1 0h2m1 0h9m2 0h1m44 0h1M44 125h1m3 0h3m1 0h10m1 0h1m2 0h2m3 0h2M42 126h16m2 0h4m4 0h1m1 0h1m1 0h1m23 0h1M41 127h1m1 0h22m2 0h1m10 0h1M30 128h1m3 0h2m3 0h1m1 0h1m1 0h1m2 0h6m1 0h9m1 0h2m1 0h2m23 0h1m1 0h1M35 129h1m1 0h1m1 0h1m1 0h3m1 0h4m1 0h12m2 0h2m4 0h1m5 0h1m16 0h1m3 0h1m17 0h1M37 130h4m1 0h22m1 0h4m23 0h1m7 0h3M35 131h1m3 0h1m2 0h12m1 0h10m4 0h1M32 132h1m6 0h17m1 0h2m1 0h2m2 0h1m1 0h1m14 0h1m11 0h2m15 0h1M35 133h1m3 0h4m1 0h1m1 0h13m1 0h1m2 0h1m2 0h1m1 0h1m9 0h1m24 0h1m5 0h1M33 134h1m3 0h13m1 0h9m1 0h2m1 0h1m2 0h1m1 0h1m4 0h1m29 0h1M33 135h1m3 0h8m1 0h7m1 0h7m1 0h1m1 0h1m1 0h2M33 136h1m1 0h1m2 0h22m5 0h2m32 0h1M32 137h1m2 0h1m2 0h15m1 0h2m1 0h9M31 138h1m1 0h2m1 0h1m1 0h23m2 0h1m11 0h1M22 139h1m5 0h1m3 0h1m1 0h3m1 0h18m1 0h2m1 0h4m35 0h1m19 0h1M29 140h2m3 0h4m1 0h11m2 0h4m1 0h1m4 0h1m2 0h1M26 141h1m2 0h24m1 0h2m1 0h2m2 0h2m2 0h1M26 142h2m4 0h1m1 0h1m2 0h1m1 0h20m1 0h1m1 0h2M29 143h1m1 0h1m1 0h19m1 0h3m4 0h1M30 144h3m1 0h7m1 0h1m1 0h10m1 0h1m1 0h1m1 0h1m4 0h1M27 145h1m1 0h1m1 0h1m1 0h6m1 0h9m1 0h2m1 0h1m1 0h1m53 0h1M31 146h3m1 0h12m1 0h3m2 0h1m1 0h2m1 0h1m2 0h1M29 147h3m1 0h3m1 0h6m1 0h7m2 0h1m1 0h1m3 0h1M21 148h1m2 0h1m2 0h1m5 0h1m1 0h16m2 0h3m6 0h1M24 149h1m2 0h1m1 0h21m1 0h3m1 0h1M27 150h1m3 0h1m2 0h6m1 0h11m1 0h1m1 0h2m7 0h1M25 151h1m2 0h16m1 0h4m1 0h2m1 0h2m5 0h1M28 152h1m2 0h1m1 0h13m1 0h3m1 0h3m6 0h1M25 153h1m2 0h1m1 0h1m2 0h14m1 0h3m1 0h1m5 0h1M23 154h1m2 0h2m2 0h5m2 0h1m1 0h1m1 0h1m1 0h5m1 0h2m2 0h2m6 0h1M23 155h2m1 0h1m1 0h1m1 0h2m1 0h2m1 0h5m1 0h2m1 0h2m1 0h2M23 156h1m5 0h1m1 0h9m1 0h2m1 0h1m4 0h1M26 157h1m3 0h2m1 0h3m1 0h1m1 0h1m2 0h3m9 0h1M23 158h2m1 0h1m1 0h1m1 0h4m1 0h2m1 0h5m5 0h1m1 0h1M17 159h1m6 0h1m2 0h1m2 0h2m1 0h1m1 0h1m7 0h1M22 160h2m10 0h1m4 0h1m1 0h1m3 0h1m1 0h1M17 161h1m4 0h2m5 0h3m2 0h2m5 0h2m2 0h1M24 162h1m6 0h1m4 0h2M22 163h1m3 0h1m2 0h1m2 0h1m1 0h1m2 0h1m5 0h1M23 164h1m8 0h2M31 166h1m3 0h1M25 167h1"/></g>
<rect x="1417.8" y="1756" width="339.8" height="339.6" fill="none" stroke="#707070" stroke-width="2"/>
<line x1="1592.5" y1="1756" x2="1592.5" y2="2095.6" stroke="#555" stroke-width="1.8"/>
<line x1="1417.8" y1="1949.2" x2="1757.6" y2="1949.2" stroke="#555" stroke-width="1.8"/>
<path d="M1417.8 2095.6v8M1417.8 2095.6h-8M1443.4 2095.6v4.5M1417.8 2070.0h-4.5M1458.3 2095.6v4.5M1417.8 2055.1h-4.5M1468.9 2095.6v4.5M1417.8 2044.5h-4.5M1477.2 2095.6v4.5M1417.8 2036.3h-4.5M1483.9 2095.6v4.5M1417.8 2029.5h-4.5M1489.6 2095.6v4.5M1417.8 2023.9h-4.5M1494.5 2095.6v4.5M1417.8 2018.9h-4.5M1498.9 2095.6v4.5M1417.8 2014.6h-4.5M1502.8 2095.6v8M1417.8 2010.7h-8M1528.3 2095.6v4.5M1417.8 1985.1h-4.5M1543.3 2095.6v4.5M1417.8 1970.2h-4.5M1553.9 2095.6v4.5M1417.8 1959.6h-4.5M1562.1 2095.6v4.5M1417.8 1951.4h-4.5M1568.9 2095.6v4.5M1417.8 1944.6h-4.5M1574.5 2095.6v4.5M1417.8 1939.0h-4.5M1579.5 2095.6v4.5M1417.8 1934.0h-4.5M1583.8 2095.6v4.5M1417.8 1929.7h-4.5M1587.7 2095.6v8M1417.8 1925.8h-8M1613.3 2095.6v4.5M1417.8 1900.2h-4.5M1628.2 2095.6v4.5M1417.8 1885.3h-4.5M1638.8 2095.6v4.5M1417.8 1874.7h-4.5M1647.1 2095.6v4.5M1417.8 1866.5h-4.5M1653.8 2095.6v4.5M1417.8 1859.7h-4.5M1659.5 2095.6v4.5M1417.8 1854.1h-4.5M1664.4 2095.6v4.5M1417.8 1849.1h-4.5M1668.8 2095.6v4.5M1417.8 1844.8h-4.5M1672.6 2095.6v8M1417.8 1840.9h-8M1698.2 2095.6v4.5M1417.8 1815.3h-4.5M1713.2 2095.6v4.5M1417.8 1800.4h-4.5M1723.8 2095.6v4.5M1417.8 1789.8h-4.5M1732.0 2095.6v4.5M1417.8 1781.6h-4.5M1738.8 2095.6v4.5M1417.8 1774.8h-4.5M1744.4 2095.6v4.5M1417.8 1769.2h-4.5M1749.4 2095.6v4.5M1417.8 1764.2h-4.5M1753.7 2095.6v4.5M1417.8 1759.9h-4.5M1757.6 2095.6v8M1417.8 1756.0h-8" stroke="#555" stroke-width="1.6" fill="none"/>
<text x="1419.8" y="2125.6" font-size="15" font-weight="bold" fill="#222" text-anchor="middle">10<tspan font-size="9" dy="-6">0</tspan></text>
<text x="1401.8" y="2096.6" font-size="15" font-weight="bold" fill="#222" text-anchor="middle" transform="rotate(-90 1401.8 2096.6)">10<tspan font-size="9" dy="-6">0</tspan></text>
<text x="1504.8" y="2125.6" font-size="15" font-weight="bold" fill="#222" text-anchor="middle">10<tspan font-size="9" dy="-6">1</tspan></text>
<text x="1401.8" y="2011.7" font-size="15" font-weight="bold" fill="#222" text-anchor="middle" transform="rotate(-90 1401.8 2011.7)">10<tspan font-size="9" dy="-6">1</tspan></text>
<text x="1589.7" y="2125.6" font-size="15" font-weight="bold" fill="#222" text-anchor="middle">10<tspan font-size="9" dy="-6">2</tspan></text>
<text x="1401.8" y="1926.8" font-size="15" font-weight="bold" fill="#222" text-anchor="middle" transform="rotate(-90 1401.8 1926.8)">10<tspan font-size="9" dy="-6">2</tspan></text>
<text x="1674.6" y="2125.6" font-size="15" font-weight="bold" fill="#222" text-anchor="middle">10<tspan font-size="9" dy="-6">3</tspan></text>
<text x="1401.8" y="1841.9" font-size="15" font-weight="bold" fill="#222" text-anchor="middle" transform="rotate(-90 1401.8 1841.9)">10<tspan font-size="9" dy="-6">3</tspan></text>
<text x="1759.6" y="2125.6" font-size="15" font-weight="bold" fill="#222" text-anchor="middle">10<tspan font-size="9" dy="-6">4</tspan></text>
<text x="1401.8" y="1757" font-size="15" font-weight="bold" fill="#222" text-anchor="middle" transform="rotate(-90 1401.8 1757)">10<tspan font-size="9" dy="-6">4</tspan></text>
<g font-size="15.5" font-weight="bold" fill="#1a1a1a" letter-spacing="1.3"><text x="1422.8" y="1777">Q1</text><text x="1422.8" y="1797">0.41%</text><text x="1693.6" y="1777">Q2</text><text x="1693.6" y="1797">45.50%</text><text x="1422.8" y="2067.6">Q4</text><text x="1422.8" y="2088.6">46.30%</text><text x="1693.6" y="2067.6">Q3</text><text x="1693.6" y="2088.6">8.13%</text></g>
<text x="1599.5" y="1734.7" font-size="26" text-anchor="middle">FGLM</text>
<g transform="translate(1814.8 1767.20) scale(2.0)" fill="none" stroke="#f00" stroke-width="1"><path d="M149 0h1M132 2h1m11 0h1m4 0h1M140 3h1M128 4h1M140 5h2M143 6h1M117 7h1m12 0h1m2 0h1M145 8h1m19 0h1M142 9h1m2 0h1M105 10h1m22 0h1m6 0h1M122 11h1m15 0h1m25 0h1M122 12h1m9 0h1m1 0h2m16 0h1M115 13h1m5 0h1m5 0h1M119 14h1m5 0h1m4 0h2m5 0h2m11 0h1M111 15h1m8 0h1m2 0h1m2 0h1m32 0h1M89 16h1m27 0h1m10 0h1m6 0h1m5 0h1M112 17h1m8 0h1M119 18h2m8 0h2m7 0h1M111 19h1m11 0h1m6 0h1m1 0h2m1 0h2m12 0h1m3 0h1m3 0h1M118 20h1m1 0h1m1 0h1m2 0h1m2 0h1m3 0h1m1 0h1m17 0h1M92 21h1m18 0h1m5 0h1m5 0h1m3 0h1m3 0h1m7 0h1M116 22h2m2 0h1m1 0h1m1 0h1m1 0h1m5 0h1m2 0h1m1 0h1M119 23h2m3 0h1m3 0h3m2 0h2m7 0h1m4 0h1M98 24h1m2 0h1m4 0h1m8 0h1m2 0h1m1 0h2m3 0h3m8 0h1m1 0h1m4 0h1m13 0h2M109 25h1m3 0h1m2 0h1m5 0h1m3 0h1m7 0h1m1 0h1m1 0h1m3 0h1m9 0h1m2 0h1M104 26h1m2 0h1m6 0h2m1 0h4m6 0h1m1 0h1m1 0h1m8 0h1M101 27h1m2 0h1m4 0h1m1 0h1m1 0h1m2 0h1m1 0h1m2 0h1m4 0h1m4 0h1m5 0h1M94 28h1m10 0h5m2 0h2m1 0h1m1 0h1m1 0h1m1 0h2m2 0h1m2 0h1m2 0h2m3 0h3m1 0h1m2 0h1m10 0h1M110 29h1m2 0h3m1 0h2m2 0h2m5 0h1m7 0h1m5 0h1m1 0h2M95 30h1m11 0h1m14 0h2m3 0h2m4 0h3m1 0h1m1 0h1m12 0h1m8 0h1M102 31h1m2 0h1m7 0h2m2 0h1m6 0h2m7 0h2m1 0h1m2 0h1M97 32h1m4 0h1m2 0h1m3 0h1m4 0h2m1 0h1m1 0h1m1 0h1m14 0h1M99 33h1m5 0h1m1 0h1m6 0h2m2 0h1m6 0h1m1 0h2m2 0h1m2 0h1m3 0h2m3 0h1M101 34h1m1 0h1m1 0h1m1 0h2m4 0h3m1 0h2m1 0h1m1 0h2m6 0h1m3 0h1m5 0h1m1 0h2m6 0h1M99 35h2m1 0h1m7 0h1m1 0h1m3 0h1m4 0h2m5 0h1m2 0h2m3 0h2m1 0h2m5 0h1m1 0h1m1 0h1M89 36h1m9 0h1m1 0h1m2 0h2m2 0h1m7 0h2m1 0h1m2 0h1m3 0h1m5 0h1m9 0h2m2 0h1m5 0h3M96 37h2m1 0h2m4 0h2m4 0h1m10 0h1m2 0h1m9 0h1m2 0h1m4 0h2m4 0h1m4 0h1m1 0h1M99 38h1m6 0h1m4 0h3m13 0h1m4 0h1m1 0h1m3 0h2m2 0h1m1 0h1m2 0h1M95 39h2m1 0h1m2 0h1m1 0h1m6 0h1m1 0h1m1 0h1m16 0h1m1 0h1m3 0h1m1 0h2m1 0h2m4 0h1M102 40h2m1 0h1m1 0h1m10 0h1m8 0h3m5 0h5m3 0h1m3 0h1m9 0h1M99 41h1m6 0h1m2 0h1m25 0h1m1 0h1m4 0h3m2 0h1m8 0h2m5 0h1M64 42h1m19 0h1m6 0h1m8 0h1m1 0h1m1 0h1m3 0h3m2 0h1m17 0h1m8 0h1m1 0h1m2 0h2m2 0h1m6 0h1m1 0h1M82 43h1m16 0h1m3 0h1m3 0h3m13 0h1m7 0h1m3 0h2m2 0h1m1 0h1m6 0h2M44 44h1m21 0h1m26 0h5m1 0h3m5 0h1m5 0h1m13 0h1m9 0h1m1 0h1m1 0h1m1 0h1m1 0h1m6 0h1M93 45h1m7 0h1m2 0h1m2 0h1m1 0h1m2 0h1m7 0h1m15 0h1m2 0h2m1 0h2m1 0h1m1 0h1M52 46h1m6 0h1m27 0h1m1 0h1m2 0h1m4 0h2m8 0h1m1 0h1m20 0h1m5 0h1m3 0h1m1 0h1m1 0h4m1 0h1m2 0h3M72 47h1m15 0h1m3 0h1m2 0h1m2 0h1m1 0h1m11 0h1m3 0h1m12 0h2m2 0h2m1 0h3m2 0h2m1 0h1m1 0h1M46 48h1m28 0h1m7 0h1m2 0h1m5 0h1m4 0h1m2 0h1m7 0h1m21 0h1m8 0h2m1 0h1m1 0h2m1 0h2m1 0h2m2 0h1M87 49h1m5 0h2m3 0h1m1 0h4m3 0h1m26 0h1m1 0h3m2 0h1m9 0h1m2 0h1M46 50h1m11 0h1m38 0h1m1 0h2m1 0h1m5 0h1m26 0h2m2 0h1m2 0h1m2 0h5m4 0h1m4 0h1M81 51h1m14 0h1m2 0h1m27 0h1m1 0h1m10 0h2m1 0h1m2 0h3m2 0h1m4 0h1m5 0h1M90 52h1m1 0h1m1 0h1m1 0h3m3 0h2m2 0h1m4 0h1m22 0h1m8 0h1m1 0h1m17 0h1M28 53h1m65 0h1m1 0h1m3 0h3m29 0h1m3 0h1m1 0h3m1 0h1m1 0h3m13 0h1M87 54h1m8 0h1m1 0h1m2 0h2m2 0h1m29 0h2m1 0h1m3 0h2m4 0h2M82 55h1m2 0h1m2 0h1m1 0h1m3 0h6m3 0h1m29 0h1m2 0h1m7 0h1m1 0h1m1 0h1m11 0h2M58 56h1m9 0h1m23 0h1m2 0h1m9 0h1m28 0h1m3 0h3m1 0h1m2 0h1m3 0h1m11 0h1M89 57h1m4 0h1m2 0h1m2 0h2m26 0h1m6 0h1m5 0h1m2 0h1m2 0h2M53 58h1m8 0h1m30 0h2m3 0h3m4 0h1m35 0h1m2 0h2m2 0h1m5 0h1M67 59h1m10 0h2m1 0h1m5 0h2m1 0h2m4 0h1m2 0h1m1 0h1m28 0h1m6 0h1m5 0h2m2 0h1m12 0h1M55 60h1m25 0h1m10 0h2m2 0h3m2 0h1m27 0h1m8 0h1m2 0h1m2 0h2M32 61h1m18 0h1m9 0h1m23 0h1m4 0h2m3 0h2m34 0h1m6 0h2m1 0h1m5 0h1M55 62h1m2 0h1m3 0h1m21 0h1m1 0h1m4 0h1m3 0h1m6 0h1m29 0h1m2 0h3m14 0h1m4 0h1M57 63h1m7 0h1m5 0h1m12 0h1m4 0h1m2 0h3m7 0h2m34 0h1m2 0h1m11 0h1m2 0h1M63 64h1m2 0h1m20 0h1m5 0h1m2 0h2m3 0h1m32 0h1m1 0h1m4 0h3m7 0h1m5 0h1m6 0h1M40 65h1m24 0h1m15 0h1m3 0h1m2 0h2m1 0h2m2 0h3m1 0h2m32 0h1m11 0h1m1 0h2m1 0h1m2 0h1M62 66h1m1 0h1m16 0h1m4 0h1m5 0h1m1 0h1m2 0h1m1 0h1m32 0h1m3 0h2m3 0h2m4 0h1m13 0h1M52 67h1m2 0h1m28 0h1m4 0h1m1 0h2m5 0h1m1 0h2m3 0h1m4 0h1m2 0h1m15 0h1m1 0h5m1 0h3m1 0h1m6 0h1M56 68h1m5 0h1m13 0h1m9 0h1m2 0h2m2 0h2m1 0h1m2 0h1m32 0h2m2 0h3m2 0h2m2 0h1m1 0h1m4 0h1m8 0h1M52 69h1m32 0h1m1 0h1m1 0h1m2 0h1m1 0h1m2 0h1m2 0h3m25 0h1m2 0h1m2 0h1m3 0h1m1 0h3m4 0h2m4 0h1m5 0h1M60 70h1m1 0h1m22 0h1m9 0h1m1 0h1m2 0h1m33 0h4m1 0h3m1 0h1m1 0h1m2 0h2m1 0h2m1 0h1m9 0h1M43 71h1m47 0h1m1 0h1m3 0h1m2 0h1m6 0h1m18 0h1m6 0h2m3 0h1m1 0h1m1 0h1m2 0h1m3 0h1m1 0h2M27 72h1m21 0h1m1 0h1m2 0h1m21 0h1m15 0h3m1 0h2m2 0h1m2 0h1m26 0h1m4 0h3m3 0h1m2 0h1m13 0h1M61 73h1m10 0h3m1 0h2m5 0h1m1 0h2m1 0h1m1 0h1m1 0h1m5 0h1m1 0h1m6 0h1m16 0h2m5 0h2m2 0h1m9 0h1m1 0h2m8 0h1M78 74h2m3 0h1m1 0h1m3 0h2m1 0h2m2 0h2m6 0h1m15 0h1m4 0h1m7 0h2m2 0h4m4 0h1m11 0h1M44 75h1m24 0h1m4 0h1m8 0h2m1 0h1m3 0h1m1 0h1m4 0h2m9 0h1m14 0h1m1 0h1m3 0h1m4 0h1m7 0h3m8 0h1m4 0h1M31 76h1m26 0h1m6 0h1m5 0h1m5 0h1m4 0h1m7 0h1m8 0h1m21 0h1m9 0h1m3 0h1m1 0h2m2 0h1m6 0h1m10 0h1M44 77h1m7 0h1m1 0h1m5 0h1m1 0h1m6 0h1m16 0h1m5 0h1m1 0h1m3 0h1m4 0h1m16 0h1m10 0h1m1 0h1m4 0h2m2 0h1m8 0h1m2 0h1m2 0h1M51 78h1m19 0h1m1 0h2m1 0h1m3 0h1m1 0h1m3 0h1m1 0h1m2 0h1m4 0h1m1 0h1m2 0h1m23 0h1m2 0h1m2 0h6m1 0h1m5 0h1m1 0h1m11 0h1M66 79h1m8 0h1m5 0h1m1 0h2m2 0h1m1 0h1m2 0h2m5 0h1m1 0h2m11 0h1m1 0h2m1 0h1m4 0h2m1 0h2m3 0h2m2 0h1m2 0h1m1 0h1m1 0h2M57 80h4m18 0h1m1 0h2m1 0h1m2 0h1m1 0h1m3 0h1m6 0h2m4 0h1m3 0h1m2 0h1m7 0h1m5 0h1m1 0h1m1 0h2m1 0h1m1 0h1m3 0h1m1 0h1m2 0h1M47 81h1m20 0h1m13 0h1m1 0h2m6 0h1m1 0h1m1 0h2m1 0h1m3 0h1m6 0h2m8 0h1m10 0h1m7 0h1m2 0h1m2 0h1m6 0h1m4 0h1M68 82h1m8 0h1m1 0h2m11 0h1m1 0h2m2 0h2m3 0h1m4 0h1m5 0h1m3 0h1m1 0h1m5 0h3m2 0h1m3 0h3m3 0h1m1 0h1M45 83h1m1 0h1m11 0h1m10 0h1m9 0h2m5 0h2m2 0h1m3 0h2m6 0h1m24 0h1m1 0h2m2 0h1M56 84h2m9 0h1m5 0h2m2 0h1m4 0h1m1 0h1m2 0h1m2 0h1m1 0h3m3 0h4m1 0h3m3 0h1m3 0h1m3 0h1m5 0h1m7 0h1m1 0h1m12 0h1M39 85h1m9 0h1m4 0h1m4 0h1m3 0h1m3 0h1m4 0h1m1 0h1m7 0h2m3 0h2m3 0h1m3 0h1m2 0h1m2 0h1m10 0h1m1 0h1m1 0h1m1 0h2m4 0h1m4 0h1m3 0h2m1 0h1m2 0h1m5 0h1m11 0h1M63 86h1m2 0h1m5 0h1m2 0h1m1 0h1m5 0h1m2 0h1m2 0h2m3 0h1m3 0h2m1 0h1m12 0h1m3 0h1m2 0h1m1 0h2m1 0h4m3 0h1m1 0h1m7 0h1m2 0h1M59 87h1m4 0h1m9 0h1m8 0h1m2 0h1m1 0h1m3 0h1m1 0h1m2 0h2m1 0h1m1 0h1m3 0h1m3 0h1m9 0h2m1 0h1m1 0h1m1 0h1m4 0h1m2 0h1m5 0h1m3 0h1M39 88h1m22 0h1m2 0h1m4 0h1m8 0h1m16 0h1m1 0h2m1 0h2m2 0h1m2 0h1m2 0h1m2 0h1m5 0h1m4 0h1m2 0h1m1 0h1m6 0h1M47 89h1m12 0h1m24 0h1m5 0h2m3 0h1m4 0h1m1 0h1m1 0h1m1 0h1m5 0h3m4 0h1m9 0h1m3 0h4m4 0h1m8 0h1M53 90h2m7 0h1m6 0h2m5 0h1m4 0h1m1 0h1m1 0h1m2 0h2m1 0h1m3 0h1m1 0h2m1 0h1m2 0h1m1 0h1m6 0h1m2 0h1m1 0h1m2 0h1m2 0h1m6 0h2m1 0h1m9 0h1M59 91h1m3 0h1m1 0h2m6 0h1m4 0h1m6 0h2m2 0h2m2 0h2m2 0h1m4 0h1m1 0h1m1 0h1m3 0h2m3 0h3m1 0h1m1 0h3m1 0h2m3 0h2m2 0h2m4 0h1m6 0h1M52 92h1m3 0h1m7 0h1m3 0h1m12 0h2m3 0h1m4 0h1m2 0h1m6 0h1m2 0h1m10 0h1m2 0h1m3 0h2m2 0h2m1 0h1m3 0h2m1 0h1m1 0h1m3 0h1m1 0h1m4 0h1M43 93h1m18 0h1m4 0h1m5 0h2m3 0h2m2 0h1m6 0h1m1 0h1m1 0h1m2 0h1m3 0h1m3 0h1m2 0h3m4 0h1m1 0h1m3 0h1m2 0h3m2 0h2m4 0h1m15 0h1M48 94h1m3 0h1m10 0h1m17 0h1m2 0h1m1 0h1m4 0h1m2 0h2m1 0h1m2 0h2m5 0h1m7 0h4m3 0h2m1 0h4m3 0h1m2 0h3m16 0h1M33 95h1m13 0h1m7 0h1m2 0h1m4 0h2m2 0h1m2 0h1m1 0h1m1 0h1m1 0h1m4 0h2m2 0h2m4 0h1m1 0h1m1 0h1m1 0h1m1 0h2m2 0h2m2 0h2m2 0h2m3 0h1m1 0h1m3 0h2m1 0h2m1 0h1m5 0h2M38 96h1m22 0h1m2 0h1m1 0h2m4 0h1m1 0h1m5 0h1m1 0h1m11 0h1m6 0h1m3 0h3m9 0h1m6 0h1m2 0h1m13 0h2M52 97h1m5 0h2m3 0h2m6 0h1m6 0h1m6 0h2m1 0h2m4 0h1m1 0h1m5 0h3m1 0h1m1 0h3m3 0h2m3 0h2m4 0h1m2 0h1m2 0h1m2 0h1m6 0h1m3 0h1m5 0h1M44 98h1m16 0h1m1 0h1m8 0h1m2 0h1m1 0h1m1 0h2m2 0h2m4 0h1m10 0h1m1 0h1m4 0h2m1 0h1m1 0h1m3 0h2m2 0h1m1 0h1m1 0h1m2 0h3m3 0h1m3 0h1M29 99h1m15 0h1m15 0h2m8 0h1m2 0h2m1 0h1m2 0h2m2 0h1m8 0h3m1 0h2m2 0h1m5 0h1m1 0h1m14 0h1m1 0h1m7 0h1m5 0h1m6 0h1m3 0h1M40 100h2m2 0h1m9 0h1m2 0h1m3 0h1m1 0h1m5 0h1m2 0h1m1 0h1m4 0h1m11 0h2m6 0h1m4 0h1m3 0h2m1 0h1m2 0h1m1 0h2m1 0h2m3 0h2m3 0h3m3 0h1M39 101h1m2 0h2m8 0h1m7 0h3m3 0h2m1 0h1m2 0h1m4 0h1m5 0h2m3 0h1m2 0h1m2 0h1m1 0h4m1 0h1m2 0h1m1 0h2m5 0h1m3 0h1m1 0h1m3 0h1m2 0h2m2 0h1m3 0h1m6 0h2M31 102h1m10 0h1m8 0h1m3 0h1m2 0h4m1 0h1m6 0h1m2 0h6m3 0h1m9 0h1m3 0h1m5 0h2m2 0h3m2 0h3m1 0h1m9 0h1m3 0h1m11 0h1M48 103h1m1 0h2m1 0h1m1 0h2m2 0h1m5 0h1m10 0h1m3 0h1m3 0h1m3 0h1m2 0h2m3 0h2m1 0h1m2 0h1m7 0h1m2 0h3m1 0h3m2 0h2m2 0h3m2 0h2m1 0h1M49 104h1m2 0h6m8 0h1m6 0h1m3 0h2m2 0h1m2 0h5m1 0h2m2 0h1m3 0h5m2 0h2m6 0h1m1 0h1m2 0h1m1 0h1m3 0h1m4 0h1m2 0h2m2 0h1m1 0h1M51 105h3m5 0h1m3 0h3m3 0h3m1 0h1m2 0h2m3 0h1m1 0h1m3 0h1m3 0h1m2 0h2m2 0h1m1 0h1m2 0h1m1 0h3m4 0h1m2 0h1m2 0h1m2 0h1m1 0h1m1 0h2m4 0h1m15 0h1M37 106h2m2 0h1m5 0h1m3 0h1m1 0h2m5 0h1m2 0h1m2 0h3m2 0h1m2 0h1m2 0h1m1 0h1m3 0h1m1 0h1m2 0h3m1 0h2m2 0h2m1 0h1m1 0h1m2 0h2m1 0h1m2 0h2m1 0h3m2 0h2m7 0h1m7 0h2M30 107h1m16 0h6m5 0h1m1 0h2m3 0h2m2 0h2m1 0h1m3 0h1m4 0h1m5 0h1m5 0h1m1 0h1m3 0h1m1 0h1m3 0h1m1 0h1m1 0h1m4 0h1m4 0h1m1 0h1m2 0h3m6 0h1m8 0h1m5 0h1M28 108h1m5 0h1m6 0h1m4 0h2m1 0h1m2 0h1m3 0h1m2 0h1m3 0h1m1 0h1m2 0h2m2 0h1m2 0h1m1 0h2m2 0h1m1 0h2m5 0h2m1 0h3m2 0h2m3 0h1m1 0h1m2 0h2m2 0h1m2 0h1m1 0h1m4 0h2m1 0h3m8 0h2M39 109h2m2 0h1m3 0h1m5 0h1m4 0h3m1 0h1m3 0h2m1 0h1m1 0h1m1 0h2m5 0h1m2 0h1m1 0h3m6 0h1m2 0h1m4 0h1m4 0h1m2 0h1m1 0h1m2 0h2m2 0h1m4 0h3m10 0h1m2 0h1M22 110h1m13 0h1m4 0h1m3 0h2m5 0h1m4 0h3m1 0h1m5 0h1m2 0h2m4 0h1m12 0h1m9 0h5m1 0h2m1 0h1m2 0h1m1 0h1m2 0h2m1 0h3m4 0h3m3 0h1m1 0h2m6 0h1M40 111h1m1 0h1m2 0h4m1 0h1m3 0h1m3 0h3m3 0h2m2 0h1m1 0h2m2 0h1m4 0h2m3 0h2m4 0h5m5 0h1m3 0h2m3 0h1m1 0h2m2 0h1m1 0h1m4 0h1m3 0h1m2 0h1m3 0h1M17 112h1m12 0h1m1 0h1m2 0h1m9 0h2m1 0h1m2 0h2m1 0h2m1 0h1m3 0h2m2 0h1m1 0h1m4 0h1m5 0h2m2 0h1m4 0h1m1 0h1m2 0h3m2 0h1m2 0h1m11 0h3m2 0h1m1 0h1m2 0h1m8 0h1m2 0h2m2 0h1m1 0h1M2 113h1m14 0h1m17 0h1m10 0h1m3 0h1m1 0h1m1 0h1m2 0h1m1 0h1m1 0h1m1 0h1m3 0h1m13 0h1m5 0h1m4 0h1m1 0h1m2 0h1m5 0h1m2 0h1m2 0h1m1 0h7m1 0h1m1 0h1m3 0h2m3 0h2M26 114h2m14 0h1m6 0h1m3 0h1m9 0h1m2 0h1m3 0h1m1 0h2m1 0h1m5 0h2m2 0h1m6 0h2m3 0h1m3 0h2m2 0h2m1 0h2m1 0h2m6 0h4m2 0h1m7 0h1m10 0h1M26 115h1m2 0h1m1 0h1m10 0h1m1 0h1m1 0h2m1 0h1m3 0h1m3 0h2m1 0h1m4 0h1m4 0h2m7 0h1m4 0h1m1 0h1m9 0h2m7 0h1m2 0h1m4 0h2m1 0h1m3 0h1m1 0h1m4 0h1m1 0h2m4 0h1m5 0h1m3 0h1M26 116h1m3 0h1m3 0h1m3 0h1m1 0h1m2 0h2m2 0h2m2 0h1m12 0h1m2 0h1m1 0h1m1 0h1m1 0h2m5 0h2m5 0h2m2 0h1m4 0h1m2 0h1m1 0h3m5 0h2m1 0h2m1 0h2m1 0h1m1 0h1m1 0h1m1 0h1m3 0h1M13 117h1m11 0h1m5 0h1m1 0h1m5 0h1m7 0h1m3 0h1m3 0h1m3 0h1m2 0h1m2 0h1m6 0h1m6 0h1m3 0h1m3 0h1m4 0h2m2 0h1m3 0h2m1 0h2m1 0h1m1 0h1m2 0h1m1 0h2m1 0h3m4 0h1m3 0h1M35 118h1m6 0h1m22 0h1m6 0h2m2 0h1m6 0h1m12 0h1m1 0h1m2 0h2m2 0h2m2 0h1m3 0h2m1 0h4m7 0h1m3 0h1M14 119h1m14 0h1m13 0h1m2 0h1m2 0h2m2 0h1m2 0h1m7 0h1m3 0h1m1 0h1m2 0h2m10 0h1m6 0h1m1 0h1m1 0h1m3 0h2m7 0h1m4 0h1m3 0h2m2 0h3m3 0h1m3 0h1M17 120h1m1 0h1m3 0h1m5 0h1m1 0h3m3 0h1m1 0h1m1 0h2m3 0h1m2 0h1m1 0h1m25 0h1m1 0h1m4 0h1m2 0h1m1 0h1m10 0h4m1 0h1m2 0h1m1 0h1m1 0h1m1 0h1m1 0h2m4 0h1m8 0h1M18 121h1m4 0h1m4 0h1m8 0h1m1 0h1m11 0h2m13 0h1m6 0h1m2 0h1m1 0h1m1 0h1m6 0h1m4 0h1m2 0h4m12 0h1m3 0h3m5 0h2m2 0h1m11 0h1M23 122h1m2 0h1m6 0h1m1 0h2m1 0h1m2 0h1m2 0h1m3 0h1m12 0h1m1 0h2m1 0h2m2 0h2m6 0h1m1 0h1m4 0h1m1 0h4m1 0h1m1 0h3m1 0h1m1 0h1m2 0h2m1 0h1m2 0h1m2 0h1m13 0h1m4 0h2m2 0h1M18 123h1m7 0h1m4 0h1m6 0h1m3 0h1m1 0h1m9 0h1m9 0h1m4 0h2m1 0h1m5 0h2m1 0h3m3 0h4m1 0h2m3 0h1m4 0h1m1 0h2m1 0h2m1 0h2m2 0h1m1 0h1m1 0h5m4 0h1m10 0h1M24 124h1m1 0h1m3 0h1m3 0h3m16 0h1m5 0h1m6 0h1m6 0h1m1 0h1m7 0h1m4 0h2m7 0h1m1 0h1m4 0h1m2 0h1m2 0h1m1 0h3m1 0h2m1 0h1m3 0h2m1 0h1M10 125h1m6 0h1m1 0h1m1 0h1m14 0h2m1 0h1m26 0h1m6 0h1m4 0h1m2 0h1m6 0h1m1 0h1m3 0h1m1 0h1m1 0h1m1 0h1m5 0h1m3 0h1m2 0h1m2 0h2m1 0h1m2 0h1m4 0h1m11 0h1m2 0h1M18 126h2m9 0h1m2 0h1m6 0h1m18 0h1m9 0h1m1 0h1m1 0h2m2 0h1m4 0h1m3 0h1m4 0h1m1 0h1m3 0h2m4 0h2m2 0h1m3 0h2m2 0h1m2 0h2m2 0h1m2 0h1m1 0h1m7 0h1m1 0h1M13 127h1m4 0h1m3 0h1m7 0h1m19 0h1m5 0h1m3 0h1m3 0h1m2 0h1m1 0h1m5 0h1m6 0h1m4 0h2m1 0h1m2 0h1m1 0h2m6 0h2m1 0h2m2 0h3m4 0h1m1 0h3m2 0h1m1 0h2m2 0h1M8 128h1m12 0h1m5 0h2m1 0h1m1 0h1m1 0h1m1 0h1m24 0h2m1 0h1m7 0h1m2 0h3m3 0h3m3 0h1m5 0h2m2 0h1m2 0h1m1 0h3m4 0h1m1 0h1m2 0h2m1 0h1m6 0h1M15 129h1m1 0h1m5 0h1m1 0h1m2 0h2m1 0h1m1 0h2m8 0h2m13 0h1m2 0h1m5 0h7m2 0h1m1 0h3m2 0h1m1 0h1m3 0h1m2 0h1m2 0h4m1 0h1m3 0h1m5 0h1m3 0h1m1 0h2m1 0h1m2 0h1m4 0h2M10 130h1m8 0h1m6 0h1m2 0h3m28 0h1m1 0h1m2 0h1m3 0h2m1 0h1m5 0h2m13 0h1m3 0h2m4 0h1m2 0h1m3 0h1m3 0h1m1 0h2m3 0h1m8 0h1m9 0h1M17 131h1m4 0h1m1 0h2m12 0h1m12 0h1m4 0h1m6 0h2m1 0h2m5 0h1m1 0h3m1 0h1m5 0h1m2 0h2m7 0h1m3 0h1m4 0h2m3 0h1m1 0h1m3 0h2m3 0h1m3 0h1m4 0h1M7 132h1m8 0h1m1 0h1m12 0h1m28 0h1m2 0h2m5 0h1m1 0h1m2 0h1m4 0h1m4 0h1m1 0h1m1 0h1m4 0h1m1 0h1m1 0h1m3 0h1m1 0h1m1 0h3m1 0h1m4 0h4m3 0h1m10 0h1M17 133h1m4 0h4m2 0h2m32 0h1m3 0h2m7 0h1m14 0h1m4 0h1m3 0h2m3 0h1m1 0h2m1 0h1m3 0h1m2 0h2m4 0h1M16 134h1m3 0h1m2 0h3m1 0h1m1 0h3m28 0h1m3 0h1m2 0h2m4 0h1m9 0h3m3 0h1m1 0h2m3 0h1m1 0h1m2 0h2m2 0h1m1 0h1m1 0h1m1 0h2m2 0h1m6 0h1m1 0h1M18 135h1m3 0h1m2 0h4m28 0h1m1 0h1m3 0h1m1 0h2m4 0h1m13 0h1m2 0h3m2 0h1m4 0h1m3 0h1m3 0h1m3 0h1m5 0h1m2 0h2m4 0h1m5 0h1m5 0h1M14 136h1m13 0h1m30 0h1m2 0h2m2 0h1m10 0h2m8 0h1m12 0h1m4 0h1m1 0h5m10 0h1m10 0h1M31 137h1m17 0h2m6 0h3m2 0h1m2 0h2m4 0h1m4 0h3m1 0h1m3 0h3m3 0h1m4 0h1m2 0h2m4 0h1m3 0h1m2 0h1m1 0h1m2 0h2m1 0h1m3 0h1m1 0h1M16 138h1m1 0h1m6 0h1m3 0h1m19 0h2m6 0h3m6 0h1m4 0h1m1 0h1m6 0h1m6 0h2m12 0h1m4 0h1m1 0h2m7 0h1m6 0h1M10 139h2m8 0h1m1 0h2m3 0h3m27 0h1m1 0h2m4 0h1m1 0h2m6 0h1m5 0h1m3 0h1m5 0h1m3 0h1m1 0h1m2 0h1m2 0h2m2 0h1m4 0h1m4 0h2M14 140h2m4 0h1m3 0h1m1 0h1m6 0h1m17 0h1m5 0h3m12 0h1m15 0h2m4 0h1m1 0h4m2 0h2m1 0h1m10 0h1m3 0h1m2 0h1m3 0h1M17 141h1m1 0h1m5 0h3m26 0h1m3 0h1m1 0h1m6 0h1m12 0h1m6 0h1m6 0h1m4 0h1m2 0h1m2 0h1m5 0h2m4 0h1m1 0h1m4 0h1M12 142h1m7 0h3m6 0h2m2 0h1m14 0h3m6 0h1m4 0h1m3 0h1m1 0h1m4 0h1m5 0h1m14 0h2m11 0h1m7 0h2m2 0h1m1 0h1M11 143h2m3 0h1m4 0h1m2 0h1m2 0h1m1 0h1m15 0h1m5 0h1m4 0h3m23 0h1m4 0h1m7 0h3m2 0h1m1 0h1m1 0h1m1 0h1m12 0h1M9 144h1m3 0h2m11 0h1m4 0h1m14 0h1m5 0h1m1 0h1m2 0h1m14 0h1m1 0h1m2 0h1m7 0h1m2 0h1m4 0h3m1 0h2m1 0h1m17 0h2M14 145h1m1 0h1m1 0h1m4 0h1m3 0h1m3 0h1m3 0h2m1 0h1m5 0h1m1 0h1m3 0h3m2 0h2m1 0h1m2 0h2m10 0h1m3 0h1m16 0h1m12 0h1m13 0h1m1 0h1M17 146h1m3 0h1m7 0h1m2 0h1m8 0h1m2 0h3m3 0h3m7 0h2m4 0h1m9 0h1m7 0h1m1 0h1m10 0h1m5 0h1m3 0h1M16 147h2m1 0h1m3 0h1m2 0h1m1 0h2m3 0h1m2 0h1m8 0h1m5 0h1m1 0h1m31 0h1m2 0h2m3 0h1m8 0h1m1 0h1m5 0h1m4 0h1M13 148h2m2 0h1m1 0h1m3 0h3m2 0h1m1 0h1m6 0h1m3 0h1m4 0h1m6 0h2m5 0h1m19 0h1m4 0h1m3 0h1m13 0h1m1 0h1m9 0h1m7 0h1M10 149h2m3 0h1m3 0h1m1 0h2m1 0h1m1 0h4m1 0h2m4 0h1m2 0h6m3 0h1m3 0h1m2 0h2m1 0h1m59 0h1M12 150h1m5 0h3m3 0h2m2 0h2m1 0h1m1 0h1m2 0h1m1 0h1m9 0h1m6 0h1m6 0h1m6 0h1m13 0h1m3 0h1m3 0h1m11 0h2m9 0h1M7 151h2m4 0h2m2 0h1m3 0h1m6 0h1m1 0h1m1 0h2m5 0h3m9 0h1m3 0h1m1 0h2m8 0h1m3 0h1m12 0h1m8 0h1m1 0h1m1 0h1m3 0h1m8 0h1M4 152h1m1 0h1m1 0h1m1 0h1m4 0h2m2 0h1m5 0h2m7 0h1m1 0h2m8 0h1m1 0h2m6 0h1m2 0h2m7 0h1m3 0h1m4 0h1m2 0h1m3 0h1m9 0h1m10 0h1m6 0h1m2 0h1M14 153h1m2 0h1m6 0h1m2 0h2m2 0h1m1 0h2m1 0h1m1 0h1m1 0h1m1 0h1m4 0h1m2 0h2m3 0h1m19 0h1m1 0h1m9 0h1m19 0h1M22 154h1m2 0h2m3 0h1m2 0h1m1 0h1m5 0h1m2 0h2m6 0h1m8 0h1m22 0h1m7 0h1m11 0h1M6 155h1m5 0h1m2 0h1m3 0h1m5 0h1m1 0h2m7 0h1m1 0h1m1 0h2m2 0h2m3 0h2m4 0h1m6 0h1m3 0h1m30 0h1m15 0h1M6 156h1m13 0h1m2 0h1m7 0h1m4 0h3m3 0h3m2 0h1m1 0h1m29 0h1m14 0h1m11 0h1M5 157h1m5 0h1m2 0h2m1 0h2m1 0h1m3 0h1m1 0h1m2 0h2m2 0h1m2 0h1m2 0h1m1 0h1m6 0h1m11 0h2m3 0h1m43 0h1m2 0h1m7 0h1m6 0h1M8 158h1m1 0h2m2 0h1m1 0h1m5 0h2m1 0h1m2 0h2m1 0h2m6 0h1m4 0h1m3 0h1m19 0h1m29 0h1M14 159h1m7 0h1m9 0h1m3 0h1m2 0h1m1 0h2m9 0h1m2 0h1m3 0h1m16 0h1m26 0h1m6 0h1m6 0h1M16 160h1m1 0h1m1 0h1m1 0h1m2 0h1m1 0h1m2 0h2m1 0h1m10 0h1m58 0h1m3 0h1m3 0h1M11 161h2m4 0h1m1 0h2m6 0h1m1 0h3m30 0h1m38 0h1M16 162h1m5 0h1m5 0h3m1 0h1m2 0h1m7 0h1m10 0h1M8 163h1m4 0h2m9 0h1m1 0h1m11 0h1m2 0h1m64 0h1M0 164h1m16 0h1m4 0h1m5 0h1m2 0h1m42 0h1m8 0h1m10 0h1m16 0h1" stroke-opacity=".42"/><path d="M126 9h1M123 11h1M127 16h1M125 18h1M109 19h1m18 0h1m17 0h1M133 21h1M129 22h1M123 23h1m1 0h1M113 24h1m9 0h1m4 0h1m3 0h1m6 0h1M118 25h1m2 0h1m6 0h1M124 26h2m7 0h1m5 0h1M124 27h2m34 0h1M111 28h1m11 0h1m2 0h1M120 29h1m3 0h1m1 0h1M112 30h1m3 0h1m2 0h1m4 0h2m4 0h2m14 0h1M106 31h1m13 0h3m3 0h2m1 0h2M111 32h1m4 0h1m1 0h1m1 0h1m2 0h2m1 0h3m4 0h2m2 0h1M109 33h4m3 0h2m3 0h1m1 0h2m7 0h2m2 0h1M116 34h1m4 0h1m2 0h2m1 0h1m1 0h1m1 0h1m5 0h1m3 0h1m6 0h1M123 35h4m2 0h2m2 0h1M106 36h2m4 0h1m1 0h1m3 0h1m9 0h2m5 0h1M102 37h1m4 0h2m11 0h1m2 0h1m8 0h1m6 0h1M100 38h1m4 0h1m1 0h1m1 0h2m10 0h1m1 0h1m2 0h1m4 0h1m11 0h1M113 39h1m8 0h1m5 0h1m3 0h1m8 0h1M98 40h1m10 0h1m2 0h4m3 0h2m5 0h1m3 0h1m1 0h1m1 0h1M96 41h1m4 0h1m5 0h1m12 0h1m3 0h1m3 0h2m3 0h1m7 0h1M88 42h1m31 0h1m5 0h1m7 0h1m1 0h3m4 0h2m2 0h1M110 43h1m4 0h1m16 0h1m4 0h2m3 0h1M104 44h1m3 0h1m2 0h2m9 0h1m5 0h1m4 0h1m1 0h2m3 0h1M108 45h1m7 0h1m17 0h1m2 0h2M88 46h1m11 0h1m24 0h1m1 0h1m3 0h1m1 0h1m7 0h1m8 0h1M99 47h1m1 0h2m2 0h2m6 0h1m25 0h2m2 0h1m1 0h1M102 48h2m3 0h1m2 0h1m6 0h1m15 0h1m3 0h1M104 49h1m10 0h2m15 0h1m6 0h1m2 0h1M104 50h2m26 0h1m1 0h1m2 0h2M97 51h1m3 0h2m5 0h1m1 0h1m12 0h1m6 0h1m3 0h1m1 0h1m1 0h2M99 52h1m5 0h1m2 0h1m1 0h1m2 0h1m21 0h1M99 53h1m3 0h1m17 0h1m4 0h1m3 0h1m2 0h1m3 0h1m9 0h2M99 54h2m6 0h1m20 0h1m8 0h1m6 0h1M102 55h1m3 0h1m3 0h1m18 0h1m1 0h1m3 0h1M99 56h1m1 0h1m4 0h2m23 0h1m3 0h3M96 57h1m1 0h2m3 0h1m33 0h1M107 58h1m25 0h1m1 0h2m3 0h1m1 0h1M100 59h1m1 0h1m3 0h1m4 0h1m9 0h1m9 0h3m4 0h1m1 0h1M100 60h1m1 0h1m8 0h1m16 0h1m3 0h1m3 0h1m2 0h1M89 61h1m7 0h1m1 0h1m1 0h1m2 0h1m3 0h1m21 0h1M88 62h1m5 0h1m3 0h3m5 0h1m1 0h1m21 0h1m2 0h1m5 0h1M86 63h1m3 0h1m4 0h1m33 0h2m3 0h1m2 0h1m1 0h2m1 0h1m2 0h1M91 64h1m22 0h1m17 0h1m14 0h1M87 65h1m2 0h1m10 0h1m4 0h2m18 0h2m11 0h2m3 0h1M91 66h1m4 0h1m3 0h1m25 0h1m3 0h1m3 0h1m9 0h1M95 67h2m2 0h1m30 0h1m5 0h1M97 68h1m2 0h2m1 0h1m2 0h1m27 0h2m7 0h1M90 69h1m8 0h1m6 0h1m2 0h1m11 0h1m4 0h1m3 0h1m2 0h1m1 0h1m1 0h1m6 0h1M90 70h2m4 0h1m7 0h1m16 0h1m7 0h1m20 0h1M94 71h1m1 0h1m1 0h1m2 0h1m2 0h1m22 0h1m7 0h3m1 0h1m3 0h1M87 72h1m10 0h2m1 0h1m2 0h2m2 0h1m3 0h2m6 0h1m3 0h1m14 0h1M44 73h1m51 0h1m2 0h1m1 0h3m30 0h1m4 0h2M95 74h1m3 0h1m1 0h1m1 0h1m2 0h1m2 0h1m20 0h2M91 75h1m1 0h4m2 0h1m2 0h1m2 0h2m4 0h1m14 0h1m8 0h5m6 0h1M87 76h1m8 0h1m1 0h1m1 0h1m1 0h1m1 0h1m1 0h1m2 0h1m10 0h1m3 0h1m2 0h1m2 0h1m1 0h1M91 77h1m5 0h1m1 0h1m2 0h1m11 0h1m10 0h1m1 0h1m1 0h2m1 0h1m2 0h1m9 0h1M84 78h1m8 0h1m9 0h1m3 0h1m1 0h1m4 0h1m8 0h1m3 0h1m1 0h1m13 0h1M94 79h1m13 0h1m4 0h1m7 0h2m7 0h2m5 0h1m4 0h1M78 80h1m15 0h1m4 0h1m5 0h1m2 0h1m17 0h1m1 0h1M86 81h1m13 0h3m1 0h3m2 0h1m3 0h2m7 0h2m3 0h2m1 0h1m4 0h1M107 82h1m1 0h1m7 0h1m4 0h2m1 0h1M92 83h1m4 0h1m2 0h2m4 0h1m1 0h1m7 0h1m7 0h2m1 0h1m4 0h1m5 0h1M86 84h1m9 0h1m13 0h2m7 0h1m4 0h1m3 0h1m1 0h1m1 0h1m2 0h1M101 85h1m5 0h3m2 0h1m10 0h1m3 0h1m11 0h1m4 0h1M71 86h1m20 0h1m7 0h1m1 0h2m4 0h3m5 0h1m2 0h1m12 0h1m1 0h1M82 87h1m8 0h1m15 0h1m3 0h1m1 0h1m1 0h3m6 0h1m1 0h1M82 88h1m5 0h1m6 0h1m1 0h1m2 0h1m2 0h2m1 0h1m3 0h1m2 0h1m3 0h1m1 0h1m2 0h1m1 0h1m4 0h1m2 0h2M66 89h1m3 0h1m18 0h1m3 0h2m4 0h1m4 0h1m1 0h1m1 0h2m7 0h1m1 0h1m2 0h1M90 90h1m5 0h1m5 0h1m1 0h1m1 0h2m2 0h1m3 0h1m1 0h1m1 0h2m2 0h1m1 0h1m1 0h2m12 0h1M91 91h1m4 0h1m3 0h1m6 0h2m3 0h2m4 0h1m9 0h1m7 0h1m11 0h1M79 92h1m10 0h1m8 0h1m7 0h4m5 0h1m7 0h1m3 0h1m1 0h1M65 93h1m36 0h2m15 0h1M66 94h1m21 0h1m10 0h1m3 0h4m2 0h1m3 0h1m5 0h3M80 95h1m9 0h1m1 0h1m9 0h1m2 0h2m2 0h2m2 0h1M62 96h1m29 0h1m2 0h4m3 0h1m5 0h2m2 0h5m1 0h6m1 0h1m2 0h2M46 97h1m13 0h1m32 0h1m6 0h1m6 0h1m3 0h2m3 0h1m4 0h2m26 0h1M66 98h1m4 0h1m14 0h1m8 0h3m3 0h1m1 0h1m9 0h2M57 99h1m1 0h1m29 0h1m1 0h1m16 0h1m1 0h2m1 0h2m4 0h4m8 0h1M66 100h1m13 0h1m5 0h1m14 0h1m10 0h1m10 0h1M37 101h1m27 0h1m9 0h1m17 0h1m8 0h1m2 0h1m2 0h1m3 0h1m8 0h1m3 0h1M71 102h1m9 0h1m4 0h1m11 0h1m6 0h1m11 0h1m1 0h2M46 103h1m23 0h1m2 0h1m11 0h1m15 0h1m1 0h1m4 0h2m10 0h1m3 0h1M51 104h1m20 0h1m10 0h1m20 0h1m4 0h1m1 0h1m5 0h1m10 0h1M48 105h1m6 0h1m2 0h1m2 0h1m39 0h1m2 0h1m14 0h1m8 0h1M52 106h1m4 0h1m1 0h1m9 0h2m2 0h1m8 0h1m11 0h2m4 0h1m1 0h1m5 0h2m12 0h1m2 0h1M44 107h2m11 0h1m1 0h1m7 0h1m6 0h1m2 0h1m4 0h2m2 0h1m2 0h1m6 0h2m6 0h1m7 0h1m2 0h1m1 0h2M44 108h1m19 0h1m1 0h2m3 0h1m1 0h1m8 0h1m18 0h1m5 0h1m3 0h1m6 0h2m9 0h1m4 0h1M49 109h1m1 0h2m4 0h1m3 0h1m2 0h2m6 0h1m4 0h3m15 0h1m7 0h1m1 0h2m2 0h1m8 0h1m9 0h1M42 110h1m8 0h1m12 0h2m3 0h1m23 0h1m13 0h1m6 0h2m6 0h1m1 0h1M49 111h1m3 0h1m1 0h2m4 0h1m1 0h1m3 0h1m7 0h1m13 0h1m13 0h1m3 0h1m5 0h1m4 0h1m1 0h1m7 0h1m7 0h1M43 112h2m2 0h1m2 0h1m8 0h1m4 0h1m3 0h1m2 0h1m11 0h1m11 0h1m6 0h1m3 0h1m2 0h1m1 0h1m3 0h1m4 0h1M38 113h1m8 0h2m2 0h1m4 0h1m1 0h1m7 0h1m3 0h1m22 0h1m1 0h1m5 0h2m2 0h1m1 0h1m15 0h1m3 0h1m13 0h1M36 114h1m18 0h1m4 0h1m8 0h1m8 0h1m8 0h2m14 0h1m3 0h1m7 0h1m1 0h2m5 0h1m1 0h1M34 115h1m16 0h1m4 0h1m2 0h1m3 0h2m1 0h2m5 0h1m3 0h1m15 0h1m4 0h1m3 0h1m3 0h2m1 0h1m2 0h1m4 0h1M37 116h1m1 0h1m9 0h2m1 0h3m2 0h2m2 0h1m4 0h1m1 0h1m1 0h1m1 0h1m9 0h2m8 0h1m4 0h2m1 0h1m4 0h1m1 0h1m6 0h1m2 0h1M19 117h1m17 0h1m5 0h1m2 0h1m2 0h1m17 0h1m2 0h1m4 0h1m1 0h1m4 0h1m6 0h1m4 0h1m2 0h3m2 0h1m18 0h1M36 118h1m7 0h2m3 0h1m3 0h2m1 0h1m2 0h1m10 0h1m6 0h1m22 0h1m3 0h1m2 0h2m6 0h1m4 0h1m1 0h2M32 119h1m4 0h1m3 0h2m2 0h1m2 0h1m16 0h1m14 0h1m9 0h1m6 0h1m1 0h1m3 0h2m1 0h1m9 0h1M35 120h1m4 0h1m3 0h2m7 0h1m3 0h1m2 0h1m3 0h1m2 0h2m2 0h1m1 0h1m1 0h1m10 0h1m8 0h1m1 0h2m5 0h1m2 0h1m1 0h1m3 0h1m1 0h1m2 0h2M36 121h1m4 0h1m2 0h1m4 0h1m3 0h1m3 0h1m3 0h1m2 0h2m1 0h1m2 0h1m19 0h1m2 0h1m6 0h2m1 0h1m1 0h1m3 0h1m4 0h1m7 0h1M34 122h1m8 0h1m3 0h1m2 0h1m9 0h1m1 0h1m9 0h2m5 0h1m21 0h1m6 0h1m4 0h1M46 123h1m10 0h1m5 0h1m2 0h1m1 0h1m22 0h1m2 0h1m4 0h1m33 0h1M37 124h2m9 0h1m11 0h1m2 0h2m3 0h2m11 0h2m17 0h2m13 0h1M32 125h1m1 0h1m16 0h1m15 0h5m4 0h1m9 0h1m6 0h1m8 0h1m2 0h1m2 0h1m6 0h1m4 0h1M33 126h1m1 0h3m11 0h1m11 0h1m9 0h1m23 0h1m5 0h1m3 0h1m1 0h1m7 0h2m11 0h1M27 127h1m3 0h1m1 0h1m1 0h4m2 0h1m24 0h1m3 0h1m1 0h2m15 0h1m4 0h1m2 0h1m2 0h2m6 0h1m4 0h1m2 0h1M31 128h1m7 0h1m18 0h1m1 0h1m4 0h1m14 0h1m14 0h1m3 0h1m1 0h1m4 0h1M49 129h1m14 0h1m1 0h1m14 0h1m5 0h1m13 0h1m5 0h1M20 130h1m6 0h1m4 0h1m1 0h1m4 0h2m5 0h1m5 0h1m3 0h1m6 0h1m2 0h2m9 0h1m12 0h2m2 0h1m4 0h2m3 0h2M12 131h1m6 0h1m6 0h1m4 0h1m5 0h1m4 0h1m12 0h1m2 0h2m10 0h1m15 0h1m11 0h1m6 0h1m2 0h1m1 0h1M24 132h1m4 0h2m1 0h1m2 0h1m1 0h1m21 0h1m9 0h1m11 0h2m16 0h1m1 0h1M27 133h1m3 0h1m27 0h3m3 0h1m22 0h2m15 0h1m2 0h1m1 0h2M28 134h1m30 0h1m40 0h1m7 0h1m12 0h1M23 135h1m13 0h1m18 0h1m1 0h1m2 0h2m16 0h1m2 0h1m17 0h1m3 0h2m3 0h1m3 0h1M26 136h1m2 0h1m1 0h1m1 0h1m4 0h1m9 0h1m5 0h2m2 0h1m1 0h1m6 0h2m16 0h1m12 0h2m1 0h1M19 137h1m4 0h4m8 0h1m3 0h1m15 0h1m3 0h1m2 0h1m5 0h1m13 0h1m16 0h2m3 0h1m6 0h1M20 138h1m5 0h2m8 0h1m16 0h3m4 0h1m14 0h1m24 0h1m11 0h1m1 0h1M18 139h2m6 0h1m5 0h1m1 0h1m1 0h1m11 0h2m8 0h1M23 140h1m3 0h2m1 0h1m1 0h1m7 0h1m9 0h1m3 0h2m65 0h1M20 141h1m2 0h1m4 0h1m5 0h1m1 0h3m13 0h1m3 0h1m39 0h1m9 0h1M26 142h1m13 0h1m13 0h1m1 0h1m52 0h1m1 0h1M26 143h1m4 0h1m1 0h1m27 0h1m2 0h1M21 144h1m5 0h3m2 0h3m1 0h1m3 0h1m68 0h1M19 145h1m2 0h1m1 0h1m4 0h1m2 0h1m4 0h1m2 0h2m55 0h1m4 0h1m5 0h1M19 146h1m2 0h2m1 0h1m21 0h2m6 0h1m49 0h1M21 147h1m3 0h1m1 0h1m3 0h1m3 0h1m4 0h2m5 0h4m40 0h2M20 148h1m1 0h1m8 0h1m4 0h1m8 0h1m1 0h1m1 0h1m1 0h2m24 0h1M18 149h1m4 0h1m10 0h1m1 0h1m2 0h1m7 0h1m2 0h1m12 0h1M21 150h1m5 0h1m4 0h1m4 0h1m5 0h1m1 0h1M19 151h2m1 0h2m3 0h1m1 0h1m7 0h2m6 0h1m59 0h1M12 152h2m8 0h1m1 0h1m2 0h1m5 0h1m1 0h1m3 0h1m7 0h1M7 153h1m12 0h1m2 0h1m2 0h1m8 0h1m5 0h1M23 154h1m3 0h1m3 0h2m4 0h1m1 0h2M21 155h1m4 0h1m2 0h1m17 0h1m5 0h1M21 156h2m7 0h1m3 0h1m6 0h1M21 157h1m5 0h2M30 158h1m2 0h1m1 0h2M25 159h1m5 0h1M35 161h1m15 0h1M18 164h1" stroke-opacity=".72"/><path d="M121 26h1M122 27h1M116 28h1m13 0h1M119 29h1m3 0h1m1 0h1m3 0h1m1 0h2M117 30h1m3 0h1M115 31h1m3 0h1m3 0h1m4 0h1M112 32h1m9 0h1m2 0h1m5 0h2M120 33h1m1 0h1m3 0h1m10 0h1M109 34h1m2 0h1m13 0h1m1 0h1M117 35h1m1 0h2m6 0h1M113 36h1m6 0h2m1 0h3m1 0h1m2 0h2m6 0h2M112 37h2m2 0h2m1 0h1m1 0h1m2 0h1m1 0h5M115 38h1m1 0h4m1 0h1m1 0h2m2 0h1m1 0h1m2 0h1m1 0h1m4 0h1M106 39h1m1 0h1m6 0h7m1 0h5m1 0h2m3 0h1M104 40h1m5 0h2m4 0h2m3 0h5m5 0h1M110 41h8m1 0h1m1 0h3m1 0h3m2 0h1m1 0h1m1 0h1M107 42h1m3 0h2m1 0h6m1 0h5m1 0h4m1 0h2m5 0h1M106 43h1m4 0h1m1 0h2m1 0h7m1 0h7m2 0h2M109 44h2m3 0h8m1 0h4m2 0h2m1 0h1m1 0h1M105 45h1m5 0h1m1 0h3m1 0h3m1 0h11m1 0h1m1 0h1M102 46h1m2 0h2m1 0h1m1 0h15m1 0h1m1 0h2m2 0h1M103 47h1m3 0h2m1 0h2m2 0h2m1 0h12m2 0h2M104 48h3m2 0h1m1 0h6m1 0h12m2 0h1m1 0h1m3 0h1m2 0h1M106 49h1m1 0h7m2 0h15m1 0h1m1 0h1M103 50h1m2 0h2m1 0h23m1 0h1m6 0h1M100 51h1m2 0h5m1 0h1m1 0h12m1 0h3m1 0h1m2 0h3m1 0h1M104 52h1m2 0h1m1 0h1m2 0h1m1 0h20m2 0h2M98 53h1m5 0h17m1 0h4m1 0h3m1 0h1m2 0h2m7 0h1M97 54h1m5 0h2m1 0h1m1 0h20m1 0h6m15 0h1M104 55h2m1 0h3m1 0h18m1 0h1m1 0h1m4 0h2m1 0h1M94 56h1m5 0h1m2 0h2m3 0h23m1 0h2M102 57h1m1 0h24m1 0h5m2 0h1m6 0h1M101 58h4m1 0h1m1 0h25m1 0h1m2 0h1M103 59h3m1 0h4m1 0h9m1 0h8m4 0h2m10 0h1M91 60h1m2 0h1m9 0h7m1 0h16m2 0h2m2 0h1m5 0h1M100 61h1m1 0h2m1 0h3m1 0h21m2 0h6m4 0h1M97 62h1m6 0h2m1 0h1m1 0h21m1 0h1m6 0h1m2 0h1m2 0h1M98 63h4m2 0h25m2 0h1m1 0h1m1 0h1M98 64h2m2 0h12m1 0h17m1 0h1m3 0h1M93 65h2m7 0h4m2 0h18m2 0h5m1 0h3m4 0h2M102 66h24m1 0h3m1 0h1m1 0h1m4 0h1M102 67h1m1 0h1m1 0h4m1 0h2m1 0h15M102 68h1m1 0h2m1 0h25m8 0h1M98 69h1m4 0h3m1 0h2m1 0h11m1 0h4m1 0h1m1 0h1m2 0h1m6 0h1M98 70h1m2 0h3m1 0h16m1 0h7m1 0h2M102 71h2m1 0h2m1 0h18m2 0h3m1 0h1M102 72h1m3 0h2m1 0h3m2 0h6m1 0h3m1 0h2m1 0h2m3 0h2M104 73h3m1 0h16m2 0h5m2 0h1M94 74h1m3 0h1m3 0h1m2 0h1m1 0h2m1 0h10m2 0h3m2 0h3m2 0h1m2 0h1M100 75h2m1 0h2m2 0h1m1 0h2m1 0h11m1 0h1m3 0h1m2 0h3m6 0h1M69 76h1m31 0h1m1 0h1m1 0h1m1 0h2m1 0h10m2 0h2m1 0h2m2 0h1m3 0h1M101 77h1m2 0h2m1 0h7m1 0h5m1 0h1m1 0h2m1 0h1M102 78h1m2 0h2m1 0h1m1 0h4m1 0h8m1 0h1m1 0h1m3 0h1M100 79h1m2 0h3m1 0h1m1 0h4m2 0h1m2 0h1m4 0h1m2 0h1m8 0h1M95 80h1m2 0h1m3 0h3m4 0h1m1 0h2m1 0h7m3 0h2m7 0h1M75 81h1m22 0h1m8 0h2m3 0h1m2 0h5m1 0h1m2 0h3M96 82h1m3 0h1m3 0h3m4 0h3m1 0h2m2 0h1m1 0h1m2 0h1m5 0h1M102 83h1m1 0h1m2 0h1m1 0h7m1 0h7M83 84h1m18 0h1m3 0h3m5 0h3m1 0h1m1 0h2m3 0h1M100 85h1m3 0h1m1 0h1m3 0h2m2 0h1m1 0h1m1 0h1m2 0h2m1 0h1m1 0h1m1 0h1m2 0h1M62 86h1m32 0h1m8 0h1m1 0h2m3 0h1m1 0h1m3 0h1m4 0h1M93 87h1m7 0h1m1 0h1m1 0h1m2 0h2m2 0h1m1 0h1m3 0h2m10 0h1M91 88h3m15 0h1m5 0h2m1 0h1M78 89h1m32 0h1m6 0h1m2 0h1m2 0h1M93 90h1m14 0h2m1 0h1m1 0h1M114 91h1m5 0h1m3 0h1m4 0h1M85 92h1m12 0h1m4 0h1m8 0h1m4 0h1m1 0h1m11 0h1M99 93h1m10 0h2m1 0h1m1 0h1m1 0h1m8 0h1M96 94h1m11 0h1m3 0h1M119 95h1M99 96h1m10 0h1m19 0h1M98 97h2m24 0h1M74 98h1M105 99h1m6 0h1m10 0h1M98 100h1m3 0h1m4 0h1m5 0h1m1 0h1m5 0h1M63 101h1m45 0h1m1 0h1M99 102h1m4 0h1m4 0h1m4 0h1m3 0h1M60 103h1M69 104h1m37 0h2m1 0h1m1 0h1M72 105h1m44 0h1M48 106h1m9 0h1m5 0h1m38 0h1M55 107h1m6 0h1m40 0h1m7 0h1M48 108h1m1 0h1m2 0h1m3 0h1m4 0h1m7 0h1M50 109h1m19 0h1m33 0h1m3 0h1m5 0h1m2 0h1m11 0h1M54 110h1m1 0h1m5 0h2m16 0h1m16 0h1m6 0h1M62 111h1m3 0h1m5 0h1m3 0h1m19 0h1m1 0h2m1 0h1m6 0h1M53 112h1m2 0h1m1 0h1m4 0h1m2 0h1m2 0h1m3 0h2m28 0h1m4 0h1M40 113h1m21 0h1m2 0h1m11 0h1m21 0h1M44 114h2m1 0h1m2 0h1m1 0h1m1 0h1m1 0h3m2 0h2m1 0h2m50 0h1m6 0h1M45 115h1m2 0h1m1 0h1m1 0h1m1 0h2m5 0h1m7 0h1m31 0h1m2 0h1m5 0h2m11 0h1M42 116h1m3 0h1m8 0h2m2 0h2m1 0h2m1 0h1m40 0h1m4 0h1m7 0h1m3 0h1M41 117h1m2 0h2m2 0h1m1 0h1m1 0h1m1 0h1m1 0h1m3 0h2m1 0h2m1 0h1m1 0h2M37 118h1m1 0h1m6 0h3m1 0h3m2 0h1m1 0h2m1 0h3m4 0h3m20 0h1m4 0h1m15 0h1m9 0h1M40 119h1m3 0h1m2 0h1m3 0h2m1 0h2m1 0h7m2 0h2m21 0h1m20 0h1M38 120h1m4 0h1m3 0h2m1 0h1m1 0h1m1 0h3m1 0h2m1 0h3m1 0h2m23 0h1M38 121h1m1 0h1m2 0h1m2 0h3m1 0h1m3 0h3m1 0h3m1 0h2m8 0h1m26 0h1m8 0h1m1 0h1m2 0h1M37 122h1m1 0h2m1 0h1m3 0h1m2 0h1m1 0h9m5 0h1m2 0h1m30 0h1m28 0h1M32 123h1m3 0h1m2 0h3m1 0h1m1 0h1m1 0h7m1 0h2m2 0h4m2 0h1m1 0h1m8 0h1m18 0h1m19 0h1M33 124h1m5 0h9m1 0h4m1 0h5m2 0h2m23 0h1M35 125h1m2 0h1m1 0h11m1 0h9m1 0h4m6 0h1m19 0h1M30 126h1m7 0h1m1 0h9m1 0h8m1 0h2m1 0h2m1 0h1m43 0h1M34 127h1m4 0h2m1 0h8m1 0h5m1 0h3m1 0h3m4 0h1M35 128h1m1 0h2m1 0h18m1 0h1m7 0h1m39 0h1m8 0h1M35 129h1m1 0h6m2 0h4m1 0h8m2 0h1m1 0h2m1 0h1m45 0h1M33 130h1m1 0h1m1 0h2m2 0h5m1 0h5m1 0h3m1 0h3m1 0h1M29 131h2m1 0h5m2 0h3m1 0h8m1 0h3m5 0h3m28 0h1m8 0h1M26 132h1m1 0h1m4 0h2m1 0h1m1 0h21m2 0h2m37 0h1M30 133h1m1 0h27M32 134h23m1 0h3m2 0h1M30 135h7m1 0h18m4 0h1M25 136h1m1 0h1m2 0h1m1 0h1m1 0h4m1 0h9m1 0h5m3 0h1m3 0h1m32 0h1m17 0h1M28 137h3m1 0h4m1 0h3m1 0h8m2 0h5m5 0h1M24 138h1m3 0h1m1 0h6m1 0h1m1 0h10m2 0h2m3 0h1m34 0h1M21 139h1m3 0h1m4 0h2m1 0h1m1 0h1m1 0h11m2 0h6m38 0h1M25 140h1m3 0h1m1 0h1m2 0h6m1 0h9m2 0h1m8 0h1M21 141h1m7 0h5m1 0h1m3 0h13m3 0h1m1 0h1M23 142h1m1 0h1m1 0h1m3 0h2m1 0h6m1 0h6m4 0h1m1 0h1m50 0h1M25 143h1m2 0h1m1 0h1m1 0h1m1 0h11m1 0h5m1 0h1m1 0h1m30 0h1M20 144h1m1 0h1m7 0h1m4 0h1m1 0h3m2 0h3m2 0h1m3 0h1m1 0h1M26 145h1m1 0h1m4 0h2m4 0h1m2 0h2m1 0h1m1 0h2m5 0h1M27 146h2m1 0h1m2 0h2m1 0h5m1 0h2M24 147h1m5 0h1m3 0h1m2 0h2m3 0h1m1 0h1M21 148h1m5 0h1m4 0h4m3 0h1m2 0h1m5 0h1m1 0h1M25 149h1m4 0h1m2 0h1m1 0h1m2 0h1m7 0h1m1 0h1m2 0h1M22 150h1m11 0h2m3 0h2m1 0h1m3 0h1M31 151h1m2 0h2m6 0h2M20 152h1m9 0h1m1 0h1m9 0h1M29 153h1m2 0h1M19 154h1m1 0h1m2 0h1m3 0h1m9 0h1M30 155h1m1 0h1m1 0h2M27 156h1M26 159h1m2 0h1"/></g>
<rect x="1814.8" y="1766.2" width="332.4" height="331.4" fill="none" stroke="#707070" stroke-width="2"/>
<line x1="1986" y1="1766.2" x2="1986" y2="2097.6" stroke="#555" stroke-width="1.8"/>
<line x1="1814.8" y1="1954.3" x2="2147.2" y2="1954.3" stroke="#555" stroke-width="1.8"/>
<path d="M1814.8 2097.6v8M1814.8 2097.6h-8M1839.8 2097.6v4.5M1814.8 2072.7h-4.5M1854.4 2097.6v4.5M1814.8 2058.1h-4.5M1864.8 2097.6v4.5M1814.8 2047.7h-4.5M1872.9 2097.6v4.5M1814.8 2039.7h-4.5M1879.5 2097.6v4.5M1814.8 2033.1h-4.5M1885.0 2097.6v4.5M1814.8 2027.6h-4.5M1889.8 2097.6v4.5M1814.8 2022.8h-4.5M1894.1 2097.6v4.5M1814.8 2018.5h-4.5M1897.9 2097.6v8M1814.8 2014.8h-8M1922.9 2097.6v4.5M1814.8 1989.8h-4.5M1937.5 2097.6v4.5M1814.8 1975.2h-4.5M1947.9 2097.6v4.5M1814.8 1964.9h-4.5M1956.0 2097.6v4.5M1814.8 1956.8h-4.5M1962.6 2097.6v4.5M1814.8 1950.3h-4.5M1968.1 2097.6v4.5M1814.8 1944.7h-4.5M1972.9 2097.6v4.5M1814.8 1939.9h-4.5M1977.2 2097.6v4.5M1814.8 1935.7h-4.5M1981.0 2097.6v8M1814.8 1931.9h-8M2006.0 2097.6v4.5M1814.8 1907.0h-4.5M2020.6 2097.6v4.5M1814.8 1892.4h-4.5M2031.0 2097.6v4.5M1814.8 1882.0h-4.5M2039.1 2097.6v4.5M1814.8 1874.0h-4.5M2045.7 2097.6v4.5M1814.8 1867.4h-4.5M2051.2 2097.6v4.5M1814.8 1861.9h-4.5M2056.0 2097.6v4.5M1814.8 1857.1h-4.5M2060.3 2097.6v4.5M1814.8 1852.8h-4.5M2064.1 2097.6v8M1814.8 1849.0h-8M2089.1 2097.6v4.5M1814.8 1824.1h-4.5M2103.7 2097.6v4.5M1814.8 1809.5h-4.5M2114.1 2097.6v4.5M1814.8 1799.2h-4.5M2122.2 2097.6v4.5M1814.8 1791.1h-4.5M2128.8 2097.6v4.5M1814.8 1784.6h-4.5M2134.3 2097.6v4.5M1814.8 1779.0h-4.5M2139.1 2097.6v4.5M1814.8 1774.2h-4.5M2143.4 2097.6v4.5M1814.8 1770.0h-4.5M2147.2 2097.6v8M1814.8 1766.2h-8" stroke="#555" stroke-width="1.6" fill="none"/>
<text x="1816.8" y="2127.6" font-size="15" font-weight="bold" fill="#222" text-anchor="middle">10<tspan font-size="9" dy="-6">0</tspan></text>
<text x="1798.8" y="2098.6" font-size="15" font-weight="bold" fill="#222" text-anchor="middle" transform="rotate(-90 1798.8 2098.6)">10<tspan font-size="9" dy="-6">0</tspan></text>
<text x="1899.9" y="2127.6" font-size="15" font-weight="bold" fill="#222" text-anchor="middle">10<tspan font-size="9" dy="-6">1</tspan></text>
<text x="1798.8" y="2015.8" font-size="15" font-weight="bold" fill="#222" text-anchor="middle" transform="rotate(-90 1798.8 2015.8)">10<tspan font-size="9" dy="-6">1</tspan></text>
<text x="1983" y="2127.6" font-size="15" font-weight="bold" fill="#222" text-anchor="middle">10<tspan font-size="9" dy="-6">2</tspan></text>
<text x="1798.8" y="1932.9" font-size="15" font-weight="bold" fill="#222" text-anchor="middle" transform="rotate(-90 1798.8 1932.9)">10<tspan font-size="9" dy="-6">2</tspan></text>
<text x="2066.1" y="2127.6" font-size="15" font-weight="bold" fill="#222" text-anchor="middle">10<tspan font-size="9" dy="-6">3</tspan></text>
<text x="1798.8" y="1850" font-size="15" font-weight="bold" fill="#222" text-anchor="middle" transform="rotate(-90 1798.8 1850)">10<tspan font-size="9" dy="-6">3</tspan></text>
<text x="2149.2" y="2127.6" font-size="15" font-weight="bold" fill="#222" text-anchor="middle">10<tspan font-size="9" dy="-6">4</tspan></text>
<text x="1798.8" y="1767.2" font-size="15" font-weight="bold" fill="#222" text-anchor="middle" transform="rotate(-90 1798.8 1767.2)">10<tspan font-size="9" dy="-6">4</tspan></text>
<g font-size="15.5" font-weight="bold" fill="#1a1a1a" letter-spacing="1.3"><text x="1819.8" y="1787.2">Q1</text><text x="1819.8" y="1807.2">0.65%</text><text x="2083.2" y="1787.2">Q2</text><text x="2083.2" y="1807.2">57.23%</text><text x="1819.8" y="2069.6">Q4</text><text x="1819.8" y="2090.6">34.05%</text><text x="2083.2" y="2069.6">Q3</text><text x="2083.2" y="2090.6">8.72%</text></g>
<text x="2000.5" y="1731.6" font-size="26" text-anchor="middle">FGLMC</text>
<g transform="translate(210.2 2279.90) scale(2.0)" fill="none" stroke="#f00" stroke-width="1"><path d="M157 5h1M126 11h1M132 19h1M114 20h1m22 0h1m4 0h1M111 24h1M136 25h1M130 26h1M124 27h1m8 0h1m7 0h1M135 28h1M108 30h1m10 0h1m6 0h1M132 31h1m8 0h1m1 0h1M116 32h1m2 0h2m8 0h1m2 0h2m2 0h1m11 0h1M121 33h1m5 0h1m8 0h1M128 34h1M94 35h1m33 0h1m11 0h1m1 0h1m1 0h1M128 36h1m26 0h1M120 37h1M116 38h1m8 0h1m4 0h1M109 39h1m5 0h2m12 0h2m12 0h1m9 0h1M118 40h1m13 0h1m3 0h1m8 0h1M111 41h2m8 0h2m26 0h1m1 0h1M121 42h1m13 0h1m13 0h2m6 0h1M94 43h1m7 0h1m12 0h1m2 0h1m13 0h1m15 0h2M117 44h1m11 0h1m7 0h1m4 0h1m13 0h1M106 45h1m13 0h1m2 0h1m4 0h1m1 0h1m9 0h2m9 0h1m1 0h1M90 46h1m21 0h1m7 0h1m19 0h1M123 47h1m1 0h1m14 0h1m1 0h1m12 0h1M117 48h1m8 0h1m1 0h1m16 0h1m11 0h1M90 49h1m19 0h1m1 0h2m14 0h1m5 0h1M105 50h1m10 0h1m2 0h1m4 0h1m4 0h1m8 0h1M101 51h1m3 0h1m20 0h1m2 0h2m6 0h1m2 0h2m9 0h1m9 0h1M83 52h1m18 0h1m7 0h1m10 0h2m1 0h1m1 0h1m4 0h1m5 0h1m2 0h1m3 0h1m10 0h1M112 53h1m1 0h1m1 0h1m1 0h1m2 0h2m6 0h1m3 0h1M91 54h1m11 0h1m17 0h1m9 0h1M100 55h1m14 0h1m20 0h1M122 56h1m2 0h1m1 0h1m4 0h2m9 0h1m5 0h1M133 57h1m12 0h1m6 0h1M104 58h2m4 0h1m9 0h1m18 0h1m2 0h1m6 0h1m1 0h1M95 59h1m10 0h1m1 0h1m3 0h2m8 0h1m19 0h1m9 0h1M101 60h1m3 0h1m2 0h1m7 0h1m10 0h2m3 0h1m12 0h1M115 61h1m5 0h1m2 0h1m9 0h1m7 0h1M102 62h1m12 0h1m4 0h1m2 0h2m1 0h1m6 0h1m1 0h1m22 0h1m1 0h1M110 63h1m7 0h1m4 0h1m1 0h1m5 0h1m3 0h1m3 0h1M100 64h2m1 0h1m4 0h1m9 0h1m17 0h1m2 0h1m11 0h1M101 65h1m1 0h1m1 0h1m16 0h2m6 0h1m1 0h1m1 0h1m2 0h1M110 66h1m5 0h2m13 0h3M85 67h1m9 0h1m3 0h1m7 0h1m3 0h1m2 0h2m12 0h1m10 0h1m12 0h1M118 68h1m10 0h1m1 0h1m1 0h2M100 69h1m6 0h1m1 0h1m15 0h1m4 0h1m8 0h1m13 0h1M77 70h1m26 0h1m8 0h1m4 0h1m5 0h1m3 0h1m6 0h1m20 0h1m3 0h1M103 71h1m23 0h1m2 0h1m2 0h1m26 0h1M103 72h1m8 0h1m17 0h1m5 0h1m1 0h1M96 73h1m20 0h1m1 0h1m2 0h1m6 0h1m6 0h1M107 74h1m3 0h1m1 0h1m2 0h2m7 0h1M56 75h1m48 0h1m21 0h1m11 0h1M97 76h1m11 0h1m11 0h1m1 0h1m10 0h1m21 0h1M101 77h1m8 0h2m15 0h2m21 0h1M96 78h1m21 0h1m8 0h1m2 0h1M100 79h1m1 0h1m4 0h1m2 0h1m9 0h1m2 0h1m8 0h1m13 0h1M89 80h1m52 0h1M105 81h1M108 82h1m11 0h1m4 0h1m1 0h1m2 0h1m1 0h1M110 83h1m11 0h2M104 84h1m5 0h1m18 0h1M84 85h1m49 0h1M110 86h1M68 88h1m27 0h1M78 89h1m37 0h1M60 90h1m45 0h1m31 0h1M75 91h1m24 0h1M66 92h1m34 0h1M81 93h1m31 0h1m16 0h1M81 94h1m1 0h1M76 95h1m1 0h1m6 0h1m40 0h1M47 96h1m18 0h1m19 0h1m19 0h1m19 0h1M49 97h1M55 98h1m12 0h2m2 0h1m35 0h1M38 99h1m12 0h1m7 0h1m1 0h1m2 0h1m3 0h1m2 0h1m3 0h2m5 0h1m5 0h1m29 0h1m30 0h1M51 100h1m6 0h2m15 0h1m3 0h1m55 0h2M55 101h1m6 0h1m14 0h2m1 0h1m6 0h1m4 0h1m18 0h1m3 0h1m10 0h1m8 0h1M59 102h1m2 0h1m14 0h1m1 0h1M39 103h1m2 0h1m9 0h1m6 0h1m1 0h2m1 0h1m1 0h1m1 0h1m4 0h1m2 0h1m10 0h1m1 0h1m4 0h1m14 0h1M47 104h1m3 0h1m4 0h1m2 0h1m1 0h1m3 0h1m4 0h3m3 0h1m1 0h1m3 0h1m2 0h1M19 105h1m32 0h1m1 0h1m1 0h2m4 0h1m4 0h1m5 0h1m2 0h1m2 0h1m3 0h1m4 0h1m24 0h1m41 0h1M41 106h1m6 0h1m1 0h1m11 0h1m3 0h2m2 0h3m1 0h1m2 0h2m3 0h1m26 0h1m4 0h1m16 0h1M31 107h1m18 0h1m3 0h3m2 0h1m1 0h2m3 0h1m2 0h2m2 0h2m2 0h3m2 0h1m14 0h1m6 0h1m2 0h1m12 0h1M52 108h1m1 0h1m3 0h2m4 0h1m2 0h2m2 0h1m4 0h1m4 0h2m40 0h1m6 0h1m7 0h1M32 109h1m9 0h2m4 0h1m9 0h1m5 0h2m3 0h1m3 0h2m13 0h1m16 0h1m1 0h1m10 0h1m7 0h1m12 0h1m8 0h1M44 110h1m6 0h1m1 0h4m3 0h3m1 0h1m2 0h2m1 0h1m1 0h1m1 0h1m19 0h1m24 0h2m3 0h1m6 0h1m1 0h1M27 111h1m17 0h1m2 0h1m1 0h1m1 0h2m7 0h2m4 0h1m12 0h1m5 0h1m4 0h1m29 0h1m1 0h1m1 0h1M39 112h1m4 0h1m1 0h1m6 0h2m3 0h1m2 0h2m2 0h1m1 0h2m4 0h2m1 0h1m1 0h1m3 0h2m19 0h1m8 0h2m3 0h1m3 0h1m2 0h1m1 0h1m16 0h1M27 113h1m12 0h4m1 0h1m2 0h1m2 0h3m1 0h2m2 0h3m1 0h1m3 0h2m1 0h2m4 0h2m2 0h1m1 0h2M21 114h1m14 0h1m2 0h1m2 0h1m3 0h2m8 0h1m9 0h2m1 0h5m1 0h1m1 0h1m2 0h2m2 0h1m11 0h1m25 0h1m2 0h1m16 0h1m15 0h1M43 115h1m3 0h1m1 0h2m2 0h1m5 0h1m11 0h1m1 0h1m2 0h2m4 0h1m1 0h1m23 0h2m7 0h1m3 0h3m9 0h1m2 0h1m5 0h1M36 116h1m3 0h1m9 0h1m1 0h1m1 0h1m7 0h2m1 0h1m13 0h1m16 0h1m24 0h1m4 0h1M29 117h1m3 0h2m2 0h1m5 0h1m2 0h2m1 0h1m12 0h2m3 0h1m3 0h4m9 0h1m10 0h1m4 0h2m16 0h1m9 0h1m3 0h1m13 0h1M26 118h1m2 0h1m1 0h1m3 0h2m7 0h2m3 0h2m4 0h1m9 0h1m1 0h1m1 0h1m3 0h1m1 0h2m8 0h1m11 0h1m1 0h1m4 0h1m3 0h2m2 0h1m6 0h1m3 0h3m10 0h1m9 0h1M28 119h1m4 0h1m3 0h5m6 0h1m18 0h1m3 0h1m1 0h1m7 0h1m29 0h1m7 0h1M34 120h1m2 0h1m2 0h1m3 0h1m10 0h1m12 0h1m1 0h1m7 0h1m3 0h1m1 0h1m6 0h1m11 0h2m21 0h1m6 0h1M18 121h1m13 0h1m1 0h1m4 0h1m1 0h2m6 0h1m29 0h2m3 0h1m22 0h1m3 0h1m6 0h2m1 0h1m6 0h1m2 0h1m4 0h1m1 0h1M29 122h2m3 0h1m1 0h1m2 0h1m11 0h1m10 0h1m6 0h1m2 0h3m1 0h1m9 0h2m12 0h1m5 0h1m1 0h1m9 0h1m1 0h2m7 0h1m8 0h2m3 0h1M28 123h4m1 0h1m8 0h1m8 0h1m11 0h1m10 0h1m3 0h1m2 0h1m12 0h2m3 0h2m8 0h1m13 0h1m2 0h1m5 0h1m4 0h1M25 124h2m3 0h1m5 0h1m29 0h1m3 0h3m10 0h1m20 0h1m3 0h1m14 0h1m12 0h1m3 0h1M22 125h2m5 0h2m1 0h1m1 0h3m35 0h1m1 0h1m1 0h1m1 0h2m6 0h1m17 0h1m4 0h2m4 0h1m4 0h1m1 0h1m1 0h1m1 0h1m1 0h1m14 0h1M26 126h1m5 0h1m34 0h1m1 0h2m4 0h1m12 0h1m10 0h1m1 0h1m2 0h1m7 0h1m3 0h2m7 0h2M21 127h1m7 0h1m2 0h1m5 0h1m30 0h1m7 0h1m2 0h2m30 0h1m21 0h1M26 128h2m2 0h2m3 0h2m33 0h1m3 0h3m1 0h1m12 0h2m16 0h3m4 0h1m6 0h1m14 0h1M14 129h1m2 0h1m1 0h2m2 0h1m3 0h1m42 0h1m1 0h1m4 0h1m2 0h2m21 0h1m3 0h1m1 0h1m1 0h1m4 0h1m3 0h1M14 130h1m7 0h1m1 0h1m1 0h1m1 0h4m37 0h1m1 0h1m8 0h1m8 0h1m4 0h1m6 0h1m1 0h1m2 0h1m2 0h1m7 0h3m1 0h1m3 0h1m4 0h2m11 0h1m1 0h1M15 131h1m4 0h1m5 0h1m5 0h1m37 0h1m2 0h1m2 0h2m22 0h1m15 0h1m9 0h1m14 0h1M17 132h1m2 0h1m2 0h4m37 0h1m4 0h1m1 0h2m1 0h2m3 0h1m1 0h1m1 0h1m13 0h1m4 0h1m10 0h1m14 0h1m1 0h1M12 133h1m3 0h1m2 0h1m4 0h1m2 0h1m1 0h1m35 0h3m7 0h3m11 0h1m2 0h1m14 0h2m5 0h2m10 0h1m2 0h1M13 134h1m2 0h1m4 0h3m3 0h2m39 0h1m2 0h1m3 0h1m14 0h1m11 0h1m13 0h1m2 0h1m2 0h1m7 0h1M19 135h4m3 0h1m2 0h1m35 0h1m5 0h1m4 0h1m1 0h1m4 0h1m16 0h2m6 0h1m4 0h1m10 0h1m5 0h1M6 136h1m10 0h1m3 0h3m5 0h1m37 0h1m1 0h1m1 0h2m6 0h1m3 0h1m24 0h1m5 0h2m19 0h1M1 137h1m12 0h1m2 0h3m2 0h2m43 0h1m3 0h1m34 0h1m4 0h1m2 0h1m1 0h1m22 0h1m4 0h1M10 138h1m8 0h1m1 0h2m44 0h1m1 0h1m1 0h1m1 0h1m1 0h1m19 0h2m5 0h1m2 0h1m3 0h1m4 0h1m13 0h1M23 139h2m42 0h3m1 0h1m1 0h1m3 0h1m2 0h1m5 0h1m2 0h1m28 0h1m13 0h1M10 140h1m4 0h1m3 0h1m2 0h1m44 0h1m3 0h1m36 0h1m4 0h2m2 0h1m13 0h1M9 141h1m3 0h1m5 0h2m40 0h1m4 0h3m2 0h3m12 0h1m15 0h1m15 0h2M9 142h1m4 0h1m2 0h1m5 0h1m39 0h1m7 0h2m1 0h1m33 0h1m5 0h1m3 0h1m13 0h1M13 143h1m1 0h1m3 0h2m2 0h1m39 0h1m2 0h2m2 0h1m13 0h1m16 0h1m4 0h1m6 0h2m1 0h1m2 0h1m1 0h2M9 144h1m1 0h1m58 0h2m2 0h1m23 0h1m6 0h1m1 0h1M10 145h3m4 0h1m51 0h1m1 0h2m33 0h2m1 0h1m3 0h1M1 146h1m9 0h1m3 0h2m1 0h2m1 0h1m39 0h1m5 0h1m32 0h1m10 0h2m5 0h2M0 147h1m6 0h2m2 0h1m3 0h1m3 0h1m2 0h1m37 0h1m5 0h1m4 0h1m2 0h1m1 0h2m15 0h1m6 0h1m15 0h1m4 0h1m2 0h1M14 148h2m43 0h1m3 0h1m3 0h1m44 0h1m13 0h1m5 0h1M3 149h1m2 0h3m2 0h2m45 0h2m4 0h1m29 0h1m8 0h1m5 0h2m15 0h1M2 150h2m6 0h3m3 0h1m1 0h1m41 0h2m4 0h1m2 0h1m55 0h1M7 151h1m3 0h1m44 0h2m1 0h2m2 0h1m4 0h1m1 0h1m19 0h1m28 0h1m2 0h1M9 152h2m5 0h1m40 0h1m1 0h1m1 0h1m1 0h1m3 0h1m2 0h1m31 0h1m16 0h1M10 153h1m1 0h1m3 0h1m37 0h2m1 0h1m5 0h1m20 0h1m21 0h1M4 154h1m1 0h1m3 0h2m40 0h1m4 0h1m4 0h1m2 0h1m46 0h1m11 0h1M4 155h1m5 0h2m2 0h1m5 0h1m23 0h1m11 0h1m3 0h3m6 0h1m25 0h1m4 0h1M2 156h1m6 0h1m4 0h1m1 0h1m2 0h1m31 0h1m1 0h1m2 0h1m1 0h1m55 0h1M0 157h1m8 0h2m3 0h1m5 0h1m28 0h2m3 0h1m1 0h1m1 0h1m1 0h1m2 0h2m51 0h1M4 158h1m3 0h1m3 0h1m3 0h1m2 0h1m15 0h1m17 0h3m5 0h1M7 159h1m1 0h1m3 0h1m2 0h1m27 0h1m4 0h1m1 0h3m1 0h1m53 0h1m8 0h1M6 160h1m2 0h1m5 0h1m1 0h2m21 0h1m7 0h1m3 0h1m1 0h1m65 0h1M4 161h2m3 0h2m7 0h1m28 0h1m3 0h1m2 0h2m2 0h1M5 162h1m2 0h1m1 0h2m1 0h1m2 0h1m3 0h1m1 0h1m17 0h1m3 0h1m1 0h2m3 0h1m1 0h2m2 0h1M1 163h1m5 0h1m1 0h1m2 0h1m1 0h1m4 0h1m29 0h1m2 0h1m4 0h1m1 0h1m50 0h1M5 164h1m2 0h3m29 0h1m8 0h2m5 0h1m1 0h1m59 0h1M6 165h4m7 0h1m7 0h1m8 0h1m3 0h1m20 0h1m42 0h1m12 0h1M4 166h1m7 0h1m2 0h1m9 0h1m2 0h1m6 0h1m1 0h1m3 0h2m2 0h1m6 0h1m69 0h1M3 167h2m1 0h1m5 0h1m8 0h2m9 0h2m5 0h1m63 0h1M4 168h2m4 0h1m1 0h1m1 0h1m1 0h1m2 0h1m2 0h2m3 0h2m8 0h1m1 0h1m8 0h1M1 169h1m5 0h1m6 0h4m6 0h1m1 0h1m1 0h1m5 0h1m1 0h2m6 0h2m2 0h1M12 170h1m1 0h1m1 0h1m3 0h1m2 0h1m1 0h2m5 0h3m2 0h4m2 0h2M2 171h1m5 0h1m2 0h1m1 0h2m2 0h1m1 0h1m1 0h1m1 0h1m2 0h2m3 0h2m1 0h1m3 0h2m2 0h3m1 0h4m6 0h1M10 172h3m1 0h1m3 0h1m3 0h3m3 0h1m1 0h2m1 0h1m2 0h1m4 0h1m3 0h1" stroke-opacity=".42"/><path d="M122 33h1M150 40h1M118 41h1M125 42h1m5 0h1M127 46h1M137 53h1M149 55h1M111 56h1M124 59h1M135 60h1M122 61h1M113 62h1m11 0h1M109 64h1m35 0h1M104 67h1M135 72h1M117 76h1M118 79h1M67 98h1M94 99h1M64 101h1m2 0h1M78 102h1M52 104h1m7 0h1m3 0h1M46 105h1M54 106h1m6 0h1M60 107h1m6 0h2M63 108h1m9 0h1M57 109h1m2 0h1m2 0h1m12 0h1m4 0h1M57 110h3m6 0h1m6 0h1m3 0h1M49 111h1m8 0h2m3 0h3m4 0h1m2 0h1m46 0h1M51 112h2m10 0h2m5 0h2M46 113h1m7 0h1m10 0h1m12 0h1M48 114h1m2 0h2m4 0h4m1 0h1m2 0h1M42 115h1m2 0h2m4 0h1m8 0h1m2 0h1m1 0h1m3 0h2m1 0h1m2 0h1m31 0h1M39 116h1m2 0h1m6 0h1m6 0h2m8 0h1m2 0h1M42 117h1m1 0h1m12 0h1m2 0h1m8 0h1m40 0h1M41 118h1m1 0h1m3 0h1m5 0h1m10 0h1m1 0h1m3 0h3M43 119h1m3 0h1m12 0h1m2 0h1m2 0h1m3 0h1m4 0h2m2 0h1m32 0h1M41 120h1m8 0h1m16 0h1m1 0h1m5 0h1M28 121h1m19 0h1m7 0h1m1 0h1m7 0h1m6 0h1m2 0h1M35 122h1m1 0h2m1 0h2m2 0h1m2 0h1m8 0h1m7 0h1m3 0h1m2 0h1M35 123h3m3 0h1m4 0h1m12 0h1m2 0h1m1 0h1m2 0h2m3 0h1m42 0h1M22 124h1m4 0h1m5 0h1m1 0h1m4 0h1m6 0h1m20 0h2m7 0h1M33 125h1m3 0h1m23 0h1m2 0h2m3 0h2m2 0h1m42 0h1M30 126h2m1 0h2m1 0h2m28 0h1m5 0h2M30 127h1m2 0h1m1 0h1m37 0h1m1 0h1M23 128h1m4 0h2m3 0h2m4 0h1m24 0h1m6 0h3M31 129h1m4 0h1m29 0h1m7 0h1m3 0h1M63 130h1m2 0h1m1 0h1m4 0h1m37 0h1m4 0h1m12 0h1M23 131h1m1 0h1m1 0h1m40 0h1m2 0h1M27 132h1m5 0h1m34 0h1m1 0h1m47 0h2M28 133h1m30 0h1m11 0h1m2 0h1m45 0h1M36 134h1m30 0h1m1 0h1m31 0h1M23 135h2m3 0h1m33 0h1m9 0h1M25 136h1m4 0h1m33 0h1m3 0h1m4 0h2M61 137h1m8 0h1m1 0h1m2 0h1m24 0h1m24 0h1M24 138h1m1 0h1m3 0h1m30 0h1m8 0h1m49 0h1M22 139h1m40 0h1m1 0h1m4 0h1m1 0h1M20 140h1m38 0h1m12 0h1M21 141h1m38 0h1m2 0h2M20 142h1m40 0h1m3 0h2m6 0h1m2 0h1M16 143h1m1 0h1m2 0h1m40 0h1M19 144h2m35 0h1m4 0h1m1 0h1m58 0h1M14 145h1m1 0h1m1 0h1m4 0h1m40 0h1M14 146h1M18 147h1m42 0h1m48 0h1M11 148h1m4 0h2m7 0h1m26 0h1m3 0h1m4 0h1m2 0h3M13 149h1m2 0h3m35 0h1m2 0h1m5 0h1M13 150h1m5 0h2m36 0h1m4 0h1m42 0h1M16 151h1m1 0h1m39 0h1M13 152h2m6 0h1m32 0h1m1 0h1M11 153h1m6 0h1m33 0h1m3 0h1M15 154h5m2 0h1m30 0h1m7 0h1M12 155h1m2 0h2m29 0h1m1 0h1m2 0h2m2 0h1m3 0h1M4 156h1m3 0h1m46 0h1m4 0h1M11 157h1m5 0h1m18 0h1m11 0h1m3 0h1m4 0h1M10 158h1m11 0h1m22 0h1m2 0h1m2 0h2m7 0h1M47 159h2m1 0h1M11 160h1m2 0h1m27 0h1m1 0h1m4 0h2M21 161h1m3 0h1m16 0h1m1 0h1m4 0h2M12 162h1m6 0h1m16 0h1m8 0h1m3 0h1M10 163h1m4 0h1m1 0h1m4 0h1m11 0h1m3 0h1m2 0h1m1 0h2m3 0h1m4 0h1M4 164h1m6 0h1m1 0h2m2 0h4m1 0h1m2 0h1m1 0h1m1 0h1m5 0h1m8 0h1M5 165h1m8 0h1m6 0h1m5 0h2m1 0h1m1 0h1m6 0h4m3 0h1m4 0h1M13 166h1m3 0h3m18 0h1m1 0h1M5 167h1m5 0h1m4 0h1m9 0h1m11 0h1m1 0h1m7 0h1M8 168h1m4 0h1m19 0h1m10 0h1M10 169h1m1 0h1m6 0h1m1 0h2m2 0h1m3 0h1m3 0h1M17 170h1m1 0h1m4 0h1m4 0h1m5 0h1M15 171h1m2 0h1m5 0h1m3 0h1m1 0h1m5 0h1M4 172h1m1 0h1m6 0h1m3 0h1m7 0h2m10 0h1" stroke-opacity=".72"/><path d="M53 105h1M49 106h1m29 0h1M66 109h2m4 0h1M63 110h1m1 0h1M54 111h2m1 0h1m2 0h1m5 0h1m2 0h1M55 112h1m3 0h1M39 113h1m9 0h1m7 0h1m4 0h1m1 0h1m7 0h1M45 114h1m3 0h2m2 0h1m1 0h1m5 0h1m1 0h2m3 0h1M38 115h1m13 0h1m1 0h5m2 0h2m1 0h1m1 0h2M41 116h1m3 0h1m1 0h1m3 0h1m1 0h1m1 0h1m2 0h2m1 0h1m2 0h1m2 0h2m3 0h1M45 117h1m2 0h1m2 0h6m1 0h2m1 0h1m2 0h1m1 0h1m1 0h1m1 0h1M39 118h1m2 0h1m3 0h1m1 0h1m2 0h2m1 0h1m1 0h4m1 0h3m4 0h1m5 0h1M42 119h1m1 0h3m3 0h10m1 0h2m1 0h2m2 0h2m2 0h1m1 0h1M46 120h4m1 0h4m1 0h11m5 0h2m2 0h1m37 0h1M40 121h1m2 0h5m2 0h6m1 0h1m1 0h7m1 0h5m2 0h1m2 0h1M31 122h1m10 0h2m1 0h2m1 0h3m1 0h4m1 0h5m1 0h1m1 0h2m3 0h1M34 123h1m3 0h1m1 0h1m2 0h3m1 0h4m1 0h7m1 0h2m3 0h2m2 0h3m4 0h1M37 124h3m1 0h6m1 0h18m1 0h1m6 0h1M31 125h1m6 0h23m1 0h2m3 0h2m2 0h1M35 126h1m2 0h28m2 0h1m2 0h1m5 0h1M34 127h1m1 0h2m1 0h25m1 0h2m1 0h1m1 0h3M32 128h1m4 0h2m1 0h24m1 0h3m1 0h1M24 129h1m3 0h1m3 0h1m1 0h2m1 0h29m1 0h3m1 0h1M33 130h30m1 0h2m1 0h1m2 0h1m1 0h1M29 131h3m1 0h35m1 0h1M28 132h5m1 0h30m1 0h3m5 0h1M25 133h2m3 0h29m1 0h5m3 0h1M24 134h1m1 0h1m2 0h7m1 0h30M27 135h1m2 0h32m1 0h2m1 0h3M24 136h1m1 0h3m2 0h33m1 0h2m3 0h1M24 137h37m1 0h5m1 0h1M25 138h1m1 0h3m1 0h30m1 0h5m1 0h1M18 139h2m5 0h38m1 0h1m1 0h1M18 140h1m4 0h36m1 0h7M23 141h33m1 0h3m2 0h1m2 0h1M16 142h1m1 0h1m2 0h2m1 0h1m1 0h1m1 0h33m1 0h1m1 0h1m3 0h1M22 143h1m1 0h1m1 0h36m3 0h1M16 144h1m1 0h1m2 0h35m1 0h4m1 0h1m3 0h1M21 145h2m1 0h40m1 0h1M20 146h1m1 0h39M12 147h1m3 0h1m3 0h2m1 0h37M13 148h1m4 0h7m1 0h26m1 0h3m1 0h2m1 0h1m1 0h1M19 149h35m1 0h2m3 0h1M17 150h1m3 0h34m1 0h1m2 0h1M17 151h1m1 0h36m7 0h1M17 152h4m1 0h32M15 153h1m3 0h33m1 0h1m6 0h1M14 154h1m5 0h2m1 0h29m2 0h1m3 0h2M13 155h1m3 0h3m1 0h23m1 0h1m1 0h1m1 0h2m2 0h1M13 156h1m1 0h1m1 0h2m1 0h30m2 0h1M15 157h1m3 0h1m1 0h15m1 0h11m3 0h1m3 0h1M14 158h2m1 0h2m1 0h2m1 0h12m1 0h9m1 0h2m1 0h2M11 159h1m2 0h2m1 0h27m1 0h2M12 160h1m3 0h1m2 0h21m1 0h1m1 0h1m1 0h3M14 161h4m1 0h2m1 0h1m1 0h1m1 0h16m1 0h1m1 0h2M9 162h1m7 0h2m2 0h1m1 0h13m1 0h3m1 0h3M3 163h1m12 0h1m1 0h1m1 0h2m1 0h11m1 0h3m1 0h2m1 0h1m2 0h2M15 164h2m4 0h1m1 0h2m1 0h1m1 0h1m1 0h5m1 0h4M10 165h1m4 0h2m1 0h3m1 0h3m1 0h1m2 0h1m1 0h1m1 0h1m1 0h3M9 166h1m4 0h1m1 0h1m3 0h5m1 0h2m1 0h6m1 0h1m2 0h1m4 0h1M14 167h1m2 0h3m3 0h3m1 0h5m2 0h4m3 0h1m1 0h2M9 168h1m5 0h1m1 0h2m1 0h2m2 0h3m3 0h3m2 0h1m2 0h1m1 0h1M13 169h1m4 0h1m4 0h1m3 0h1m2 0h1M15 170h1m2 0h1m3 0h1m7 0h1m11 0h1m2 0h1M20 171h1m1 0h1m2 0h1m7 0h1m1 0h1M15 172h1m13 0h1"/></g>
<rect x="210.2" y="2278.9" width="342.5" height="346.8" fill="none" stroke="#707070" stroke-width="2"/>
<line x1="385.3" y1="2278.9" x2="385.3" y2="2625.7" stroke="#555" stroke-width="1.8"/>
<line x1="210.2" y1="2475.7" x2="552.7" y2="2475.7" stroke="#555" stroke-width="1.8"/>
<path d="M210.2 2625.7v8M210.2 2625.7h-8M236.0 2625.7v4.5M210.2 2599.6h-4.5M251.1 2625.7v4.5M210.2 2584.3h-4.5M261.8 2625.7v4.5M210.2 2573.5h-4.5M270.0 2625.7v4.5M210.2 2565.1h-4.5M276.8 2625.7v4.5M210.2 2558.2h-4.5M282.6 2625.7v4.5M210.2 2552.4h-4.5M287.5 2625.7v4.5M210.2 2547.4h-4.5M291.9 2625.7v4.5M210.2 2543.0h-4.5M295.8 2625.7v8M210.2 2539.0h-8M321.6 2625.7v4.5M210.2 2512.9h-4.5M336.7 2625.7v4.5M210.2 2497.6h-4.5M347.4 2625.7v4.5M210.2 2486.8h-4.5M355.7 2625.7v4.5M210.2 2478.4h-4.5M362.5 2625.7v4.5M210.2 2471.5h-4.5M368.2 2625.7v4.5M210.2 2465.7h-4.5M373.2 2625.7v4.5M210.2 2460.7h-4.5M377.5 2625.7v4.5M210.2 2456.3h-4.5M381.5 2625.7v8M210.2 2452.3h-8M407.2 2625.7v4.5M210.2 2426.2h-4.5M422.3 2625.7v4.5M210.2 2410.9h-4.5M433.0 2625.7v4.5M210.2 2400.1h-4.5M441.3 2625.7v4.5M210.2 2391.7h-4.5M448.1 2625.7v4.5M210.2 2384.8h-4.5M453.8 2625.7v4.5M210.2 2379.0h-4.5M458.8 2625.7v4.5M210.2 2374.0h-4.5M463.2 2625.7v4.5M210.2 2369.6h-4.5M467.1 2625.7v8M210.2 2365.6h-8M492.9 2625.7v4.5M210.2 2339.5h-4.5M507.9 2625.7v4.5M210.2 2324.2h-4.5M518.6 2625.7v4.5M210.2 2313.4h-4.5M526.9 2625.7v4.5M210.2 2305.0h-4.5M533.7 2625.7v4.5M210.2 2298.1h-4.5M539.4 2625.7v4.5M210.2 2292.3h-4.5M544.4 2625.7v4.5M210.2 2287.3h-4.5M548.8 2625.7v4.5M210.2 2282.9h-4.5M552.7 2625.7v8M210.2 2278.9h-8" stroke="#555" stroke-width="1.6" fill="none"/>
<text x="212.2" y="2655.7" font-size="15" font-weight="bold" fill="#222" text-anchor="middle">10<tspan font-size="9" dy="-6">0</tspan></text>
<text x="194.2" y="2626.7" font-size="15" font-weight="bold" fill="#222" text-anchor="middle" transform="rotate(-90 194.2 2626.7)">10<tspan font-size="9" dy="-6">0</tspan></text>
<text x="297.8" y="2655.7" font-size="15" font-weight="bold" fill="#222" text-anchor="middle">10<tspan font-size="9" dy="-6">1</tspan></text>
<text x="194.2" y="2540" font-size="15" font-weight="bold" fill="#222" text-anchor="middle" transform="rotate(-90 194.2 2540)">10<tspan font-size="9" dy="-6">1</tspan></text>
<text x="383.5" y="2655.7" font-size="15" font-weight="bold" fill="#222" text-anchor="middle">10<tspan font-size="9" dy="-6">2</tspan></text>
<text x="194.2" y="2453.3" font-size="15" font-weight="bold" fill="#222" text-anchor="middle" transform="rotate(-90 194.2 2453.3)">10<tspan font-size="9" dy="-6">2</tspan></text>
<text x="469.1" y="2655.7" font-size="15" font-weight="bold" fill="#222" text-anchor="middle">10<tspan font-size="9" dy="-6">3</tspan></text>
<text x="194.2" y="2366.6" font-size="15" font-weight="bold" fill="#222" text-anchor="middle" transform="rotate(-90 194.2 2366.6)">10<tspan font-size="9" dy="-6">3</tspan></text>
<text x="554.7" y="2655.7" font-size="15" font-weight="bold" fill="#222" text-anchor="middle">10<tspan font-size="9" dy="-6">4</tspan></text>
<text x="194.2" y="2279.9" font-size="15" font-weight="bold" fill="#222" text-anchor="middle" transform="rotate(-90 194.2 2279.9)">10<tspan font-size="9" dy="-6">4</tspan></text>
<g font-size="15.5" font-weight="bold" fill="#1a1a1a" letter-spacing="1.3"><text x="215.2" y="2299.9">Q1</text><text x="215.2" y="2319.9">0.07%</text><text x="488.7" y="2299.9">Q2</text><text x="488.7" y="2319.9">2.32%</text><text x="215.2" y="2597.7">Q4</text><text x="215.2" y="2618.7">96.10%</text><text x="488.7" y="2597.7">Q3</text><text x="488.7" y="2618.7">2.12%</text></g>
<text x="389.6" y="2249.1" font-size="26" text-anchor="middle">Control</text>
<g transform="translate(602.4 2275.80) scale(2.0)" fill="none" stroke="#f00" stroke-width="1"><path d="M138 7h1M125 9h1m4 0h1M137 11h1M135 12h1M139 13h1M140 14h1m10 0h1M147 15h1m6 0h1M131 16h1m14 0h1M128 17h1m8 0h1m9 0h1m1 0h1M90 18h1M135 19h1M108 20h1m19 0h1m13 0h1M131 21h2M132 22h1M130 23h1M125 24h1m18 0h1m9 0h1M118 25h1m2 0h1M124 26h1m33 0h1M125 27h1m1 0h2m4 0h1m12 0h1M89 28h1m43 0h1m1 0h2m5 0h1M120 29h1m1 0h1m30 0h1m11 0h1M123 30h1m2 0h1m18 0h1m10 0h1m5 0h1M93 31h1m15 0h1m31 0h1m2 0h1m4 0h1m14 0h1M115 32h1m6 0h1m3 0h1m9 0h1m1 0h1m3 0h1m6 0h2M128 33h2m12 0h1M103 34h1m1 0h1m8 0h1m6 0h1m8 0h1m2 0h1m1 0h1m7 0h1M101 35h1m14 0h1m7 0h1m4 0h1m19 0h1M115 36h1m7 0h1m3 0h1m2 0h1M109 37h1m16 0h1m10 0h1m1 0h1m1 0h1m4 0h2m2 0h1m13 0h1M111 38h1m17 0h1m1 0h1m7 0h1m6 0h1M90 39h1m26 0h1m2 0h1m6 0h1m1 0h1m2 0h1m3 0h1m1 0h1m1 0h1m2 0h1m6 0h1M114 40h1m1 0h1m1 0h1m17 0h1m6 0h1M92 41h1m7 0h1m4 0h1m3 0h1m1 0h1m2 0h1m4 0h2m1 0h1m1 0h1m5 0h1m5 0h1m1 0h1m3 0h1M98 42h1m19 0h1m9 0h1m1 0h2m4 0h1m1 0h2m2 0h1m1 0h2m4 0h1m1 0h1M109 43h1m2 0h1m1 0h1m2 0h1m5 0h2m6 0h1m4 0h1M107 44h1m6 0h1m8 0h1m3 0h4m2 0h1m1 0h1m6 0h2m4 0h1M76 45h1m24 0h1m5 0h1m9 0h1m7 0h2m2 0h1m7 0h1m1 0h1m11 0h2m17 0h1M104 46h1m6 0h1m2 0h1m1 0h1m4 0h1m2 0h1m2 0h1m3 0h1m6 0h2m1 0h1m2 0h1m4 0h1M100 47h2m4 0h1m3 0h2m1 0h1m3 0h1m1 0h2m1 0h1m2 0h1m2 0h1m3 0h1m5 0h2M69 48h1m30 0h2m13 0h1m5 0h4m2 0h1m3 0h1m7 0h1m1 0h1m7 0h1M94 49h2m12 0h1m1 0h1m8 0h1m2 0h1m2 0h1m2 0h1m1 0h1m4 0h1m4 0h3m26 0h1M100 50h1m14 0h2m1 0h1m2 0h1m9 0h1m14 0h1M52 51h1m15 0h1m24 0h1m2 0h1m5 0h1m1 0h1m1 0h1m4 0h2m1 0h1m8 0h1m1 0h3m2 0h1m1 0h1m4 0h1m19 0h1M91 52h1m6 0h1m7 0h1m12 0h1m2 0h2m4 0h1m2 0h1m7 0h1m5 0h1m7 0h1M83 53h1m15 0h1m5 0h1m4 0h1m3 0h1m1 0h1m5 0h1m5 0h2m1 0h1m5 0h1m2 0h1m3 0h1m5 0h1m4 0h1m3 0h1m5 0h1M97 54h1m3 0h1m4 0h4m3 0h1m2 0h2m1 0h1m2 0h3m1 0h1m5 0h1m5 0h1m5 0h1m14 0h2M57 55h1m4 0h1m29 0h1m1 0h1m2 0h2m8 0h3m4 0h1m1 0h1m1 0h1m1 0h2m2 0h1m1 0h1m4 0h1m1 0h1m1 0h2m1 0h1m2 0h1m7 0h1M79 56h1m6 0h1m3 0h1m12 0h1m4 0h2m1 0h1m2 0h2m2 0h1m2 0h7m3 0h2m1 0h2m2 0h1m4 0h1m1 0h1m3 0h1M87 57h1m5 0h1m1 0h2m1 0h1m3 0h1m2 0h3m1 0h1m2 0h1m1 0h1m2 0h2m1 0h1m2 0h2m7 0h3m6 0h1m1 0h1m1 0h1m2 0h1M90 58h1m5 0h1m5 0h1m5 0h1m1 0h1m9 0h2m6 0h1m2 0h1m1 0h3m1 0h1m9 0h3m2 0h1m11 0h1M80 59h1m2 0h1m6 0h1m9 0h1m2 0h1m1 0h1m1 0h2m3 0h3m4 0h1m3 0h1m1 0h3m1 0h2m2 0h2m3 0h1m1 0h1m6 0h1m1 0h1m12 0h1M48 60h1m31 0h1m6 0h1m2 0h1m9 0h2m4 0h1m3 0h2m1 0h2m2 0h1m2 0h2m2 0h2m1 0h1m1 0h1m1 0h1m3 0h1m4 0h1m1 0h1m9 0h2M84 61h1m2 0h1m7 0h4m5 0h1m8 0h1m4 0h3m1 0h1m1 0h2m1 0h2m5 0h2m5 0h2m1 0h1M45 62h1m36 0h1m9 0h1m2 0h1m1 0h1m4 0h3m2 0h1m2 0h1m3 0h2m1 0h2m1 0h1m5 0h1m3 0h1m2 0h3m2 0h1m5 0h1m19 0h1M73 63h1m10 0h2m14 0h1m3 0h1m2 0h2m5 0h2m3 0h2m7 0h4m4 0h1m2 0h1m6 0h1m1 0h1m1 0h1M70 64h1m17 0h1m1 0h1m9 0h1m1 0h1m1 0h3m3 0h1m1 0h1m2 0h1m1 0h1m7 0h4m1 0h1m2 0h1m3 0h5m4 0h1m1 0h1m3 0h1m5 0h2M79 65h1m4 0h1m2 0h1m3 0h1m7 0h2m2 0h1m6 0h2m2 0h1m2 0h1m4 0h1m1 0h1m2 0h1m3 0h2m2 0h2m1 0h1m2 0h1m1 0h1m8 0h1M70 66h1m21 0h1m4 0h1m1 0h2m3 0h1m1 0h2m3 0h2m9 0h1m2 0h2m3 0h1m2 0h1m2 0h2m1 0h1m4 0h1m1 0h1m1 0h2m1 0h1m16 0h1M88 67h1m2 0h1m5 0h1m3 0h1m3 0h1m1 0h1m1 0h1m3 0h2m5 0h2m2 0h1m1 0h1m9 0h3m2 0h2m1 0h1m5 0h1m1 0h1m10 0h1M68 68h1m13 0h1m10 0h1m2 0h2m2 0h1m2 0h3m3 0h1m1 0h1m13 0h1m2 0h1m2 0h1m1 0h1m1 0h2M55 69h1m34 0h1m3 0h2m1 0h1m2 0h1m1 0h1m7 0h1m2 0h1m2 0h1m2 0h1m3 0h1m2 0h1m3 0h1m2 0h2m6 0h2m9 0h1M84 70h1m19 0h1m6 0h1m3 0h1m4 0h1m5 0h1m3 0h1m1 0h1m4 0h2m5 0h1m7 0h1M84 71h1m5 0h1m7 0h1m6 0h2m6 0h1m9 0h1m1 0h1m4 0h2m2 0h1m2 0h1m2 0h1m2 0h2m1 0h1m3 0h2m1 0h1M47 72h1m20 0h1m8 0h1m5 0h2m5 0h1m7 0h1m3 0h2m1 0h1m1 0h1m1 0h2m1 0h1m5 0h1m4 0h2m4 0h2m1 0h2m2 0h2m2 0h1m4 0h1M71 73h1m1 0h1m25 0h1m2 0h4m2 0h1m9 0h1m2 0h1m3 0h4m4 0h1m2 0h1m1 0h2m7 0h1m1 0h1m5 0h2M63 74h1m21 0h1m8 0h1m6 0h1m3 0h1m2 0h1m3 0h1m7 0h1m4 0h1m3 0h1m5 0h1m7 0h1m3 0h1m11 0h1M83 75h1m6 0h1m2 0h1m4 0h1m2 0h1m4 0h1m5 0h4m2 0h1m1 0h2m1 0h1m2 0h1m12 0h1m3 0h2m3 0h1M59 76h1m25 0h1m3 0h1m1 0h1m12 0h1m1 0h3m5 0h1m3 0h2m2 0h1m1 0h3m1 0h1m10 0h1m9 0h1m13 0h1M58 77h1m6 0h1m1 0h1m9 0h1m10 0h1m3 0h1m2 0h1m1 0h2m4 0h2m2 0h1m2 0h2m1 0h1m2 0h2m1 0h1m7 0h3m5 0h3m2 0h3m6 0h1M71 78h1m13 0h1m1 0h1m3 0h1m4 0h1m2 0h1m3 0h1m2 0h1m4 0h1m1 0h2m1 0h1m7 0h1m9 0h1m7 0h1m15 0h1M43 79h1m7 0h1m31 0h2m6 0h3m8 0h1m7 0h1m7 0h3m5 0h2m1 0h1m2 0h3m4 0h1m2 0h1m1 0h1m4 0h1M70 80h1m13 0h1m2 0h1m1 0h1m5 0h1m1 0h2m1 0h1m1 0h1m5 0h3m1 0h1m1 0h2m2 0h1m2 0h1m4 0h2m2 0h2m3 0h2m5 0h1m6 0h2M40 81h1m13 0h1m5 0h1m19 0h1m8 0h1m5 0h1m6 0h1m2 0h1m1 0h2m2 0h1m2 0h2m2 0h1m7 0h1m6 0h1m4 0h1m18 0h1M61 82h1m11 0h1m15 0h1m3 0h1m3 0h1m7 0h5m1 0h1m2 0h1m3 0h1m2 0h1m2 0h1m1 0h2m1 0h3m1 0h1m2 0h1m1 0h1m3 0h1m3 0h1m5 0h1m2 0h1M60 83h1m17 0h2m2 0h1m4 0h1m4 0h1m5 0h1m1 0h2m1 0h1m5 0h1m5 0h1m3 0h3m1 0h2m1 0h1m10 0h1m1 0h1m1 0h2M41 84h1m2 0h1m27 0h1m5 0h1m4 0h1m4 0h1m2 0h1m4 0h1m6 0h1m1 0h2m1 0h2m9 0h1m2 0h2m9 0h1m19 0h1M41 85h1m42 0h1m7 0h1m2 0h1m2 0h2m7 0h2m4 0h1m4 0h1m2 0h2m1 0h2m2 0h1m1 0h1m2 0h2m1 0h1M75 86h1m7 0h1m1 0h1m1 0h1m5 0h5m3 0h1m3 0h1m2 0h3m1 0h1m3 0h2m2 0h2m1 0h1m2 0h1m6 0h1m3 0h1m2 0h1m1 0h1m18 0h1M76 87h1m6 0h2m2 0h2m32 0h2m2 0h1m6 0h1m16 0h1M41 88h1m31 0h1m11 0h3m3 0h1m2 0h1m1 0h1m7 0h2m3 0h1m1 0h2m2 0h1m1 0h1m2 0h1m1 0h1m2 0h1m1 0h1m1 0h1m6 0h1m5 0h1m1 0h1m8 0h1M57 89h1m3 0h1m3 0h1m39 0h2m1 0h2m1 0h2m1 0h1m1 0h1m4 0h3m1 0h1m4 0h1m1 0h1m3 0h1M42 90h1m20 0h1m19 0h1m3 0h1m1 0h1m1 0h2m3 0h1m2 0h2m1 0h1m3 0h1m4 0h1m7 0h1m1 0h1m1 0h1m1 0h2m1 0h1m1 0h1m5 0h2m5 0h1M71 91h1m7 0h1m7 0h1m2 0h1m6 0h1m6 0h1m9 0h3m1 0h1m1 0h1m1 0h1m1 0h2m1 0h1m1 0h1m5 0h2m4 0h1m12 0h2M47 92h1m8 0h1m8 0h1m8 0h1m3 0h1m2 0h1m5 0h1m6 0h3m6 0h1m5 0h1m2 0h2m1 0h1m2 0h1m1 0h1m1 0h1m4 0h1m1 0h2m1 0h1m8 0h2m4 0h1M55 93h1m1 0h1m12 0h1m2 0h1m7 0h1m1 0h2m2 0h1m2 0h1m5 0h1m11 0h1m1 0h1m4 0h3m1 0h1m2 0h2m2 0h2m7 0h1m5 0h1m5 0h1M39 94h1m21 0h1m3 0h1m4 0h1m9 0h2m11 0h1m4 0h3m6 0h1m2 0h1m2 0h1m7 0h1m12 0h1m11 0h1m5 0h1M59 95h1m7 0h1m7 0h1m3 0h1m16 0h1m3 0h1m1 0h1m1 0h1m1 0h1m4 0h1m3 0h3m4 0h1m1 0h2m6 0h1M56 96h1m5 0h1m4 0h1m12 0h1m1 0h3m1 0h2m5 0h1m1 0h1m2 0h1m4 0h1m2 0h2m4 0h1m5 0h1m5 0h2m2 0h1m2 0h1m26 0h1M65 97h1m19 0h2m13 0h1m20 0h2m2 0h2m5 0h1m7 0h1m3 0h3M47 98h1m1 0h1m16 0h1m2 0h1m1 0h2m5 0h1m3 0h1m5 0h1m3 0h2m1 0h2m2 0h1m1 0h1m2 0h1m1 0h1m2 0h3m5 0h1m1 0h2m1 0h1m11 0h3M47 99h1m18 0h1m2 0h1m8 0h2m7 0h2m9 0h1m3 0h2m1 0h2m3 0h1m4 0h1m9 0h2m1 0h1m2 0h1m1 0h1M19 100h1m29 0h1m15 0h3m1 0h1m2 0h1m6 0h2m3 0h1m9 0h1m4 0h1m2 0h1m1 0h1m4 0h1m1 0h3m9 0h1m5 0h3M50 101h2m13 0h1m2 0h2m3 0h1m1 0h1m4 0h2m8 0h1m3 0h1m1 0h1m3 0h1m2 0h1m4 0h1m2 0h1m4 0h2m7 0h2M34 102h1m8 0h1m3 0h1m6 0h1m1 0h1m4 0h1m1 0h1m5 0h1m4 0h1m7 0h1m7 0h1m5 0h1m4 0h1m5 0h3m1 0h4m4 0h1m10 0h1m2 0h2m6 0h1m1 0h1M49 103h1m2 0h1m2 0h2m3 0h3m4 0h2m3 0h3m8 0h1m2 0h2m1 0h1m8 0h1m1 0h1m5 0h1m2 0h2m1 0h3m6 0h1m1 0h1m3 0h1m1 0h4m8 0h1m1 0h1m3 0h1m6 0h1M23 104h1m27 0h1m3 0h2m3 0h2m3 0h2m4 0h1m1 0h1m1 0h1m4 0h2m5 0h1m7 0h1m5 0h1m1 0h1m1 0h1m6 0h1m2 0h1m1 0h1m4 0h1m2 0h1m1 0h3m2 0h1m4 0h1m13 0h1M49 105h1m3 0h2m1 0h1m1 0h1m3 0h1m1 0h2m3 0h1m1 0h1m1 0h3m1 0h2m1 0h1m2 0h1m11 0h2m1 0h1m5 0h1m10 0h2m1 0h1m3 0h1m5 0h1M44 106h1m4 0h1m3 0h1m2 0h1m2 0h2m1 0h1m4 0h1m1 0h1m3 0h1m1 0h1m2 0h1m1 0h1m3 0h1m9 0h2m4 0h1m2 0h3m1 0h1m3 0h1m1 0h1m2 0h3m2 0h1m5 0h1m4 0h2M33 107h1m17 0h1m2 0h1m3 0h1m7 0h1m1 0h1m1 0h1m2 0h2m2 0h1m1 0h1m5 0h1m1 0h2m6 0h1m1 0h2m4 0h2m3 0h1m7 0h3m1 0h1m3 0h1m2 0h1m15 0h1M28 108h1m28 0h1m2 0h1m6 0h3m1 0h1m3 0h1m5 0h3m3 0h1m4 0h2m6 0h1m1 0h1m1 0h2m1 0h2m6 0h1m2 0h2m6 0h1m4 0h1m6 0h1m6 0h1M45 109h1m1 0h1m1 0h3m3 0h2m3 0h4m1 0h1m5 0h2m1 0h1m2 0h4m6 0h1m5 0h1m1 0h1m4 0h1m3 0h1m1 0h1m1 0h1m1 0h2m1 0h1m2 0h4m2 0h1m7 0h1m1 0h2m6 0h1M14 110h1m37 0h1m2 0h1m3 0h1m1 0h1m1 0h1m1 0h1m1 0h3m5 0h2m1 0h2m12 0h1m1 0h1m5 0h1m2 0h1m4 0h2m10 0h2m1 0h1m1 0h1m1 0h1m9 0h1m2 0h1m2 0h1M34 111h1m2 0h1m3 0h1m2 0h1m3 0h1m1 0h1m3 0h1m6 0h1m1 0h1m2 0h3m3 0h1m3 0h1m2 0h3m2 0h1m5 0h1m3 0h1m2 0h1m6 0h1m1 0h1m4 0h3m3 0h1m1 0h1m4 0h2m1 0h1m1 0h1m4 0h1M41 112h1m2 0h1m1 0h1m1 0h2m4 0h1m1 0h4m1 0h1m2 0h1m6 0h1m4 0h1m1 0h1m1 0h2m1 0h3m1 0h5m8 0h1m1 0h1m1 0h1m1 0h1m2 0h1m3 0h1m1 0h1m4 0h1m6 0h1m3 0h1m7 0h1m8 0h1m1 0h1M33 113h1m6 0h2m9 0h1m2 0h3m1 0h1m1 0h2m1 0h1m9 0h1m2 0h2m2 0h1m1 0h1m17 0h1m5 0h2m2 0h1m1 0h1m1 0h1m2 0h1m1 0h3m6 0h1M35 114h2m4 0h1m8 0h2m3 0h2m2 0h1m1 0h1m3 0h1m1 0h1m1 0h1m2 0h6m1 0h1m2 0h1m1 0h1m3 0h1m1 0h1m7 0h2m3 0h2m1 0h2m1 0h1m1 0h1m1 0h4m1 0h1m2 0h2m3 0h1m16 0h1M27 115h1m5 0h2m7 0h1m1 0h1m2 0h2m5 0h1m2 0h1m1 0h1m8 0h1m4 0h2m2 0h1m2 0h2m5 0h2m2 0h3m1 0h1m4 0h1m1 0h1m3 0h1m1 0h4m3 0h2m3 0h2m10 0h1m8 0h1m11 0h1M8 116h1m25 0h1m10 0h1m2 0h3m2 0h1m4 0h1m3 0h1m1 0h1m3 0h1m4 0h2m2 0h3m1 0h1m5 0h1m7 0h1m7 0h2m5 0h1m5 0h1m1 0h3m2 0h3m9 0h5m3 0h1M15 117h1m5 0h1m3 0h1m1 0h1m7 0h1m4 0h1m1 0h3m1 0h2m5 0h2m9 0h1m2 0h1m5 0h3m1 0h2m2 0h2m5 0h2m10 0h1m2 0h1m2 0h1m3 0h2m1 0h3m7 0h1m1 0h1M24 118h1m14 0h1m8 0h1m6 0h1m1 0h1m1 0h1m5 0h1m3 0h1m3 0h1m2 0h1m5 0h1m2 0h2m1 0h1m4 0h5m3 0h1m3 0h1m6 0h1m1 0h1m1 0h2m5 0h1m1 0h3m12 0h1m11 0h1m1 0h1M31 119h1m6 0h2m1 0h3m3 0h2m1 0h1m1 0h2m2 0h1m11 0h1m2 0h2m8 0h1m1 0h1m1 0h1m10 0h2m5 0h1m2 0h1m2 0h1m1 0h4m1 0h1m2 0h1m2 0h2m2 0h2m5 0h1m3 0h1m2 0h1m9 0h1M19 120h1m9 0h1m2 0h2m7 0h2m4 0h1m6 0h1m2 0h1m1 0h1m3 0h1m2 0h1m3 0h1m5 0h1m1 0h1m3 0h1m7 0h1m1 0h1m3 0h1m5 0h2m8 0h1m1 0h1m2 0h2m3 0h1m3 0h3m5 0h1M24 121h1m7 0h1m1 0h1m1 0h1m3 0h2m1 0h1m4 0h2m3 0h1m13 0h1m1 0h1m1 0h1m3 0h1m1 0h1m1 0h1m3 0h1m2 0h1m5 0h1m1 0h1m3 0h1m2 0h1m1 0h1m4 0h1m1 0h1m3 0h1m2 0h1m4 0h2m3 0h2m3 0h1m15 0h1M26 122h1m1 0h1m6 0h1m1 0h1m1 0h1m5 0h1m5 0h2m21 0h4m1 0h1m2 0h1m3 0h1m2 0h1m3 0h1m5 0h1m3 0h3m2 0h1m5 0h2m1 0h2m3 0h1m2 0h1m2 0h1m1 0h1m2 0h1m4 0h1m3 0h1M27 123h1m2 0h1m4 0h1m2 0h2m3 0h1m1 0h1m23 0h1m2 0h1m3 0h1m2 0h2m1 0h1m1 0h1m3 0h2m2 0h3m7 0h1m3 0h3m2 0h1m4 0h3m1 0h1m2 0h2m2 0h1m7 0h1M28 124h1m1 0h1m2 0h1m4 0h3m5 0h1m23 0h1m6 0h1m1 0h1m5 0h1m7 0h1m2 0h3m4 0h1m5 0h1m1 0h2m2 0h1m2 0h2m2 0h2m2 0h1m2 0h1m6 0h1M25 125h2m8 0h1m2 0h2m2 0h1m16 0h3m7 0h1m5 0h4m4 0h1m15 0h1m4 0h1m3 0h3m1 0h2m5 0h1m2 0h1m1 0h2m1 0h2m1 0h1M29 126h2m2 0h4m2 0h1m1 0h1m1 0h1m22 0h1m4 0h2m3 0h1m5 0h1m1 0h1m1 0h2m2 0h1m7 0h1m1 0h1m2 0h1m2 0h2m16 0h3m2 0h1m4 0h1m3 0h1M12 127h1m7 0h1m3 0h1m1 0h2m4 0h1m1 0h2m4 0h2m1 0h1m25 0h1m1 0h2m1 0h1m2 0h3m1 0h1m1 0h2m5 0h1m1 0h1m5 0h1m1 0h1m3 0h1m5 0h1m4 0h1m6 0h2m2 0h1m5 0h4M18 128h1m13 0h3m2 0h3m19 0h1m3 0h1m9 0h1m1 0h1m2 0h1m1 0h1m1 0h2m4 0h3m1 0h1m2 0h1m10 0h6m6 0h2M23 129h1m3 0h3m1 0h1m1 0h1m3 0h5m26 0h1m2 0h1m2 0h1m1 0h1m1 0h1m13 0h1m5 0h3m3 0h2m3 0h1m1 0h2m4 0h3m3 0h1m1 0h1m1 0h1m4 0h1M16 130h1m7 0h1m2 0h2m34 0h1m11 0h1m3 0h1m6 0h2m1 0h1m1 0h1m10 0h1m5 0h2m2 0h1m1 0h3m2 0h1m2 0h1m1 0h1m2 0h1M22 131h3m1 0h2m2 0h1m2 0h3m2 0h1m4 0h1m17 0h1m12 0h1m2 0h1m2 0h3m5 0h1m9 0h1m2 0h2m3 0h2m3 0h1m2 0h1m11 0h3m4 0h1M16 132h1m9 0h1m1 0h2m1 0h1m1 0h1m32 0h1m11 0h1m4 0h1m1 0h2m3 0h2m1 0h1m3 0h1m2 0h1m5 0h1m2 0h4m5 0h1m9 0h1M14 133h1m11 0h1m5 0h1m1 0h2m2 0h1m35 0h3m1 0h1m3 0h2m1 0h1m4 0h1m4 0h1m4 0h1m2 0h1m1 0h2m1 0h1m8 0h1m2 0h1m4 0h1m1 0h1m1 0h1m9 0h1M17 134h1m1 0h4m55 0h1m1 0h1m3 0h1m8 0h1m5 0h1m2 0h2m1 0h1m4 0h1m1 0h2m1 0h3m8 0h2m2 0h1M14 135h1m1 0h1m2 0h2m4 0h2m3 0h2m40 0h3m3 0h3m2 0h2m2 0h1m6 0h1m2 0h1m7 0h1m7 0h1m2 0h1m1 0h1m1 0h3m19 0h1M10 136h1m5 0h1m1 0h1m4 0h1m6 0h1m4 0h1m35 0h2m1 0h1m3 0h1m2 0h3m3 0h1m7 0h3m1 0h1m1 0h1m2 0h2m16 0h1m11 0h1M18 137h1m1 0h1m3 0h2m1 0h2m1 0h2m25 0h1m14 0h2m1 0h1m1 0h1m2 0h1m3 0h2m7 0h5m4 0h4m2 0h1m4 0h1m1 0h1m1 0h1m5 0h1m2 0h1m5 0h1M17 138h1m2 0h1m1 0h2m10 0h2m28 0h1m1 0h1m1 0h1m1 0h1m11 0h3m11 0h1m2 0h2m2 0h1m1 0h1m5 0h1m2 0h1m2 0h1m4 0h1m2 0h1m6 0h1m1 0h1m2 0h1M20 139h2m1 0h2m1 0h1m1 0h1m1 0h1m35 0h1m3 0h1m4 0h2m14 0h1m6 0h1m3 0h1m2 0h1m1 0h1m2 0h1m3 0h1m2 0h1m3 0h2m1 0h1m12 0h1M13 140h1m4 0h3m2 0h2m5 0h2m4 0h1m34 0h1m12 0h1m4 0h2m2 0h1m8 0h4m1 0h1m2 0h3m3 0h3m1 0h3m9 0h1m8 0h1M0 141h1m8 0h1m8 0h1m3 0h2m1 0h1m2 0h1m7 0h1m26 0h1m5 0h4m9 0h1m4 0h1m1 0h1m3 0h1m1 0h1m5 0h1m5 0h3m2 0h2m1 0h1m1 0h3m8 0h1M16 142h2m2 0h2m2 0h1m3 0h1m42 0h1m4 0h1m1 0h2m4 0h1m2 0h1m5 0h1m2 0h1m1 0h1m2 0h1m1 0h2m10 0h1m1 0h2m5 0h1M8 143h1m1 0h2m6 0h1m2 0h1m1 0h1m3 0h1m35 0h1m2 0h1m1 0h1m2 0h1m1 0h2m1 0h2m4 0h1m7 0h1m4 0h1m4 0h1m4 0h1m8 0h1m5 0h1m11 0h1M0 144h1m11 0h1m1 0h2m1 0h2m3 0h3m37 0h1m6 0h1m2 0h1m1 0h2m1 0h1m1 0h1m7 0h1m2 0h1m1 0h2m2 0h1m3 0h2m1 0h1m5 0h2m6 0h1m12 0h1m8 0h1M8 145h1m10 0h1m5 0h1m34 0h1m6 0h1m2 0h1m2 0h2m8 0h1m11 0h1m3 0h1m7 0h2m2 0h1m15 0h1M4 146h1m14 0h1m1 0h1m2 0h2m1 0h1m40 0h1m2 0h1m4 0h1m9 0h1m1 0h1m8 0h1m1 0h1m7 0h1m8 0h1m6 0h1m6 0h1M7 147h1m1 0h1m4 0h1m7 0h3m2 0h1m27 0h1m9 0h1m2 0h2m7 0h1m18 0h2m2 0h2m1 0h2m1 0h1m7 0h1m8 0h1M9 148h2m3 0h3m2 0h1m36 0h1m5 0h1m2 0h1m1 0h1m1 0h1m13 0h1m3 0h1m2 0h1m2 0h2m6 0h1m4 0h1m7 0h2m3 0h1m6 0h1m2 0h1M1 149h1m3 0h1m11 0h4m3 0h1m37 0h1m2 0h3m1 0h1m3 0h2m13 0h1m15 0h1m4 0h1m2 0h1m3 0h1M4 150h1m2 0h1m7 0h2m2 0h1m9 0h1m33 0h1m1 0h1m8 0h1m1 0h1m14 0h1m4 0h1m1 0h1m3 0h1m9 0h1M9 151h1m4 0h2m1 0h1m1 0h2m45 0h1m2 0h3m2 0h1m2 0h1m8 0h1m11 0h1m16 0h1m15 0h1M5 152h1m2 0h1m7 0h1m1 0h1m5 0h1m33 0h1m1 0h1m1 0h2m3 0h1m1 0h3m27 0h1m7 0h1M9 153h1m2 0h1m5 0h1m6 0h1m30 0h1m6 0h1m2 0h1m2 0h1m16 0h1m10 0h1M6 154h1m3 0h2m3 0h2m1 0h2m5 0h1m35 0h2m7 0h1m3 0h2m20 0h1m2 0h1m2 0h1m21 0h1m7 0h1M6 155h1m2 0h1m2 0h1m2 0h1m2 0h3m6 0h1m29 0h1m3 0h1m1 0h1m3 0h2m28 0h1m3 0h2m11 0h1m4 0h1m10 0h1M9 156h2m3 0h1m8 0h1m8 0h1m18 0h2m4 0h1m1 0h1m2 0h1m2 0h1m14 0h1m22 0h1m6 0h1m5 0h1m10 0h1M2 157h1m2 0h1m2 0h1m2 0h1m2 0h1m3 0h2m26 0h1m8 0h1m1 0h1m4 0h2m1 0h2m2 0h1m28 0h1m6 0h1m16 0h1M8 158h1m6 0h2m1 0h2m36 0h1m1 0h2m4 0h1m18 0h1m3 0h1m15 0h1m8 0h1M7 159h4m1 0h1m2 0h4m7 0h1m31 0h1m1 0h1m1 0h1m2 0h1m1 0h1m16 0h1m13 0h1m2 0h1m1 0h1m8 0h1M5 160h1m3 0h1m5 0h1m1 0h1m33 0h1m6 0h1m4 0h1m1 0h1m10 0h1m24 0h1M7 161h1m2 0h2m12 0h1m24 0h1m1 0h2m6 0h1m1 0h1m1 0h1m4 0h3m3 0h1m19 0h1m21 0h1M5 162h1m4 0h1m1 0h1m5 0h1m2 0h2m25 0h1m2 0h1m2 0h1m4 0h2m3 0h1m4 0h1m14 0h1m9 0h1m20 0h1M2 163h2m4 0h3m12 0h1m27 0h1m1 0h2m6 0h1m13 0h1m13 0h1m22 0h2m1 0h1M8 164h1m1 0h1m1 0h1m1 0h3m4 0h2m4 0h1m13 0h1m12 0h2m1 0h1m4 0h1m2 0h1m8 0h1m31 0h1M0 165h1m3 0h3m1 0h1m4 0h2m1 0h2m1 0h1m25 0h2m1 0h4m1 0h1m1 0h2m1 0h4m2 0h1m1 0h3M2 166h2m12 0h3m2 0h1m9 0h1m12 0h1m8 0h1m4 0h2m30 0h1M4 167h1m1 0h1m2 0h1m2 0h1m6 0h1m4 0h2m18 0h1m2 0h1m1 0h3m2 0h2m4 0h4m12 0h1m12 0h1M7 168h1m1 0h1m6 0h1m1 0h1m16 0h1m2 0h1m1 0h1m1 0h1m6 0h1m2 0h1m8 0h1m4 0h1m29 0h2M2 169h1m1 0h1m1 0h1m3 0h1m2 0h1m1 0h1m2 0h1m4 0h1m13 0h1m4 0h2m1 0h5m2 0h1m1 0h2m2 0h1M6 170h1m13 0h1m11 0h1m2 0h1m5 0h1m1 0h2m7 0h1m5 0h2m38 0h1m26 0h1M5 171h1m1 0h1m1 0h1m2 0h1m4 0h1m3 0h1m15 0h3m1 0h1m4 0h1m1 0h2m1 0h1m7 0h1m36 0h1M5 172h1m8 0h1m1 0h1m1 0h1m5 0h1m2 0h1m5 0h1m4 0h1m4 0h1m1 0h1m3 0h3m4 0h1M7 173h2m3 0h1m1 0h1m3 0h1m10 0h2m5 0h1m9 0h1m1 0h1m1 0h2m1 0h1m2 0h1m47 0h1m2 0h1M7 174h1m1 0h2m2 0h1m1 0h4m9 0h2m1 0h1m3 0h1m2 0h1m4 0h1m1 0h1m2 0h1m2 0h1m2 0h1m6 0h1m24 0h1m1 0h1M3 175h1m1 0h1m1 0h1m7 0h1m7 0h1m2 0h1m1 0h2m1 0h1m3 0h1m5 0h2m9 0h1m65 0h1" stroke-opacity=".42"/><path d="M118 21h1M116 36h1m16 0h1M117 37h1M124 38h1M145 39h1M121 40h1m1 0h1m16 0h1M129 41h1m10 0h2M127 42h1m6 0h1M110 43h1M106 46h1M116 48h1m1 0h2m20 0h1M143 49h1M117 50h1m14 0h1M120 51h2m6 0h1m15 0h1M114 52h1m11 0h1m8 0h1m4 0h1m11 0h1M113 53h1m1 0h1m3 0h1M105 54h1m5 0h1m3 0h1m5 0h1m3 0h1m2 0h2M96 55h1m14 0h1m3 0h1m11 0h1M107 56h1m8 0h2m10 0h1m7 0h1m9 0h1M104 57h1M106 58h1m8 0h1m3 0h1M106 59h1m8 0h1m2 0h1m3 0h1m5 0h1m8 0h1M112 60h1m2 0h1m7 0h1m14 0h1M102 61h1m2 0h1m3 0h1m1 0h1m11 0h1m7 0h2M111 62h2m6 0h1m2 0h3m2 0h2m2 0h1M95 63h1m6 0h1m2 0h1m6 0h2m2 0h1m4 0h1m2 0h1M114 64h1m7 0h1m1 0h1m4 0h1m6 0h1m18 0h1M98 65h1m9 0h1m4 0h1m1 0h1m7 0h1m6 0h1m2 0h1M108 66h3m2 0h2m9 0h1m2 0h1m3 0h1m2 0h1M99 67h1m4 0h1m6 0h1m3 0h1m3 0h1m2 0h1m4 0h1m1 0h2M121 68h4m1 0h1M104 69h2m2 0h2m1 0h2m1 0h1m10 0h1m2 0h2m1 0h1m7 0h1M93 70h3m7 0h1m3 0h1m1 0h1m3 0h1m5 0h1m3 0h2m3 0h1m6 0h2M104 71h1m3 0h1m17 0h3m3 0h2m1 0h1M93 72h1m1 0h2m11 0h1m4 0h3m1 0h1m1 0h1m5 0h1M107 73h1m1 0h1m1 0h1m1 0h1m17 0h1m13 0h1M97 74h1m11 0h1m1 0h1m1 0h4m4 0h1m8 0h1m1 0h1m18 0h1M105 75h1m2 0h4m4 0h2m1 0h1m4 0h2m2 0h1m3 0h1m8 0h1M93 76h1m4 0h2m3 0h1m1 0h1m4 0h1m2 0h1m13 0h1m3 0h1m3 0h1M101 77h2m2 0h2m1 0h1m3 0h1m2 0h1m5 0h1m2 0h3m7 0h1m4 0h1M94 78h1m12 0h2m8 0h1m2 0h4m3 0h2m1 0h1m2 0h1m2 0h1M88 79h1m15 0h1m1 0h1m4 0h1m9 0h2m7 0h1M92 80h1m10 0h1m9 0h1m3 0h1m10 0h1m5 0h1m8 0h1M93 81h2m18 0h1m2 0h2m5 0h1m3 0h1M100 82h1m12 0h1m9 0h1M84 83h1m9 0h1m9 0h2m2 0h1m8 0h2m24 0h1M110 84h2m2 0h1m2 0h1m3 0h1m10 0h1M102 85h1m32 0h1m7 0h1M115 86h1m2 0h1m3 0h1m1 0h2m3 0h1M106 87h1m2 0h2m5 0h1m2 0h2m3 0h1m2 0h1m6 0h1M103 88h1m10 0h1M133 89h1M97 90h1m19 0h1m13 0h1M109 91h1m1 0h1m14 0h1m5 0h1M90 92h1M96 94h1m31 0h1m9 0h1M91 95h1m5 0h1m12 0h1M89 96h1m15 0h1m4 0h1m11 0h2M113 97h1m4 0h2m4 0h1m3 0h1M103 98h1m25 0h1M83 99h1m27 0h1m4 0h1m4 0h1m7 0h1M85 100h1M74 101h1m34 0h1m11 0h1m11 0h1M71 102h1m1 0h1m1 0h1m16 0h1m12 0h1m19 0h1M76 103h1m41 0h1M92 104h1m21 0h1M63 105h1m12 0h1m7 0h1m24 0h1m17 0h1m3 0h1M93 106h1m26 0h1m10 0h1M53 107h1m1 0h1m5 0h1m7 0h1m36 0h1M56 108h1m6 0h2m1 0h1m5 0h2m16 0h1m37 0h1M66 109h1m2 0h1m11 0h1m30 0h1m25 0h1M56 110h1m7 0h1m5 0h1m1 0h1m1 0h1m7 0h1m7 0h1m5 0h1m13 0h1m2 0h2M53 111h1m3 0h1m1 0h2m10 0h1m5 0h1m4 0h1m2 0h1m14 0h1m22 0h1M39 112h1m25 0h1m2 0h2m2 0h1m4 0h1m44 0h2m12 0h1M46 113h1m1 0h1m3 0h2m3 0h1m11 0h1m1 0h2m5 0h1m19 0h1m14 0h1m13 0h1m3 0h1M39 114h1m4 0h1m3 0h1m3 0h1m5 0h1m1 0h1m2 0h1m2 0h1m20 0h1m1 0h1m5 0h1m27 0h1M49 115h1m1 0h1m1 0h1m1 0h1m4 0h2m8 0h1m1 0h1m12 0h1m31 0h1m10 0h1M40 116h1m11 0h1m1 0h4m7 0h1m1 0h1m3 0h1m4 0h1m6 0h1m2 0h1m9 0h1m3 0h1m4 0h1M48 117h1m2 0h2m4 0h3m2 0h1m2 0h1m2 0h1m25 0h2m34 0h1M41 118h1m7 0h3m1 0h2m6 0h1m6 0h1m2 0h2m5 0h2m3 0h1m26 0h1m4 0h1M44 119h3m14 0h1m7 0h2m2 0h2m40 0h1m8 0h1M37 120h3m4 0h1m1 0h1m4 0h1m6 0h1m2 0h1m3 0h1m2 0h1m5 0h2m1 0h1m7 0h1m3 0h1m4 0h1m4 0h1m5 0h1m3 0h1m3 0h1m1 0h2m2 0h1M44 121h1m6 0h1m2 0h1m8 0h1m6 0h1m2 0h1m4 0h1m2 0h1m11 0h1m1 0h1m10 0h1m17 0h1M34 122h1m5 0h2m4 0h1m2 0h1m12 0h1m5 0h3m2 0h1m6 0h1m2 0h2m3 0h1m2 0h1m10 0h1m10 0h1m2 0h1M42 123h1m11 0h1m4 0h1m3 0h1m2 0h1m7 0h2m2 0h1m6 0h1m5 0h1m3 0h2m16 0h1m1 0h1m9 0h1M35 124h1m7 0h3m2 0h1m1 0h2m7 0h1m3 0h1m2 0h1m2 0h1m2 0h2m10 0h1m7 0h1m2 0h1m9 0h2m9 0h1M27 125h1m6 0h1m2 0h1m2 0h1m15 0h1m6 0h1m2 0h1m12 0h1m17 0h2m7 0h1m10 0h1m2 0h1M37 126h1m9 0h2m1 0h2m17 0h1m4 0h2m1 0h1m33 0h1m2 0h1m7 0h1M36 127h2m4 0h1m4 0h1m15 0h1m2 0h2m2 0h1m16 0h1m5 0h1m11 0h1m6 0h1m4 0h1M26 128h1m2 0h1m1 0h1m3 0h2m11 0h1m9 0h1m1 0h1m9 0h2m13 0h1m11 0h1m14 0h1m4 0h1M30 129h1m1 0h1m3 0h1m5 0h1m3 0h1m1 0h1m16 0h1m1 0h1m4 0h1m2 0h1m8 0h3m2 0h1m13 0h1m17 0h1M23 130h1m9 0h2m1 0h2m1 0h1m27 0h2m2 0h4m2 0h2m16 0h1m3 0h1m3 0h1M25 131h1m3 0h1m6 0h1m32 0h1m2 0h1m2 0h2m33 0h1m2 0h1m3 0h1M25 132h1m6 0h1m1 0h1m2 0h1m2 0h1m4 0h1m27 0h2m1 0h1m7 0h1m16 0h1m1 0h1m11 0h1M25 133h1m35 0h1m8 0h1m40 0h1m14 0h1M23 134h1m4 0h1m5 0h1m34 0h3m1 0h1m3 0h1m4 0h1m17 0h1M23 135h1m3 0h1m4 0h1m1 0h2m12 0h1m14 0h1m7 0h1m5 0h1m8 0h1m8 0h1m16 0h1M28 136h2m1 0h3m3 0h1m2 0h1m11 0h1m3 0h1m9 0h1m3 0h1m8 0h1m10 0h1m9 0h1m5 0h1m4 0h1m3 0h1M22 137h1m6 0h1m8 0h1m26 0h1m13 0h1M13 138h1m17 0h1m1 0h1m35 0h1m1 0h1m3 0h1m12 0h1m2 0h1m18 0h1m22 0h1M27 139h1m5 0h1m37 0h1m2 0h1m10 0h1m4 0h1m5 0h1M27 140h2m3 0h1m33 0h1m1 0h1m5 0h1m7 0h1m13 0h1m12 0h1m4 0h1M21 141h1m7 0h1m1 0h1m3 0h1m30 0h1m1 0h1m10 0h1m14 0h1m29 0h1M15 142h1m35 0h1m13 0h1m7 0h1m34 0h1M17 143h1m14 0h2m31 0h1m1 0h1m19 0h1M29 144h1m36 0h1m4 0h1M18 145h1m3 0h1m5 0h2m28 0h1m5 0h1m4 0h1m1 0h1M18 146h1m3 0h1m12 0h1m25 0h1m2 0h2m12 0h1m25 0h1m1 0h1m1 0h1M19 147h2m39 0h1m3 0h1m1 0h1M17 148h2m4 0h1m1 0h1m8 0h1m29 0h1m3 0h1m2 0h2M9 149h1m54 0h1m6 0h1m10 0h1m20 0h1M17 150h1m4 0h2m7 0h1m18 0h1m5 0h1m3 0h3m12 0h1m18 0h1m11 0h1M18 151h1m2 0h2m1 0h1m1 0h1m1 0h1m29 0h2m4 0h1m10 0h1M9 152h1m4 0h1m8 0h1m32 0h1m4 0h1m2 0h1m1 0h1M17 153h1m2 0h2m12 0h1m24 0h1m4 0h1M12 154h1m10 0h1m30 0h1m10 0h1m2 0h1M5 155h1m7 0h1m3 0h1m38 0h1m1 0h1m3 0h1m2 0h1m6 0h1M12 156h1m3 0h4m1 0h1m34 0h1m1 0h1m1 0h1m6 0h1M12 157h1m2 0h2m11 0h1m20 0h1m3 0h2m6 0h1m2 0h1m16 0h1M9 158h1m2 0h1m1 0h1m2 0h1m2 0h1m1 0h1m26 0h1m4 0h1m6 0h1m1 0h1M20 159h1m2 0h1m3 0h1m3 0h1m20 0h1M12 160h1m8 0h1m1 0h3m4 0h1m7 0h1m10 0h1m5 0h1m3 0h2M12 161h1m5 0h1m2 0h1m1 0h1m21 0h1m1 0h1m2 0h1m2 0h1M16 162h2m5 0h2m1 0h1m16 0h2m11 0h1m1 0h1M15 163h1m4 0h1m3 0h1m2 0h1m10 0h1m1 0h1m3 0h1m3 0h1m9 0h1M13 164h1m17 0h1m2 0h1m8 0h1m2 0h3m1 0h1m1 0h1m3 0h1M18 165h1m1 0h1m2 0h1m2 0h1m2 0h1m3 0h1m13 0h1M15 166h1m3 0h1m10 0h1m12 0h1m1 0h2m1 0h2m2 0h1m2 0h1M10 167h1m6 0h2m2 0h1m1 0h1m3 0h1m2 0h1m11 0h1m10 0h1M10 168h5m5 0h1m9 0h1m10 0h1m3 0h1m2 0h1m2 0h1m2 0h1M20 169h1m8 0h1m2 0h1m1 0h2m5 0h1m2 0h1m11 0h1m35 0h1M2 170h1m10 0h3m5 0h1m5 0h1m2 0h1m2 0h2m2 0h1m1 0h1M14 171h1m1 0h1m2 0h2m3 0h1m2 0h1m2 0h4m2 0h1m3 0h1m4 0h1m7 0h1m2 0h1M13 172h1m1 0h1m4 0h1m7 0h1m8 0h1m4 0h1m5 0h1M6 173h1m3 0h2m1 0h1m2 0h2m13 0h1m1 0h2m4 0h1m2 0h1m2 0h1M20 174h1m2 0h1m1 0h1m6 0h1m4 0h1m9 0h1M11 175h1m5 0h1m1 0h1m4 0h1m7 0h1m4 0h1m2 0h1" stroke-opacity=".72"/><path d="M123 49h1M122 50h1m6 0h1M115 52h1M114 54h1M110 55h1m2 0h1m3 0h1M130 57h1M105 58h1m6 0h1m1 0h1m2 0h2m5 0h1m2 0h1M109 59h1m1 0h1m5 0h1m2 0h1m3 0h1m6 0h1M102 60h1m5 0h2m6 0h1m1 0h2m2 0h1m5 0h1M106 61h1m8 0h3m3 0h1m24 0h1M106 62h1m6 0h1m2 0h1m4 0h1M109 63h3m5 0h2m3 0h1m2 0h3m5 0h1M109 64h1m1 0h1m1 0h1m2 0h1m1 0h4M109 65h1m2 0h1m3 0h1m1 0h1m1 0h2m4 0h1m1 0h2M102 66h1m12 0h2m1 0h3m2 0h1M106 67h1m1 0h1m1 0h1m1 0h1m3 0h3m4 0h1m4 0h1m2 0h1M99 68h1m8 0h1m4 0h8m8 0h1m4 0h1m2 0h1M101 69h1m1 0h1m3 0h1m9 0h2m1 0h3m1 0h1m2 0h1M105 70h1m4 0h1m1 0h1m1 0h1m1 0h3m2 0h2m2 0h1m1 0h1m1 0h1m1 0h1m2 0h1M107 71h1m1 0h4m1 0h1m1 0h7m1 0h1m4 0h1M111 72h1m4 0h1m3 0h3m4 0h2M112 73h1m1 0h3m2 0h2m1 0h3m5 0h1m1 0h1M100 74h1m6 0h1m9 0h3m2 0h2M131 75h1M109 76h1m1 0h2m4 0h1m2 0h2m1 0h1m9 0h1M114 77h1m5 0h1M119 78h1m6 0h1m4 0h1M115 79h1m8 0h1M122 80h1M104 81h1m15 0h1M117 82h1M112 83h1M127 85h1m4 0h1M126 87h1M111 93h1M83 94h1M108 96h1M87 97h1M114 100h1M126 102h1M68 105h1M72 107h1M71 110h1m1 0h1m43 0h1M51 111h1m17 0h2m17 0h1m6 0h1m2 0h1M55 112h1m4 0h1m1 0h2m2 0h1m3 0h1m4 0h1m32 0h1m3 0h1M47 113h1m14 0h1m1 0h2m1 0h1m6 0h2m11 0h1M68 114h1m1 0h1M52 115h1m3 0h1m5 0h2m1 0h1m1 0h1m3 0h1m7 0h1M36 116h1m14 0h1m14 0h1m3 0h1m1 0h1m39 0h1M50 117h1m4 0h2m3 0h2m1 0h1m2 0h1m3 0h3m36 0h1m8 0h1M52 118h1m3 0h1m1 0h1m1 0h1m2 0h2m2 0h1m2 0h1m3 0h1m2 0h1m26 0h1m3 0h1m2 0h1M51 119h1m2 0h2m1 0h4m1 0h5m9 0h1m1 0h2m8 0h1M43 120h1m1 0h1m2 0h2m2 0h2m2 0h1m3 0h1m1 0h1m1 0h1m2 0h1m1 0h1m1 0h3M45 121h3m2 0h1m1 0h1m2 0h8m1 0h3m5 0h1m1 0h1m1 0h1m3 0h1M38 122h1m5 0h1m2 0h2m1 0h1m2 0h9m1 0h5m3 0h2m8 0h1M36 123h1m9 0h8m1 0h4m1 0h3m1 0h2m1 0h2m1 0h2m5 0h1m31 0h1M42 124h1m4 0h1m4 0h4m1 0h2m1 0h3m1 0h2m1 0h2m2 0h1m4 0h1m17 0h1m6 0h1m5 0h1M41 125h1m1 0h1m1 0h11m1 0h2m3 0h1m1 0h2m1 0h2m3 0h2m7 0h1M38 126h1m1 0h1m1 0h1m2 0h1m3 0h1m2 0h14m1 0h2m1 0h1m34 0h1M39 127h1m4 0h3m1 0h15m1 0h2m2 0h1m4 0h1m6 0h1M40 128h8m1 0h9m3 0h2m1 0h4m1 0h1m2 0h1m4 0h1m1 0h1M34 129h2m7 0h3m1 0h1m1 0h16m1 0h1m3 0h1m2 0h1m3 0h1M40 130h5m1 0h17m1 0h3m2 0h2M37 131h1m1 0h4m1 0h17m1 0h7m1 0h2m23 0h1m22 0h1M30 132h1m4 0h2m1 0h2m1 0h4m1 0h20m1 0h4m1 0h1m4 0h1M29 133h1m3 0h1m2 0h2m1 0h22m1 0h8m1 0h1m1 0h1m22 0h1M31 134h1m1 0h1m1 0h34m6 0h1M28 135h1m4 0h1m2 0h12m1 0h14m1 0h7m4 0h1M27 136h1m6 0h1m1 0h1m1 0h2m1 0h11m1 0h3m1 0h9m1 0h3m3 0h1m28 0h1m22 0h1M32 137h6m1 0h18m1 0h7m1 0h5m3 0h1m3 0h1m2 0h1M26 138h5m1 0h1m3 0h28m1 0h1m7 0h1m2 0h1M22 139h1m6 0h1m1 0h2m1 0h32m1 0h3m3 0h1m4 0h1M21 140h2m3 0h1m2 0h1m3 0h3m1 0h29m1 0h1m1 0h1M26 141h2m4 0h3m2 0h26m1 0h1m2 0h1m7 0h1m15 0h1m11 0h1m2 0h1M19 142h1m2 0h2m2 0h2m1 0h22m1 0h13m1 0h1m1 0h1m1 0h1m26 0h1M22 143h1m2 0h2m1 0h4m2 0h29m1 0h1m4 0h1m39 0h1M19 144h1m5 0h4m1 0h32m1 0h3m1 0h2M23 145h1m2 0h2m2 0h28m1 0h1m1 0h3m1 0h2m1 0h1M23 146h1m4 0h7m1 0h25m2 0h1m2 0h2m2 0h1M21 147h1m3 0h2m1 0h27m1 0h4m1 0h3M20 148h1m1 0h1m1 0h1m1 0h8m1 0h21m1 0h5m1 0h1m2 0h1M21 149h2m2 0h37m1 0h1M20 150h2m2 0h5m1 0h1m1 0h18m1 0h5m1 0h3m4 0h1m5 0h1M23 151h1m1 0h1m1 0h1m1 0h29m2 0h3m2 0h1M19 152h2m1 0h1m2 0h1m1 0h29m1 0h1m1 0h1m5 0h1m2 0h1M19 153h1m2 0h3m1 0h8m1 0h21m1 0h2m1 0h1m1 0h1m9 0h1m32 0h1M20 154h1m1 0h1m1 0h1m1 0h28m1 0h4m5 0h1M16 155h1m4 0h4m1 0h1m1 0h28m3 0h1M22 156h1m1 0h8m1 0h18m2 0h3m5 0h1M20 157h6m1 0h1m1 0h17m1 0h2m1 0h3m3 0h1M21 158h1m1 0h26m1 0h4m3 0h1M14 159h1m4 0h1m1 0h2m1 0h2m2 0h3m1 0h20m1 0h2m1 0h2M10 160h1m7 0h3m1 0h1m3 0h4m1 0h7m1 0h10m1 0h1m1 0h3m1 0h2M16 161h2m1 0h2m1 0h1m2 0h3m1 0h16m1 0h1m1 0h1m5 0h1m1 0h1M11 162h1m7 0h1m5 0h1m1 0h16m2 0h3m1 0h2m2 0h1M17 163h2m2 0h2m2 0h2m1 0h10m1 0h1m1 0h3m1 0h3m1 0h2m1 0h1m2 0h1M11 164h1m5 0h4m2 0h4m1 0h3m1 0h2m1 0h6m1 0h1m1 0h2m3 0h1m1 0h1M15 165h1m5 0h2m1 0h2m1 0h2m1 0h1m1 0h1m1 0h11m7 0h1M20 166h1m1 0h8m2 0h10m5 0h1M14 167h3m3 0h1m1 0h1m5 0h2m1 0h11m3 0h1m2 0h1M15 168h1m3 0h1m1 0h1m1 0h4m1 0h2m1 0h4m1 0h2m1 0h1m3 0h2M12 169h1m1 0h1m1 0h1m2 0h1m2 0h1m1 0h5m1 0h2m1 0h1m2 0h1m2 0h2M16 170h1m1 0h2m2 0h4m2 0h2m1 0h1m4 0h1m3 0h1m1 0h1m4 0h1m9 0h1M23 171h1m1 0h2m1 0h1m5 0h2M8 172h1m2 0h1m9 0h3m1 0h2m2 0h4m1 0h1m1 0h1m4 0h1M20 173h1m2 0h1m1 0h4m6 0h1m5 0h1M14 174h1m6 0h2m1 0h1m1 0h2m2 0h1m3 0h1M12 175h1m5 0h1m6 0h1m1 0h1m2 0h1m8 0h1m7 0h1"/></g>
<rect x="602.4" y="2274.8" width="344.7" height="353.7" fill="none" stroke="#707070" stroke-width="2"/>
<line x1="780.1" y1="2274.8" x2="780.1" y2="2628.5" stroke="#555" stroke-width="1.8"/>
<line x1="602.4" y1="2475.6" x2="947.1" y2="2475.6" stroke="#555" stroke-width="1.8"/>
<path d="M602.4 2628.5v8M602.4 2628.5h-8M628.3 2628.5v4.5M602.4 2601.9h-4.5M643.5 2628.5v4.5M602.4 2586.3h-4.5M654.3 2628.5v4.5M602.4 2575.3h-4.5M662.6 2628.5v4.5M602.4 2566.7h-4.5M669.5 2628.5v4.5M602.4 2559.7h-4.5M675.2 2628.5v4.5M602.4 2553.8h-4.5M680.2 2628.5v4.5M602.4 2548.6h-4.5M684.6 2628.5v4.5M602.4 2544.1h-4.5M688.6 2628.5v8M602.4 2540.1h-8M714.5 2628.5v4.5M602.4 2513.5h-4.5M729.7 2628.5v4.5M602.4 2497.9h-4.5M740.5 2628.5v4.5M602.4 2486.8h-4.5M748.8 2628.5v4.5M602.4 2478.3h-4.5M755.6 2628.5v4.5M602.4 2471.3h-4.5M761.4 2628.5v4.5M602.4 2465.3h-4.5M766.4 2628.5v4.5M602.4 2460.2h-4.5M770.8 2628.5v4.5M602.4 2455.7h-4.5M774.8 2628.5v8M602.4 2451.7h-8M800.7 2628.5v4.5M602.4 2425.0h-4.5M815.9 2628.5v4.5M602.4 2409.5h-4.5M826.6 2628.5v4.5M602.4 2398.4h-4.5M835.0 2628.5v4.5M602.4 2389.8h-4.5M841.8 2628.5v4.5M602.4 2382.8h-4.5M847.6 2628.5v4.5M602.4 2376.9h-4.5M852.6 2628.5v4.5M602.4 2371.8h-4.5M857.0 2628.5v4.5M602.4 2367.3h-4.5M860.9 2628.5v8M602.4 2363.2h-8M886.9 2628.5v4.5M602.4 2336.6h-4.5M902.0 2628.5v4.5M602.4 2321.0h-4.5M912.8 2628.5v4.5M602.4 2310.0h-4.5M921.2 2628.5v4.5M602.4 2301.4h-4.5M928.0 2628.5v4.5M602.4 2294.4h-4.5M933.8 2628.5v4.5M602.4 2288.5h-4.5M938.7 2628.5v4.5M602.4 2283.4h-4.5M943.2 2628.5v4.5M602.4 2278.8h-4.5M947.1 2628.5v8M602.4 2274.8h-8" stroke="#555" stroke-width="1.6" fill="none"/>
<text x="604.4" y="2658.5" font-size="15" font-weight="bold" fill="#222" text-anchor="middle">10<tspan font-size="9" dy="-6">0</tspan></text>
<text x="586.4" y="2629.5" font-size="15" font-weight="bold" fill="#222" text-anchor="middle" transform="rotate(-90 586.4 2629.5)">10<tspan font-size="9" dy="-6">0</tspan></text>
<text x="690.6" y="2658.5" font-size="15" font-weight="bold" fill="#222" text-anchor="middle">10<tspan font-size="9" dy="-6">1</tspan></text>
<text x="586.4" y="2541.1" font-size="15" font-weight="bold" fill="#222" text-anchor="middle" transform="rotate(-90 586.4 2541.1)">10<tspan font-size="9" dy="-6">1</tspan></text>
<text x="776.8" y="2658.5" font-size="15" font-weight="bold" fill="#222" text-anchor="middle">10<tspan font-size="9" dy="-6">2</tspan></text>
<text x="586.4" y="2452.7" font-size="15" font-weight="bold" fill="#222" text-anchor="middle" transform="rotate(-90 586.4 2452.7)">10<tspan font-size="9" dy="-6">2</tspan></text>
<text x="862.9" y="2658.5" font-size="15" font-weight="bold" fill="#222" text-anchor="middle">10<tspan font-size="9" dy="-6">3</tspan></text>
<text x="586.4" y="2364.2" font-size="15" font-weight="bold" fill="#222" text-anchor="middle" transform="rotate(-90 586.4 2364.2)">10<tspan font-size="9" dy="-6">3</tspan></text>
<text x="949.1" y="2658.5" font-size="15" font-weight="bold" fill="#222" text-anchor="middle">10<tspan font-size="9" dy="-6">4</tspan></text>
<text x="586.4" y="2275.8" font-size="15" font-weight="bold" fill="#222" text-anchor="middle" transform="rotate(-90 586.4 2275.8)">10<tspan font-size="9" dy="-6">4</tspan></text>
<g font-size="15.5" font-weight="bold" fill="#1a1a1a" letter-spacing="1.3"><text x="607.4" y="2295.8">Q1</text><text x="607.4" y="2315.8">0.36%</text><text x="883.1" y="2295.8">Q2</text><text x="883.1" y="2315.8">15.31%</text><text x="607.4" y="2600.5">Q4</text><text x="607.4" y="2621.5">77.52%</text><text x="883.1" y="2600.5">Q3</text><text x="883.1" y="2621.5">6.85%</text></g>
<text x="792.5" y="2247.8" font-size="26" text-anchor="middle">LND</text>
<g transform="translate(1007.5 2274.50) scale(2.0)" fill="none" stroke="#f00" stroke-width="1"><path d="M140 3h1M104 6h1M125 7h1M130 14h1m11 0h1m25 0h1M138 16h1M102 19h1M129 21h1M132 22h1M119 23h1m36 0h1m3 0h1M111 24h1m40 0h1M129 25h1m1 0h1m8 0h1m22 0h1M104 26h1m27 0h2m7 0h1M103 27h1m31 0h1m13 0h1M113 28h1m7 0h1m16 0h1m1 0h1M122 29h1m7 0h2m3 0h1m15 0h1M105 30h1m22 0h2m4 0h1m3 0h1m13 0h1m9 0h1M119 31h4m18 0h2m15 0h1M114 32h2m5 0h1m7 0h1m6 0h1m15 0h1m11 0h1M116 33h1m2 0h1m11 0h1m2 0h1m1 0h1m3 0h1m3 0h1M113 34h2m5 0h1m1 0h1m1 0h1m9 0h2m6 0h1m20 0h1m1 0h1M89 35h1m25 0h1m11 0h1m1 0h1m5 0h1m4 0h2m3 0h1m3 0h2M84 36h1m25 0h1m11 0h1m1 0h1m5 0h2m1 0h1m4 0h1m12 0h1m8 0h1M98 37h1m4 0h1m7 0h2m7 0h1m1 0h1m1 0h1m2 0h1m2 0h1m5 0h1m3 0h1m12 0h1m3 0h1M106 38h1m8 0h1m2 0h1m1 0h1m3 0h1m13 0h1m3 0h2m1 0h1m8 0h1M99 39h1m13 0h1m9 0h1m2 0h1m5 0h1m2 0h3m4 0h2m3 0h1m3 0h2m7 0h1M96 40h1m5 0h1m11 0h1m8 0h1m2 0h3m2 0h1m2 0h1m2 0h1m11 0h1M90 41h1m5 0h1m6 0h1m9 0h1m12 0h1m2 0h1m3 0h2m1 0h2m7 0h2m1 0h1m18 0h1M97 42h1m7 0h1m3 0h1m2 0h1m3 0h1m1 0h1m2 0h1m1 0h1m4 0h1m2 0h2m4 0h3m1 0h2m3 0h2m1 0h2m7 0h1m2 0h1M99 43h1m2 0h3m5 0h1m8 0h3m1 0h3m1 0h1m6 0h1m3 0h1m3 0h3m1 0h2m8 0h1m3 0h1M87 44h1m5 0h1m22 0h1m1 0h3m1 0h1m3 0h2m5 0h1m3 0h1m3 0h2m1 0h1m3 0h1m6 0h1M99 45h1m2 0h1m6 0h4m4 0h1m4 0h1m3 0h1m1 0h3m6 0h1m4 0h1m9 0h3m7 0h1M107 46h1m10 0h1m1 0h1m3 0h2m1 0h2m1 0h1m7 0h2m2 0h3m8 0h1M88 47h1m9 0h2m2 0h1m1 0h1m6 0h1m10 0h1m5 0h1m5 0h1m1 0h1m2 0h1m1 0h1m2 0h1m6 0h1M107 48h1m9 0h1m1 0h1m19 0h1m9 0h1m3 0h1m13 0h1M61 49h1m40 0h1m3 0h1m2 0h1m2 0h1m2 0h1m1 0h1m1 0h1m1 0h1m11 0h1m1 0h1m4 0h1m2 0h2m2 0h1m3 0h1M104 50h1m1 0h1m3 0h3m4 0h1m1 0h1m3 0h1m12 0h1m4 0h1m2 0h1M93 51h1m12 0h1m3 0h2m7 0h1m1 0h1m4 0h1m9 0h3m6 0h1m1 0h4m1 0h2m5 0h1m1 0h1m1 0h1M103 52h1m6 0h1m1 0h2m24 0h1m11 0h1m3 0h1m10 0h1M63 53h1m19 0h1m5 0h1m10 0h2m8 0h1m1 0h3m2 0h1m1 0h2m1 0h1m18 0h1m12 0h1m10 0h1M83 54h1m4 0h1m5 0h1m13 0h1m4 0h1m2 0h1m3 0h1m12 0h1m23 0h1m1 0h1m3 0h1M84 55h1m4 0h1m1 0h1m12 0h2m1 0h1m1 0h1m3 0h1m6 0h1m18 0h1m4 0h1m3 0h3m1 0h1M50 56h1m15 0h1m8 0h1m3 0h1m18 0h2m3 0h5m2 0h1m1 0h2m3 0h1m26 0h3m2 0h1m6 0h1m11 0h1M67 57h1m15 0h1m5 0h1m7 0h1m1 0h1m2 0h1m1 0h1m1 0h1m2 0h1m2 0h5m30 0h1m1 0h3m4 0h1m5 0h1m4 0h1M87 58h1m5 0h1m6 0h1m4 0h2m1 0h2m29 0h1m15 0h1M69 59h1m27 0h1m5 0h1m4 0h1m3 0h1m2 0h2m4 0h1m18 0h2m2 0h1m1 0h1m4 0h1m8 0h2m9 0h1M67 60h1m28 0h1m1 0h1m4 0h1m1 0h1m2 0h1m5 0h1m1 0h3m17 0h2m2 0h1m2 0h1m9 0h1m5 0h1M63 61h1m26 0h2m1 0h1m2 0h1m3 0h5m2 0h1m1 0h1m5 0h1m2 0h2m7 0h1m11 0h2m3 0h1M65 62h1m14 0h2m10 0h1m1 0h1m7 0h1m1 0h3m1 0h3m1 0h1m1 0h1m10 0h1m8 0h1m4 0h1m1 0h1m1 0h3m6 0h1m13 0h1M62 63h1m2 0h1m22 0h1m2 0h1m3 0h1m1 0h2m1 0h1m1 0h2m1 0h5m3 0h1m1 0h1m26 0h1m3 0h1m9 0h1M87 64h1m1 0h1m1 0h1m1 0h1m1 0h1m2 0h1m3 0h2m4 0h1m1 0h1m1 0h2m26 0h1m1 0h4m3 0h1m1 0h1m2 0h1m8 0h1M55 65h1m40 0h1m2 0h1m5 0h1m3 0h2m2 0h1m19 0h1m8 0h2m3 0h1M62 66h1m9 0h1m12 0h1m4 0h1m1 0h2m6 0h1m3 0h1m2 0h1m1 0h2m4 0h2m18 0h1m1 0h1m5 0h2m1 0h1m2 0h2m3 0h1M80 67h2m7 0h1m4 0h1m5 0h1m6 0h2m4 0h1m22 0h8m6 0h2m8 0h1m1 0h1m7 0h1M60 68h1m20 0h1m1 0h1m1 0h1m6 0h3m1 0h1m4 0h1m1 0h1m3 0h1m1 0h1m2 0h1m1 0h2m10 0h1m3 0h1m6 0h1m1 0h2m7 0h3m1 0h1M90 69h1m5 0h1m5 0h2m3 0h1m2 0h2m1 0h1m11 0h1m6 0h1m2 0h1m3 0h3m1 0h1m2 0h2m1 0h3M65 70h1m14 0h2m7 0h2m4 0h1m16 0h1m2 0h1m1 0h2m9 0h1m1 0h2m3 0h3m4 0h1m2 0h2m3 0h1m3 0h2M92 71h1m1 0h1m1 0h1m5 0h4m3 0h1m2 0h1m1 0h1m10 0h1m1 0h1m7 0h1m4 0h1m2 0h1m1 0h1m6 0h1m4 0h2M40 72h1m17 0h1m18 0h2m15 0h1m1 0h3m1 0h1m1 0h1m1 0h1m1 0h1m3 0h1m4 0h1m4 0h1m8 0h2m4 0h1m9 0h1m1 0h1m7 0h1M40 73h1m38 0h2m3 0h1m4 0h2m2 0h1m3 0h3m6 0h1m2 0h1m1 0h2m1 0h1m1 0h1m10 0h1m3 0h2m2 0h1m4 0h1m2 0h2m3 0h2m1 0h1M61 74h1m15 0h1m11 0h1m4 0h1m3 0h1m1 0h2m5 0h4m1 0h1m8 0h1m5 0h1m2 0h4m1 0h1m1 0h1m2 0h1m4 0h1m4 0h1m6 0h1M26 75h1m38 0h2m4 0h1m13 0h1m7 0h1m2 0h1m1 0h5m2 0h2m2 0h2m3 0h1m3 0h2m1 0h1m2 0h1m6 0h1m6 0h2M61 76h1m10 0h1m2 0h1m5 0h1m11 0h1m5 0h1m8 0h1m2 0h3m7 0h1m1 0h1m1 0h2m1 0h4m4 0h1m1 0h1m3 0h3m8 0h1m7 0h1M82 77h1m12 0h1m1 0h1m5 0h1m1 0h3m3 0h1m2 0h1m1 0h2m3 0h1m1 0h1m3 0h2m8 0h1m2 0h2m1 0h1m3 0h2m6 0h1m3 0h1M43 78h1m4 0h1m3 0h1m15 0h1m2 0h1m3 0h1m12 0h1m1 0h2m5 0h1m3 0h3m4 0h1m2 0h1m3 0h1m2 0h1m3 0h2m8 0h1m3 0h1m5 0h1m6 0h1m5 0h1M75 79h1m8 0h1m1 0h1m2 0h1m7 0h1m2 0h1m4 0h1m1 0h1m8 0h1m1 0h1m1 0h1m1 0h1m2 0h2m7 0h1m1 0h1m8 0h1m1 0h1m2 0h1m3 0h1m3 0h1m1 0h1M74 80h1m1 0h1m3 0h1m7 0h1m8 0h1m3 0h2m3 0h1m3 0h1m3 0h1m1 0h1m2 0h2m2 0h1m4 0h1m1 0h1m1 0h5m11 0h2m1 0h1m1 0h1M84 81h1m5 0h1m8 0h1m1 0h1m3 0h1m2 0h1m5 0h1m5 0h1m1 0h1m1 0h1m1 0h1m2 0h1m2 0h1m4 0h3m4 0h2M69 82h1m7 0h1m20 0h1m1 0h1m1 0h1m3 0h1m5 0h1m1 0h2m3 0h1m2 0h1m1 0h1m3 0h1m3 0h1m4 0h1m2 0h1m1 0h1m4 0h1m7 0h1m1 0h1m3 0h1M78 83h1m4 0h1m1 0h1m6 0h1m3 0h1m3 0h1m4 0h3m1 0h1m1 0h1m1 0h1m3 0h1m1 0h1m1 0h1m1 0h1m1 0h1m1 0h1m3 0h1m1 0h1m3 0h1m2 0h1m4 0h1m3 0h1m3 0h1m1 0h4m8 0h1M52 84h1m9 0h1m23 0h3m7 0h1m2 0h3m1 0h1m1 0h1m1 0h3m1 0h1m1 0h1m1 0h1m5 0h1m1 0h2m1 0h1m1 0h3m1 0h2m6 0h1m3 0h1m1 0h1M79 85h1m3 0h1m2 0h1m2 0h1m1 0h1m4 0h1m2 0h1m1 0h5m6 0h1m1 0h3m2 0h3m1 0h2m2 0h4m3 0h1m5 0h2m2 0h1m2 0h1m8 0h2m6 0h1M73 86h1m10 0h1m2 0h2m2 0h1m2 0h1m2 0h1m1 0h2m1 0h1m2 0h1m2 0h1m5 0h1m3 0h1m1 0h1m3 0h1m4 0h2m2 0h2m4 0h1m3 0h3m1 0h1m15 0h1M64 87h1m12 0h1m1 0h1m2 0h1m4 0h3m1 0h2m1 0h1m1 0h3m1 0h4m1 0h1m18 0h3m4 0h4m8 0h2m3 0h1M60 88h1m19 0h3m7 0h2m4 0h1m7 0h3m1 0h1m4 0h2m5 0h1m3 0h1m12 0h1m6 0h1m7 0h2M48 89h1m26 0h1m6 0h2m1 0h1m1 0h1m2 0h3m2 0h1m1 0h3m7 0h1m1 0h1m1 0h1m1 0h2m3 0h1m5 0h1m1 0h1m3 0h1m2 0h2m3 0h1m3 0h1m4 0h1m21 0h1M75 90h1m4 0h1m6 0h1m4 0h1m4 0h3m4 0h1m1 0h2m2 0h1m4 0h1m1 0h1m1 0h1m2 0h3m4 0h3m1 0h1m4 0h2m1 0h1m1 0h1m5 0h1M17 91h1m36 0h1m1 0h1m2 0h1m3 0h1m13 0h1m1 0h1m2 0h1m2 0h1m1 0h1m6 0h1m3 0h2m4 0h2m1 0h2m1 0h1m1 0h1m1 0h1m1 0h1m2 0h1m5 0h1m2 0h3m1 0h1m9 0h1m4 0h1m7 0h1m14 0h1M61 92h1m5 0h1m6 0h1m3 0h2m8 0h1m5 0h3m2 0h2m2 0h1m2 0h1m4 0h1m1 0h1m5 0h2m3 0h1m2 0h1m5 0h1m2 0h1m2 0h1m1 0h1m9 0h1M50 93h1m27 0h1m2 0h1m1 0h1m2 0h2m3 0h1m1 0h2m1 0h2m1 0h1m2 0h1m3 0h1m3 0h3m5 0h1m2 0h3m2 0h1m1 0h1m2 0h2m3 0h1m4 0h1m6 0h1M67 94h3m5 0h1m9 0h1m5 0h1m4 0h3m2 0h1m1 0h2m2 0h3m1 0h1m2 0h1m1 0h2m5 0h1m3 0h1m2 0h3m4 0h1m3 0h1m4 0h1m1 0h1M42 95h2m23 0h3m5 0h1m1 0h1m6 0h1m2 0h2m5 0h1m5 0h1m1 0h1m5 0h1m13 0h1m2 0h1m1 0h1m2 0h1m2 0h1m2 0h1m1 0h1M41 96h1m5 0h1m23 0h3m6 0h1m2 0h1m1 0h1m2 0h1m1 0h3m2 0h1m1 0h2m4 0h1m3 0h1m6 0h2m2 0h1m4 0h2m1 0h1m5 0h3m13 0h1m2 0h1m8 0h1M60 97h1m4 0h1m8 0h1m3 0h1m2 0h1m6 0h1m1 0h1m7 0h1m4 0h1m5 0h3m2 0h2m3 0h2m1 0h3m6 0h1m11 0h1m8 0h2M31 98h1m17 0h1m3 0h1m11 0h1m1 0h1m5 0h2m2 0h3m9 0h1m1 0h2m2 0h1m4 0h2m2 0h1m4 0h5m2 0h1m2 0h1m5 0h1m1 0h2m4 0h1m4 0h1M53 99h1m4 0h1m11 0h1m1 0h1m1 0h3m1 0h1m1 0h1m1 0h1m3 0h1m1 0h1m1 0h1m2 0h1m1 0h1m7 0h1m1 0h1m6 0h1m5 0h1m2 0h1m1 0h2m3 0h1m6 0h3m3 0h1m11 0h1M49 100h1m9 0h1m1 0h1m9 0h1m1 0h1m1 0h1m1 0h2m1 0h1m5 0h1m10 0h1m2 0h1m3 0h2m1 0h1m7 0h1m1 0h1m3 0h1m2 0h1m1 0h1m1 0h1m2 0h1M47 101h1m1 0h1m6 0h1m4 0h2m2 0h1m1 0h1m3 0h1m1 0h1m1 0h1m3 0h1m3 0h1m1 0h1m4 0h1m8 0h2m1 0h1m3 0h1m2 0h3m3 0h1m1 0h1m3 0h3m6 0h1m2 0h2m3 0h1m7 0h1M43 102h1m11 0h2m2 0h1m3 0h1m2 0h3m1 0h2m3 0h1m5 0h2m5 0h1m2 0h2m1 0h3m2 0h4m1 0h1m1 0h1m3 0h1m1 0h2m2 0h1m1 0h1m3 0h1m3 0h1m5 0h1m1 0h1m5 0h2M35 103h1m11 0h1m4 0h1m4 0h2m2 0h2m4 0h1m8 0h1m1 0h1m1 0h2m8 0h5m2 0h1m1 0h1m1 0h1m2 0h2m1 0h1m1 0h2m1 0h1m1 0h2m1 0h4m2 0h3m1 0h1m1 0h1m1 0h1m2 0h1m5 0h2m6 0h1m1 0h1M55 104h1m1 0h1m3 0h1m1 0h1m3 0h1m1 0h3m4 0h1m2 0h2m1 0h1m1 0h2m7 0h1m2 0h1m2 0h1m8 0h2m6 0h2m1 0h1m7 0h2m6 0h1m2 0h2M37 105h1m12 0h1m4 0h1m1 0h1m1 0h2m10 0h1m1 0h4m2 0h1m6 0h1m7 0h1m1 0h1m2 0h1m2 0h1m1 0h1m1 0h2m1 0h1m2 0h3m2 0h1m3 0h2m1 0h2m3 0h1m3 0h1m1 0h1m12 0h1m8 0h1M44 106h1m5 0h2m4 0h1m1 0h1m4 0h1m1 0h1m7 0h1m1 0h1m2 0h1m3 0h2m8 0h1m1 0h1m2 0h1m4 0h1m1 0h1m1 0h1m1 0h2m3 0h1m4 0h1m3 0h1m4 0h2m15 0h1m4 0h1m3 0h1M40 107h1m4 0h1m7 0h1m3 0h2m1 0h3m1 0h1m2 0h1m4 0h5m2 0h1m1 0h1m5 0h1m1 0h2m3 0h1m11 0h3m4 0h4m1 0h2m3 0h2m1 0h1m8 0h2m1 0h1m5 0h2M28 108h1m12 0h1m2 0h3m1 0h1m2 0h1m3 0h2m6 0h1m2 0h1m1 0h1m2 0h2m2 0h1m3 0h4m1 0h2m2 0h1m1 0h1m2 0h1m3 0h1m3 0h1m1 0h4m2 0h1m1 0h1m3 0h2m2 0h1m3 0h1m1 0h1m1 0h2m1 0h1m9 0h2m5 0h1M44 109h3m4 0h1m2 0h2m2 0h1m1 0h1m3 0h1m6 0h4m4 0h2m1 0h2m1 0h1m3 0h1m1 0h1m1 0h1m2 0h1m2 0h1m1 0h1m9 0h1m1 0h1m8 0h1m2 0h1m3 0h2m1 0h1M36 110h1m6 0h1m8 0h2m2 0h1m1 0h1m1 0h1m1 0h1m6 0h2m3 0h1m4 0h1m1 0h1m1 0h2m5 0h1m2 0h1m3 0h3m2 0h2m1 0h4m2 0h2m6 0h1m1 0h2m4 0h1m1 0h1m1 0h1m6 0h1M17 111h1m11 0h1m5 0h1m2 0h1m6 0h3m2 0h2m4 0h1m1 0h2m6 0h1m1 0h1m1 0h2m6 0h2m1 0h2m2 0h3m1 0h1m2 0h3m4 0h1m1 0h1m1 0h2m2 0h4m2 0h1m3 0h2m1 0h4m4 0h1m2 0h1m2 0h1m4 0h1m4 0h1M31 112h1m12 0h1m1 0h1m1 0h1m1 0h1m1 0h1m9 0h1m1 0h2m1 0h3m2 0h1m1 0h1m5 0h3m1 0h4m2 0h1m1 0h2m1 0h1m3 0h2m1 0h1m4 0h1m2 0h2m1 0h3m2 0h2m3 0h3m2 0h3m9 0h1M13 113h1m25 0h1m3 0h1m2 0h1m2 0h1m2 0h2m6 0h1m2 0h1m3 0h2m7 0h1m1 0h1m4 0h1m2 0h1m5 0h1m1 0h1m1 0h1m1 0h1m1 0h1m2 0h1m1 0h1m2 0h2m3 0h2m4 0h1m3 0h1m1 0h1m1 0h1m4 0h1m4 0h1M25 114h1m3 0h1m4 0h1m1 0h1m7 0h1m1 0h1m4 0h1m3 0h1m3 0h1m2 0h1m1 0h1m2 0h1m5 0h3m4 0h2m9 0h5m3 0h1m2 0h1m1 0h2m1 0h2m1 0h2m1 0h1m3 0h1m1 0h1m17 0h1M22 115h1m9 0h1m2 0h1m2 0h1m4 0h1m3 0h1m1 0h1m1 0h1m7 0h3m3 0h2m4 0h1m2 0h1m2 0h1m2 0h1m5 0h2m2 0h1m2 0h1m1 0h2m3 0h2m2 0h1m1 0h1m1 0h1m2 0h1m3 0h1m2 0h2m2 0h3m8 0h1m7 0h1m10 0h1M29 116h1m4 0h1m1 0h1m4 0h1m4 0h1m8 0h2m7 0h1m10 0h1m1 0h1m3 0h1m2 0h1m2 0h1m4 0h2m1 0h1m5 0h1m13 0h2m1 0h1M20 117h1m12 0h1m5 0h2m6 0h2m9 0h1m4 0h1m5 0h1m1 0h1m2 0h1m11 0h2m3 0h2m4 0h1m3 0h1m2 0h2m2 0h1m3 0h1m1 0h1m3 0h2m4 0h2m9 0h1M32 118h1m6 0h2m2 0h2m1 0h1m1 0h2m2 0h1m19 0h1m3 0h1m6 0h3m1 0h1m7 0h1m3 0h1m1 0h1m6 0h1m1 0h1m1 0h1m4 0h1m3 0h2m3 0h2m3 0h1m8 0h1M25 119h1m2 0h1m12 0h1m2 0h1m4 0h2m16 0h1m3 0h1m2 0h1m11 0h1m3 0h1m1 0h1m3 0h2m4 0h3m3 0h2m4 0h1m1 0h1m1 0h1m1 0h1m1 0h1m2 0h2m1 0h3M23 120h1m13 0h3m2 0h2m4 0h1m4 0h1m8 0h1m13 0h3m2 0h2m1 0h1m1 0h1m1 0h1m8 0h2m1 0h1m3 0h1m1 0h1m4 0h1m10 0h2m3 0h1m1 0h1m1 0h1m5 0h1M14 121h1m12 0h2m4 0h1m1 0h3m6 0h1m4 0h1m14 0h1m11 0h2m1 0h1m3 0h1m7 0h1m1 0h1m2 0h1m3 0h1m1 0h2m1 0h2m1 0h1m5 0h1m2 0h1m2 0h1m2 0h3m3 0h1m2 0h1m5 0h1M14 122h1m13 0h1m2 0h1m4 0h1m1 0h1m1 0h3m1 0h3m4 0h1m5 0h1m11 0h1m2 0h1m2 0h1m1 0h1m1 0h1m1 0h2m1 0h1m7 0h2m1 0h1m1 0h1m4 0h1m4 0h2m2 0h1m1 0h2m9 0h1m2 0h2M27 123h1m1 0h2m5 0h2m5 0h2m31 0h1m1 0h1m2 0h2m1 0h2m6 0h1m1 0h1m1 0h1m6 0h1m6 0h1m5 0h2m8 0h1m11 0h1M25 124h1m5 0h1m2 0h1m6 0h1m2 0h1m5 0h1m10 0h1m12 0h1m18 0h1m1 0h2m3 0h1m2 0h2m2 0h2m3 0h2m5 0h1m4 0h3m8 0h1m1 0h1M22 125h1m4 0h1m10 0h1m3 0h1m3 0h1m7 0h1m15 0h1m10 0h1m1 0h1m6 0h1m1 0h1m1 0h3m2 0h1m1 0h2m1 0h1m1 0h1m3 0h1m4 0h1m1 0h1m5 0h1m4 0h1m4 0h1M23 126h1m8 0h1m1 0h1m2 0h1m3 0h1m33 0h1m4 0h4m1 0h2m4 0h1m2 0h2m1 0h1m1 0h1m1 0h1m4 0h1m1 0h2m12 0h1m1 0h1m3 0h1m1 0h1m4 0h2M20 127h2m7 0h3m2 0h1m1 0h1m1 0h3m2 0h1m12 0h1m3 0h1m17 0h3m2 0h1m4 0h1m3 0h1m5 0h1m3 0h4m5 0h1m4 0h3m2 0h1m3 0h1m3 0h1m4 0h1M25 128h1m2 0h1m4 0h2m4 0h1m4 0h1m2 0h1m23 0h1m4 0h3m3 0h1m1 0h1m5 0h2m15 0h1m2 0h2m2 0h2m4 0h1m3 0h1m2 0h1m1 0h1M27 129h1m6 0h1m6 0h1m16 0h1m4 0h1m8 0h1m2 0h1m5 0h1m1 0h3m1 0h2m10 0h1m3 0h1m1 0h1m1 0h1m3 0h1m1 0h2m1 0h1m3 0h1m22 0h1M26 130h1m5 0h2m37 0h1m8 0h1m1 0h1m1 0h3m8 0h1m2 0h1m2 0h1m2 0h3m2 0h1m1 0h2m2 0h1m2 0h1m1 0h1m5 0h2m3 0h1m1 0h1m8 0h1M21 131h1m3 0h1m15 0h1m6 0h1m20 0h3m6 0h2m2 0h1m2 0h1m1 0h1m3 0h1m1 0h2m2 0h1m3 0h1m4 0h2m2 0h1m1 0h2m3 0h2m2 0h1m7 0h1m2 0h1M23 132h1m1 0h2m1 0h2m11 0h1m32 0h1m4 0h4m1 0h2m4 0h3m2 0h1m3 0h1m5 0h2m7 0h2m3 0h2m8 0h1M14 133h1m12 0h1m1 0h1m3 0h2m2 0h1m4 0h1m24 0h2m9 0h2m3 0h1m13 0h1m1 0h1m1 0h1m3 0h1m1 0h1m5 0h2m2 0h1M16 134h1m1 0h1m2 0h1m3 0h1m3 0h1m4 0h1m2 0h2m18 0h1m19 0h1m2 0h2m1 0h2m4 0h3m1 0h1m3 0h1m2 0h2m5 0h1m2 0h1m1 0h1m2 0h1m1 0h1m4 0h1m3 0h1m13 0h1M12 135h1m5 0h2m1 0h2m2 0h1m2 0h1m1 0h1m3 0h1m39 0h1m1 0h1m3 0h2m3 0h2m7 0h1m2 0h4m5 0h2m1 0h1m8 0h1m10 0h2M10 136h1m17 0h1m1 0h1m4 0h1m40 0h2m1 0h1m1 0h4m1 0h1m1 0h2m6 0h2m3 0h1m2 0h1m1 0h1m1 0h1m2 0h3m4 0h4m3 0h1m15 0h1M4 137h1m7 0h1m9 0h1m1 0h1m4 0h1m2 0h1m27 0h1m8 0h1m2 0h1m5 0h1m2 0h1m5 0h3m10 0h4m14 0h1m10 0h1m13 0h1M21 138h1m3 0h1m1 0h3m1 0h1m2 0h3m35 0h2m3 0h1m3 0h1m1 0h2m4 0h1m5 0h2m2 0h4m1 0h2m3 0h2m7 0h1m1 0h1m1 0h2M21 139h5m1 0h2m1 0h4m8 0h1m31 0h2m1 0h2m3 0h2m1 0h1m2 0h2m3 0h1m4 0h1m2 0h1m3 0h1m1 0h1m5 0h1m1 0h1m14 0h1M20 140h1m1 0h1m1 0h3m46 0h1m2 0h1m4 0h1m2 0h1m1 0h1m1 0h1m6 0h1m3 0h1m2 0h1m6 0h1m4 0h1m2 0h1m5 0h1M18 141h1m1 0h2m4 0h1m3 0h1m1 0h1m27 0h1m4 0h1m5 0h6m4 0h2m11 0h1m1 0h1m1 0h1m3 0h1m1 0h1m1 0h3m3 0h1m2 0h1m2 0h2m7 0h1m2 0h1M26 142h1m29 0h1m10 0h2m8 0h1m3 0h3m7 0h1m2 0h1m2 0h1m1 0h2m1 0h1m3 0h1m13 0h1m2 0h1m2 0h2M13 143h1m2 0h1m8 0h1m12 0h1m28 0h1m5 0h1m8 0h2m4 0h3m3 0h1m1 0h1m4 0h2m3 0h1m3 0h1m1 0h1m1 0h1m2 0h1m9 0h1M17 144h1m1 0h1m9 0h1m6 0h1m17 0h1m11 0h1m1 0h1m3 0h1m1 0h1m1 0h1m1 0h1m1 0h1m1 0h1m1 0h1m2 0h1m4 0h1m15 0h1m10 0h1m9 0h1M4 145h1m23 0h1m4 0h1m29 0h2m3 0h1m3 0h1m1 0h1m3 0h1m11 0h1m2 0h2m1 0h1m3 0h2m2 0h2m8 0h1m1 0h1M9 146h1m7 0h1m1 0h2m44 0h1m1 0h4m27 0h2m4 0h2m6 0h1m2 0h1M4 147h1m15 0h3m5 0h1m1 0h1m3 0h1m26 0h1m5 0h1m1 0h1m9 0h1m4 0h1m9 0h2m4 0h1m2 0h1m12 0h1M22 148h3m1 0h2m30 0h1m8 0h2m7 0h1m17 0h2m1 0h3m2 0h1m11 0h2m2 0h1M16 149h1m2 0h1m1 0h1m3 0h1m32 0h1m3 0h1m1 0h1m4 0h2m1 0h1m1 0h2m8 0h1m1 0h1m2 0h2m6 0h1m1 0h1m3 0h1m22 0h1M16 150h1m1 0h3m33 0h1m5 0h1m4 0h1m2 0h1m1 0h1m1 0h1m3 0h1m2 0h1m3 0h1m8 0h1m1 0h1m2 0h1m3 0h1m3 0h3M10 151h1m1 0h1m8 0h1m1 0h2m6 0h1m7 0h1m5 0h1m7 0h1m2 0h1m8 0h1m1 0h1m2 0h1m3 0h1m5 0h2m1 0h1m12 0h1m3 0h1m1 0h1m15 0h1m25 0h1M16 152h1m2 0h2m1 0h2m4 0h1m26 0h1m4 0h1m4 0h1m1 0h4m2 0h1m5 0h1m2 0h1m15 0h2m9 0h1M9 153h1m2 0h1m2 0h2m1 0h1m1 0h1m1 0h4m13 0h1m17 0h2m2 0h4m8 0h1m2 0h1m3 0h1m7 0h1m11 0h1m17 0h1m5 0h1M2 154h1m10 0h1m7 0h1m4 0h2m21 0h1m10 0h1m1 0h7m8 0h1m3 0h1m9 0h1m4 0h1m5 0h1m4 0h2m1 0h1M6 155h1m2 0h1m3 0h1m3 0h1m1 0h1m4 0h3m1 0h1m29 0h1m8 0h1m11 0h1m3 0h1m5 0h1m4 0h1m2 0h1m3 0h1m45 0h1M7 156h1m1 0h1m3 0h3m2 0h1m2 0h1m1 0h1m8 0h1m17 0h1m2 0h1m2 0h2m2 0h1m16 0h1m20 0h1m33 0h1M15 157h1m10 0h2m11 0h2m8 0h3m1 0h1m1 0h1m1 0h1m2 0h1m1 0h1m1 0h1m2 0h2m12 0h1m15 0h1m3 0h1m1 0h1m8 0h1m2 0h1m7 0h1M16 158h1m3 0h1m2 0h1m3 0h1m13 0h1m16 0h1m1 0h1m3 0h2m11 0h1m1 0h1m8 0h1m1 0h1m1 0h1m16 0h1M5 159h1m2 0h1m5 0h2m5 0h1m1 0h1m1 0h1m5 0h1m4 0h3m8 0h2m3 0h1m8 0h1m3 0h1m3 0h1m23 0h1m4 0h1m3 0h1m3 0h1m2 0h2M9 160h1m3 0h1m2 0h1m2 0h3m4 0h1m2 0h1m1 0h1m2 0h1m12 0h2m2 0h2m6 0h1m14 0h1m9 0h1m6 0h1m2 0h1m2 0h1m20 0h1M0 161h1m12 0h2m6 0h3m8 0h1m2 0h1m3 0h1m3 0h1m1 0h1m2 0h1m2 0h1m1 0h1m4 0h1m4 0h1m4 0h1m18 0h1m2 0h1m10 0h1M9 162h1m2 0h1m2 0h1m13 0h1m2 0h1m4 0h2m1 0h1m6 0h1m4 0h1m2 0h2m16 0h1m9 0h1m8 0h1m6 0h1M10 163h3m1 0h1m1 0h2m1 0h1m7 0h3m3 0h3m2 0h1m4 0h1m1 0h1m2 0h3m2 0h2m9 0h1m6 0h1m12 0h1m15 0h1m2 0h1m15 0h1M4 164h1m8 0h2m2 0h3m1 0h1m1 0h1m2 0h1m5 0h1m3 0h1m1 0h1m1 0h1m1 0h1m3 0h2m2 0h2m2 0h1m1 0h1m3 0h2m32 0h1m4 0h1M1 165h1m8 0h1m7 0h1m3 0h1m5 0h1m1 0h1m3 0h1m1 0h2m4 0h1m2 0h1m2 0h2m3 0h1m2 0h1m2 0h1m3 0h1m20 0h1m6 0h1m2 0h1m8 0h2M5 166h1m4 0h1m2 0h1m5 0h3m2 0h2m1 0h2m1 0h1m3 0h1m2 0h1m5 0h2m5 0h1m2 0h1m2 0h1m1 0h1m2 0h1m20 0h2M1 167h1m13 0h1m1 0h3m2 0h1m4 0h2m4 0h2m2 0h1m1 0h1m2 0h2m1 0h2m1 0h3m3 0h2m38 0h1m8 0h1M19 168h2m2 0h2m2 0h1m4 0h3m6 0h1m1 0h6m1 0h2m70 0h1M12 169h1m4 0h1m10 0h2m2 0h4m1 0h1m2 0h1m2 0h1m11 0h1m25 0h1m1 0h1m14 0h1M4 170h2m7 0h1m1 0h1m1 0h1m1 0h3m1 0h1m2 0h2m6 0h2m1 0h2m5 0h3m8 0h1m15 0h1M8 171h2m5 0h2m4 0h1m2 0h1m2 0h2m1 0h3m2 0h1m6 0h1m1 0h1m4 0h1m60 0h1M13 172h1m1 0h2m2 0h1m1 0h1m2 0h2m1 0h1m4 0h1m2 0h1m5 0h1m4 0h2m1 0h1m6 0h1m2 0h2m11 0h1M11 173h2m4 0h1m1 0h1m4 0h1m1 0h1m2 0h3m1 0h1m8 0h3m2 0h1m9 0h1m48 0h1M12 174h1m17 0h1m1 0h1m1 0h3m1 0h1m2 0h1m7 0h1M16 175h1m4 0h1m1 0h1m1 0h1m2 0h1m5 0h1m1 0h2m4 0h1m4 0h1" stroke-opacity=".42"/><path d="M136 27h1M122 28h1M131 30h1M122 32h1M156 33h1M135 36h2m2 0h1M143 37h1M121 38h1m9 0h1M118 39h1M140 40h1M130 41h1m10 0h1M130 42h1m2 0h3M126 43h1m1 0h1m8 0h1M105 44h1m11 0h1m7 0h1m2 0h1m3 0h1M131 45h1m2 0h2m2 0h1m4 0h1m6 0h1M108 46h1m23 0h2m2 0h1m4 0h1M112 47h1m4 0h1m6 0h2m1 0h1m1 0h2m2 0h1m4 0h1m9 0h1m7 0h1M116 48h1m1 0h1m1 0h1m1 0h1m2 0h1m1 0h1m1 0h1m4 0h1m11 0h1M122 49h1m3 0h1m2 0h3m2 0h1m1 0h1m5 0h1M118 50h1m3 0h1m5 0h1m13 0h2M108 51h1m7 0h2m5 0h2m6 0h1M118 52h2m4 0h1m12 0h1m4 0h1m1 0h2M106 53h1m8 0h2m4 0h1m2 0h1m15 0h1m1 0h3m1 0h1M105 54h1m1 0h1m6 0h1m3 0h1m4 0h1m5 0h1m21 0h1m4 0h1M114 55h1m2 0h3m1 0h1m2 0h1m1 0h1m9 0h3m3 0h2M108 56h1m12 0h1m4 0h1m12 0h2m6 0h1M107 57h1m2 0h1m6 0h1m4 0h1m10 0h1m4 0h1m4 0h2m1 0h1M107 58h1m7 0h2m2 0h1m1 0h1m15 0h1m3 0h2m4 0h1M111 59h1m1 0h1m23 0h1m5 0h1m1 0h1M91 60h1m19 0h2m6 0h1m8 0h1m12 0h1m2 0h2m3 0h1M110 61h3m3 0h1m24 0h1m1 0h1m7 0h1M98 62h1m14 0h1m3 0h1m2 0h1m8 0h2m6 0h1m11 0h1M87 63h1m28 0h1m1 0h1m13 0h1m5 0h2m1 0h1m1 0h1m1 0h1M71 64h1m29 0h1m2 0h1m1 0h1m23 0h1m3 0h1m4 0h1M104 65h1m2 0h1m3 0h1m19 0h1m4 0h2m3 0h1M99 66h1m5 0h2m1 0h1m2 0h1m20 0h2m2 0h1m1 0h1m6 0h1m11 0h1M67 67h1m31 0h1m6 0h1m8 0h1m3 0h1m1 0h2m5 0h1m1 0h1m2 0h1m13 0h1m4 0h1M105 68h1m11 0h1m1 0h1m11 0h1m1 0h1m1 0h2M91 69h1m3 0h1m3 0h1m5 0h2m2 0h1m4 0h1m9 0h1m1 0h2m14 0h1M99 70h1m2 0h1m1 0h2m7 0h1m2 0h1m8 0h1m3 0h1m2 0h1M99 71h1m7 0h2m1 0h1m6 0h1m1 0h1m8 0h1m1 0h1m5 0h2M103 72h1m3 0h1m4 0h3m2 0h1m3 0h2m3 0h2m3 0h2M95 73h1m17 0h1m10 0h1m3 0h1m7 0h1M95 74h1m9 0h1m7 0h1m1 0h1m1 0h2m1 0h1m7 0h1m9 0h1m3 0h2M88 75h1m6 0h1m7 0h1m4 0h1m3 0h1m2 0h2m9 0h1m2 0h1m3 0h1m8 0h1M89 76h1m7 0h1m2 0h1m2 0h1m3 0h1m8 0h2m2 0h1m11 0h3m2 0h1m7 0h1M90 77h1m1 0h1m15 0h2m9 0h2m3 0h1m4 0h1m1 0h1m2 0h1m4 0h1M89 78h1m8 0h1m5 0h2m8 0h1m2 0h1m6 0h2m2 0h1m1 0h2M83 79h1m11 0h1m6 0h1m3 0h1m12 0h1m7 0h3m1 0h1m7 0h1M93 80h1m5 0h1m3 0h3m3 0h1m1 0h1m1 0h1m3 0h1m6 0h1m2 0h1m11 0h1M94 81h1m8 0h1m2 0h1m2 0h2m1 0h2m5 0h1m5 0h1m2 0h1m5 0h3m3 0h1m1 0h1m8 0h1M87 82h1m11 0h1m11 0h1m4 0h1m1 0h1m1 0h2m1 0h1m3 0h1m1 0h1m1 0h1m3 0h1m2 0h2M99 83h1m4 0h1m3 0h1m5 0h1m7 0h1m6 0h1m2 0h1m3 0h1M82 84h1m7 0h1m3 0h1m2 0h1m14 0h1m1 0h1m3 0h1m3 0h1m2 0h1m8 0h1M76 85h1m18 0h1m10 0h1m1 0h1m8 0h2m7 0h1m4 0h1m1 0h1m1 0h1m6 0h1M98 86h1m5 0h1m6 0h1m5 0h1m1 0h1m11 0h2m2 0h1m1 0h1m4 0h1M106 87h1m4 0h1m2 0h2m24 0h1m1 0h1M74 88h1m2 0h1m11 0h1m8 0h2m3 0h1m3 0h1m10 0h1m4 0h1m3 0h1m1 0h1m4 0h1M86 89h1m21 0h1m13 0h1m2 0h1m10 0h1M90 90h1m4 0h1m5 0h1m12 0h1m6 0h1m5 0h1m12 0h1M76 91h1m9 0h1m1 0h1m11 0h1m2 0h1m9 0h1m3 0h2m2 0h1m1 0h1M81 92h1m19 0h1m2 0h1m2 0h4m5 0h1m9 0h1m7 0h1M75 93h1m13 0h1m11 0h1m2 0h1m2 0h1m8 0h2m2 0h1m3 0h1m2 0h1m22 0h1M70 94h1m22 0h1m1 0h1m16 0h1m8 0h1m3 0h1m8 0h1m1 0h1m3 0h1M79 95h2m18 0h1m7 0h1m2 0h1m2 0h1m3 0h1m1 0h1M70 96h1m7 0h1m20 0h1m2 0h1m2 0h2m4 0h2m6 0h2m17 0h1M61 97h1m37 0h1m2 0h1m9 0h2m3 0h2m15 0h1M93 98h1m5 0h1m3 0h1m3 0h1m16 0h1m10 0h2M81 99h1m5 0h1m9 0h1m4 0h1m6 0h2m2 0h4M84 100h1m10 0h1m13 0h1m13 0h1m1 0h1m1 0h1M82 101h1m8 0h1m2 0h1m8 0h2m15 0h1M60 102h1m42 0h1m1 0h1m1 0h1m13 0h1m1 0h1m1 0h1M53 103h1m6 0h1m8 0h1m3 0h1m39 0h1m7 0h2M62 104h1m2 0h1m2 0h1m3 0h1m2 0h1m10 0h1m1 0h1m2 0h1m13 0h1m1 0h1m2 0h1m1 0h1m16 0h1M52 105h1m8 0h3m3 0h1m10 0h1m3 0h1m6 0h1m11 0h1m6 0h1m9 0h1m8 0h1m4 0h1M59 106h1m1 0h2m5 0h1m1 0h1m3 0h1m9 0h3m3 0h1m4 0h1m7 0h1m8 0h1m1 0h1m2 0h1m1 0h1m1 0h1m2 0h2M52 107h1m2 0h1m3 0h1m3 0h1m2 0h1m1 0h1m9 0h1m4 0h1m1 0h1m6 0h1m5 0h1m3 0h2m1 0h1m15 0h1M54 108h1m4 0h1m1 0h2m4 0h1m6 0h1m1 0h2m9 0h1m6 0h1m3 0h1m8 0h2m8 0h1M50 109h1m10 0h1m6 0h1m6 0h1m1 0h1m6 0h1m2 0h1m12 0h1m1 0h1m1 0h1m2 0h1m1 0h1m5 0h1M49 110h2m8 0h1m4 0h1m7 0h1m2 0h2m3 0h1m23 0h1m21 0h1M30 111h1m18 0h1m2 0h1m1 0h1m6 0h3m5 0h1m2 0h2m2 0h2m2 0h1m3 0h1m13 0h1m13 0h1m6 0h1m4 0h1m1 0h1M51 112h1m1 0h1m2 0h2m8 0h1m3 0h2m1 0h1m3 0h1m28 0h1m1 0h1m7 0h1M47 113h1m2 0h2m2 0h1m1 0h1m4 0h1m8 0h2m7 0h3m5 0h1m3 0h1m5 0h1m9 0h1m4 0h1m23 0h1M47 114h1m4 0h2m7 0h1m9 0h2m3 0h2m7 0h1m3 0h1m10 0h1M54 115h2m16 0h1m6 0h1m2 0h2m15 0h1m5 0h1m1 0h1m1 0h2m15 0h1M40 116h1m2 0h1m3 0h1m2 0h3m10 0h1m1 0h1m1 0h1m3 0h2m3 0h1m2 0h1m2 0h2m4 0h1m16 0h1m4 0h1m12 0h1M34 117h1m9 0h2m3 0h2m4 0h1m4 0h1m3 0h2m1 0h1m8 0h1m1 0h1m1 0h1m2 0h1m12 0h1m1 0h1m18 0h1m11 0h1m2 0h1M42 118h1m11 0h1m2 0h1m3 0h1m12 0h1m6 0h1m8 0h1m1 0h1m5 0h1m1 0h1m2 0h2m1 0h2m1 0h1m5 0h1m7 0h1M40 119h1m2 0h1m7 0h1m10 0h1m6 0h2m13 0h1m2 0h1m12 0h1m9 0h1m1 0h1m11 0h1M32 120h1m7 0h1m4 0h1m5 0h1m7 0h1m7 0h3m2 0h1m2 0h1m3 0h2m2 0h1m7 0h3m9 0h1m6 0h1m1 0h1m3 0h4m4 0h1m9 0h1M39 121h1m10 0h1m3 0h3m4 0h2m2 0h1m14 0h1m3 0h1m2 0h1m1 0h1m5 0h1m5 0h1m2 0h1m5 0h1M39 122h1m7 0h2m16 0h2m6 0h1m9 0h1m1 0h1m1 0h1m2 0h2m7 0h1m4 0h2M33 123h2m3 0h1m2 0h1m3 0h1m2 0h2m17 0h1m2 0h1m9 0h1m8 0h3m3 0h1m4 0h1m14 0h1m6 0h1m13 0h1M21 124h1m15 0h1m1 0h1m32 0h1m2 0h1m1 0h2m6 0h1m1 0h2m9 0h1m3 0h1m2 0h1m4 0h1m7 0h1m1 0h1m9 0h1M34 125h1m2 0h1m3 0h1m3 0h1m4 0h1m20 0h1m3 0h3m6 0h1m15 0h1m6 0h1m8 0h1M35 126h2m5 0h1m15 0h1m10 0h1m1 0h2m1 0h1m3 0h2m8 0h1m3 0h1m5 0h1m13 0h1m4 0h1m1 0h1M41 127h1m4 0h3m9 0h1m11 0h1m10 0h2m1 0h2m13 0h1m7 0h1M29 128h1m5 0h2m3 0h1m4 0h1m4 0h1m17 0h1m4 0h1m5 0h1m1 0h1m10 0h1m9 0h4m7 0h1M35 129h1m1 0h1m8 0h2m16 0h1m4 0h1m7 0h3m2 0h1m8 0h2m13 0h1m1 0h1m1 0h1M39 130h1m2 0h1m8 0h1m14 0h1m9 0h1m6 0h1m7 0h1m4 0h1m3 0h1m16 0h1m3 0h1m7 0h1M24 131h1m9 0h4m1 0h1m3 0h1m16 0h1m12 0h1m6 0h1m8 0h1m2 0h1m2 0h1m8 0h2m2 0h1m7 0h1m2 0h1m2 0h1M24 132h1m9 0h1m2 0h1m1 0h1m4 0h2m24 0h1m2 0h1m9 0h1m4 0h1m5 0h1m2 0h2m1 0h1m3 0h1m3 0h1m1 0h1M36 133h1m4 0h1m27 0h1m4 0h1m1 0h2m3 0h1m5 0h1m4 0h1m9 0h1m16 0h2M30 134h3m36 0h1m2 0h5m1 0h1m20 0h1m2 0h1m11 0h1M27 135h1m4 0h1m2 0h1m2 0h1m2 0h1m10 0h1m7 0h1m4 0h1m2 0h1m4 0h1m4 0h1m8 0h1m2 0h2m3 0h1m19 0h1M34 136h1m1 0h1m1 0h2m29 0h1m4 0h1m3 0h1m8 0h1m2 0h3M30 137h1m4 0h1m39 0h1m1 0h1m2 0h1m13 0h4m7 0h1m1 0h2M32 138h2m27 0h1m4 0h1m1 0h1m6 0h2m2 0h1m12 0h1m10 0h1m10 0h1M26 139h1m7 0h1m2 0h1m26 0h1m2 0h1m3 0h1m1 0h1m10 0h1m5 0h2m5 0h1m8 0h1M28 140h1m41 0h1m1 0h1m5 0h2m12 0h1m13 0h1m11 0h1M27 141h1m1 0h1m7 0h2m13 0h1m5 0h1m7 0h1m1 0h2m16 0h1m18 0h1m5 0h1M15 142h1m8 0h1m2 0h2m2 0h1m1 0h2m35 0h3m3 0h1m11 0h1m12 0h1m2 0h1M22 143h1m6 0h2m1 0h1m1 0h1m2 0h1m20 0h1m6 0h1m3 0h1m1 0h1m3 0h2m1 0h1m1 0h1M23 144h1m3 0h1m15 0h1m15 0h1m5 0h1m3 0h1m34 0h1m9 0h1M23 145h3m1 0h1m4 0h1m5 0h1m27 0h2m3 0h1m41 0h1M23 146h1m1 0h1m1 0h1m1 0h1m2 0h2m5 0h1m14 0h1m7 0h2m8 0h1m8 0h1m13 0h1M12 147h1m12 0h3m1 0h1m7 0h1m26 0h2m2 0h1m1 0h1m31 0h1m3 0h1m1 0h1M30 148h1m2 0h1m11 0h1m10 0h2m2 0h4m1 0h2m2 0h1m2 0h1m13 0h1m18 0h1m5 0h1M24 149h1m3 0h1m3 0h1m13 0h1m12 0h1m3 0h1M23 150h1m2 0h1m3 0h1m19 0h1m7 0h1m5 0h1m10 0h1M11 151h1m13 0h1m9 0h1m24 0h1m3 0h1M17 152h1m3 0h1m2 0h1m1 0h2m2 0h1m12 0h1m14 0h1m30 0h1m13 0h1M26 153h1m2 0h1m16 0h2m11 0h1m25 0h1M23 154h2m5 0h1m4 0h1m8 0h1m3 0h1m3 0h2m2 0h1m4 0h1m35 0h1M21 155h1m14 0h1m2 0h1m6 0h3m3 0h1m1 0h1m1 0h1m4 0h1m4 0h1m5 0h1M20 156h1m4 0h1m1 0h1m3 0h1m2 0h1m2 0h1m6 0h1m1 0h1m1 0h1m9 0h2m1 0h1M22 157h1m12 0h1m1 0h1m5 0h1m12 0h1m1 0h1m6 0h1M18 158h1m5 0h1m7 0h1m16 0h2m1 0h2m1 0h1m3 0h1M19 159h1m6 0h1m1 0h1m12 0h1m1 0h2m5 0h2m2 0h2m1 0h1M24 160h1m12 0h2m10 0h1m15 0h1M12 161h1m4 0h2m6 0h1m7 0h1m2 0h1m5 0h1m1 0h1m4 0h1m55 0h1M18 162h1m3 0h1m4 0h1m5 0h1m1 0h1m3 0h1m2 0h1m1 0h1m3 0h1m5 0h1M5 163h1m15 0h1m19 0h2m3 0h1m4 0h1m4 0h1m2 0h1M24 164h1m4 0h2m8 0h1m3 0h1m1 0h1m2 0h2m33 0h1M19 165h1m12 0h1m2 0h1m2 0h2m1 0h1m2 0h1m2 0h1m2 0h2m2 0h2m42 0h1M16 166h1m14 0h1m1 0h1m1 0h1m4 0h1m1 0h1M25 167h2m5 0h1m2 0h2m1 0h1m12 0h1M11 168h1m14 0h1m4 0h1m3 0h2m1 0h3M15 169h1m7 0h1m6 0h2m4 0h1M40 170h1m9 0h1M19 171h1m19 0h2M20 172h1m5 0h1m6 0h1m8 0h2m1 0h1M15 173h1m11 0h1m12 0h1M13 174h2M19 175h1m23 0h1" stroke-opacity=".72"/><path d="M122 33h1M134 37h1M138 39h1M132 43h1m7 0h2M134 44h1M123 45h1m9 0h1m5 0h1M123 46h1m7 0h1m2 0h2m1 0h1m7 0h1M126 47h1m4 0h2m2 0h1m1 0h1m4 0h2M128 48h1m1 0h3m2 0h2m1 0h1m4 0h2M124 49h2m2 0h1m3 0h1m5 0h2m5 0h1M121 50h1m2 0h2m1 0h1m1 0h5m1 0h1m1 0h4M120 51h1m1 0h1m2 0h1m1 0h4m2 0h3m3 0h4M115 52h1m4 0h4m1 0h10m1 0h1m2 0h3m6 0h2M118 53h1m4 0h1m1 0h15M119 54h1m1 0h2m1 0h5m1 0h3m1 0h7m1 0h2m2 0h1M122 55h2m1 0h1m1 0h9m4 0h1M114 56h2m3 0h1m2 0h4m1 0h12m2 0h3M111 57h1m6 0h2m1 0h1m1 0h10m1 0h4m1 0h4M113 58h2m2 0h2m1 0h1m1 0h15m1 0h1M110 59h1m6 0h4m1 0h15m1 0h2M106 60h1m2 0h1m10 0h8m1 0h7m2 0h2m2 0h1M113 61h2m2 0h1m2 0h7m1 0h11m3 0h1M115 62h2m1 0h2m1 0h4m1 0h3m2 0h3m1 0h2m3 0h1M110 63h1m3 0h1m2 0h1m1 0h13m1 0h5M111 64h1m3 0h15m1 0h3m1 0h4M102 65h1m12 0h16m1 0h1m1 0h2m3 0h1m5 0h1M112 66h3m2 0h15m2 0h1m4 0h1M110 67h3m3 0h3m1 0h1m2 0h5m1 0h1m2 0h1m1 0h2M104 68h1m6 0h1m4 0h1m1 0h1m1 0h6m1 0h3m2 0h1m1 0h1m3 0h1m7 0h1M108 69h1m3 0h1m2 0h9m4 0h4m1 0h2m1 0h3M106 70h1m1 0h3m3 0h1m5 0h5m1 0h2m11 0h1M111 71h1m3 0h2m1 0h1m1 0h1m1 0h3m1 0h1m2 0h1m1 0h1m1 0h1M105 72h1m10 0h1m1 0h2m3 0h1m1 0h1m2 0h1m4 0h2m1 0h2M115 73h1m2 0h6m1 0h2m2 0h1m4 0h1m3 0h1M119 74h1m2 0h1m1 0h3m2 0h1m6 0h1M104 75h1m6 0h1m1 0h1m3 0h1m4 0h2m1 0h1m1 0h1m7 0h1M104 76h1m9 0h2m2 0h2m4 0h1m2 0h1m11 0h1m1 0h1M101 77h1m8 0h1m4 0h1m2 0h1m6 0h2m6 0h1M100 78h1m11 0h2m2 0h1m2 0h3m4 0h1m2 0h1M103 79h1m6 0h3m1 0h1m2 0h1m3 0h1m1 0h1M108 80h1m6 0h1m2 0h1m6 0h1m5 0h1M97 81h1m9 0h1m9 0h1m3 0h1m5 0h1m2 0h1m2 0h1m7 0h1M104 82h2m11 0h1m8 0h1M118 83h1m7 0h1m3 0h1m15 0h1M119 84h1m7 0h1m3 0h1M109 85h3m1 0h1m11 0h1M96 86h1m12 0h2m4 0h1m9 0h1m2 0h1M107 87h1m8 0h1m1 0h2m8 0h1M109 88h1m1 0h2m3 0h2m3 0h2m2 0h1M110 89h1m1 0h1m7 0h2m5 0h2M109 90h1M102 91h1m8 0h1m3 0h1m6 0h1m4 0h1M102 92h1m14 0h1M114 93h1M113 94h1m4 0h1m3 0h1M113 96h1m3 0h1M107 97h1M115 98h1m1 0h2m1 0h1M61 99h1m22 0h1m23 0h1m10 0h1m5 0h2M68 100h1m25 0h1m6 0h1m1 0h1m4 0h1m5 0h1m4 0h1M70 101h1m10 0h1m7 0h1m2 0h1m8 0h1m22 0h1m1 0h1M72 102h1m4 0h1m36 0h1m2 0h1m2 0h1M95 103h1M51 104h1m48 0h1m3 0h1m1 0h1m11 0h1M92 105h1m7 0h1m2 0h1m1 0h1m17 0h1M69 106h1m1 0h2m14 0h1m11 0h1M69 107h1m14 0h1m26 0h1M70 108h1m2 0h1m26 0h1m11 0h1m7 0h1m3 0h1M56 109h1m2 0h1m5 0h1m1 0h1m1 0h2m7 0h1m27 0h1M57 110h1m8 0h3m2 0h1m1 0h1m3 0h1m9 0h1m30 0h1M60 111h1m4 0h1m1 0h1m6 0h1m8 0h1m31 0h1M60 112h2m13 0h1m2 0h1m12 0h1m11 0h1m13 0h1M42 113h1m15 0h1m3 0h1m1 0h3m2 0h1m2 0h2m1 0h1m1 0h1m11 0h1m11 0h1m14 0h1M54 114h1m2 0h2m1 0h1m2 0h1m1 0h2m3 0h1m15 0h2m9 0h1m20 0h1M48 115h1m4 0h1m2 0h3m3 0h1m1 0h1m2 0h4m5 0h1m1 0h1m9 0h1m3 0h1m21 0h1m6 0h1M44 116h1m3 0h1m4 0h2m2 0h3m2 0h1m5 0h3m2 0h2m3 0h1m7 0h1m22 0h1m3 0h1m16 0h1M52 117h1m3 0h1m2 0h1m1 0h2m3 0h1m3 0h1m1 0h2m1 0h1m3 0h1m4 0h2m4 0h1m2 0h1m5 0h1M47 118h1m3 0h1m1 0h1m1 0h2m1 0h3m1 0h6m1 0h3m1 0h1m1 0h1m1 0h1m2 0h1m7 0h1m7 0h1M46 119h3m3 0h4m1 0h5m1 0h4m1 0h1m3 0h2m3 0h3m3 0h1m4 0h1m30 0h1M41 120h1m2 0h1m5 0h1m1 0h1m2 0h4m1 0h2m1 0h4m3 0h2m1 0h1m33 0h1M45 121h4m2 0h3m3 0h4m2 0h1m2 0h8m4 0h1m2 0h1m8 0h1m24 0h1m2 0h1M34 122h1m14 0h2m1 0h5m1 0h7m2 0h2m1 0h2m2 0h1m1 0h1m1 0h1M39 123h1m2 0h1m3 0h2m2 0h6m1 0h10m1 0h2m1 0h5m1 0h1m5 0h1m13 0h1m4 0h1m1 0h4M38 124h1m1 0h1m4 0h1m1 0h1m1 0h1m1 0h10m1 0h10m1 0h1m2 0h1m2 0h2M47 125h3m1 0h3m1 0h7m1 0h7m2 0h3m3 0h3m7 0h1M38 126h2m3 0h15m1 0h10m1 0h1m2 0h1m2 0h1m33 0h1M37 127h1m4 0h1m1 0h2m3 0h7m1 0h1m1 0h1m1 0h9m1 0h6m9 0h1m13 0h1m7 0h1M37 128h1m4 0h1m3 0h1m1 0h2m1 0h17m1 0h2m1 0h1m1 0h2m4 0h1m19 0h1m8 0h1M36 129h1m1 0h3m1 0h4m2 0h10m1 0h4m2 0h4m1 0h2m1 0h2m18 0h1m8 0h1m1 0h1M35 130h4m1 0h2m1 0h8m1 0h14m1 0h4m1 0h4m1 0h3m1 0h1m26 0h1M32 131h2m6 0h1m1 0h1m1 0h4m1 0h11m1 0h8m3 0h1m1 0h2m22 0h1m10 0h1M30 132h1m4 0h2m1 0h1m3 0h2m2 0h24m1 0h2m2 0h3m8 0h1m15 0h1M31 133h2m5 0h3m2 0h24m3 0h4m1 0h1m17 0h1m18 0h1m2 0h1M36 134h1m2 0h18m1 0h11m2 0h1m31 0h1m5 0h1M29 135h1m1 0h1m4 0h2m1 0h2m1 0h10m1 0h7m1 0h4m1 0h2m1 0h4m2 0h1m7 0h2m18 0h1m9 0h1M29 136h1m2 0h1m7 0h29m1 0h2m1 0h1M34 137h1m1 0h24m1 0h8m1 0h2m1 0h2m4 0h1M24 138h1m5 0h1m6 0h24m1 0h2m1 0h1m1 0h1m1 0h3m39 0h1M35 139h2m1 0h4m1 0h21m1 0h2m1 0h1m1 0h1m1 0h1M30 140h4m1 0h35m1 0h1m2 0h2M33 141h4m2 0h13m1 0h5m1 0h1m1 0h4m2 0h1m2 0h1M29 142h2m1 0h1m2 0h21m1 0h10m2 0h1M24 143h1m1 0h3m2 0h1m1 0h1m1 0h2m2 0h19m1 0h6m1 0h1m1 0h1M26 144h1m3 0h4m3 0h6m1 0h10m1 0h4m1 0h5M31 145h1m2 0h4m1 0h20m1 0h3m2 0h1m14 0h1M28 146h1m1 0h2m2 0h5m1 0h14m1 0h4m1 0h2m2 0h1m1 0h1m4 0h1M31 147h3m1 0h2m1 0h18m1 0h4m1 0h1m3 0h1m4 0h1M19 148h1m5 0h1m2 0h2m1 0h2m1 0h11m1 0h10m3 0h1M26 149h2m1 0h3m1 0h10m1 0h2m1 0h11m2 0h2m4 0h1M22 150h1m4 0h1m1 0h1m1 0h19m1 0h2m2 0h3m1 0h1m3 0h1M27 151h1m1 0h2m1 0h3m1 0h3m1 0h5m1 0h7m1 0h2m1 0h1m3 0h2m36 0h1M29 152h1m1 0h12m1 0h2m1 0h8m1 0h2m1 0h1m1 0h2m1 0h1M28 153h1m1 0h9m1 0h6m2 0h8M18 154h1m6 0h1m2 0h2m1 0h4m1 0h8m1 0h3m2 0h2m2 0h1m2 0h2M18 155h1m8 0h1m1 0h2m1 0h4m1 0h2m1 0h6m3 0h3m1 0h1m1 0h1m1 0h1M24 156h1m1 0h1m1 0h3m2 0h1m1 0h2m1 0h6m1 0h1m1 0h1m1 0h1m1 0h2m1 0h1M19 157h1m3 0h2m4 0h1m1 0h1m1 0h2m1 0h1m1 0h1m2 0h2m1 0h5m3 0h1m1 0h1M31 158h1m1 0h8m1 0h7m2 0h1m11 0h1M22 159h1m1 0h1m4 0h2m1 0h4m3 0h2m1 0h1m3 0h1m2 0h1M25 160h1m1 0h2m1 0h1m1 0h2m1 0h2m2 0h4m2 0h2m6 0h2M24 161h1m1 0h5m3 0h1m2 0h2m1 0h2m12 0h2M21 162h1m3 0h1m2 0h1m2 0h1m2 0h1m1 0h1m4 0h1m3 0h2m2 0h1m3 0h1M20 163h1m1 0h1m1 0h1m1 0h1m3 0h1m5 0h1m3 0h1m3 0h1m7 0h1M22 164h1m4 0h2m2 0h1m2 0h1m2 0h1m6 0h1M27 165h1m1 0h1m10 0h1m2 0h1M23 166h1m2 0h1m2 0h1m15 0h1m5 0h1M16 167h1m14 0h1m8 0h1M29 168h2m6 0h1M22 169h1M31 170h2M26 174h1m1 0h1M27 175h1m4 0h2"/></g>
<rect x="1007.5" y="2273.5" width="344.7" height="352.4" fill="none" stroke="#707070" stroke-width="2"/>
<line x1="1185.5" y1="2273.5" x2="1185.5" y2="2625.9" stroke="#555" stroke-width="1.8"/>
<line x1="1007.5" y1="2473.8" x2="1352.2" y2="2473.8" stroke="#555" stroke-width="1.8"/>
<path d="M1007.5 2625.9v8M1007.5 2625.9h-8M1033.4 2625.9v4.5M1007.5 2599.4h-4.5M1048.6 2625.9v4.5M1007.5 2583.9h-4.5M1059.4 2625.9v4.5M1007.5 2572.9h-4.5M1067.7 2625.9v4.5M1007.5 2564.3h-4.5M1074.6 2625.9v4.5M1007.5 2557.3h-4.5M1080.3 2625.9v4.5M1007.5 2551.4h-4.5M1085.3 2625.9v4.5M1007.5 2546.3h-4.5M1089.7 2625.9v4.5M1007.5 2541.8h-4.5M1093.7 2625.9v8M1007.5 2537.8h-8M1119.6 2625.9v4.5M1007.5 2511.3h-4.5M1134.8 2625.9v4.5M1007.5 2495.8h-4.5M1145.6 2625.9v4.5M1007.5 2484.8h-4.5M1153.9 2625.9v4.5M1007.5 2476.2h-4.5M1160.7 2625.9v4.5M1007.5 2469.2h-4.5M1166.5 2625.9v4.5M1007.5 2463.3h-4.5M1171.5 2625.9v4.5M1007.5 2458.2h-4.5M1175.9 2625.9v4.5M1007.5 2453.7h-4.5M1179.8 2625.9v8M1007.5 2449.7h-8M1205.8 2625.9v4.5M1007.5 2423.2h-4.5M1221.0 2625.9v4.5M1007.5 2407.7h-4.5M1231.7 2625.9v4.5M1007.5 2396.7h-4.5M1240.1 2625.9v4.5M1007.5 2388.1h-4.5M1246.9 2625.9v4.5M1007.5 2381.1h-4.5M1252.7 2625.9v4.5M1007.5 2375.2h-4.5M1257.7 2625.9v4.5M1007.5 2370.1h-4.5M1262.1 2625.9v4.5M1007.5 2365.6h-4.5M1266.0 2625.9v8M1007.5 2361.6h-8M1292.0 2625.9v4.5M1007.5 2335.1h-4.5M1307.1 2625.9v4.5M1007.5 2319.6h-4.5M1317.9 2625.9v4.5M1007.5 2308.6h-4.5M1326.3 2625.9v4.5M1007.5 2300.0h-4.5M1333.1 2625.9v4.5M1007.5 2293.0h-4.5M1338.9 2625.9v4.5M1007.5 2287.1h-4.5M1343.8 2625.9v4.5M1007.5 2282.0h-4.5M1348.3 2625.9v4.5M1007.5 2277.5h-4.5M1352.2 2625.9v8M1007.5 2273.5h-8" stroke="#555" stroke-width="1.6" fill="none"/>
<text x="1009.5" y="2655.9" font-size="15" font-weight="bold" fill="#222" text-anchor="middle">10<tspan font-size="9" dy="-6">0</tspan></text>
<text x="991.5" y="2626.9" font-size="15" font-weight="bold" fill="#222" text-anchor="middle" transform="rotate(-90 991.5 2626.9)">10<tspan font-size="9" dy="-6">0</tspan></text>
<text x="1095.7" y="2655.9" font-size="15" font-weight="bold" fill="#222" text-anchor="middle">10<tspan font-size="9" dy="-6">1</tspan></text>
<text x="991.5" y="2538.8" font-size="15" font-weight="bold" fill="#222" text-anchor="middle" transform="rotate(-90 991.5 2538.8)">10<tspan font-size="9" dy="-6">1</tspan></text>
<text x="1181.8" y="2655.9" font-size="15" font-weight="bold" fill="#222" text-anchor="middle">10<tspan font-size="9" dy="-6">2</tspan></text>
<text x="991.5" y="2450.7" font-size="15" font-weight="bold" fill="#222" text-anchor="middle" transform="rotate(-90 991.5 2450.7)">10<tspan font-size="9" dy="-6">2</tspan></text>
<text x="1268" y="2655.9" font-size="15" font-weight="bold" fill="#222" text-anchor="middle">10<tspan font-size="9" dy="-6">3</tspan></text>
<text x="991.5" y="2362.6" font-size="15" font-weight="bold" fill="#222" text-anchor="middle" transform="rotate(-90 991.5 2362.6)">10<tspan font-size="9" dy="-6">3</tspan></text>
<text x="1354.2" y="2655.9" font-size="15" font-weight="bold" fill="#222" text-anchor="middle">10<tspan font-size="9" dy="-6">4</tspan></text>
<text x="991.5" y="2274.5" font-size="15" font-weight="bold" fill="#222" text-anchor="middle" transform="rotate(-90 991.5 2274.5)">10<tspan font-size="9" dy="-6">4</tspan></text>
<g font-size="15.5" font-weight="bold" fill="#1a1a1a" letter-spacing="1.3"><text x="1012.5" y="2294.5">Q1</text><text x="1012.5" y="2314.5">0.42%</text><text x="1288.2" y="2294.5">Q2</text><text x="1288.2" y="2314.5">32.43%</text><text x="1012.5" y="2597.9">Q4</text><text x="1012.5" y="2618.9">58.95%</text><text x="1288.2" y="2597.9">Q3</text><text x="1288.2" y="2618.9">8.40%</text></g>
<text x="1184.1" y="2247.8" font-size="26" text-anchor="middle">MLND</text>
<g transform="translate(1408.8 2271.90) scale(2.0)" fill="none" stroke="#f00" stroke-width="1"><path d="M135 2h1M170 3h1M160 4h1M146 6h1M141 7h1M141 10h1M120 11h1m8 0h1m11 0h1M154 12h1M134 13h1m1 0h1m30 0h1M111 14h1m4 0h1M112 15h1m45 0h1M144 16h1m23 0h1M121 17h1m11 0h1m25 0h1M115 18h2m42 0h1m4 0h1M142 19h1M115 20h1m3 0h1M103 21h1m19 0h1m3 0h1m33 0h1M97 22h1m28 0h1m1 0h1m14 0h1m7 0h1m2 0h1M118 23h2m4 0h1m2 0h1m9 0h2m4 0h1m1 0h1M128 24h1m4 0h1m5 0h2m7 0h1m16 0h1M85 25h1m28 0h2m26 0h2m4 0h1m9 0h2m3 0h1M104 26h1m11 0h2m21 0h1m2 0h1m9 0h1m6 0h1M115 27h1m10 0h1m5 0h1m4 0h1m1 0h1m4 0h1M114 28h1m5 0h1m2 0h2m4 0h1m2 0h1m1 0h1m3 0h1m4 0h1m1 0h1m2 0h1m3 0h1m2 0h1M98 29h1m1 0h1m5 0h1m11 0h1m5 0h1m4 0h1m2 0h3m5 0h3m7 0h1m2 0h1M104 30h1m3 0h1m16 0h1m2 0h1m4 0h1m6 0h1m2 0h1m1 0h1m1 0h2m7 0h1M97 31h1m15 0h1m2 0h1m1 0h2m5 0h1m5 0h1m4 0h1m9 0h1M113 32h1m1 0h3m1 0h1m2 0h1m6 0h1m7 0h1m2 0h1m5 0h2m2 0h1M106 33h1m18 0h2m3 0h1m2 0h1m2 0h1m1 0h2m1 0h1m3 0h1m5 0h1m4 0h1m4 0h1M107 34h1m2 0h1m3 0h2m4 0h1m4 0h2m2 0h1m3 0h1m1 0h1m1 0h1m2 0h1m6 0h2m18 0h1M111 35h1m1 0h1m1 0h1m2 0h2m5 0h2m4 0h1m3 0h1m2 0h2m4 0h1m10 0h1m2 0h1m11 0h1M74 36h1m27 0h2m3 0h1m3 0h1m3 0h1m5 0h3m2 0h2m2 0h1m1 0h2m1 0h1m1 0h1m1 0h1m3 0h2m2 0h2m5 0h1M98 37h1m1 0h1m2 0h1m2 0h1m5 0h1m1 0h1m1 0h3m1 0h1m4 0h1m1 0h2m2 0h2m3 0h4m4 0h1m2 0h2m7 0h1m1 0h1m11 0h1M105 38h1m1 0h1m4 0h1m1 0h3m4 0h1m4 0h1m1 0h1m2 0h1m5 0h2m2 0h1m1 0h1m2 0h1m3 0h1m1 0h1m2 0h1M99 39h1m5 0h1m1 0h1m8 0h2m1 0h1m2 0h2m1 0h1m1 0h1m5 0h1m2 0h2m1 0h1m1 0h2m2 0h1m1 0h2m2 0h1m4 0h1m4 0h2M99 40h1m5 0h1m2 0h1m4 0h1m2 0h1m6 0h1m1 0h1m2 0h1m1 0h1m3 0h3m1 0h1m1 0h2m3 0h1m4 0h1m3 0h1m4 0h1m5 0h1M83 41h1m1 0h1m7 0h1m8 0h1m5 0h1m1 0h1m1 0h3m1 0h1m2 0h1m3 0h2m1 0h1m1 0h2m1 0h1m3 0h1m5 0h1m1 0h1m6 0h1m4 0h1m10 0h1m2 0h1m2 0h1M101 42h1m1 0h1m2 0h1m5 0h1m4 0h1m1 0h1m3 0h2m7 0h1m8 0h2m2 0h4m9 0h1m9 0h1m2 0h1M81 43h1m12 0h2m5 0h1m12 0h1m1 0h3m2 0h1m1 0h1m3 0h2m1 0h1m7 0h2m1 0h1m1 0h1m2 0h1m3 0h1m1 0h3m1 0h3m1 0h2M81 44h1m3 0h1m12 0h1m8 0h1m5 0h2m3 0h1m13 0h1m12 0h1m1 0h1m4 0h1m4 0h1M97 45h1m5 0h1m4 0h2m2 0h1m2 0h2m2 0h1m2 0h3m6 0h1m5 0h2m1 0h1m4 0h2m4 0h3m4 0h2M91 46h1m4 0h1m3 0h1m1 0h1m5 0h1m1 0h1m6 0h3m1 0h1m11 0h1m6 0h1m2 0h1m1 0h4m2 0h1m4 0h1m2 0h2m1 0h1M72 47h1m23 0h2m14 0h1m4 0h1m3 0h1m3 0h1m2 0h2m3 0h1m3 0h1m3 0h1m5 0h1m12 0h1m5 0h1M77 48h1m11 0h1m9 0h2m7 0h1m1 0h1m1 0h2m2 0h1m4 0h1m1 0h1m1 0h1m12 0h1m10 0h2m2 0h2m5 0h1m9 0h1M56 49h1m15 0h1m4 0h2m5 0h1m16 0h1m4 0h2m1 0h1m3 0h1m14 0h1m26 0h1m12 0h2M81 50h1m6 0h2m11 0h1m2 0h2m1 0h2m4 0h1m1 0h2m28 0h1m1 0h4m1 0h1m19 0h1M47 51h1m6 0h1m37 0h2m7 0h1m2 0h1m2 0h1m2 0h3m1 0h2m2 0h1m6 0h1m16 0h1m3 0h1m2 0h1m2 0h4m4 0h2M73 52h1m2 0h1m12 0h1m2 0h1m6 0h2m6 0h1m4 0h3m1 0h1m2 0h1m17 0h1m4 0h1m5 0h1m2 0h1m3 0h3M82 53h1m11 0h3m3 0h1m1 0h1m1 0h2m4 0h3m1 0h1m2 0h1m2 0h2m1 0h1m3 0h1m12 0h1m1 0h1m6 0h1m3 0h5m8 0h1M67 54h1m17 0h1m12 0h1m2 0h1m6 0h1m2 0h1m1 0h2m25 0h1m2 0h1m3 0h1m4 0h1m2 0h1m2 0h1M64 55h2m1 0h1m24 0h1m10 0h2m2 0h2m4 0h1m1 0h1m3 0h2m2 0h1m15 0h1m1 0h1m7 0h2m3 0h1m12 0h1M65 56h1m14 0h1m2 0h2m1 0h1m6 0h1m1 0h1m1 0h1m5 0h1m2 0h2m1 0h2m1 0h1m6 0h1m20 0h1m7 0h5M47 57h1m25 0h1m3 0h1m2 0h1m1 0h1m11 0h1m5 0h1m3 0h1m8 0h1m6 0h1m20 0h1m1 0h1m2 0h1m2 0h2m2 0h1m2 0h1m1 0h1m4 0h2m3 0h1m2 0h1M51 58h1m20 0h1m16 0h1m5 0h1m3 0h1m3 0h2m8 0h1m3 0h1m31 0h1m2 0h1m3 0h2m2 0h2m8 0h2M76 59h1m2 0h3m2 0h1m4 0h1m3 0h1m2 0h1m2 0h1m1 0h1m5 0h1m3 0h1m10 0h1m26 0h1m1 0h1m2 0h1m2 0h1m7 0h1m3 0h1M64 60h1m6 0h1m12 0h1m6 0h1m2 0h2m1 0h1m1 0h1m2 0h2m2 0h2m3 0h1m7 0h1m28 0h1m2 0h1m6 0h1m5 0h1m4 0h1M58 61h1m26 0h1m6 0h1m4 0h1m1 0h1m2 0h1m2 0h1m4 0h2m4 0h1m15 0h1m13 0h1m9 0h1m1 0h1m7 0h1m1 0h1m2 0h2M59 62h1m13 0h2m12 0h1m3 0h5m1 0h3m4 0h5m4 0h1m34 0h1m4 0h2m1 0h2m2 0h1M64 63h1m2 0h2m7 0h1m17 0h1m2 0h2m3 0h2m1 0h1m4 0h1m26 0h1m8 0h1m3 0h1m11 0h1m4 0h2M55 64h1m2 0h1m3 0h2m4 0h1m8 0h1m12 0h1m2 0h1m1 0h1m4 0h2m1 0h1m3 0h1m1 0h1m31 0h1m6 0h1m2 0h5m2 0h2m3 0h1M36 65h1m20 0h1m3 0h1m17 0h1m3 0h1m1 0h1m3 0h1m6 0h1m1 0h1m1 0h2m13 0h1m29 0h1m2 0h1m6 0h1m6 0h1m6 0h1M51 66h2m9 0h2m10 0h1m3 0h1m2 0h1m5 0h2m8 0h1m1 0h2m5 0h2m1 0h2m5 0h1m29 0h1m1 0h1m1 0h1m1 0h1m1 0h3M72 67h1m7 0h1m1 0h2m1 0h1m2 0h1m1 0h1m6 0h2m1 0h1m1 0h2m1 0h1m35 0h1m7 0h2m3 0h2m9 0h1M60 68h1m11 0h1m5 0h1m3 0h1m2 0h1m1 0h1m2 0h1m1 0h1m1 0h3m1 0h1m4 0h1m2 0h1m3 0h1m6 0h1m26 0h6m2 0h1m8 0h1M54 69h1m1 0h1m15 0h1m2 0h1m5 0h2m3 0h2m1 0h1m1 0h1m1 0h1m2 0h5m3 0h1m2 0h1m7 0h1m24 0h1m7 0h1m1 0h1m5 0h1m4 0h2M64 70h1m2 0h1m4 0h1m4 0h1m6 0h1m2 0h1m1 0h1m2 0h2m1 0h1m4 0h3m51 0h1m1 0h1m5 0h2m4 0h1M45 71h1m7 0h1m2 0h1m5 0h1m8 0h1m6 0h2m2 0h1m4 0h1m1 0h2m4 0h1m7 0h2m1 0h1m34 0h1m4 0h1m7 0h1m2 0h1M76 72h2m8 0h1m5 0h2m5 0h1m7 0h2m30 0h1m6 0h2m2 0h1m4 0h1m3 0h1M68 73h1m5 0h2m3 0h1m4 0h1m2 0h1m3 0h1m1 0h1m2 0h1m1 0h2m2 0h2m41 0h1m1 0h1m1 0h1m3 0h1m3 0h1M45 74h1m9 0h1m1 0h1m8 0h1m15 0h1m3 0h1m1 0h1m2 0h1m2 0h2m3 0h1m40 0h1m4 0h2m4 0h1m3 0h1m1 0h1m1 0h2m1 0h1m2 0h1M47 75h1m15 0h1m3 0h1m4 0h1m8 0h1m4 0h3m1 0h1m1 0h2m5 0h1m1 0h1m1 0h3m5 0h1m32 0h1m4 0h1m1 0h2m7 0h1m9 0h1M36 76h1m15 0h1m6 0h1m4 0h1m5 0h1m2 0h3m1 0h1m1 0h2m2 0h1m3 0h1m4 0h2m1 0h1m3 0h1m1 0h1m3 0h1m1 0h2m26 0h1m1 0h1m2 0h1m6 0h1m1 0h3m1 0h2m3 0h1M56 77h1m5 0h1m7 0h1m1 0h1m5 0h1m1 0h1m1 0h2m2 0h1m5 0h1m5 0h1m1 0h2m4 0h1m1 0h1m36 0h1m4 0h3m1 0h2M42 78h2m14 0h1m8 0h1m2 0h1m5 0h1m1 0h2m3 0h1m1 0h1m2 0h2m3 0h1m4 0h1m8 0h1m8 0h1m27 0h1m1 0h3m4 0h2m9 0h1m5 0h1M37 79h1m15 0h1m3 0h2m10 0h2m3 0h1m1 0h1m2 0h1m2 0h1m1 0h2m1 0h2m1 0h1m1 0h1m1 0h1m3 0h1m2 0h1m1 0h1m1 0h2m1 0h1m21 0h1m3 0h1m11 0h2m1 0h3m2 0h1m4 0h1m2 0h1m1 0h1m3 0h1M70 80h1m6 0h1m1 0h1m4 0h1m1 0h2m1 0h2m2 0h1m9 0h3m4 0h1m30 0h1m1 0h2m3 0h2m2 0h1m1 0h1m1 0h1m3 0h1m1 0h1M58 81h2m9 0h1m4 0h1m20 0h2m4 0h2m13 0h1m24 0h1m1 0h2m2 0h3m12 0h2M53 82h2m20 0h2m4 0h4m3 0h1m2 0h2m2 0h1m7 0h2m1 0h1m35 0h1m2 0h2m6 0h1M46 83h1m24 0h3m1 0h2m1 0h1m7 0h1m3 0h4m6 0h1m8 0h1m2 0h1m2 0h1m15 0h1m3 0h3m9 0h2m5 0h1m7 0h1M49 84h1m8 0h1m6 0h1m7 0h1m2 0h2m5 0h1m5 0h1m3 0h2m7 0h1m36 0h1m1 0h2m5 0h1m3 0h3m1 0h2M59 85h1m8 0h1m3 0h2m1 0h1m7 0h2m2 0h1m1 0h1m1 0h1m1 0h1m8 0h1m12 0h1m11 0h1m1 0h1m1 0h1m6 0h1m2 0h1m2 0h3m1 0h1m6 0h1m5 0h1m7 0h1M61 86h1m2 0h1m2 0h1m3 0h1m1 0h1m1 0h1m1 0h1m5 0h2m9 0h1m1 0h3m35 0h1m2 0h1m6 0h1m4 0h3M64 87h1m7 0h1m2 0h1m1 0h1m4 0h2m7 0h1m6 0h2m3 0h1m3 0h2m12 0h1m12 0h2m3 0h3m1 0h1m3 0h1m3 0h2m4 0h1m9 0h1M48 88h1m4 0h2m4 0h1m4 0h2m2 0h1m2 0h1m2 0h2m6 0h4m4 0h3m2 0h2m2 0h5m2 0h3m3 0h1m6 0h1m6 0h1m2 0h1m11 0h1m2 0h1m6 0h1m1 0h1M43 89h1m1 0h1m18 0h2m6 0h1m1 0h1m1 0h1m6 0h1m6 0h2m6 0h1m6 0h1m6 0h1m2 0h1m1 0h1m18 0h1m3 0h2m10 0h1M48 90h1m12 0h1m1 0h1m20 0h3m1 0h3m1 0h1m2 0h1m8 0h2m6 0h1m4 0h1m1 0h1m17 0h2m2 0h2m3 0h2m2 0h1m1 0h1m2 0h1M41 91h1m19 0h1m9 0h1m1 0h1m2 0h2m1 0h1m2 0h2m1 0h3m7 0h1m2 0h1m17 0h1m13 0h1m1 0h1m1 0h1m3 0h3m1 0h1m1 0h2m6 0h1m2 0h1m3 0h2M61 92h1m8 0h3m6 0h1m6 0h1m6 0h1m5 0h2m2 0h3m1 0h1m27 0h1m2 0h1m1 0h1m5 0h1m2 0h3m2 0h1m9 0h1M60 93h1m2 0h1m8 0h1m4 0h1m5 0h1m1 0h1m1 0h1m1 0h2m2 0h2m3 0h3m3 0h1m1 0h1m5 0h1m2 0h1m15 0h1m8 0h1m1 0h1m2 0h1m2 0h1m2 0h1m1 0h1m3 0h1m4 0h1m3 0h1M58 94h2m6 0h1m6 0h1m2 0h3m4 0h3m3 0h2m1 0h2m1 0h1m1 0h1m3 0h1m11 0h1m8 0h1m2 0h1m3 0h1m2 0h1m4 0h1m3 0h1m6 0h1m2 0h1m1 0h2M63 95h1m1 0h1m9 0h1m6 0h1m1 0h2m3 0h1m1 0h1m4 0h1m2 0h1m1 0h2m4 0h1m2 0h1m9 0h1m3 0h1m4 0h1m6 0h2m8 0h2m2 0h2m5 0h1M54 96h1m8 0h1m1 0h1m3 0h1m1 0h1m3 0h1m1 0h1m2 0h1m1 0h1m1 0h1m1 0h1m2 0h1m2 0h2m3 0h1m5 0h1m9 0h1m2 0h1m1 0h1m5 0h2m3 0h2m4 0h2m2 0h2m1 0h3m5 0h1m1 0h1m1 0h1M49 97h1m6 0h1m6 0h1m7 0h1m3 0h1m7 0h1m4 0h1m2 0h1m4 0h2m2 0h1m2 0h2m1 0h1m13 0h1m5 0h1m1 0h1m9 0h1m4 0h1m1 0h1m3 0h1M65 98h1m2 0h1m6 0h3m1 0h2m2 0h1m2 0h1m8 0h2m2 0h1m2 0h2m14 0h1m2 0h2m1 0h1m2 0h1m1 0h2m4 0h2m7 0h1m3 0h1m4 0h1m4 0h1M47 99h1m14 0h1m1 0h1m2 0h1m3 0h1m2 0h1m3 0h1m1 0h1m3 0h1m2 0h1m1 0h3m6 0h1m1 0h1m2 0h2m9 0h1m3 0h1m3 0h1m1 0h1m11 0h1m2 0h1m2 0h2m1 0h1m2 0h3m1 0h1m16 0h1M57 100h1m4 0h2m3 0h2m5 0h1m1 0h1m6 0h1m1 0h1m3 0h2m1 0h3m1 0h3m4 0h2m6 0h1m1 0h1m1 0h1m5 0h1m4 0h3m1 0h5m5 0h1m3 0h1M60 101h1m15 0h3m1 0h1m3 0h2m1 0h2m2 0h3m2 0h1m3 0h2m6 0h1m2 0h3m7 0h2m13 0h2m16 0h1M45 102h1m4 0h1m14 0h1m7 0h1m2 0h1m6 0h1m6 0h1m4 0h1m16 0h1m6 0h1m4 0h1m5 0h2m1 0h3m1 0h2m6 0h1m11 0h1M55 103h1m1 0h1m2 0h1m5 0h1m7 0h3m1 0h1m2 0h1m4 0h1m2 0h1m2 0h2m1 0h1m1 0h1m4 0h1m4 0h1m2 0h1m8 0h1m1 0h1m2 0h1m1 0h1m3 0h1m1 0h1m2 0h1m2 0h1m3 0h1m16 0h1M38 104h1m3 0h1m20 0h1m2 0h3m2 0h4m5 0h1m1 0h1m2 0h3m3 0h1m3 0h1m7 0h1m1 0h1m8 0h1m1 0h2m2 0h1m6 0h2m3 0h2m4 0h1m6 0h1m2 0h1m8 0h1M60 105h1m7 0h2m5 0h1m7 0h2m3 0h4m1 0h1m2 0h1m4 0h3m1 0h1m1 0h1m5 0h1m6 0h1m3 0h2m2 0h1m4 0h1m1 0h1m3 0h2m5 0h2m6 0h1m3 0h1M42 106h1m15 0h1m4 0h1m4 0h1m4 0h1m3 0h1m2 0h1m3 0h1m2 0h1m1 0h1m4 0h1m5 0h1m1 0h1m5 0h1m2 0h1m3 0h1m1 0h1m4 0h1m2 0h2m1 0h2m1 0h2m7 0h1m1 0h1m1 0h1m4 0h1M43 107h1m28 0h1m12 0h2m2 0h1m1 0h2m3 0h1m2 0h1m1 0h2m1 0h1m10 0h1m2 0h1m4 0h1m8 0h2m1 0h1m1 0h1m1 0h1m3 0h1m1 0h1m3 0h1M46 108h2m13 0h1m4 0h1m4 0h2m8 0h1m4 0h3m2 0h1m1 0h2m2 0h3m2 0h1m1 0h1m4 0h1m5 0h1m1 0h2m1 0h1m4 0h1m1 0h1m6 0h1m1 0h1m2 0h2m1 0h1m16 0h1M57 109h1m4 0h1m2 0h1m4 0h1m1 0h2m4 0h1m2 0h1m1 0h1m4 0h1m2 0h1m1 0h1m1 0h3m3 0h2m3 0h1m4 0h1m1 0h3m10 0h2m4 0h2m1 0h4m1 0h1m3 0h1m3 0h1M42 110h3m8 0h1m3 0h1m2 0h1m7 0h1m2 0h2m7 0h4m6 0h1m5 0h1m9 0h1m1 0h1m3 0h5m6 0h1m1 0h1m2 0h1m4 0h1m9 0h1m3 0h1m4 0h1M41 111h1m8 0h2m9 0h1m1 0h1m5 0h1m1 0h1m1 0h1m3 0h1m7 0h1m1 0h1m2 0h1m1 0h2m2 0h2m1 0h2m2 0h1m3 0h1m9 0h1m6 0h3m1 0h1m2 0h1m9 0h2M38 112h1m1 0h1m8 0h1m3 0h1m21 0h1m4 0h1m4 0h1m2 0h1m1 0h1m1 0h1m2 0h3m1 0h1m1 0h1m1 0h1m3 0h1m10 0h1m1 0h1m1 0h2m2 0h2m2 0h1m2 0h1m12 0h1M36 113h1m8 0h1m7 0h1m14 0h1m3 0h1m2 0h2m1 0h2m1 0h2m2 0h1m5 0h1m5 0h2m2 0h1m3 0h1m8 0h1m1 0h1m4 0h1m3 0h4m2 0h1m2 0h1m1 0h2m2 0h1m2 0h1M46 114h1m5 0h1m13 0h1m1 0h1m1 0h1m1 0h1m1 0h1m4 0h1m5 0h1m2 0h1m4 0h1m3 0h2m3 0h1m4 0h1m1 0h1m3 0h2m1 0h1m1 0h1m3 0h2m1 0h1m1 0h4m4 0h1m1 0h1M31 115h1m11 0h1m8 0h3m3 0h1m9 0h2m1 0h1m5 0h1m1 0h1m3 0h3m1 0h1m1 0h1m2 0h1m2 0h2m3 0h1m10 0h3m3 0h3m2 0h1m2 0h3m1 0h3m5 0h1m3 0h1M42 116h1m6 0h1m4 0h1m8 0h4m3 0h1m1 0h3m3 0h1m2 0h1m1 0h1m7 0h2m4 0h1m6 0h2m3 0h1m8 0h1m3 0h1m7 0h2m9 0h2M45 117h1m4 0h1m2 0h1m1 0h1m2 0h1m6 0h1m5 0h1m5 0h1m1 0h1m1 0h1m1 0h4m7 0h3m5 0h1m2 0h2m4 0h1m1 0h1m3 0h1m1 0h1m1 0h2m6 0h1m9 0h2m2 0h1m3 0h1M52 118h1m8 0h1m3 0h1m3 0h1m1 0h1m7 0h2m3 0h2m2 0h2m12 0h1m3 0h1m1 0h2m3 0h1m3 0h1m4 0h1m4 0h2m1 0h1m3 0h2m10 0h1M38 119h1m5 0h2m5 0h1m6 0h1m1 0h2m1 0h1m7 0h2m6 0h1m2 0h1m3 0h1m1 0h4m1 0h1m4 0h1m3 0h1m3 0h3m1 0h3m5 0h1m1 0h3m5 0h1m2 0h1m5 0h1M29 120h1m21 0h2m4 0h1m1 0h1m3 0h1m5 0h1m8 0h2m2 0h1m8 0h2m3 0h1m1 0h1m3 0h2m1 0h1m3 0h1m1 0h2m7 0h2m2 0h1m1 0h1m1 0h1m1 0h1m3 0h1m3 0h1m1 0h1M24 121h1m21 0h1m4 0h1m2 0h1m8 0h1m1 0h1m7 0h1m2 0h1m1 0h1m1 0h1m4 0h1m3 0h1m2 0h1m1 0h1m4 0h3m5 0h1m5 0h1m9 0h2m4 0h1m6 0h1M29 122h1m20 0h2m8 0h1m2 0h1m3 0h1m2 0h1m3 0h1m1 0h1m1 0h1m2 0h1m2 0h1m1 0h1m1 0h1m2 0h1m1 0h2m2 0h1m2 0h1m4 0h1m1 0h2m9 0h2m10 0h2m5 0h1m10 0h1m4 0h1M47 123h1m2 0h2m7 0h2m1 0h1m6 0h2m3 0h1m3 0h1m4 0h1m2 0h1m4 0h1m1 0h1m2 0h1m1 0h2m4 0h1m5 0h2m4 0h4m5 0h2m1 0h1m10 0h1m6 0h2M57 124h1m1 0h1m2 0h1m1 0h1m4 0h1m5 0h2m1 0h2m2 0h1m1 0h1m2 0h1m1 0h2m7 0h1m1 0h2m1 0h1m8 0h1m5 0h1m3 0h2m2 0h1m6 0h1m7 0h1M28 125h1m18 0h2m1 0h1m1 0h1m5 0h4m2 0h1m2 0h1m3 0h2m2 0h1m2 0h1m3 0h1m5 0h1m5 0h1m1 0h1m3 0h2m11 0h5m5 0h1m7 0h1M41 126h2m3 0h1m7 0h1m1 0h3m9 0h1m3 0h1m3 0h1m1 0h1m2 0h1m1 0h2m1 0h1m1 0h1m3 0h1m1 0h4m2 0h1m3 0h1m2 0h2m5 0h1m4 0h1m2 0h2m3 0h3M42 127h1m2 0h1m4 0h1m2 0h2m3 0h2m3 0h3m6 0h2m1 0h1m3 0h1m1 0h2m1 0h4m2 0h1m3 0h1m1 0h1m5 0h1m7 0h1m1 0h2m2 0h1m2 0h1m3 0h1m1 0h1m1 0h1m3 0h1m2 0h2m1 0h1M19 128h1m9 0h1m7 0h1m6 0h1m6 0h1m1 0h1m2 0h1m3 0h1m1 0h1m2 0h1m1 0h1m5 0h1m2 0h1m4 0h2m3 0h1m2 0h2m1 0h1m4 0h1m2 0h4m5 0h3m2 0h2m1 0h5m2 0h2m3 0h2m1 0h1m3 0h1m9 0h1M31 129h1m6 0h1m2 0h5m1 0h1m4 0h1m4 0h1m6 0h1m2 0h3m3 0h1m1 0h1m8 0h1m2 0h1m2 0h2m3 0h1m1 0h2m1 0h2m1 0h1m4 0h1m1 0h1m3 0h2m1 0h1m1 0h1m2 0h4m2 0h3m4 0h2m5 0h1M29 130h2m9 0h1m7 0h1m4 0h1m2 0h1m7 0h1m4 0h1m1 0h4m4 0h1m1 0h1m6 0h1m5 0h1m2 0h1m6 0h1m6 0h1m1 0h1m3 0h1m1 0h3m4 0h1m2 0h2M23 131h1m1 0h1m6 0h1m3 0h1m4 0h1m10 0h1m2 0h2m2 0h1m4 0h1m1 0h1m4 0h1m2 0h1m1 0h2m1 0h3m1 0h2m2 0h1m4 0h9m1 0h1m1 0h2m4 0h1m1 0h1m3 0h1m1 0h1m2 0h2m1 0h1m4 0h1m2 0h1m2 0h1M37 132h2m3 0h1m2 0h1m1 0h1m1 0h1m2 0h1m2 0h2m2 0h3m2 0h2m3 0h1m1 0h3m2 0h1m1 0h1m3 0h3m2 0h1m5 0h2m1 0h1m2 0h2m1 0h1m1 0h1m2 0h1m2 0h1m2 0h1m1 0h2m2 0h1m4 0h2m2 0h1m2 0h1m5 0h1m15 0h1M29 133h1m3 0h3m5 0h1m1 0h2m2 0h1m3 0h3m1 0h1m4 0h2m1 0h2m1 0h1m3 0h1m1 0h3m2 0h6m1 0h1m2 0h2m1 0h2m3 0h2m1 0h2m2 0h2m4 0h2m5 0h1m2 0h2m1 0h2m6 0h2m9 0h1m12 0h1M22 134h1m9 0h1m1 0h1m1 0h1m3 0h2m1 0h1m1 0h1m4 0h1m1 0h1m7 0h1m1 0h1m5 0h2m2 0h1m4 0h1m1 0h1m1 0h1m2 0h1m1 0h1m1 0h3m1 0h1m2 0h1m2 0h2m2 0h1m2 0h2m5 0h1m1 0h2m3 0h2m5 0h1m1 0h1m11 0h1M32 135h1m1 0h1m1 0h1m8 0h1m1 0h1m5 0h4m1 0h1m3 0h1m3 0h1m1 0h1m1 0h2m5 0h4m9 0h2m1 0h3m6 0h1m8 0h1m1 0h1m1 0h1m1 0h3m5 0h1M30 136h2m7 0h1m4 0h1m5 0h1m2 0h2m4 0h1m1 0h1m2 0h1m2 0h3m1 0h1m4 0h2m1 0h1m3 0h1m4 0h1m2 0h1m3 0h1m2 0h2m12 0h2m2 0h2m2 0h1m5 0h2m3 0h1m1 0h2m5 0h1M32 137h1m2 0h2m2 0h1m7 0h1m1 0h1m2 0h1m2 0h1m1 0h4m1 0h1m8 0h1m3 0h1m2 0h1m1 0h1m3 0h1m1 0h1m4 0h1m4 0h3m1 0h1m1 0h1m2 0h2m4 0h1m2 0h1m1 0h2m3 0h1m4 0h3m4 0h1m7 0h1M31 138h3m2 0h1m5 0h1m4 0h1m1 0h1m2 0h1m3 0h1m4 0h1m4 0h2m1 0h5m2 0h2m2 0h1m8 0h1m2 0h1m1 0h2m1 0h1m4 0h1m2 0h1m5 0h1m2 0h1m6 0h1m6 0h2m3 0h1m2 0h1M33 139h1m4 0h1m1 0h1m3 0h1m2 0h3m3 0h1m1 0h1m1 0h2m3 0h2m3 0h1m4 0h2m1 0h1m3 0h1m3 0h2m3 0h1m3 0h1m4 0h1m1 0h1m4 0h1m6 0h1m3 0h2m3 0h1m5 0h1m3 0h2M23 140h1m4 0h1m2 0h1m2 0h1m1 0h1m7 0h2m4 0h1m1 0h1m2 0h1m1 0h1m1 0h1m5 0h1m7 0h2m1 0h1m2 0h1m1 0h4m2 0h1m1 0h1m4 0h1m1 0h1m1 0h1m2 0h2m5 0h1m1 0h2m4 0h1m1 0h3m3 0h1m6 0h2M7 141h1m30 0h1m3 0h1m13 0h3m4 0h3m1 0h2m14 0h1m1 0h3m2 0h2m3 0h1m2 0h1m3 0h1m2 0h1m2 0h1m2 0h1m5 0h1m5 0h1M21 142h1m5 0h1m12 0h1m1 0h1m1 0h3m1 0h2m1 0h1m2 0h2m3 0h1m2 0h1m1 0h1m3 0h1m2 0h1m5 0h2m13 0h1m1 0h1m2 0h1m1 0h2m3 0h2m4 0h1m1 0h1m3 0h1m3 0h1m2 0h1m5 0h1M33 143h2m1 0h1m3 0h2m1 0h2m1 0h1m6 0h1m1 0h1m3 0h1m12 0h1m3 0h1m2 0h1m4 0h1m5 0h2m2 0h1m4 0h1m6 0h1m2 0h1m5 0h1m1 0h2m2 0h2m5 0h1M12 144h1m1 0h1m4 0h1m3 0h1m10 0h1m2 0h1m3 0h1m6 0h1m4 0h2m2 0h1m7 0h1m5 0h1m1 0h2m2 0h1m5 0h1m1 0h1m5 0h2m2 0h1m2 0h1m1 0h3m1 0h1m1 0h1m1 0h1m3 0h1m1 0h1m5 0h1m25 0h1M23 145h2m10 0h1m6 0h1m7 0h4m3 0h1m10 0h1m2 0h1m2 0h2m17 0h4m1 0h1m2 0h1m3 0h3m2 0h1m4 0h1m4 0h1m6 0h1m8 0h1M33 146h1m3 0h2m7 0h1m4 0h1m5 0h1m4 0h2m2 0h2m2 0h1m3 0h1m5 0h1m1 0h2m8 0h3m1 0h1m2 0h1m2 0h1m5 0h1m2 0h1m3 0h1m4 0h1m3 0h1m2 0h1m4 0h1m4 0h1M22 147h1m4 0h1m4 0h1m1 0h1m9 0h1m4 0h1m1 0h1m2 0h1m4 0h1m2 0h1m2 0h1m1 0h2m5 0h1m4 0h2m8 0h4m5 0h1m10 0h1m6 0h1m1 0h1m1 0h1M31 148h2m1 0h1m2 0h2m2 0h2m1 0h2m3 0h1m6 0h1m5 0h4m1 0h1m6 0h1m2 0h1m6 0h1m8 0h1m11 0h1m2 0h1m7 0h1m4 0h1m4 0h1m10 0h1M16 149h1m2 0h2m12 0h1m3 0h1m1 0h1m1 0h2m1 0h2m3 0h1m1 0h3m2 0h2m3 0h1m4 0h1m2 0h2m7 0h1m12 0h1m1 0h1m1 0h1m1 0h1m1 0h1m1 0h1m2 0h1m2 0h4m1 0h1m2 0h1m3 0h1m2 0h1M21 150h1m6 0h3m2 0h1m1 0h1m2 0h1m2 0h2m4 0h1m3 0h1m2 0h1m1 0h1m1 0h3m1 0h1m2 0h1m2 0h1m5 0h2m1 0h1m3 0h1m10 0h2m3 0h1m3 0h1m2 0h1m2 0h1m3 0h1m5 0h1M25 151h1m7 0h1m6 0h1m7 0h2m5 0h2m4 0h2m26 0h1m2 0h1m7 0h1m8 0h1m1 0h1M34 152h1m2 0h1m3 0h1m3 0h2m3 0h1m2 0h1m3 0h1m1 0h1m3 0h1m8 0h1m15 0h2m1 0h1m5 0h1m1 0h1m3 0h1m4 0h2m2 0h1m11 0h1M20 153h2m5 0h2m2 0h1m4 0h1m1 0h2m2 0h6m5 0h1m1 0h1m12 0h1m3 0h1m2 0h1m1 0h1m3 0h1m16 0h1m3 0h1m7 0h1m2 0h1M26 154h1m11 0h1m4 0h1m2 0h1m2 0h1m3 0h1m5 0h1m1 0h1m2 0h1m15 0h1m19 0h1m9 0h1m9 0h1M23 155h1m8 0h1m4 0h1m1 0h2m1 0h1m2 0h1m7 0h1m6 0h2m5 0h1m5 0h1m6 0h2m8 0h2m3 0h2m3 0h1m3 0h1m30 0h1M14 156h1m19 0h1m3 0h1m5 0h1m5 0h1m5 0h1m8 0h1m2 0h1m3 0h1m7 0h1m16 0h1m4 0h1m1 0h1M23 157h1m11 0h1m2 0h1m4 0h1m2 0h1m2 0h2m7 0h1m3 0h1m4 0h1m7 0h1m6 0h1m25 0h2M42 158h1m3 0h1m2 0h2m9 0h1m1 0h1m4 0h1m3 0h1m2 0h1m22 0h1m8 0h1m4 0h2M17 159h1m4 0h1m3 0h1m10 0h1m3 0h1m5 0h1m16 0h1m1 0h1m5 0h1m1 0h1m15 0h1m11 0h1m2 0h1m1 0h2M30 160h1m1 0h1m6 0h1m1 0h1m3 0h3m7 0h2m6 0h1m3 0h1m53 0h1M14 161h1m2 0h1m5 0h1m2 0h1m12 0h1m17 0h1m2 0h1m9 0h1m2 0h1m4 0h1m9 0h1m15 0h1m1 0h1m12 0h1M32 162h1m6 0h1m7 0h1m5 0h1m28 0h1m1 0h1m21 0h1M21 163h1m6 0h1m2 0h1m4 0h2m2 0h1m2 0h1m6 0h1m9 0h1m31 0h1M12 164h1m6 0h1m5 0h1m4 0h1m2 0h1m3 0h1m7 0h1m5 0h1m50 0h2M30 165h1m5 0h1m3 0h1m5 0h2m3 0h1m9 0h1m22 0h1m22 0h1M12 166h1m8 0h1m6 0h1m3 0h1m6 0h1m2 0h1m7 0h1m4 0h1m9 0h1m2 0h1m3 0h1m21 0h1M17 167h1m9 0h1m5 0h1m3 0h1m6 0h1m10 0h1m60 0h1M30 168h1m3 0h1m7 0h1m6 0h1m4 0h1m36 0h1m8 0h1m10 0h1M0 169h1m11 0h1m10 0h1m30 0h2m35 0h1M28 170h1m5 0h1m2 0h1m7 0h1m14 0h2m4 0h1M25 171h1m9 0h1m10 0h1m42 0h1M17 172h1m10 0h1m3 0h1m43 0h1m8 0h1m4 0h1M44 173h1m13 0h1m26 0h1M7 174h1m21 0h1m1 0h1m12 0h1m2 0h1m34 0h1m13 0h1M23 175h1m21 0h1m11 0h1m14 0h1" stroke-opacity=".42"/><path d="M137 14h1M129 24h1M127 26h1m9 0h1m19 0h1M129 27h1M135 28h1M146 29h1m1 0h1M137 30h1m19 0h1m6 0h1M110 31h1m16 0h1m4 0h1M123 32h1m2 0h1m5 0h1M121 33h1M121 34h1m5 0h1m2 0h2m2 0h1m3 0h1M132 35h1m8 0h2m5 0h1M92 36h1m45 0h1m24 0h1M133 37h1m7 0h2m8 0h1m3 0h1M118 38h1m1 0h1m6 0h1m5 0h1m6 0h1m3 0h2m3 0h1m3 0h1m6 0h1M126 39h1m2 0h1m2 0h1m2 0h1m2 0h1m4 0h1m14 0h1M124 40h1m2 0h1m1 0h1m1 0h2m13 0h1m11 0h1M120 41h2m3 0h1m1 0h1m4 0h2m10 0h1m1 0h2m6 0h1M115 42h1m2 0h1m8 0h1m6 0h2m1 0h4m11 0h1M109 43h1m12 0h1m2 0h1m6 0h2m1 0h1m1 0h1m4 0h1m5 0h1M111 44h1m3 0h1m1 0h1m1 0h2m1 0h3m1 0h1m1 0h1m4 0h3m2 0h1m1 0h1m5 0h1m1 0h2M118 45h1m1 0h2m6 0h2m5 0h2m2 0h1m2 0h1m1 0h1m4 0h1M101 46h1m4 0h1m8 0h1m6 0h1m7 0h1m3 0h1m2 0h2m2 0h2m1 0h1m4 0h1m4 0h1M105 47h1m4 0h1m4 0h2m1 0h2m6 0h1m5 0h1m2 0h1m6 0h1m3 0h1m3 0h1m5 0h1M111 48h1m14 0h3m3 0h1m9 0h1m1 0h1m2 0h1m4 0h1m2 0h1M88 49h1m19 0h1m6 0h1m1 0h1m1 0h1m1 0h3m2 0h1m4 0h1m1 0h1m1 0h1m3 0h1m4 0h1m2 0h1m1 0h1m2 0h2M114 50h1m2 0h2m2 0h1m7 0h1m1 0h2m4 0h1m3 0h1m1 0h1m2 0h1m7 0h1M109 51h1m6 0h1m3 0h1m5 0h1m11 0h1m4 0h1m3 0h1m2 0h2m6 0h1M108 52h1m9 0h1m4 0h1m7 0h1m11 0h1m2 0h1m2 0h2m2 0h1m4 0h1M90 53h1m18 0h1m3 0h1m2 0h1m22 0h1m3 0h1m8 0h1M97 54h1m1 0h1m5 0h1m3 0h1m6 0h1m2 0h1m22 0h1m6 0h1m9 0h1M106 55h1m30 0h1m6 0h1m8 0h1m1 0h1M66 56h1m14 0h1m12 0h1m39 0h1m19 0h1M101 57h2m3 0h1m1 0h4m6 0h2m25 0h1m1 0h2m3 0h1m1 0h1m2 0h1M82 58h1m18 0h1m4 0h2m4 0h1m2 0h1m22 0h1m4 0h2m5 0h1m2 0h1m5 0h1M86 59h1m15 0h1m2 0h1m4 0h1m5 0h1m19 0h2m2 0h1m5 0h1m1 0h1m3 0h1m2 0h1M87 60h1m2 0h1m10 0h1m6 0h2m22 0h1m8 0h1m5 0h1m1 0h2m1 0h1M93 61h2m6 0h1m12 0h1m16 0h1m15 0h1m2 0h1m4 0h1m8 0h1M100 62h1m8 0h1m1 0h2m7 0h1m20 0h1m4 0h1m2 0h3M100 63h2m4 0h1m16 0h1m17 0h1m1 0h2m15 0h1M88 64h1m5 0h1m7 0h1m3 0h1m3 0h1m6 0h1m22 0h1m1 0h2M80 65h1m14 0h1m8 0h1m3 0h3m1 0h1m6 0h1m18 0h2m6 0h2m4 0h2M91 66h1m9 0h2m8 0h1m30 0h2m3 0h1m5 0h1M108 67h2m1 0h1m10 0h1m4 0h1m12 0h1m6 0h2M71 68h1m27 0h1m1 0h2m8 0h1m28 0h1m9 0h1M90 69h1m14 0h1m2 0h1m32 0h1m1 0h3m1 0h1m4 0h1M86 70h1m3 0h2m4 0h1m8 0h2m4 0h1m25 0h2m4 0h1m1 0h1m13 0h1M93 71h1m5 0h1m10 0h1m3 0h1m30 0h1m4 0h1m4 0h1m4 0h1M85 72h1m4 0h1m4 0h3m8 0h1m6 0h1m28 0h1m5 0h1m2 0h1m1 0h1M88 73h2m2 0h1m1 0h1m2 0h1m2 0h1m12 0h1m32 0h1m1 0h1m1 0h1M103 74h1m1 0h1m36 0h1m5 0h1m1 0h1m1 0h2M77 75h1m7 0h1m20 0h3m3 0h1m5 0h1m18 0h1m3 0h2m10 0h1M90 76h1m3 0h1m2 0h1m6 0h1m1 0h1m2 0h2m2 0h1m1 0h1m1 0h1m21 0h1m5 0h1M77 77h1m18 0h1m2 0h1m4 0h2m5 0h1m4 0h2m21 0h1m1 0h1m1 0h2m8 0h1M99 78h2m2 0h1m1 0h1m3 0h1m1 0h1m16 0h1m8 0h1m7 0h1m4 0h1M96 79h1m7 0h1m2 0h1m1 0h1m2 0h1m9 0h1m16 0h4m2 0h1M92 80h1m5 0h1m1 0h1m1 0h1m4 0h1m8 0h1m13 0h1m8 0h1m2 0h1m3 0h1m4 0h1M83 81h2m3 0h1m3 0h2m10 0h1m1 0h1m4 0h1m11 0h1m11 0h1m4 0h1M61 82h1m5 0h1m18 0h1m7 0h1m4 0h1m1 0h1m5 0h1m18 0h1m11 0h1M85 83h1m1 0h1m1 0h1m4 0h1m3 0h1m2 0h1m2 0h3m12 0h1m22 0h1m2 0h2m6 0h1M72 84h1m6 0h1m1 0h1m3 0h1m2 0h1m3 0h1m3 0h1m28 0h1m4 0h1m4 0h1m4 0h1m8 0h1M96 85h2m7 0h1m1 0h1m1 0h1m11 0h1m14 0h2m5 0h1M87 86h1m15 0h1m19 0h1m12 0h1m1 0h1m7 0h1m1 0h1m20 0h1M87 87h1m4 0h1m4 0h1m12 0h1m2 0h1m5 0h1m6 0h1m2 0h1m1 0h1m1 0h1m8 0h1m3 0h1M66 88h1m19 0h1m7 0h1m2 0h1m7 0h1m18 0h1m7 0h1m2 0h1m1 0h4m1 0h1m3 0h1M82 89h1m4 0h1m1 0h1m9 0h1m9 0h1m8 0h2m2 0h1m6 0h1m14 0h1m2 0h1M73 90h1m20 0h1m2 0h1m5 0h1m4 0h1m4 0h1m4 0h1m6 0h1m3 0h1m1 0h3m1 0h2m3 0h1m4 0h1M88 91h1m4 0h1m3 0h1m1 0h1m1 0h1m2 0h1m8 0h1m3 0h1m3 0h1m3 0h1m7 0h1m14 0h2M90 92h2m3 0h3m8 0h1m7 0h1m24 0h1m2 0h1m2 0h1m1 0h1M70 93h1m7 0h1m13 0h1m3 0h1m6 0h1m1 0h1m10 0h1m4 0h2m6 0h2m1 0h1m1 0h1M87 94h1m6 0h1m1 0h1m1 0h3m11 0h1m5 0h1m11 0h1m4 0h1m8 0h1M73 95h1m5 0h1m15 0h1m1 0h2m1 0h1m2 0h1m2 0h1m9 0h1m6 0h1m2 0h1m5 0h1m8 0h1m1 0h1M87 96h2m7 0h1m1 0h1m1 0h2m3 0h2m2 0h2m8 0h1m3 0h1m3 0h1m10 0h1M89 97h2m1 0h1m1 0h2m5 0h2m2 0h1m3 0h1m3 0h1m3 0h1m3 0h1m1 0h1m3 0h1m1 0h1m4 0h1m1 0h1m3 0h1M70 98h1m2 0h1m8 0h1m7 0h1m2 0h2m6 0h1m2 0h1m3 0h2m1 0h2m13 0h1m4 0h1m1 0h2m12 0h1M81 99h1m1 0h1m12 0h2m14 0h1m15 0h1m1 0h2m2 0h2m1 0h1m8 0h1M75 100h1m10 0h1m12 0h4m4 0h4m7 0h1m1 0h1m1 0h2m5 0h1m9 0h1m2 0h1m2 0h2M74 101h1m11 0h1m11 0h1m3 0h1m2 0h1m10 0h2m6 0h2m3 0h3m1 0h1m10 0h1M81 102h2m2 0h1m1 0h1m4 0h1m5 0h3m1 0h2m6 0h2m3 0h1m2 0h1m3 0h1m9 0h1M79 103h1m4 0h1m3 0h1m2 0h1m2 0h1m1 0h1m1 0h1m1 0h1m8 0h1m8 0h1m4 0h1m3 0h3M78 104h1m10 0h1m2 0h1m5 0h2m6 0h2m2 0h1m11 0h1m3 0h1m9 0h1M71 105h1m1 0h1m8 0h1m2 0h1m1 0h1m4 0h1m6 0h2m11 0h1m1 0h1m1 0h1m2 0h1m1 0h1m1 0h1m7 0h1M75 106h2m11 0h1m1 0h1m4 0h1m2 0h1m7 0h2m1 0h1m8 0h2m14 0h1m1 0h1m1 0h1M87 107h2m1 0h1m9 0h1m4 0h2m9 0h2m2 0h3m1 0h1m2 0h1m2 0h1m3 0h1M58 108h2m2 0h1m2 0h1m29 0h1m4 0h1m12 0h1m5 0h1m1 0h1m4 0h1m16 0h1M75 109h1m3 0h1m2 0h1m4 0h1m1 0h1m4 0h1m3 0h2m10 0h1m7 0h2m2 0h1m5 0h1m1 0h1M65 110h2m24 0h1m3 0h1m1 0h2m8 0h1m1 0h1m7 0h3m2 0h1m4 0h1m4 0h1m1 0h2m5 0h1M66 111h1m12 0h2m5 0h1m8 0h1m2 0h1m2 0h1m2 0h1m3 0h1m1 0h1m1 0h1m1 0h1m4 0h3m5 0h1m1 0h1m3 0h2M65 112h1m15 0h1m9 0h1m2 0h1m5 0h1m3 0h1m3 0h5m3 0h2m1 0h1m8 0h1m7 0h1M69 113h2m16 0h1m2 0h1m2 0h2m4 0h1m2 0h1m1 0h1m3 0h1m1 0h3m2 0h1m2 0h1m1 0h1m1 0h2M51 114h1m37 0h1m5 0h1m3 0h1m3 0h4m10 0h1m3 0h1m4 0h1m4 0h1m2 0h1M67 115h1m12 0h1m1 0h1m7 0h1m12 0h1m1 0h1m2 0h1m1 0h1m4 0h1m4 0h2m2 0h1m7 0h1M71 116h1m4 0h1m2 0h2m12 0h2m1 0h1m4 0h1m4 0h2m2 0h1m1 0h1m2 0h1m3 0h1M64 117h1m22 0h2m2 0h1m8 0h1m6 0h2m15 0h1m1 0h2m2 0h2M64 118h1m8 0h1m8 0h1m3 0h2m2 0h2m4 0h2m1 0h3m1 0h2m2 0h1m2 0h3m8 0h1m4 0h1m4 0h1m1 0h1M55 119h1m10 0h1m8 0h1m1 0h1m6 0h2m15 0h1m1 0h1m9 0h1m1 0h1m3 0h1m4 0h1m1 0h1m5 0h1M43 120h1m16 0h1m23 0h1m2 0h1m5 0h2m4 0h3m2 0h1m9 0h3m2 0h1m5 0h1M50 121h1m35 0h3m6 0h1m1 0h1m4 0h5m7 0h4m1 0h3m12 0h1M53 122h1m4 0h1m2 0h1m6 0h2m7 0h1m1 0h1m3 0h1m1 0h1m1 0h1m2 0h1m1 0h1m5 0h1m2 0h4m1 0h1m6 0h2m5 0h2m1 0h2m1 0h1M55 123h1m5 0h1m6 0h1m8 0h1m1 0h1m2 0h1m1 0h1m15 0h1m2 0h1m2 0h1m2 0h1m4 0h1m6 0h1m1 0h1m10 0h1M36 124h1m11 0h1m12 0h1m9 0h1m1 0h2m2 0h1m3 0h1m3 0h1m6 0h1m1 0h2m8 0h1m1 0h3m2 0h1m3 0h1m1 0h1m2 0h1m3 0h1m3 0h1M40 125h1m16 0h1m22 0h1m3 0h1m2 0h1m1 0h1m8 0h1m4 0h2m5 0h1m7 0h1m1 0h1M37 126h1m13 0h1m15 0h1m6 0h1m2 0h1m1 0h1m13 0h1m4 0h1m6 0h1m6 0h2m1 0h4m5 0h2M66 127h1m7 0h1m1 0h1m3 0h1m12 0h1m4 0h1m2 0h1m1 0h2m1 0h3m6 0h1m1 0h1m15 0h1M63 128h1m2 0h1m2 0h2m17 0h1m2 0h1m4 0h1m9 0h1m16 0h1m2 0h1M49 129h1m1 0h1m3 0h1m4 0h1m17 0h1m2 0h1m4 0h1m2 0h1m3 0h1m5 0h1m2 0h1m2 0h1m3 0h1m1 0h1m4 0h1m9 0h1M42 130h1m3 0h1m7 0h1m8 0h1m14 0h1m7 0h1m2 0h2m2 0h1m2 0h1m1 0h1m9 0h1m3 0h1m3 0h1m16 0h1M58 131h1m1 0h2m3 0h1m4 0h1m4 0h1m6 0h1m2 0h1m4 0h2m11 0h1m2 0h2m3 0h1m13 0h1M46 132h1m1 0h1m8 0h1m5 0h1m2 0h1m25 0h1m2 0h1m1 0h1m13 0h1m2 0h1m7 0h1M65 133h1m19 0h1m6 0h1m1 0h1m16 0h1m1 0h1m3 0h1m2 0h1m2 0h1M33 134h1m13 0h1m1 0h1m3 0h1m11 0h1m4 0h1m23 0h1m8 0h1m3 0h1m2 0h1m6 0h1m3 0h1m8 0h1M50 135h1m1 0h1m11 0h1m17 0h1m15 0h1m1 0h2m2 0h1m3 0h1m3 0h1m1 0h1m5 0h1M52 136h1m25 0h1m7 0h1m6 0h1m2 0h1m3 0h1m4 0h1m3 0h2M34 137h1m6 0h1m11 0h1m2 0h1m19 0h1m41 0h1M39 138h1m4 0h1m6 0h1m7 0h1m3 0h1m18 0h1m13 0h1m10 0h1m5 0h1m1 0h1M68 139h1m12 0h1m5 0h1m1 0h1m3 0h3m5 0h2m4 0h1m4 0h1m9 0h1M47 140h1m6 0h1m6 0h1m9 0h1m16 0h1m3 0h2m5 0h2m13 0h1M39 141h1m8 0h1m1 0h1m4 0h1m3 0h1m9 0h1m12 0h1m1 0h1m14 0h1m3 0h1M35 142h1m20 0h1m3 0h2m1 0h1m8 0h2m7 0h1m5 0h1m15 0h1M38 143h1m12 0h1m6 0h1m5 0h1m2 0h1m5 0h1m9 0h1m8 0h1m4 0h1M51 144h1m3 0h1m4 0h2m2 0h1m32 0h1m12 0h1M41 145h1m44 0h1m2 0h1m1 0h1m7 0h2m3 0h1m8 0h1M42 146h1m13 0h1m49 0h1m2 0h1M41 147h1m14 0h1m36 0h2m8 0h1m2 0h1M47 148h1m3 0h2m5 0h1m2 0h1M34 149h1m15 0h1m9 0h1m4 0h1m20 0h1m16 0h1m16 0h1M48 150h2m33 0h1m2 0h1m15 0h1M46 151h1m41 0h1M39 152h1M44 154h1m3 0h1m7 0h1m5 0h1m51 0h1M62 156h1M41 157h1m3 0h1M88 158h1M44 159h1M49 160h2M47 164h2M36 168h1M35 169h1M41 170h1M47 175h1" stroke-opacity=".72"/><path d="M119 33h1m8 0h1m2 0h2m2 0h1M132 34h1M136 35h1M128 36h1M113 37h1M132 38h1m9 0h1m5 0h1M121 39h1m8 0h1M137 40h1m4 0h1M122 41h1m13 0h1m2 0h1m2 0h1m2 0h1M120 42h1m5 0h1m1 0h4m1 0h1M126 43h1m2 0h1m4 0h1m1 0h1m3 0h1m3 0h1M127 44h1m1 0h3m7 0h1m4 0h1m6 0h1M125 45h3m2 0h1m1 0h3m6 0h1m1 0h1m4 0h1M113 46h1m9 0h1m1 0h5m1 0h2m2 0h2m2 0h1M101 47h1m20 0h3m2 0h1m2 0h2m2 0h1m1 0h1m1 0h2m3 0h1m4 0h1M109 48h1m5 0h1m1 0h2m1 0h1m1 0h1m1 0h1m4 0h3m1 0h5m1 0h3m1 0h1m1 0h2m4 0h1M114 49h1m3 0h1m1 0h1m3 0h2m1 0h1m1 0h2m1 0h1m1 0h1m1 0h3m1 0h4m1 0h1M120 50h1m1 0h7m1 0h1m2 0h4m1 0h3m1 0h1m1 0h1M117 51h1m1 0h1m1 0h1m1 0h2m2 0h11m2 0h2m2 0h2M115 52h1m1 0h1m2 0h1m1 0h1m1 0h7m1 0h5m1 0h4M115 53h1m2 0h2m2 0h1m1 0h3m1 0h11m2 0h1m2 0h1m1 0h2M117 54h2m1 0h20m1 0h1m2 0h3m1 0h1m8 0h1M109 55h1m1 0h1m2 0h1m1 0h3m2 0h2m1 0h13m1 0h1m1 0h1m1 0h2m1 0h1M111 56h1m1 0h6m1 0h14m1 0h5m1 0h5M105 57h1m6 0h1m1 0h4m3 0h20m1 0h1m1 0h1m10 0h1M108 58h1m1 0h1m3 0h1m1 0h1m1 0h20m1 0h4m2 0h2m1 0h1m6 0h1M104 59h1m3 0h2m3 0h3m2 0h4m1 0h13m2 0h2m1 0h5m1 0h1m5 0h1M105 60h1m7 0h6m1 0h12m1 0h8m1 0h5m9 0h1M95 61h2m1 0h1m8 0h2m3 0h2m1 0h1m1 0h14m2 0h11m1 0h1m2 0h1m5 0h1M110 62h1m3 0h6m1 0h20m1 0h4m1 0h1M107 63h2m2 0h12m1 0h13m1 0h3m1 0h1m2 0h1m5 0h1M108 64h1m2 0h6m1 0h22m4 0h1m2 0h1m1 0h1M103 65h1m1 0h3m3 0h1m1 0h2m1 0h3m1 0h18m2 0h5M105 66h1m6 0h4m1 0h25m2 0h2M106 67h2m2 0h1m1 0h10m1 0h4m1 0h12m2 0h5M100 68h1m3 0h2m1 0h3m2 0h5m1 0h22m1 0h3M106 69h1m3 0h5m1 0h24m2 0h1m8 0h1M99 70h1m3 0h1m3 0h1m1 0h2m1 0h25m2 0h4m1 0h1m2 0h2M94 71h1m5 0h3m4 0h3m1 0h3m1 0h26m1 0h3M91 72h1m2 0h1m7 0h1m1 0h2m3 0h4m1 0h25m1 0h2m1 0h1M101 73h1m2 0h4m1 0h4m1 0h30M92 74h1m5 0h1m1 0h3m1 0h1m1 0h34m1 0h1m1 0h2M98 75h1m3 0h1m6 0h1m3 0h5m1 0h18m1 0h3m2 0h1M88 76h1m7 0h1m5 0h2m7 0h2m1 0h1m1 0h1m1 0h12m1 0h4m1 0h1m1 0h1m2 0h4m1 0h1m1 0h1M103 77h1m5 0h2m1 0h4m2 0h20m4 0h1M80 78h1m23 0h1m1 0h1m1 0h1m1 0h1m1 0h4m1 0h11m1 0h8m1 0h6M93 79h1m1 0h1m1 0h1m1 0h2m1 0h1m7 0h2m1 0h9m1 0h7m1 0h3m1 0h4m4 0h2m3 0h1m4 0h1M94 80h2m10 0h1m2 0h1m1 0h5m1 0h13m1 0h8m1 0h1m6 0h1M100 81h1m2 0h1m1 0h1m1 0h2m1 0h1m1 0h4m1 0h6m1 0h11m1 0h1m1 0h1m3 0h1m2 0h1M79 82h1m7 0h1m8 0h1m1 0h1m1 0h1m1 0h1m2 0h1m2 0h18m1 0h11m1 0h2m3 0h1M97 83h1m4 0h1m4 0h2m1 0h2m1 0h2m1 0h3m1 0h11m1 0h1m1 0h1m3 0h4m2 0h1M80 84h1m5 0h2m10 0h4m1 0h22m1 0h4m1 0h4m1 0h3m4 0h2M76 85h1m1 0h1m13 0h1m5 0h2m1 0h1m1 0h2m1 0h1m1 0h1m1 0h5m1 0h5m1 0h5m1 0h1m3 0h4m3 0h1M85 86h1m4 0h1m1 0h2m6 0h3m1 0h19m1 0h10m1 0h1m3 0h2m1 0h2M88 87h1m4 0h2m1 0h1m3 0h3m1 0h3m2 0h1m1 0h2m1 0h5m1 0h1m1 0h4m1 0h2m1 0h1m1 0h1m3 0h1m8 0h1M104 88h1m4 0h3m1 0h6m1 0h4m1 0h1m1 0h2m1 0h2m1 0h1m2 0h1M95 89h3m2 0h5m2 0h2m1 0h1m2 0h2m1 0h1m3 0h2m1 0h6m1 0h4m1 0h1m2 0h1m6 0h1M83 90h1m12 0h1m2 0h4m3 0h2m1 0h2m3 0h3m3 0h5m2 0h2m1 0h1m8 0h1M81 91h1m8 0h1m1 0h1m3 0h1m8 0h3m1 0h4m1 0h2m2 0h3m1 0h3m1 0h4m1 0h1m3 0h1M84 92h1m4 0h1m8 0h1m2 0h1m6 0h1m1 0h4m1 0h16m1 0h3m1 0h2m3 0h1M95 93h1m6 0h1m4 0h1m1 0h3m1 0h2m2 0h1m1 0h2m2 0h6m7 0h4M91 94h1m11 0h4m1 0h4m2 0h3m2 0h3m1 0h2m1 0h1m1 0h1m2 0h1m1 0h2m1 0h1M93 95h2m10 0h1m3 0h1m2 0h4m1 0h3m1 0h2m2 0h1m1 0h2m1 0h2m1 0h1M91 96h1m2 0h1m4 0h1m2 0h1m4 0h2m2 0h2m1 0h2m1 0h1m2 0h3m3 0h1m1 0h1m2 0h1m2 0h1m2 0h1M99 97h1m7 0h2m1 0h3m1 0h3m1 0h2m2 0h1m1 0h2m4 0h2m1 0h1m3 0h1m1 0h1M84 98h1m4 0h1m1 0h1m5 0h1m2 0h1m4 0h3m2 0h1m2 0h5m1 0h2m2 0h1m1 0h1m6 0h1m4 0h1m3 0h1M92 99h1m8 0h2m2 0h7m1 0h1m1 0h2m2 0h2m2 0h1m1 0h1m3 0h1m3 0h1M88 100h1m6 0h1m9 0h2m5 0h1m1 0h1m1 0h2m1 0h1m4 0h2M90 101h1m3 0h1m4 0h1m6 0h2m1 0h2m3 0h2m2 0h3m2 0h1m2 0h2m6 0h2m3 0h1M93 102h1m3 0h1m6 0h1m1 0h4m3 0h2m1 0h2m2 0h2m3 0h1m1 0h3M82 103h1m18 0h1m2 0h3m1 0h1m2 0h7m2 0h1m1 0h1M84 104h1m3 0h1m1 0h1m5 0h1m3 0h2m2 0h1m3 0h1m2 0h3m1 0h1m2 0h2m3 0h1m1 0h1m3 0h1M81 105h1m13 0h1m8 0h1m1 0h1m1 0h4m3 0h1m1 0h2m3 0h1m3 0h1m3 0h1m1 0h1M96 106h1m4 0h1m1 0h3m4 0h1m1 0h3m1 0h1m3 0h2m1 0h2m2 0h1M84 107h1m10 0h1m2 0h1m4 0h1m3 0h4m1 0h3m4 0h1m6 0h1m1 0h1M92 108h1m8 0h1m3 0h2m1 0h1m1 0h3m1 0h1m1 0h1m6 0h1m5 0h1m3 0h1M84 109h1m7 0h1m10 0h3m1 0h3m2 0h1m3 0h2m2 0h2m3 0h1M89 110h1m10 0h6m5 0h1m17 0h1M94 111h1m7 0h1m2 0h2m2 0h1m1 0h1m3 0h1m2 0h1m3 0h1m7 0h1M98 112h1m3 0h1m3 0h1m6 0h3m5 0h1m2 0h1m4 0h1M86 113h1m1 0h1m6 0h1m4 0h1m2 0h1m2 0h2m1 0h1m3 0h1m3 0h1m1 0h1m12 0h1M75 114h1m14 0h1m3 0h1m1 0h1m3 0h2m6 0h1m1 0h3m2 0h1m4 0h1M91 115h1m5 0h3m1 0h2m1 0h1m2 0h1m1 0h1m4 0h1m1 0h1M52 116h1m4 0h1m40 0h3m2 0h1m7 0h1m1 0h2m1 0h1m4 0h1M92 117h1m4 0h2m2 0h1m1 0h1m6 0h1m4 0h2m3 0h1M75 118h2m15 0h1m1 0h2m2 0h1m6 0h1m8 0h3m1 0h1M64 119h2m3 0h1m26 0h1m2 0h1m5 0h1m3 0h1m4 0h1m1 0h2m5 0h1m3 0h1M85 120h2m2 0h1m5 0h1m1 0h1m8 0h3m1 0h1m11 0h1M70 121h1m10 0h1m8 0h1m7 0h1m9 0h5m5 0h1m3 0h1M62 122h1m33 0h1m2 0h1m9 0h4m4 0h1m16 0h1M64 123h1m22 0h1m1 0h1m11 0h1m3 0h1m1 0h2m3 0h1m2 0h1M68 124h1m22 0h1m1 0h1m3 0h1m4 0h1m2 0h1m3 0h2m5 0h1m2 0h1M77 125h1m1 0h1m3 0h1m7 0h1m15 0h2m3 0h1m6 0h1m5 0h1M69 126h1m21 0h1m7 0h1m1 0h3m2 0h1m2 0h3M41 127h1m47 0h1m2 0h1m2 0h1m4 0h1m4 0h1m5 0h1m9 0h1M93 128h3m2 0h2m4 0h1m3 0h1m7 0h1M104 129h1m1 0h1m5 0h1M61 130h1m13 0h1m4 0h1m18 0h1m1 0h3m1 0h1m3 0h1m4 0h1M69 131h1m31 0h1m6 0h1m6 0h1M80 132h1m17 0h1m2 0h1m4 0h1m1 0h1M107 133h1m4 0h1M48 134h1m44 0h1m17 0h1M105 135h2m2 0h1M104 136h1m1 0h1m1 0h1M69 137h1m20 0h1m1 0h4m3 0h1M54 138h1m48 0h1M110 139h1m2 0h1M62 140h1M44 141h1m47 0h1m1 0h1m11 0h1M53 142h1m37 0h1M48 143h1m8 0h1m2 0h1m41 0h1M50 144h1m45 0h1M60 145h1M98 146h1M39 148h1m58 0h1M43 149h1m41 0h1m1 0h1M64 151h1m26 0h1M32 163h1"/></g>
<rect x="1408.8" y="2270.9" width="346.8" height="353.2" fill="none" stroke="#707070" stroke-width="2"/>
<line x1="1586" y1="2270.9" x2="1586" y2="2624.1" stroke="#555" stroke-width="1.8"/>
<line x1="1408.8" y1="2470.8" x2="1755.6" y2="2470.8" stroke="#555" stroke-width="1.8"/>
<path d="M1408.8 2624.1v8M1408.8 2624.1h-8M1434.9 2624.1v4.5M1408.8 2597.5h-4.5M1450.2 2624.1v4.5M1408.8 2582.0h-4.5M1461.0 2624.1v4.5M1408.8 2570.9h-4.5M1469.4 2624.1v4.5M1408.8 2562.4h-4.5M1476.3 2624.1v4.5M1408.8 2555.4h-4.5M1482.1 2624.1v4.5M1408.8 2549.5h-4.5M1487.1 2624.1v4.5M1408.8 2544.4h-4.5M1491.5 2624.1v4.5M1408.8 2539.8h-4.5M1495.5 2624.1v8M1408.8 2535.8h-8M1521.6 2624.1v4.5M1408.8 2509.2h-4.5M1536.9 2624.1v4.5M1408.8 2493.7h-4.5M1547.7 2624.1v4.5M1408.8 2482.6h-4.5M1556.1 2624.1v4.5M1408.8 2474.1h-4.5M1563.0 2624.1v4.5M1408.8 2467.1h-4.5M1568.8 2624.1v4.5M1408.8 2461.2h-4.5M1573.8 2624.1v4.5M1408.8 2456.1h-4.5M1578.2 2624.1v4.5M1408.8 2451.5h-4.5M1582.2 2624.1v8M1408.8 2447.5h-8M1608.3 2624.1v4.5M1408.8 2420.9h-4.5M1623.6 2624.1v4.5M1408.8 2405.4h-4.5M1634.4 2624.1v4.5M1408.8 2394.3h-4.5M1642.8 2624.1v4.5M1408.8 2385.8h-4.5M1649.7 2624.1v4.5M1408.8 2378.8h-4.5M1655.5 2624.1v4.5M1408.8 2372.9h-4.5M1660.5 2624.1v4.5M1408.8 2367.8h-4.5M1664.9 2624.1v4.5M1408.8 2363.2h-4.5M1668.9 2624.1v8M1408.8 2359.2h-8M1695.0 2624.1v4.5M1408.8 2332.6h-4.5M1710.3 2624.1v4.5M1408.8 2317.1h-4.5M1721.1 2624.1v4.5M1408.8 2306.0h-4.5M1729.5 2624.1v4.5M1408.8 2297.5h-4.5M1736.4 2624.1v4.5M1408.8 2290.5h-4.5M1742.2 2624.1v4.5M1408.8 2284.6h-4.5M1747.2 2624.1v4.5M1408.8 2279.5h-4.5M1751.6 2624.1v4.5M1408.8 2274.9h-4.5M1755.6 2624.1v8M1408.8 2270.9h-8" stroke="#555" stroke-width="1.6" fill="none"/>
<text x="1410.8" y="2654.1" font-size="15" font-weight="bold" fill="#222" text-anchor="middle">10<tspan font-size="9" dy="-6">0</tspan></text>
<text x="1392.8" y="2625.1" font-size="15" font-weight="bold" fill="#222" text-anchor="middle" transform="rotate(-90 1392.8 2625.1)">10<tspan font-size="9" dy="-6">0</tspan></text>
<text x="1497.5" y="2654.1" font-size="15" font-weight="bold" fill="#222" text-anchor="middle">10<tspan font-size="9" dy="-6">1</tspan></text>
<text x="1392.8" y="2536.8" font-size="15" font-weight="bold" fill="#222" text-anchor="middle" transform="rotate(-90 1392.8 2536.8)">10<tspan font-size="9" dy="-6">1</tspan></text>
<text x="1584.2" y="2654.1" font-size="15" font-weight="bold" fill="#222" text-anchor="middle">10<tspan font-size="9" dy="-6">2</tspan></text>
<text x="1392.8" y="2448.5" font-size="15" font-weight="bold" fill="#222" text-anchor="middle" transform="rotate(-90 1392.8 2448.5)">10<tspan font-size="9" dy="-6">2</tspan></text>
<text x="1670.9" y="2654.1" font-size="15" font-weight="bold" fill="#222" text-anchor="middle">10<tspan font-size="9" dy="-6">3</tspan></text>
<text x="1392.8" y="2360.2" font-size="15" font-weight="bold" fill="#222" text-anchor="middle" transform="rotate(-90 1392.8 2360.2)">10<tspan font-size="9" dy="-6">3</tspan></text>
<text x="1757.6" y="2654.1" font-size="15" font-weight="bold" fill="#222" text-anchor="middle">10<tspan font-size="9" dy="-6">4</tspan></text>
<text x="1392.8" y="2271.9" font-size="15" font-weight="bold" fill="#222" text-anchor="middle" transform="rotate(-90 1392.8 2271.9)">10<tspan font-size="9" dy="-6">4</tspan></text>
<g font-size="15.5" font-weight="bold" fill="#1a1a1a" letter-spacing="1.3"><text x="1413.8" y="2291.9">Q1</text><text x="1413.8" y="2311.9">1.05%</text><text x="1691.6" y="2291.9">Q2</text><text x="1691.6" y="2311.9">73.72%</text><text x="1413.8" y="2596.1">Q4</text><text x="1413.8" y="2617.1">7.74%</text><text x="1691.6" y="2596.1">Q3</text><text x="1691.6" y="2617.1">17.60%</text></g>
<text x="1599.5" y="2246" font-size="26" text-anchor="middle">FGLM</text>
<g transform="translate(1808.1 2272.00) scale(2.0)" fill="none" stroke="#f00" stroke-width="1"><path d="M126 0h1M144 2h1m16 0h1M167 4h1M109 7h1M154 8h1M114 9h1M145 10h1m14 0h1M137 11h1M137 12h1m18 0h1m6 0h1m3 0h1M128 13h1m3 0h2m1 0h1m3 0h1M117 15h1m6 0h1m9 0h1m13 0h1m2 0h1m6 0h1M122 16h1m18 0h2m7 0h1M140 17h1M144 18h1m4 0h1m2 0h1m4 0h1M157 19h1m11 0h1M115 20h1m13 0h1m2 0h2m4 0h1m28 0h1M117 21h1m2 0h1m3 0h1m1 0h1m3 0h1m10 0h1M114 22h1m19 0h1m13 0h1M130 23h1m3 0h1m27 0h1M97 24h1m38 0h1m14 0h1m3 0h1M120 25h1m19 0h1m2 0h1m1 0h1m11 0h2M115 26h1m3 0h1m9 0h1m8 0h1m2 0h1m1 0h1m3 0h1m13 0h2M110 27h1m3 0h1m5 0h1m8 0h1m2 0h2m9 0h1m2 0h1m3 0h1m9 0h1M118 28h2m1 0h1m2 0h1m1 0h1m1 0h1m3 0h1m5 0h1m4 0h1m8 0h1m2 0h1M85 29h1m15 0h1m13 0h1m3 0h3m6 0h1m2 0h1m5 0h1m1 0h2m6 0h1m6 0h1m1 0h1m3 0h2M107 30h1m13 0h2m4 0h1m1 0h1m6 0h1m1 0h2m4 0h1m8 0h1m4 0h1m2 0h1m1 0h1M111 31h2m9 0h1m11 0h1m3 0h1m1 0h1m1 0h2m1 0h1m2 0h1m16 0h1M121 32h2m1 0h2m3 0h1m2 0h1m5 0h1m6 0h1m1 0h2m9 0h1m2 0h1m5 0h1M110 33h1m9 0h1m1 0h2m2 0h1m6 0h1m2 0h1m3 0h1m1 0h2m1 0h1m4 0h1m3 0h2m3 0h1m4 0h1M101 34h1m8 0h1m9 0h1m1 0h1m1 0h1m6 0h1m4 0h2m2 0h1m3 0h1m2 0h2m1 0h1m7 0h1m4 0h1m2 0h1M115 35h1m4 0h1m1 0h2m1 0h3m4 0h1m5 0h1m2 0h1m1 0h2m1 0h1m7 0h1m4 0h1m5 0h1m2 0h1M103 36h1m5 0h1m2 0h1m4 0h1m1 0h1m3 0h4m3 0h1m4 0h1m1 0h1m2 0h3m1 0h1m7 0h1m2 0h1m1 0h1m1 0h1m1 0h1m3 0h1m4 0h1M101 37h1m16 0h1m1 0h1m1 0h2m2 0h1m5 0h1m4 0h1m1 0h1m6 0h2m1 0h2m2 0h1m3 0h1m3 0h1m2 0h1M100 38h1m4 0h2m3 0h2m2 0h1m4 0h1m1 0h3m7 0h1m2 0h1m4 0h1m2 0h1m8 0h1m2 0h1m4 0h1m3 0h1m1 0h2m3 0h1M96 39h1m11 0h1m1 0h1m4 0h1m4 0h2m2 0h3m3 0h1m3 0h1m5 0h1m1 0h1m2 0h2m2 0h1m4 0h1m3 0h1m2 0h1m7 0h1M94 40h1m1 0h1m7 0h1m6 0h1m2 0h1m1 0h1m5 0h2m4 0h1m2 0h1m1 0h1m1 0h1m1 0h1m2 0h2m1 0h2m1 0h2m2 0h1m3 0h1m10 0h1M91 41h1m6 0h1m3 0h2m7 0h1m3 0h5m1 0h1m3 0h1m6 0h1m3 0h2m2 0h1m3 0h1m4 0h1m1 0h2m3 0h1m1 0h1m1 0h1M97 42h1m7 0h1m4 0h2m2 0h1m7 0h1m2 0h2m7 0h1m1 0h1m1 0h1m2 0h1m5 0h1m1 0h3m1 0h1m1 0h1m1 0h1M83 43h1m9 0h1m2 0h1m6 0h1m5 0h1m1 0h2m1 0h2m3 0h1m4 0h2m9 0h1m4 0h4m6 0h1m3 0h3m2 0h1m10 0h1M97 44h3m8 0h1m1 0h2m3 0h1m1 0h1m14 0h1m7 0h1m3 0h1m5 0h1m4 0h2m2 0h1m5 0h1M87 45h1m17 0h1m4 0h1m3 0h2m6 0h1m1 0h1m5 0h2m2 0h1m2 0h1m6 0h4m4 0h1m6 0h1m3 0h1m1 0h1m1 0h1M94 46h1m8 0h1m4 0h1m3 0h1m4 0h1m4 0h1m4 0h1m4 0h1m3 0h1m1 0h1m5 0h1m7 0h1m4 0h1m8 0h1M45 47h1m41 0h1m11 0h1m8 0h1m3 0h3m1 0h1m12 0h1m2 0h1m13 0h1m3 0h1m5 0h2m1 0h1m2 0h1m1 0h1M84 48h1m9 0h1m3 0h1m2 0h1m4 0h1m6 0h1m8 0h1m16 0h1m5 0h2m3 0h1m2 0h1m1 0h1m5 0h4m3 0h1M92 49h1m5 0h1m6 0h1m1 0h2m7 0h1m1 0h1m2 0h1m4 0h1m21 0h1m1 0h3M73 50h1m5 0h1m3 0h1m6 0h1m2 0h1m6 0h1m1 0h1m4 0h3m4 0h1m1 0h1m6 0h2m8 0h1m13 0h1m1 0h1m1 0h2m1 0h2m3 0h1m6 0h2M85 51h1m4 0h1m2 0h2m4 0h3m3 0h3m4 0h1m5 0h1m16 0h1m12 0h2m6 0h1m5 0h1M93 52h1m2 0h1m2 0h1m2 0h1m6 0h2m1 0h1m1 0h1m33 0h2m4 0h1m1 0h2m6 0h1m6 0h1M90 53h1m7 0h1m3 0h1m1 0h3m8 0h1m32 0h1m3 0h3m8 0h2m2 0h1M82 54h1m19 0h1m5 0h2m1 0h1m3 0h1m4 0h1m18 0h1m5 0h1m2 0h1m7 0h3m2 0h1m1 0h1M84 55h1m2 0h1m7 0h1m5 0h2m2 0h3m3 0h2m29 0h1m1 0h1m6 0h1m2 0h1m2 0h1m1 0h2m1 0h1m8 0h1M59 56h1m1 0h1m4 0h1m7 0h1m29 0h4m1 0h1m1 0h2m27 0h1m6 0h1m1 0h2m3 0h1m1 0h1m2 0h1m4 0h1M88 57h3m1 0h3m1 0h1m4 0h1m5 0h1m4 0h1m5 0h1m23 0h1m1 0h1m3 0h7m3 0h1m4 0h1m6 0h1M63 58h1m14 0h1m14 0h1m1 0h1m3 0h1m3 0h1m5 0h1m30 0h1m2 0h1m8 0h3m7 0h1m4 0h1M53 59h1m19 0h1m18 0h3m2 0h3m2 0h1m1 0h2m2 0h1m1 0h2m1 0h2m31 0h1m6 0h1m3 0h1m5 0h1m1 0h1M54 60h1m18 0h2m14 0h1m4 0h1m3 0h1m2 0h1m5 0h1m1 0h1m4 0h1m28 0h1m5 0h1m5 0h2m5 0h2M47 61h1m20 0h1m24 0h1m2 0h1m2 0h2m3 0h3m37 0h1m2 0h1m11 0h1m3 0h2M41 62h1m1 0h1m30 0h1m10 0h1m2 0h1m2 0h1m2 0h2m7 0h2m1 0h2m38 0h2m2 0h1m1 0h2m3 0h1m2 0h1m2 0h2m3 0h1M40 63h1m38 0h2m1 0h1m9 0h1m9 0h2m4 0h2m32 0h1m6 0h1m5 0h1m3 0h1m2 0h1m6 0h1M18 64h1m30 0h1m8 0h1m9 0h1m3 0h1m2 0h2m3 0h1m3 0h1m3 0h2m2 0h1m3 0h1m4 0h1m2 0h1m2 0h1m38 0h1m2 0h2m1 0h2m1 0h2m1 0h1m1 0h2m2 0h1M28 65h1m32 0h1m1 0h1m4 0h2m2 0h1m1 0h1m1 0h1m1 0h1m3 0h1m4 0h1m2 0h1m3 0h2m1 0h2m1 0h4m2 0h1m1 0h1m1 0h1m1 0h1m31 0h3m2 0h3m3 0h1m1 0h3m7 0h1M61 66h1m2 0h1m7 0h1m2 0h1m15 0h1m2 0h1m1 0h1m2 0h1m1 0h1m6 0h2m3 0h1m2 0h1m28 0h1m1 0h1m1 0h2m2 0h2m1 0h1m2 0h3M53 67h2m14 0h2m2 0h1m13 0h1m3 0h2m7 0h1m3 0h2m5 0h1m29 0h1m9 0h1m1 0h1m1 0h1m1 0h1m7 0h2M27 68h1m15 0h1m13 0h2m16 0h2m1 0h1m6 0h2m9 0h1m2 0h3m1 0h2m40 0h1m3 0h1m3 0h3m5 0h1m2 0h2M77 69h1m9 0h2m8 0h1m9 0h1m1 0h1m3 0h2m28 0h1m3 0h1m6 0h1m3 0h1M49 70h1m4 0h1m9 0h2m3 0h1m4 0h1m1 0h1m2 0h1m3 0h2m1 0h1m1 0h1m7 0h1m2 0h1m2 0h4m33 0h1m8 0h1m4 0h1m5 0h1m8 0h1M72 71h1m9 0h1m6 0h1m1 0h1m13 0h1m4 0h1m38 0h1m9 0h1m7 0h1M30 72h1m31 0h1m6 0h1m7 0h1m3 0h1m3 0h1m3 0h1m3 0h2m1 0h1m1 0h2m1 0h1m1 0h2m39 0h1m4 0h2m5 0h1m1 0h1m2 0h1m2 0h1m2 0h1M51 73h1m11 0h1m29 0h1m1 0h1m3 0h1m2 0h2m1 0h1m4 0h1m3 0h1m26 0h1m1 0h1m2 0h1m2 0h3m2 0h1m1 0h1m3 0h1m1 0h1M43 74h1m22 0h1m2 0h1m6 0h1m2 0h2m7 0h2m6 0h2m3 0h1m1 0h1m1 0h1m1 0h1m32 0h1m2 0h1m2 0h1m2 0h3m2 0h1m2 0h1m7 0h1M47 75h1m10 0h1m10 0h2m3 0h1m10 0h1m2 0h4m5 0h1m3 0h1m42 0h1m8 0h1m1 0h1m3 0h1m8 0h1M69 76h1m2 0h1m6 0h1m3 0h3m2 0h1m2 0h1m1 0h3m1 0h1m1 0h1m1 0h1m2 0h1m3 0h1m34 0h1m6 0h1m8 0h1m6 0h1M49 77h2m12 0h1m13 0h3m3 0h2m3 0h1m1 0h2m8 0h1m5 0h1m4 0h1m4 0h1m21 0h1m5 0h1m4 0h2m1 0h2m3 0h1m2 0h1m1 0h1m3 0h1M32 78h1m27 0h1m5 0h2m9 0h1m9 0h1m4 0h2m1 0h3m1 0h1m4 0h1m6 0h1m21 0h1m6 0h1m1 0h6m1 0h1m1 0h1m2 0h4M53 79h1m20 0h1m4 0h2m1 0h1m6 0h1m2 0h1m1 0h1m9 0h1m6 0h1m35 0h1m7 0h3m5 0h1m2 0h1M48 80h1m3 0h1m16 0h1m10 0h1m2 0h1m2 0h1m10 0h1m7 0h1m21 0h1m8 0h1m6 0h1m1 0h1m1 0h1m1 0h1m1 0h1m6 0h1M60 81h1m4 0h1m9 0h1m12 0h4m2 0h2m2 0h1m2 0h1m9 0h1m21 0h1m3 0h1m3 0h1m3 0h1m2 0h1m4 0h1m12 0h1M50 82h1m2 0h1m10 0h1m20 0h1m1 0h2m1 0h1m1 0h4m1 0h2m9 0h1m10 0h1m17 0h1m2 0h3m1 0h1m2 0h1m1 0h3m1 0h1m3 0h2m12 0h1M36 83h1m21 0h1m7 0h1m7 0h1m3 0h1m6 0h1m2 0h1m2 0h1m6 0h1m2 0h1m31 0h1m1 0h1m3 0h1m4 0h1m2 0h1m6 0h1m9 0h1m1 0h1m1 0h1M58 84h2m9 0h1m10 0h1m3 0h1m5 0h1m1 0h3m2 0h2m2 0h1m6 0h1m4 0h1m11 0h2m7 0h1m2 0h1m5 0h2m2 0h3m4 0h2m7 0h1m3 0h1M63 85h1m4 0h1m4 0h1m2 0h1m6 0h1m3 0h2m3 0h1m1 0h1m4 0h2m2 0h1m1 0h1m1 0h1m32 0h2m6 0h1m6 0h1m2 0h1m7 0h1M62 86h1m2 0h1m10 0h1m3 0h2m6 0h1m1 0h2m3 0h1m2 0h3m6 0h1m1 0h1m1 0h1m22 0h1m8 0h1m1 0h1m1 0h1m1 0h1m2 0h2M56 87h1m8 0h1m13 0h1m3 0h1m3 0h1m1 0h1m1 0h1m5 0h1m2 0h1m1 0h3m2 0h1m8 0h1m20 0h3m5 0h1m1 0h1m1 0h2m1 0h1m1 0h1m3 0h1m2 0h1m2 0h2M37 88h1m6 0h1m16 0h1m6 0h1m3 0h3m10 0h1m3 0h1m2 0h1m1 0h1m1 0h1m1 0h1m6 0h1m2 0h1m4 0h1m2 0h1m13 0h2m2 0h2m1 0h1m2 0h1m3 0h3m7 0h1m9 0h1m1 0h1M38 89h1m38 0h2m2 0h2m2 0h1m9 0h2m1 0h1m4 0h1m2 0h2m22 0h1m3 0h1m5 0h2m1 0h1m3 0h2m4 0h1m3 0h1m1 0h1m1 0h1M56 90h1m9 0h2m2 0h1m2 0h1m4 0h1m4 0h2m7 0h1m6 0h2m1 0h1m4 0h1m10 0h1m4 0h1m2 0h1m5 0h3m4 0h3m1 0h1m2 0h1m1 0h1m1 0h1m4 0h1m4 0h1m1 0h1m2 0h1m3 0h1M64 91h1m4 0h1m4 0h1m2 0h1m1 0h1m7 0h1m2 0h1m1 0h1m1 0h1m4 0h2m1 0h2m1 0h1m6 0h1m5 0h1m7 0h2m3 0h1m2 0h1m9 0h1m3 0h1m8 0h1m7 0h1M66 92h1m8 0h2m2 0h1m2 0h1m3 0h2m3 0h3m1 0h2m1 0h1m1 0h1m22 0h1m6 0h1m4 0h1m2 0h1m7 0h1m4 0h1M29 93h1m13 0h1m19 0h1m5 0h1m12 0h3m1 0h1m8 0h1m3 0h1m3 0h1m5 0h1m13 0h1m10 0h1m1 0h2m10 0h1m3 0h1m12 0h1M39 94h1m1 0h1m16 0h1m1 0h1m14 0h1m1 0h1m3 0h1m5 0h3m2 0h2m1 0h1m1 0h1m4 0h2m4 0h2m6 0h1m2 0h1m3 0h1m1 0h2m4 0h1m3 0h1m2 0h3m1 0h1m4 0h1m1 0h2m3 0h1m2 0h1M61 95h2m9 0h1m1 0h2m4 0h1m2 0h1m1 0h1m2 0h3m3 0h1m1 0h3m5 0h1m32 0h1m6 0h1m11 0h1M73 96h1m4 0h1m1 0h1m1 0h1m5 0h1m6 0h1m1 0h1m9 0h2m10 0h1m9 0h1m1 0h1m3 0h2m6 0h1M43 97h1m10 0h1m7 0h1m6 0h1m4 0h1m3 0h1m2 0h1m3 0h2m5 0h5m2 0h2m9 0h1m9 0h1m2 0h1m2 0h2m2 0h1m3 0h2m7 0h1m1 0h2m1 0h2m2 0h1m1 0h1m3 0h1m7 0h1M72 98h1m2 0h1m5 0h1m1 0h3m1 0h1m1 0h1m7 0h1m1 0h1m1 0h1m10 0h1m7 0h1m1 0h1m5 0h1m3 0h3m1 0h1m1 0h1m2 0h1m1 0h1m1 0h1m19 0h1M50 99h1m2 0h1m4 0h1m4 0h2m8 0h1m7 0h1m1 0h1m4 0h1m2 0h1m1 0h1m3 0h1m2 0h2m3 0h1m1 0h2m4 0h1m6 0h1m5 0h1m1 0h2m5 0h1m4 0h1m1 0h1m1 0h1m3 0h1m1 0h3M48 100h1m10 0h1m3 0h1m9 0h1m9 0h1m1 0h1m2 0h2m1 0h3m6 0h3m18 0h1m12 0h2m3 0h1m1 0h4m1 0h1m2 0h2m2 0h1m4 0h1M78 101h1m6 0h2m1 0h2m4 0h1m2 0h1m3 0h1m1 0h5m5 0h1m1 0h1m3 0h2m2 0h2m1 0h2m2 0h1m9 0h1m2 0h1m4 0h1m10 0h1M64 102h1m1 0h1m2 0h2m3 0h1m7 0h1m3 0h1m4 0h2m1 0h1m1 0h2m1 0h2m5 0h2m1 0h1m2 0h2m8 0h1m2 0h3m3 0h1m5 0h1m1 0h2m6 0h1m3 0h1m1 0h1m3 0h1M75 103h1m9 0h1m3 0h2m3 0h2m3 0h1m1 0h1m5 0h1m2 0h3m11 0h1m5 0h1m5 0h1m6 0h3m2 0h1m4 0h1m4 0h2M62 104h1m10 0h1m11 0h1m5 0h1m1 0h5m1 0h1m1 0h2m2 0h1m6 0h1m4 0h1m2 0h1m1 0h2m2 0h1m2 0h1m4 0h1m1 0h1m1 0h1m3 0h2m1 0h1m2 0h2M45 105h1m13 0h1m11 0h1m8 0h1m4 0h2m5 0h1m4 0h2m3 0h2m5 0h1m2 0h1m3 0h1m4 0h1m5 0h3m3 0h1m1 0h2m2 0h1m1 0h1m6 0h1m2 0h2m2 0h2m3 0h1M56 106h1m9 0h1m11 0h1m2 0h1m2 0h1m3 0h1m5 0h1m1 0h1m2 0h2m3 0h1m11 0h1m5 0h2m3 0h1m2 0h1m3 0h1m2 0h1m2 0h1m4 0h1m1 0h1m6 0h1M56 107h1m18 0h1m3 0h1m1 0h1m1 0h1m2 0h3m5 0h1m3 0h1m1 0h2m4 0h1m1 0h1m1 0h1m1 0h1m5 0h1m1 0h4m4 0h1m1 0h3m1 0h1m2 0h1m6 0h1m1 0h1m11 0h1M37 108h1m37 0h1m5 0h1m2 0h1m7 0h1m1 0h3m5 0h1m4 0h1m2 0h2m6 0h1m1 0h2m3 0h2m6 0h1m1 0h1m1 0h1m2 0h1m1 0h1m1 0h2m1 0h1m1 0h2m1 0h1m9 0h1M63 109h1m14 0h1m9 0h3m2 0h1m1 0h4m4 0h4m7 0h1m2 0h1m1 0h1m4 0h1m2 0h1m5 0h1m1 0h1m4 0h2m4 0h1m2 0h2m20 0h1M50 110h1m20 0h1m9 0h1m2 0h1m5 0h1m3 0h2m3 0h2m3 0h1m3 0h2m2 0h2m1 0h1m2 0h2m1 0h1m3 0h3m3 0h1m4 0h2m3 0h2m2 0h1m19 0h1M61 111h1m13 0h1m14 0h1m6 0h1m1 0h2m4 0h1m2 0h1m4 0h1m3 0h2m3 0h3m1 0h1m4 0h4m1 0h1m2 0h1m1 0h1M64 112h1m2 0h2m3 0h1m11 0h1m6 0h1m1 0h2m2 0h1m3 0h2m1 0h2m2 0h2m2 0h1m2 0h1m1 0h2m2 0h1m5 0h1m4 0h1m3 0h1m3 0h2m23 0h1M50 113h1m22 0h1m1 0h1m7 0h1m1 0h1m3 0h1m3 0h1m2 0h2m2 0h3m1 0h3m1 0h1m1 0h1m1 0h1m17 0h1m3 0h3m6 0h1m1 0h1m1 0h1m19 0h1M64 114h1m5 0h1m2 0h1m5 0h3m1 0h1m7 0h1m4 0h1m1 0h1m1 0h3m4 0h1m2 0h1m2 0h2m7 0h2m3 0h1m2 0h2m1 0h1m1 0h2m1 0h6m1 0h2m2 0h1m2 0h1m11 0h1M49 115h1m23 0h1m3 0h1m5 0h1m4 0h1m4 0h1m3 0h1m1 0h1m2 0h1m3 0h2m2 0h1m3 0h2m1 0h1m2 0h3m2 0h1m2 0h1m3 0h3m8 0h3m1 0h1m1 0h1m2 0h2m10 0h1M42 116h1m6 0h1m1 0h1m9 0h1m3 0h1m11 0h1m11 0h2m1 0h1m1 0h1m4 0h1m5 0h1m2 0h2m2 0h1m6 0h1m3 0h1m5 0h1m1 0h1m1 0h4m2 0h1m3 0h1m4 0h2M48 117h1m12 0h1m3 0h1m13 0h1m1 0h1m4 0h1m3 0h3m4 0h3m5 0h3m1 0h1m3 0h1m1 0h2m8 0h1m3 0h1m1 0h1m3 0h1m14 0h1m1 0h1m2 0h1M51 118h2m9 0h1m6 0h1m9 0h1m5 0h2m2 0h1m2 0h1m6 0h2m5 0h1m6 0h2m1 0h2m3 0h1m5 0h3m1 0h3m2 0h2m2 0h1m3 0h1m9 0h1M41 119h1m15 0h1m2 0h1m4 0h1m11 0h2m2 0h1m1 0h5m4 0h2m1 0h2m1 0h1m1 0h1m5 0h2m1 0h2m3 0h1m3 0h1m5 0h1m15 0h1M32 120h1m5 0h1m19 0h1m2 0h1m5 0h1m7 0h1m2 0h1m1 0h1m9 0h2m3 0h1m2 0h1m3 0h2m4 0h1m1 0h2m2 0h2m3 0h1m1 0h1m2 0h4m12 0h1m1 0h1m3 0h1m1 0h1m2 0h1m4 0h1M50 121h1m5 0h1m2 0h1m4 0h1m1 0h3m11 0h1m6 0h3m2 0h2m2 0h2m2 0h1m6 0h1m1 0h1m1 0h1m4 0h1m2 0h1m3 0h2m2 0h1m5 0h2m1 0h1m11 0h1m3 0h1M28 122h1m20 0h1m1 0h1m9 0h1m1 0h1m6 0h1m1 0h1m4 0h1m3 0h2m4 0h1m5 0h1m5 0h5m3 0h1m3 0h1m2 0h2m3 0h1m4 0h1m1 0h2m4 0h2m1 0h2m1 0h6m11 0h1M37 123h1m8 0h1m6 0h2m16 0h2m1 0h3m2 0h2m3 0h1m11 0h1m7 0h1m3 0h1m1 0h2m13 0h1m9 0h3m2 0h2m1 0h1m6 0h1M48 124h1m5 0h1m13 0h1m3 0h1m15 0h1m4 0h2m5 0h1m3 0h1m6 0h1m8 0h2m5 0h1m1 0h1m1 0h1m4 0h1m3 0h2m1 0h1m10 0h1M36 125h1m6 0h1m5 0h1m4 0h1m3 0h1m2 0h1m12 0h2m1 0h2m2 0h1m1 0h1m6 0h2m3 0h2m1 0h1m2 0h1m6 0h2m2 0h4m8 0h1m2 0h1m2 0h1m2 0h1m3 0h1m2 0h3m11 0h1M39 126h2m9 0h1m13 0h1m19 0h1m3 0h1m2 0h1m3 0h1m4 0h1m4 0h1m1 0h1m1 0h1m5 0h2m1 0h1m1 0h1m16 0h1m9 0h1m12 0h1M33 127h1m14 0h1m3 0h1m4 0h1m1 0h2m2 0h1m2 0h1m2 0h1m2 0h1m4 0h2m9 0h1m1 0h1m6 0h6m1 0h1m1 0h2m1 0h1m9 0h1m4 0h1m1 0h2m1 0h1m1 0h1m2 0h1m1 0h3m3 0h1m2 0h1m1 0h1m4 0h1m7 0h1M37 128h1m8 0h1m8 0h1m4 0h1m4 0h1m6 0h1m5 0h1m4 0h1m5 0h1m2 0h3m3 0h1m1 0h1m2 0h1m3 0h1m5 0h1m6 0h2m4 0h2m3 0h1m1 0h1m3 0h1m7 0h1m7 0h1M53 129h1m6 0h1m1 0h1m1 0h1m4 0h4m10 0h1m1 0h1m1 0h1m7 0h1m3 0h2m1 0h1m2 0h2m5 0h2m1 0h1m6 0h4m2 0h1m3 0h2m2 0h1m3 0h1m1 0h1m2 0h1m4 0h1m2 0h1m1 0h1M45 130h1m1 0h1m1 0h2m1 0h1m3 0h1m2 0h1m5 0h1m5 0h1m8 0h2m8 0h1m1 0h2m1 0h1m1 0h4m1 0h1m1 0h1m1 0h3m2 0h1m1 0h1m4 0h1m4 0h1m1 0h1m2 0h3m5 0h2m3 0h1m14 0h1M43 131h1m8 0h1m1 0h2m3 0h2m17 0h1m3 0h2m12 0h1m2 0h1m4 0h1m1 0h3m1 0h4m7 0h2m7 0h2m3 0h1m7 0h1m2 0h1M52 132h3m6 0h2m2 0h1m1 0h1m1 0h1m2 0h1m3 0h1m4 0h1m2 0h2m7 0h1m1 0h4m3 0h1m2 0h2m2 0h2m2 0h3m6 0h1m2 0h2m3 0h1m2 0h1m4 0h1m12 0h1M32 133h1m20 0h1m1 0h1m1 0h4m2 0h1m1 0h1m2 0h1m1 0h1m1 0h3m5 0h1m12 0h1m1 0h2m3 0h2m2 0h2m5 0h1m4 0h2m1 0h1m6 0h1m1 0h1m1 0h1m4 0h3m3 0h1m6 0h1m4 0h1M28 134h1m3 0h1m3 0h1m6 0h1m5 0h2m2 0h1m6 0h3m2 0h1m5 0h1m6 0h1m9 0h1m1 0h1m4 0h1m2 0h3m2 0h2m3 0h1m6 0h1m3 0h1m2 0h1m4 0h3m2 0h2m1 0h1m4 0h2m1 0h1m3 0h1M27 135h1m10 0h1m7 0h1m3 0h1m2 0h1m2 0h1m1 0h1m2 0h1m4 0h1m3 0h2m10 0h1m3 0h1m3 0h3m2 0h1m1 0h1m6 0h1m2 0h1m1 0h1m2 0h1m1 0h3m4 0h2m1 0h1m4 0h1m1 0h1m2 0h2m8 0h1M43 136h1m5 0h2m1 0h1m7 0h1m2 0h1m2 0h1m14 0h1m5 0h2m8 0h1m1 0h1m2 0h2m2 0h2m2 0h3m6 0h3m2 0h1m1 0h2m3 0h2m4 0h1m5 0h1m2 0h1M18 137h1m22 0h1m1 0h1m3 0h1m1 0h1m1 0h1m14 0h1m2 0h1m1 0h2m10 0h1m3 0h1m8 0h1m7 0h1m1 0h1m1 0h1m9 0h3m3 0h3m2 0h1m1 0h2m3 0h1m7 0h1m11 0h1M25 138h2m3 0h1m2 0h1m9 0h1m2 0h2m1 0h1m3 0h2m3 0h1m1 0h1m1 0h2m6 0h4m1 0h1m4 0h1m6 0h1m3 0h1m1 0h1m1 0h1m6 0h1m4 0h1m3 0h1m2 0h1m2 0h1m3 0h1m1 0h1m1 0h4m1 0h1m2 0h1m2 0h1m9 0h1m2 0h1M41 139h1m1 0h1m1 0h1m1 0h1m2 0h3m8 0h1m10 0h1m1 0h2m19 0h1m2 0h2m1 0h1m1 0h1m3 0h1m1 0h1m1 0h4m2 0h1m4 0h3m1 0h2m1 0h1m4 0h1m1 0h1m13 0h1M35 140h1m1 0h1m6 0h1m1 0h1m6 0h1m2 0h2m20 0h1m8 0h1m9 0h1m1 0h1m6 0h1m6 0h1m2 0h1m5 0h2m3 0h1m1 0h2m4 0h1m3 0h1m6 0h1m2 0h1M24 141h1m4 0h1m4 0h1m11 0h1m7 0h2m2 0h3m1 0h1m2 0h1m1 0h1m15 0h1m5 0h1m3 0h1m5 0h3m3 0h1m3 0h2m6 0h1m3 0h4m4 0h2m1 0h1m2 0h1m2 0h1m3 0h1m4 0h1M21 142h1m4 0h1m8 0h1m3 0h1m3 0h1m7 0h1m2 0h1m3 0h1m2 0h3m5 0h1m3 0h1m4 0h1m7 0h1m1 0h1m3 0h3m1 0h1m3 0h1m1 0h1m5 0h1m2 0h3m2 0h2m1 0h1m4 0h1m4 0h1m5 0h1m5 0h2m5 0h1m1 0h1m2 0h1m7 0h1M26 143h1m11 0h1m2 0h1m6 0h1m8 0h1m5 0h1m11 0h1m3 0h2m4 0h1m2 0h3m2 0h1m4 0h1m2 0h1m2 0h1m1 0h2m2 0h1m2 0h5m3 0h1m5 0h1m1 0h1m1 0h1m8 0h1m2 0h1m2 0h1M17 144h1m8 0h1m3 0h1m1 0h1m1 0h1m1 0h1m10 0h1m5 0h1m11 0h1m15 0h1m12 0h1m4 0h1m1 0h1m2 0h2m6 0h1m2 0h1m1 0h1m4 0h1m2 0h2m1 0h1m3 0h1m1 0h2m3 0h1m15 0h1M23 145h1m20 0h1m4 0h2m6 0h1m3 0h1m4 0h1m2 0h1m1 0h1m4 0h2m13 0h1m3 0h1m1 0h1m2 0h2m2 0h1m2 0h1m2 0h1m1 0h1m4 0h1m1 0h1m1 0h1m1 0h2m1 0h1m1 0h2m1 0h1m9 0h1m3 0h1m2 0h1M42 146h1m1 0h1m3 0h3m9 0h1m3 0h1m1 0h1m1 0h1m3 0h1m2 0h1m5 0h1m3 0h1m3 0h1m3 0h1m4 0h1m3 0h1m5 0h2m1 0h1m1 0h2m1 0h1m1 0h4m4 0h4m1 0h5m1 0h1m8 0h1M12 147h1m3 0h1m23 0h1m1 0h1m1 0h1m10 0h1m2 0h1m2 0h2m4 0h1m1 0h1m1 0h1m3 0h1m1 0h2m7 0h1m1 0h1m10 0h1m2 0h1m2 0h1m2 0h1m2 0h1m1 0h1m2 0h1m1 0h2m1 0h1m1 0h1m4 0h1m1 0h1m1 0h2m2 0h1m2 0h1M36 148h2m4 0h1m4 0h1m10 0h1m7 0h1m4 0h1m2 0h1m9 0h1m3 0h1m4 0h2m6 0h1m1 0h3m3 0h1m1 0h1m1 0h1m1 0h1m4 0h1m1 0h1m1 0h5m4 0h1m1 0h2m23 0h1M37 149h1m8 0h1m1 0h1m1 0h2m4 0h1m12 0h2m2 0h1m5 0h1m1 0h2m7 0h1m1 0h2m1 0h1m1 0h1m6 0h1m7 0h4m5 0h1m1 0h2m1 0h2m1 0h2m3 0h1m7 0h1m5 0h1M16 150h1m3 0h1m10 0h1m11 0h1m2 0h5m9 0h2m1 0h1m8 0h1m18 0h1m4 0h1m2 0h2m1 0h2m4 0h1m2 0h1m6 0h2m1 0h1m4 0h1m1 0h1m6 0h1M30 151h2m8 0h1m6 0h1m1 0h2m1 0h2m3 0h1m5 0h1m3 0h2m22 0h1m7 0h2m3 0h1m3 0h1m1 0h2m2 0h1m6 0h1m1 0h2m2 0h1m2 0h1m1 0h1m4 0h1m4 0h1M29 152h1m2 0h1m5 0h2m2 0h1m5 0h1m14 0h1m22 0h1m6 0h1m6 0h1m5 0h2m1 0h1m5 0h1m3 0h1m2 0h1m3 0h1m11 0h2m1 0h1M26 153h1m21 0h1m2 0h2m3 0h1m5 0h1m2 0h2m1 0h1m1 0h1m3 0h1m2 0h1m8 0h1m7 0h1m9 0h1m1 0h1m1 0h1m1 0h1m1 0h1m2 0h1m6 0h2m1 0h1m3 0h3m11 0h1M37 154h1m3 0h2m1 0h1m12 0h1m2 0h1m5 0h1m18 0h1m5 0h1m4 0h1m5 0h1m2 0h1m1 0h1m2 0h2m3 0h1m2 0h1m3 0h1m3 0h1m5 0h1m2 0h1m13 0h1M5 155h1m32 0h1m1 0h1m1 0h1m3 0h1m3 0h1m7 0h1m8 0h2m2 0h1m4 0h1m6 0h1m9 0h1m3 0h1m4 0h2m4 0h1m3 0h1m9 0h1m1 0h1m3 0h1m1 0h1m3 0h1M17 156h1m2 0h1m7 0h1m1 0h2m1 0h2m3 0h1m5 0h1m2 0h1m1 0h4m11 0h1m1 0h1m8 0h1m5 0h1m18 0h1m2 0h1m1 0h4m7 0h1m1 0h2m4 0h1m3 0h1m17 0h1M23 157h1m5 0h1m5 0h1m1 0h1m7 0h1m2 0h1m4 0h2m4 0h1m1 0h1m7 0h1m27 0h1m3 0h1m1 0h1m1 0h1m9 0h1m1 0h1m6 0h1m1 0h1m9 0h1m5 0h1M24 158h1m13 0h1m1 0h1m10 0h1m16 0h1m1 0h1m10 0h1m7 0h2m8 0h1m1 0h1m2 0h2m3 0h1m2 0h1m2 0h1m3 0h1m2 0h1m17 0h1M26 159h1m8 0h1m6 0h1m1 0h2m3 0h2m10 0h1m1 0h2m12 0h1m7 0h1m6 0h1m1 0h1m6 0h1m1 0h1m2 0h2m5 0h1m1 0h1m3 0h1m26 0h1M28 160h1m10 0h1m1 0h1m3 0h1m2 0h2m15 0h1m24 0h1m4 0h1m9 0h1m5 0h1m1 0h2m3 0h1m3 0h1m6 0h1m12 0h1M22 161h2m26 0h1m3 0h1m10 0h2m15 0h1m16 0h1m3 0h1m12 0h1m1 0h2m2 0h1m4 0h1m6 0h1m2 0h1M43 162h1m4 0h1m47 0h2m2 0h2m3 0h1m7 0h2m9 0h2m14 0h1M14 163h1m14 0h1m8 0h2m9 0h1m6 0h1m4 0h1m7 0h1m26 0h1m4 0h1m19 0h1m11 0h1m4 0h1M17 164h1m8 0h1m18 0h1m50 0h1m3 0h1m4 0h1m1 0h2m3 0h1m1 0h1m6 0h1m4 0h1M39 165h1m2 0h1m2 0h1m1 0h1m1 0h1m1 0h2m2 0h1m7 0h1m3 0h2m11 0h1m18 0h1m1 0h1m7 0h1m4 0h1m5 0h1m1 0h1m1 0h1m1 0h1m7 0h1m7 0h1M4 166h1m20 0h1m9 0h1m3 0h1m2 0h1m5 0h2m4 0h1m2 0h1m1 0h1m6 0h1m28 0h2m5 0h1m1 0h2m16 0h1m7 0h1m2 0h1M23 167h1m1 0h1m11 0h1m7 0h1m4 0h1m2 0h1m5 0h2m20 0h1m2 0h1m9 0h1m18 0h1m1 0h1m3 0h1m1 0h1m3 0h2m3 0h1m11 0h1M19 168h2m3 0h1m3 0h1m2 0h1m12 0h2m39 0h1m13 0h2m2 0h1m8 0h1m1 0h1m9 0h2M53 169h1m4 0h2m6 0h2m26 0h1m4 0h1m1 0h1M29 170h1m2 0h1m20 0h1m1 0h1m4 0h1m53 0h1m1 0h1m8 0h1M42 171h1m3 0h1m1 0h1m14 0h1m31 0h1m27 0h1m2 0h1m14 0h1M38 172h1m2 0h1m7 0h1m38 0h1m9 0h1m9 0h1m8 0h1m14 0h1m2 0h1M32 173h1m17 0h1m36 0h1m11 0h1m13 0h1m6 0h1m13 0h1M15 174h1m20 0h2m21 0h1m26 0h1m17 0h2M34 175h1m11 0h1m9 0h1" stroke-opacity=".42"/><path d="M130 24h1M149 28h1M136 29h1m20 0h1M125 30h1m21 0h1M131 31h1M134 32h1m1 0h1m6 0h1M121 33h1m6 0h2m11 0h1M129 34h1m8 0h1M117 35h1m10 0h1m5 0h1m4 0h2m1 0h1m12 0h1M116 36h1m3 0h1m8 0h1m3 0h2m10 0h1m5 0h1m1 0h1m17 0h1M117 37h1m6 0h1m6 0h1m1 0h1m2 0h1m1 0h1m1 0h1m1 0h3M116 38h1m3 0h1m3 0h1m1 0h5m1 0h1m2 0h1m1 0h1m3 0h1m5 0h1M118 39h1m12 0h1m3 0h1m2 0h2m1 0h1m2 0h1m5 0h2m3 0h1M103 40h1m16 0h1m8 0h2m5 0h1m2 0h1m2 0h1M122 41h2m2 0h1m3 0h2m2 0h1m3 0h2m5 0h1M112 42h1m2 0h2m4 0h1m1 0h2m2 0h1m1 0h2m6 0h1m1 0h1m3 0h1m1 0h1M120 43h1m5 0h1m4 0h2m3 0h1m8 0h1m6 0h1M114 44h1m1 0h1m1 0h1m1 0h1m8 0h1m5 0h1m1 0h1m1 0h1m1 0h3m5 0h1m12 0h1M108 45h1m3 0h1m4 0h1m1 0h1m1 0h1m10 0h1m2 0h1m2 0h1m1 0h1m7 0h1m4 0h2M113 46h4m2 0h1m8 0h1m8 0h1m4 0h1m3 0h2m2 0h1m4 0h1M109 47h1m7 0h3m2 0h1m3 0h1m3 0h1m6 0h1m1 0h1m2 0h1m5 0h2m1 0h1m3 0h1M111 48h2m10 0h1m5 0h2m12 0h2m6 0h1m2 0h1M110 49h1m28 0h1m1 0h1m2 0h4m1 0h1m4 0h1m3 0h1m3 0h2M112 50h1m9 0h1m9 0h1m1 0h1m9 0h3m15 0h1M102 51h1m5 0h1m5 0h2m1 0h1m22 0h2m4 0h2m3 0h1m2 0h1m2 0h1M95 52h1m15 0h1m1 0h1m1 0h1m1 0h1m2 0h1m19 0h1m2 0h1m2 0h2m12 0h1M108 53h1m7 0h1m1 0h1m9 0h1m1 0h1m10 0h1m3 0h2m8 0h1M100 54h1m3 0h3m11 0h1m14 0h1m12 0h1m2 0h2m3 0h1M113 55h1m1 0h1m8 0h1m20 0h2m1 0h1m14 0h1M99 56h1m3 0h1m4 0h1m1 0h1m4 0h1m16 0h1m4 0h1m3 0h1m10 0h1M102 57h1m1 0h1m3 0h1m18 0h1m13 0h1m4 0h2m8 0h1M76 58h1m24 0h2m2 0h1m6 0h1m6 0h1m24 0h1m3 0h1m1 0h1m5 0h1m1 0h2M86 59h1m13 0h2m5 0h1m14 0h1m21 0h1m2 0h1M108 60h1m20 0h1m8 0h2m6 0h1m4 0h1m8 0h1M61 61h1m45 0h2m2 0h1m38 0h1m3 0h2m2 0h1M101 62h1m7 0h1m9 0h1m17 0h1m11 0h1M91 63h1m4 0h1m3 0h2m19 0h1m10 0h1m11 0h1m1 0h2m3 0h1m4 0h1M93 64h1m5 0h1m6 0h1m1 0h1m6 0h1m10 0h1m21 0h1m2 0h1M141 65h1m5 0h1m6 0h1M85 66h1m20 0h1m32 0h1m1 0h1m2 0h1m3 0h1M101 67h2m4 0h1m1 0h1m3 0h1m30 0h1m1 0h2m1 0h2m3 0h1M106 68h1m3 0h3m11 0h1m14 0h1m3 0h2m2 0h1m3 0h1m14 0h1M96 69h1m2 0h1m3 0h2m3 0h1m20 0h1m11 0h2m1 0h1m3 0h1m1 0h1m6 0h1M93 70h1m1 0h1m2 0h1m1 0h1m5 0h1m1 0h2m7 0h1m22 0h1m3 0h1m1 0h1m8 0h1M93 71h1m8 0h1m13 0h1m16 0h1m6 0h1m3 0h1m5 0h1m1 0h1m1 0h1m1 0h1M107 72h2m1 0h1m29 0h2m1 0h1m2 0h3m5 0h1M97 73h1m2 0h1m3 0h1m4 0h1m1 0h2m31 0h1m3 0h1m4 0h1m10 0h1M60 74h1m30 0h1m1 0h1m4 0h2m41 0h1m3 0h1m2 0h1M93 75h1m4 0h1m1 0h1m2 0h3m14 0h1m17 0h1m1 0h2m3 0h1m1 0h3m13 0h1M89 76h1m8 0h1m6 0h1m1 0h1m1 0h1m1 0h1m23 0h1m3 0h1m5 0h1m9 0h2M89 77h1m9 0h1m1 0h3m1 0h1m6 0h1m22 0h2m3 0h3m3 0h1m4 0h1M80 78h1m7 0h1m1 0h2m6 0h1m2 0h2m2 0h1m30 0h1m4 0h1m6 0h1M99 79h2m4 0h2m9 0h1m14 0h1m3 0h1m1 0h1m2 0h1m1 0h1m3 0h1m3 0h1m7 0h1m1 0h1M59 80h1m11 0h1m4 0h1m13 0h2m9 0h1m2 0h1m3 0h1m13 0h1m2 0h1m11 0h1m4 0h1m5 0h1m5 0h1M79 81h1m6 0h1m10 0h1m15 0h1m2 0h1m6 0h1m11 0h1m4 0h1m1 0h2m3 0h1m2 0h1m1 0h1M99 82h1m2 0h1m2 0h1m1 0h1m14 0h1m4 0h2m3 0h1m6 0h1M90 83h1m12 0h3m5 0h1m6 0h1m6 0h1m16 0h1M89 84h1m9 0h1m4 0h1m18 0h1m8 0h1m3 0h1m3 0h1m15 0h1M74 85h1m20 0h3m3 0h2m7 0h1m25 0h2m4 0h2m1 0h1m1 0h1m3 0h2M79 86h1m4 0h1m1 0h1m9 0h2m4 0h2m1 0h1m6 0h1m20 0h1m1 0h1m1 0h5m2 0h1M88 87h1m3 0h1m1 0h3m4 0h1m4 0h1m1 0h1m22 0h1m8 0h2m1 0h1M81 88h1m29 0h2m14 0h1m5 0h1m2 0h1m11 0h1M73 89h1m5 0h1m7 0h1m9 0h1m3 0h2m2 0h1m9 0h1m15 0h1m6 0h1M82 90h1m6 0h1m1 0h1m1 0h1m3 0h1m3 0h1m3 0h1m4 0h1m1 0h1m2 0h1m4 0h1m3 0h2m3 0h2m6 0h2m13 0h1M88 91h2m7 0h1m3 0h1m2 0h1m15 0h1m3 0h1m7 0h1m3 0h2m3 0h2m4 0h1M78 92h1m5 0h1m14 0h1m3 0h1m1 0h2m2 0h2m2 0h1m1 0h1m2 0h1m2 0h2m6 0h1m1 0h4m1 0h2m1 0h1m1 0h2M73 93h1m1 0h1m17 0h1m2 0h1m16 0h1m3 0h1m8 0h1m4 0h1m1 0h1m8 0h1M101 94h1m3 0h1m12 0h1m8 0h2m3 0h2m3 0h1m8 0h1M79 95h1m7 0h1m4 0h2m6 0h3m3 0h1m3 0h2m2 0h2m1 0h1m3 0h2m2 0h2m1 0h2m3 0h1m2 0h1m1 0h1m1 0h1m2 0h1M76 96h1m4 0h1m1 0h2m8 0h2m4 0h1m5 0h1m6 0h1m4 0h1m3 0h1m4 0h2m9 0h3m2 0h1M79 97h1m17 0h1m3 0h1m1 0h1m4 0h1m8 0h2m2 0h1m3 0h1m3 0h1m6 0h2m6 0h1M79 98h1m14 0h1m1 0h1m3 0h1m5 0h1m2 0h2m3 0h3m4 0h1m1 0h3m3 0h2m4 0h1m6 0h1M90 99h1m1 0h1m6 0h1m3 0h1m2 0h1m3 0h3m8 0h3m8 0h1m1 0h1m2 0h1m3 0h1m5 0h1M80 100h1m1 0h1m1 0h1m18 0h1m5 0h3m10 0h1m3 0h1m1 0h3m1 0h2m2 0h1M75 101h1m6 0h1m4 0h1m10 0h1m1 0h1m1 0h1m6 0h4m1 0h1m2 0h1m3 0h1m6 0h2m2 0h2m1 0h2m1 0h1m7 0h1M76 102h1m13 0h1m4 0h1m2 0h1m2 0h1m8 0h1m4 0h1m5 0h1m7 0h2m1 0h1m1 0h2m2 0h1m11 0h1M83 103h1m2 0h2m4 0h1m4 0h2m1 0h1m1 0h1m2 0h2m7 0h1m2 0h1m5 0h1m4 0h2m1 0h2m2 0h1m5 0h1M61 104h1m16 0h1m11 0h1m7 0h1m1 0h1m5 0h1m2 0h2m2 0h1m5 0h1m8 0h1m2 0h1m5 0h1m1 0h1M77 105h1m1 0h1m25 0h1m4 0h2m2 0h2m2 0h1m1 0h1m1 0h3m6 0h1m2 0h1m3 0h1m6 0h1M90 106h1m11 0h1m2 0h2m3 0h2m2 0h2m9 0h2m2 0h1m3 0h1m2 0h1m1 0h1m7 0h1M80 107h1m10 0h1m7 0h1m3 0h2m8 0h1m3 0h1m7 0h2m12 0h2m4 0h1M77 108h1m8 0h1m21 0h1m3 0h1m1 0h2m3 0h1m4 0h1m2 0h2m1 0h1M86 109h1m4 0h2m7 0h3m6 0h1m2 0h1m5 0h1m6 0h2m4 0h1m2 0h1m1 0h1M92 110h2m4 0h1m2 0h3m3 0h1m2 0h1m5 0h2m2 0h1m2 0h2m5 0h1m1 0h1m1 0h1m3 0h2m4 0h1M88 111h1m9 0h1m2 0h1m1 0h1m5 0h1m1 0h1m2 0h1m1 0h1m2 0h1m18 0h1m10 0h1M74 112h1m12 0h1m7 0h1m4 0h1m5 0h1m3 0h2m1 0h1m5 0h2m2 0h2m3 0h1m2 0h1m16 0h1M66 113h1m20 0h1m2 0h1m3 0h1m12 0h1m1 0h1m1 0h1m1 0h1m1 0h1m1 0h1m2 0h3m1 0h2m2 0h1m3 0h2m10 0h1M76 114h1m5 0h1m3 0h1m2 0h1m5 0h1m7 0h1m1 0h1m2 0h2m2 0h1m6 0h3m3 0h1m2 0h2m2 0h1M84 115h1m10 0h1m4 0h2m1 0h1m1 0h1m6 0h1m6 0h1m4 0h1m4 0h3m5 0h2M85 116h1m16 0h2m2 0h2m7 0h1m1 0h2m1 0h2m2 0h1m7 0h1m4 0h2m2 0h1M96 117h1m6 0h2m17 0h1m1 0h1m3 0h1M94 118h1m1 0h1m1 0h1m3 0h1m2 0h1m1 0h1m1 0h1m2 0h1m12 0h1M94 119h1m4 0h1m5 0h1m5 0h1m3 0h3m4 0h1m3 0h1m1 0h1m2 0h1m2 0h1m2 0h1m1 0h1m2 0h1M79 120h1m8 0h1m4 0h2m10 0h3m4 0h2m4 0h1m4 0h1m4 0h1m1 0h1m8 0h1M91 121h1m9 0h1m8 0h1m4 0h1m6 0h1m7 0h2m6 0h1m6 0h1M66 122h1m38 0h1m10 0h3m4 0h1m6 0h2m5 0h1M64 123h1m4 0h1m18 0h1m2 0h1m7 0h2m5 0h1m5 0h4m4 0h1m10 0h4M66 124h1m24 0h1m3 0h2m9 0h2m7 0h2m1 0h1m6 0h1m6 0h1m1 0h2m1 0h1M48 125h1m13 0h1m21 0h1m1 0h1m17 0h1m1 0h2m8 0h5m1 0h2m1 0h2m1 0h1m2 0h1m6 0h1m9 0h1M65 126h1m23 0h1m4 0h1m3 0h1m12 0h1m1 0h1m3 0h1m1 0h1m1 0h2m4 0h2m4 0h1m1 0h1M103 127h1m4 0h1m1 0h2m2 0h3m1 0h1m4 0h1m1 0h1m4 0h1m4 0h1M71 128h1m16 0h1m10 0h1m4 0h1m1 0h1m4 0h2m16 0h1m2 0h1M89 129h1m19 0h2m5 0h1m1 0h3m6 0h1m3 0h1M51 130h1m22 0h1m9 0h1m24 0h1m5 0h1m3 0h1m1 0h2m3 0h2m15 0h1M41 131h1m8 0h1m33 0h1m8 0h1m11 0h1m10 0h3m1 0h1m3 0h3m11 0h2M74 132h1m26 0h1m5 0h2m8 0h2m2 0h1m1 0h1m7 0h1m2 0h1m2 0h1M83 133h1m14 0h1m4 0h1m2 0h1m7 0h1m8 0h1m7 0h1m1 0h2m12 0h1M68 134h1m8 0h1m15 0h1m7 0h1m10 0h1m4 0h1m2 0h1m2 0h2m5 0h1m3 0h1m1 0h2M42 135h1m56 0h1m8 0h1m1 0h2m1 0h1m3 0h2m8 0h1m5 0h1m2 0h2M101 136h1m14 0h1m6 0h1M52 137h1m58 0h2m2 0h3m10 0h1m11 0h1M98 138h1m7 0h1m2 0h1m2 0h1m11 0h1m9 0h1M54 139h2M98 140h1m26 0h1m2 0h1m2 0h1m8 0h1M85 141h1m16 0h1m1 0h1m3 0h1m6 0h1m9 0h1m5 0h1m2 0h1m6 0h1M37 142h1m6 0h1m10 0h1m29 0h1m20 0h2m23 0h1M65 143h1m53 0h1m4 0h2m6 0h1M35 144h1m15 0h1m25 0h1m28 0h1m11 0h1m4 0h1m7 0h1m13 0h1M39 145h1m28 0h1m37 0h1m8 0h1m9 0h1M73 146h1m49 0h1m1 0h1M49 147h1m39 0h1m11 0h1m5 0h1m6 0h1m10 0h1m3 0h1M50 148h1m2 0h1m13 0h1m19 0h1m18 0h2m4 0h1m3 0h1m4 0h1M55 149h1m11 0h1m30 0h1m8 0h1m2 0h2m6 0h1m6 0h1M109 150h1m3 0h1m22 0h1M33 151h1m25 0h1m16 0h1m25 0h2m1 0h2m18 0h1M52 152h1m57 0h1m2 0h1m10 0h1M37 153h1m5 0h2m66 0h1M49 154h1m4 0h1m48 0h1m19 0h1m16 0h1M98 155h1m6 0h1M41 156h1m59 0h1m11 0h1m12 0h1M85 157h1m16 0h1M108 158h1m4 0h1m16 0h1M51 159h1m59 0h1m4 0h1M99 160h1M49 161h1M30 162h1M53 163h1M51 164h1m75 0h1M117 165h1M33 167h1M106 170h1M46 173h1" stroke-opacity=".72"/><path d="M140 30h1M130 33h1m3 0h1m3 0h1M111 34h1m20 0h2m7 0h1M133 35h1m2 0h1M131 36h1m4 0h1m1 0h1m11 0h1M127 37h1m1 0h1m4 0h2m9 0h1M133 38h1M122 39h2m9 0h1m3 0h1M113 40h1m11 0h3m4 0h1M124 41h1m2 0h1m1 0h1m3 0h1m1 0h1m5 0h1m1 0h1M117 42h1m10 0h1m2 0h3m1 0h1m4 0h1m1 0h1m1 0h1M118 43h1m2 0h1m5 0h4m2 0h2m2 0h1m1 0h1m6 0h3M112 44h1m6 0h1m3 0h3m1 0h2m1 0h2m1 0h2m1 0h1m1 0h1m6 0h1m5 0h1M123 45h1m1 0h5m3 0h1m2 0h1m2 0h1m1 0h2m6 0h1M110 46h1m7 0h1m1 0h1m2 0h4m2 0h1m1 0h1m1 0h3m3 0h2m2 0h1m1 0h1M120 47h2m1 0h3m1 0h2m2 0h1m1 0h3m2 0h1m1 0h2m1 0h3M110 48h1m5 0h6m2 0h5m2 0h8m1 0h3M106 49h1m7 0h2m3 0h2m1 0h4m1 0h12m1 0h1m2 0h1M110 50h1m4 0h1m1 0h5m3 0h1m2 0h4m3 0h9m6 0h1m5 0h1M103 51h1m7 0h1m1 0h1m2 0h1m2 0h16m2 0h3m2 0h4M107 52h1m8 0h1m1 0h2m1 0h19m1 0h2m1 0h2M111 53h4m2 0h1m1 0h9m1 0h1m1 0h10m1 0h3m4 0h2m9 0h1M112 54h3m1 0h2m1 0h1m1 0h12m1 0h5m1 0h4m3 0h1m7 0h1M103 55h1m5 0h1m4 0h1m2 0h1m1 0h5m1 0h17m1 0h1M113 56h2m1 0h16m1 0h4m1 0h2m2 0h5m6 0h1M113 57h5m1 0h8m1 0h13m2 0h1m1 0h1M106 58h1m3 0h1m2 0h6m1 0h20m1 0h2m2 0h3m1 0h1m5 0h1M109 59h1m2 0h1m2 0h7m1 0h21m5 0h1m1 0h2m2 0h1M102 60h1m2 0h2m3 0h4m1 0h14m1 0h8m2 0h3m2 0h1m1 0h1m2 0h1M101 61h1m7 0h2m1 0h32m1 0h2m1 0h1M105 62h1m4 0h9m1 0h17m1 0h8m2 0h1m2 0h1M104 63h4m2 0h11m1 0h10m1 0h9m1 0h1m13 0h1M105 64h1m3 0h6m1 0h10m1 0h11m1 0h2m1 0h3M105 65h1m1 0h1m1 0h1m1 0h1m1 0h28m1 0h2m4 0h1m3 0h1M102 66h3m2 0h1m2 0h3m1 0h2m1 0h22m1 0h1m10 0h1M106 67h1m5 0h1m1 0h27m1 0h1m5 0h1M91 68h1m10 0h1m2 0h1m1 0h3m3 0h11m1 0h14m1 0h3m3 0h1m1 0h1M100 69h1m1 0h1m2 0h2m3 0h3m2 0h14m1 0h10m11 0h1M110 70h7m1 0h21m2 0h2m2 0h1m5 0h1M96 71h1m3 0h2m1 0h2m1 0h4m1 0h5m1 0h16m1 0h6m1 0h2m3 0h1M105 72h1m3 0h1m1 0h29M101 73h1m5 0h2m4 0h1m1 0h26m1 0h1M102 74h1m1 0h1m1 0h1m1 0h3m1 0h28m2 0h1m1 0h1M95 75h1m6 0h1m3 0h14m1 0h17m1 0h1m2 0h2m2 0h1M100 76h1m1 0h2m2 0h1m5 0h23m1 0h3m1 0h2m2 0h1m3 0h1M94 77h1m9 0h1m2 0h4m2 0h3m1 0h18m2 0h1m1 0h1m3 0h1m1 0h1m1 0h1M100 78h1m2 0h1m2 0h5m1 0h21m1 0h2m1 0h3M97 79h1m4 0h2m3 0h4m1 0h4m1 0h14m1 0h3m1 0h1m1 0h2m1 0h1m1 0h1m1 0h1M99 80h1m2 0h1m3 0h1m2 0h13m1 0h2m1 0h1m1 0h8m3 0h3m4 0h1M92 81h2m5 0h2m1 0h3m1 0h5m1 0h1m1 0h2m1 0h6m1 0h9m1 0h1m1 0h1m7 0h1m1 0h1M91 82h1m4 0h1m3 0h1m2 0h2m4 0h1m1 0h8m1 0h2m1 0h4m2 0h3m1 0h4m6 0h1m1 0h2m7 0h1M87 83h1m5 0h2m2 0h1m2 0h1m1 0h1m3 0h5m1 0h6m1 0h6m1 0h7m3 0h3m2 0h1m6 0h1M87 84h1m12 0h1m2 0h1m1 0h1m1 0h1m1 0h4m1 0h9m1 0h1m2 0h5m1 0h1m1 0h1m2 0h1m2 0h1M93 85h1m10 0h1m3 0h2m1 0h25m2 0h1m20 0h1M104 86h1m1 0h1m1 0h1m1 0h1m2 0h20m9 0h1M105 87h1m3 0h7m1 0h14m1 0h4m6 0h1m1 0h1M101 88h4m1 0h2m1 0h1m4 0h2m1 0h10m1 0h2m2 0h1m5 0h1m3 0h1M90 89h1m8 0h2m3 0h1m3 0h1m1 0h5m1 0h12m1 0h1m2 0h2m1 0h1m1 0h1m1 0h1M94 90h1m8 0h2m3 0h1m2 0h1m1 0h2m1 0h2m1 0h1m1 0h2m5 0h1m2 0h1m3 0h2m8 0h1m5 0h1M91 91h1m4 0h1m9 0h5m2 0h1m1 0h3m1 0h1m1 0h3m1 0h1m2 0h1m1 0h1m2 0h1m1 0h1m3 0h1m3 0h1M90 92h1m10 0h1m2 0h1m3 0h1m2 0h2m1 0h1m1 0h2m1 0h2m3 0h5M97 93h1m2 0h3m1 0h2m1 0h2m2 0h2m1 0h3m1 0h5m1 0h2m2 0h1m1 0h1m1 0h1m2 0h1m2 0h1m1 0h1m8 0h1M84 94h1m9 0h1m1 0h1m1 0h3m5 0h2m2 0h3m1 0h2m1 0h1m2 0h3m1 0h1m5 0h1m3 0h1m1 0h1m6 0h1M103 95h1m1 0h1m1 0h3m2 0h2m2 0h1m1 0h3m2 0h2m2 0h1m3 0h2m2 0h1m3 0h1M98 96h1m2 0h1m1 0h1m5 0h2m3 0h3m1 0h1m1 0h1m1 0h4m2 0h1m5 0h1M90 97h2m6 0h1m5 0h2m1 0h1m1 0h1m1 0h6m5 0h1m1 0h1m3 0h1m2 0h3m4 0h1M92 98h1m9 0h4m2 0h1m4 0h1m3 0h2m7 0h2m3 0h1M86 99h1m7 0h1m7 0h1m1 0h1m4 0h1m4 0h3m2 0h1m4 0h1m2 0h1m2 0h1m5 0h1M90 100h1m4 0h1m3 0h1m7 0h2m3 0h3m1 0h2m1 0h2m2 0h2m6 0h1M95 101h1m20 0h1m1 0h1m3 0h1m2 0h1m5 0h1m2 0h1m4 0h1M103 102h1m7 0h1m2 0h1m2 0h2m1 0h1m3 0h1m3 0h1m4 0h1m11 0h1M104 103h1m3 0h1m4 0h1m2 0h1m1 0h2m1 0h2m2 0h2m13 0h1M115 104h2m1 0h1m6 0h1m4 0h1m19 0h1M93 105h1m1 0h1m8 0h1m1 0h3m4 0h1m5 0h1m6 0h1m3 0h1m1 0h1m9 0h1M97 106h1m9 0h3m3 0h1m3 0h2m1 0h2m2 0h1m3 0h1m3 0h1m6 0h1M97 107h1m9 0h1m1 0h1m1 0h1m2 0h1m1 0h1m2 0h1m4 0h1m2 0h1m1 0h1m5 0h2M99 108h1m4 0h2m3 0h1m3 0h1m2 0h2m5 0h1m8 0h1m1 0h1M107 109h1m5 0h1m1 0h2m3 0h1m2 0h1m4 0h1m1 0h1m1 0h1m5 0h1M83 110h1m1 0h1m10 0h1m9 0h1m4 0h1m2 0h1m13 0h1M102 111h1m3 0h2m2 0h1m4 0h1m11 0h1m1 0h1M103 112h1m3 0h1m6 0h1m1 0h1m5 0h1m7 0h1m2 0h2M91 113h2m10 0h1m12 0h1m1 0h2m6 0h2m3 0h1M92 114h1m18 0h1m3 0h2m1 0h1m5 0h1m1 0h1m7 0h1M76 115h1m15 0h1m15 0h2m3 0h1m9 0h1m3 0h1m7 0h1M110 116h2m2 0h1m7 0h1m2 0h3m2 0h1M100 117h1m7 0h1m3 0h1m1 0h1m2 0h2m1 0h1m2 0h1m2 0h1m5 0h2M101 118h1m2 0h1m6 0h1m7 0h2m2 0h2m1 0h1m3 0h1m3 0h1M101 119h1m10 0h2m5 0h1m1 0h1m3 0h1m3 0h1m5 0h2M99 120h1m16 0h2m15 0h2M98 121h2m4 0h1m3 0h1m3 0h1m1 0h1m2 0h2m1 0h1m5 0h1m2 0h1M98 122h1m9 0h2m3 0h1m7 0h1m3 0h1m8 0h1M101 123h1m3 0h1m3 0h1m7 0h3m2 0h1m3 0h3M110 124h1m1 0h1m4 0h1m1 0h1m2 0h2m14 0h1M103 125h1m28 0h1m2 0h1M110 126h1m1 0h1m10 0h2m1 0h1m12 0h1M117 127h1m4 0h1m5 0h1M109 128h2m3 0h1m1 0h2m1 0h1m10 0h1m4 0h1m6 0h1M103 129h2m2 0h2m8 0h1m3 0h1m4 0h1m16 0h1M116 130h2m2 0h1m12 0h2M92 131h1m16 0h1m4 0h1m8 0h1m4 0h1m11 0h1M111 132h1m23 0h1M109 133h1m11 0h1m2 0h2m3 0h1M80 134h1m21 0h1m8 0h1m2 0h1M101 135h1m1 0h1m15 0h2m4 0h1M104 136h2m3 0h1m7 0h2m3 0h1m2 0h1m4 0h1m7 0h1M122 137h1m4 0h1M97 138h1m3 0h1m11 0h1m2 0h1m2 0h1M53 139h1m46 0h1m3 0h1m11 0h1m4 0h1M109 140h1m11 0h1M112 141h1m3 0h1m16 0h1M115 142h1m21 0h1M103 143h1M109 144h1m6 0h1M114 145h1M59 148h1m40 0h1M117 149h1M115 151h1M121 154h1M122 159h1M106 161h1"/></g>
<rect x="1808.1" y="2271" width="344" height="353.6" fill="none" stroke="#707070" stroke-width="2"/>
<line x1="1984.2" y1="2271" x2="1984.2" y2="2624.6" stroke="#555" stroke-width="1.8"/>
<line x1="1808.1" y1="2472.2" x2="2152.1" y2="2472.2" stroke="#555" stroke-width="1.8"/>
<path d="M1808.1 2624.6v8M1808.1 2624.6h-8M1834.0 2624.6v4.5M1808.1 2598.0h-4.5M1849.1 2624.6v4.5M1808.1 2582.4h-4.5M1859.9 2624.6v4.5M1808.1 2571.4h-4.5M1868.2 2624.6v4.5M1808.1 2562.8h-4.5M1875.0 2624.6v4.5M1808.1 2555.8h-4.5M1880.8 2624.6v4.5M1808.1 2549.9h-4.5M1885.8 2624.6v4.5M1808.1 2544.8h-4.5M1890.2 2624.6v4.5M1808.1 2540.2h-4.5M1894.1 2624.6v8M1808.1 2536.2h-8M1920.0 2624.6v4.5M1808.1 2509.6h-4.5M1935.1 2624.6v4.5M1808.1 2494.0h-4.5M1945.9 2624.6v4.5M1808.1 2483.0h-4.5M1954.2 2624.6v4.5M1808.1 2474.4h-4.5M1961.0 2624.6v4.5M1808.1 2467.4h-4.5M1966.8 2624.6v4.5M1808.1 2461.5h-4.5M1971.8 2624.6v4.5M1808.1 2456.4h-4.5M1976.2 2624.6v4.5M1808.1 2451.8h-4.5M1980.1 2624.6v8M1808.1 2447.8h-8M2006.0 2624.6v4.5M1808.1 2421.2h-4.5M2021.1 2624.6v4.5M1808.1 2405.6h-4.5M2031.9 2624.6v4.5M1808.1 2394.6h-4.5M2040.2 2624.6v4.5M1808.1 2386.0h-4.5M2047.0 2624.6v4.5M1808.1 2379.0h-4.5M2052.8 2624.6v4.5M1808.1 2373.1h-4.5M2057.8 2624.6v4.5M1808.1 2368.0h-4.5M2062.2 2624.6v4.5M1808.1 2363.4h-4.5M2066.1 2624.6v8M1808.1 2359.4h-8M2092.0 2624.6v4.5M1808.1 2332.8h-4.5M2107.1 2624.6v4.5M1808.1 2317.2h-4.5M2117.9 2624.6v4.5M1808.1 2306.2h-4.5M2126.2 2624.6v4.5M1808.1 2297.6h-4.5M2133.0 2624.6v4.5M1808.1 2290.6h-4.5M2138.8 2624.6v4.5M1808.1 2284.7h-4.5M2143.8 2624.6v4.5M1808.1 2279.6h-4.5M2148.2 2624.6v4.5M1808.1 2275.0h-4.5M2152.1 2624.6v8M1808.1 2271.0h-8" stroke="#555" stroke-width="1.6" fill="none"/>
<text x="1810.1" y="2654.6" font-size="15" font-weight="bold" fill="#222" text-anchor="middle">10<tspan font-size="9" dy="-6">0</tspan></text>
<text x="1792.1" y="2625.6" font-size="15" font-weight="bold" fill="#222" text-anchor="middle" transform="rotate(-90 1792.1 2625.6)">10<tspan font-size="9" dy="-6">0</tspan></text>
<text x="1896.1" y="2654.6" font-size="15" font-weight="bold" fill="#222" text-anchor="middle">10<tspan font-size="9" dy="-6">1</tspan></text>
<text x="1792.1" y="2537.2" font-size="15" font-weight="bold" fill="#222" text-anchor="middle" transform="rotate(-90 1792.1 2537.2)">10<tspan font-size="9" dy="-6">1</tspan></text>
<text x="1982.1" y="2654.6" font-size="15" font-weight="bold" fill="#222" text-anchor="middle">10<tspan font-size="9" dy="-6">2</tspan></text>
<text x="1792.1" y="2448.8" font-size="15" font-weight="bold" fill="#222" text-anchor="middle" transform="rotate(-90 1792.1 2448.8)">10<tspan font-size="9" dy="-6">2</tspan></text>
<text x="2068.1" y="2654.6" font-size="15" font-weight="bold" fill="#222" text-anchor="middle">10<tspan font-size="9" dy="-6">3</tspan></text>
<text x="1792.1" y="2360.4" font-size="15" font-weight="bold" fill="#222" text-anchor="middle" transform="rotate(-90 1792.1 2360.4)">10<tspan font-size="9" dy="-6">3</tspan></text>
<text x="2154.1" y="2654.6" font-size="15" font-weight="bold" fill="#222" text-anchor="middle">10<tspan font-size="9" dy="-6">4</tspan></text>
<text x="1792.1" y="2272" font-size="15" font-weight="bold" fill="#222" text-anchor="middle" transform="rotate(-90 1792.1 2272)">10<tspan font-size="9" dy="-6">4</tspan></text>
<g font-size="15.5" font-weight="bold" fill="#1a1a1a" letter-spacing="1.3"><text x="1813.1" y="2292">Q1</text><text x="1813.1" y="2312">0.85%</text><text x="2088.1" y="2292">Q2</text><text x="2088.1" y="2312">76.67%</text><text x="1813.1" y="2596.6">Q4</text><text x="1813.1" y="2617.6">4.39%</text><text x="2088.1" y="2596.6">Q3</text><text x="2088.1" y="2617.6">18.74%</text></g>
<text x="2000.5" y="2248" font-size="26" text-anchor="middle">FGLMC</text>
<path d="M134 1683V2679.5L2172 2676" fill="none" stroke="#000" stroke-width="4.6"/>
<line x1="367.8" y1="1703" x2="2000.8" y2="1701" stroke="#000" stroke-width="4"/>
<line x1="391" y1="2209.5" x2="2000" y2="2206.5" stroke="#000" stroke-width="4"/>
<text x="1184.6" y="1676.7" font-size="34" text-anchor="middle">Laser off</text>
<text x="1195" y="2183.4" font-size="34" text-anchor="middle">Laser on</text>
<text x="110.9" y="2175" font-size="37" text-anchor="middle" font-weight="normal" transform="rotate(-90 110.9 2175)">PI</text>
<text x="1194.4" y="2719" font-size="34" text-anchor="middle">Annexin V-FITC</text>
<text x="19.3" y="1687.3" font-size="36">E</text></svg></body></html>
